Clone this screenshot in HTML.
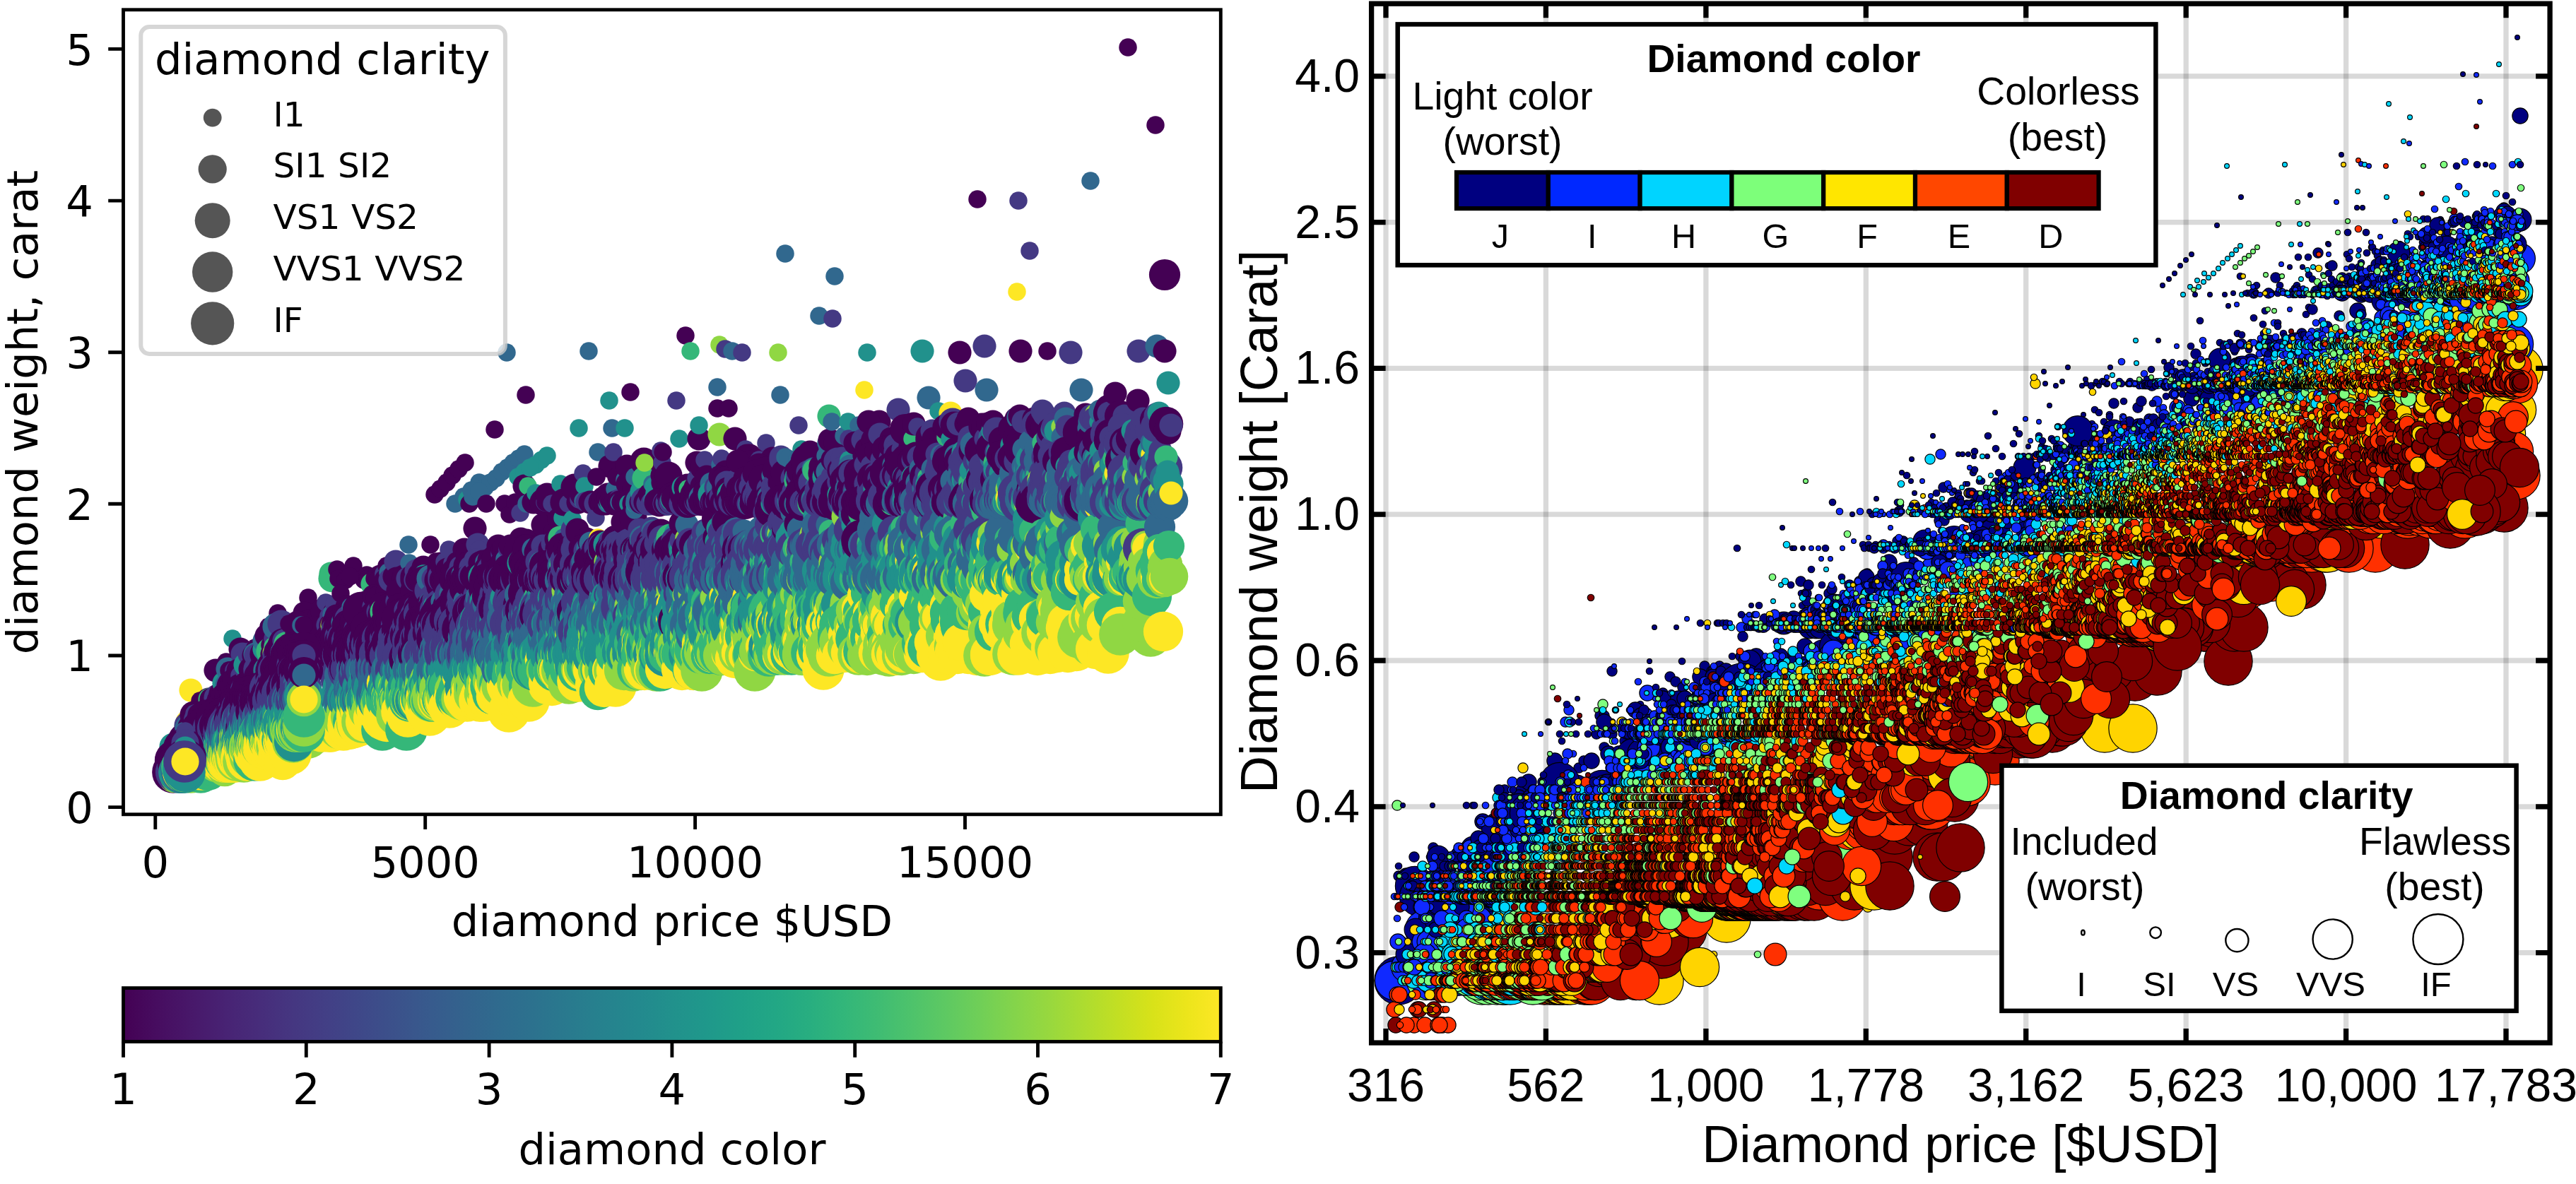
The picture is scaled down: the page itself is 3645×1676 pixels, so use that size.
<!DOCTYPE html>
<html lang="en"><head><meta charset="utf-8"><title>Diamonds: price vs weight</title>
<style>html,body{margin:0;padding:0;background:#fff}svg{display:block}.p path{fill:none;stroke:none}</style></head>
<body>
<svg xmlns="http://www.w3.org/2000/svg" width="3645" height="1676" viewBox="0 0 3645 1676">
<rect width="3645" height="1676" fill="#fff"/>
<defs>
<marker id="l0" markerUnits="userSpaceOnUse" overflow="visible" markerWidth="1" markerHeight="1"><circle r="12.75" fill="#440154"/></marker>
<marker id="l1" markerUnits="userSpaceOnUse" overflow="visible" markerWidth="1" markerHeight="1"><circle r="16.6" fill="#440154"/></marker>
<marker id="l2" markerUnits="userSpaceOnUse" overflow="visible" markerWidth="1" markerHeight="1"><circle r="19.6" fill="#440154"/></marker>
<marker id="l3" markerUnits="userSpaceOnUse" overflow="visible" markerWidth="1" markerHeight="1"><circle r="22.1" fill="#440154"/></marker>
<marker id="l4" markerUnits="userSpaceOnUse" overflow="visible" markerWidth="1" markerHeight="1"><circle r="24.3" fill="#440154"/></marker>
<marker id="l5" markerUnits="userSpaceOnUse" overflow="visible" markerWidth="1" markerHeight="1"><circle r="26.3" fill="#440154"/></marker>
<marker id="l6" markerUnits="userSpaceOnUse" overflow="visible" markerWidth="1" markerHeight="1"><circle r="28.15" fill="#440154"/></marker>
<marker id="l7" markerUnits="userSpaceOnUse" overflow="visible" markerWidth="1" markerHeight="1"><circle r="29.85" fill="#440154"/></marker>
<marker id="l8" markerUnits="userSpaceOnUse" overflow="visible" markerWidth="1" markerHeight="1"><circle r="12.75" fill="#443983"/></marker>
<marker id="l9" markerUnits="userSpaceOnUse" overflow="visible" markerWidth="1" markerHeight="1"><circle r="16.6" fill="#443983"/></marker>
<marker id="l10" markerUnits="userSpaceOnUse" overflow="visible" markerWidth="1" markerHeight="1"><circle r="19.6" fill="#443983"/></marker>
<marker id="l11" markerUnits="userSpaceOnUse" overflow="visible" markerWidth="1" markerHeight="1"><circle r="22.1" fill="#443983"/></marker>
<marker id="l12" markerUnits="userSpaceOnUse" overflow="visible" markerWidth="1" markerHeight="1"><circle r="24.3" fill="#443983"/></marker>
<marker id="l13" markerUnits="userSpaceOnUse" overflow="visible" markerWidth="1" markerHeight="1"><circle r="26.3" fill="#443983"/></marker>
<marker id="l14" markerUnits="userSpaceOnUse" overflow="visible" markerWidth="1" markerHeight="1"><circle r="28.15" fill="#443983"/></marker>
<marker id="l15" markerUnits="userSpaceOnUse" overflow="visible" markerWidth="1" markerHeight="1"><circle r="29.85" fill="#443983"/></marker>
<marker id="l16" markerUnits="userSpaceOnUse" overflow="visible" markerWidth="1" markerHeight="1"><circle r="12.75" fill="#31688e"/></marker>
<marker id="l17" markerUnits="userSpaceOnUse" overflow="visible" markerWidth="1" markerHeight="1"><circle r="16.6" fill="#31688e"/></marker>
<marker id="l18" markerUnits="userSpaceOnUse" overflow="visible" markerWidth="1" markerHeight="1"><circle r="19.6" fill="#31688e"/></marker>
<marker id="l19" markerUnits="userSpaceOnUse" overflow="visible" markerWidth="1" markerHeight="1"><circle r="22.1" fill="#31688e"/></marker>
<marker id="l20" markerUnits="userSpaceOnUse" overflow="visible" markerWidth="1" markerHeight="1"><circle r="24.3" fill="#31688e"/></marker>
<marker id="l21" markerUnits="userSpaceOnUse" overflow="visible" markerWidth="1" markerHeight="1"><circle r="26.3" fill="#31688e"/></marker>
<marker id="l22" markerUnits="userSpaceOnUse" overflow="visible" markerWidth="1" markerHeight="1"><circle r="28.15" fill="#31688e"/></marker>
<marker id="l23" markerUnits="userSpaceOnUse" overflow="visible" markerWidth="1" markerHeight="1"><circle r="29.85" fill="#31688e"/></marker>
<marker id="l24" markerUnits="userSpaceOnUse" overflow="visible" markerWidth="1" markerHeight="1"><circle r="12.75" fill="#21918c"/></marker>
<marker id="l25" markerUnits="userSpaceOnUse" overflow="visible" markerWidth="1" markerHeight="1"><circle r="16.6" fill="#21918c"/></marker>
<marker id="l26" markerUnits="userSpaceOnUse" overflow="visible" markerWidth="1" markerHeight="1"><circle r="19.6" fill="#21918c"/></marker>
<marker id="l27" markerUnits="userSpaceOnUse" overflow="visible" markerWidth="1" markerHeight="1"><circle r="22.1" fill="#21918c"/></marker>
<marker id="l28" markerUnits="userSpaceOnUse" overflow="visible" markerWidth="1" markerHeight="1"><circle r="24.3" fill="#21918c"/></marker>
<marker id="l29" markerUnits="userSpaceOnUse" overflow="visible" markerWidth="1" markerHeight="1"><circle r="26.3" fill="#21918c"/></marker>
<marker id="l30" markerUnits="userSpaceOnUse" overflow="visible" markerWidth="1" markerHeight="1"><circle r="28.15" fill="#21918c"/></marker>
<marker id="l31" markerUnits="userSpaceOnUse" overflow="visible" markerWidth="1" markerHeight="1"><circle r="29.85" fill="#21918c"/></marker>
<marker id="l32" markerUnits="userSpaceOnUse" overflow="visible" markerWidth="1" markerHeight="1"><circle r="12.75" fill="#35b779"/></marker>
<marker id="l33" markerUnits="userSpaceOnUse" overflow="visible" markerWidth="1" markerHeight="1"><circle r="16.6" fill="#35b779"/></marker>
<marker id="l34" markerUnits="userSpaceOnUse" overflow="visible" markerWidth="1" markerHeight="1"><circle r="19.6" fill="#35b779"/></marker>
<marker id="l35" markerUnits="userSpaceOnUse" overflow="visible" markerWidth="1" markerHeight="1"><circle r="22.1" fill="#35b779"/></marker>
<marker id="l36" markerUnits="userSpaceOnUse" overflow="visible" markerWidth="1" markerHeight="1"><circle r="24.3" fill="#35b779"/></marker>
<marker id="l37" markerUnits="userSpaceOnUse" overflow="visible" markerWidth="1" markerHeight="1"><circle r="26.3" fill="#35b779"/></marker>
<marker id="l38" markerUnits="userSpaceOnUse" overflow="visible" markerWidth="1" markerHeight="1"><circle r="28.15" fill="#35b779"/></marker>
<marker id="l39" markerUnits="userSpaceOnUse" overflow="visible" markerWidth="1" markerHeight="1"><circle r="29.85" fill="#35b779"/></marker>
<marker id="l40" markerUnits="userSpaceOnUse" overflow="visible" markerWidth="1" markerHeight="1"><circle r="12.75" fill="#90d743"/></marker>
<marker id="l41" markerUnits="userSpaceOnUse" overflow="visible" markerWidth="1" markerHeight="1"><circle r="16.6" fill="#90d743"/></marker>
<marker id="l42" markerUnits="userSpaceOnUse" overflow="visible" markerWidth="1" markerHeight="1"><circle r="19.6" fill="#90d743"/></marker>
<marker id="l43" markerUnits="userSpaceOnUse" overflow="visible" markerWidth="1" markerHeight="1"><circle r="22.1" fill="#90d743"/></marker>
<marker id="l44" markerUnits="userSpaceOnUse" overflow="visible" markerWidth="1" markerHeight="1"><circle r="24.3" fill="#90d743"/></marker>
<marker id="l45" markerUnits="userSpaceOnUse" overflow="visible" markerWidth="1" markerHeight="1"><circle r="26.3" fill="#90d743"/></marker>
<marker id="l46" markerUnits="userSpaceOnUse" overflow="visible" markerWidth="1" markerHeight="1"><circle r="28.15" fill="#90d743"/></marker>
<marker id="l47" markerUnits="userSpaceOnUse" overflow="visible" markerWidth="1" markerHeight="1"><circle r="29.85" fill="#90d743"/></marker>
<marker id="l48" markerUnits="userSpaceOnUse" overflow="visible" markerWidth="1" markerHeight="1"><circle r="12.75" fill="#fde725"/></marker>
<marker id="l49" markerUnits="userSpaceOnUse" overflow="visible" markerWidth="1" markerHeight="1"><circle r="16.6" fill="#fde725"/></marker>
<marker id="l50" markerUnits="userSpaceOnUse" overflow="visible" markerWidth="1" markerHeight="1"><circle r="19.6" fill="#fde725"/></marker>
<marker id="l51" markerUnits="userSpaceOnUse" overflow="visible" markerWidth="1" markerHeight="1"><circle r="22.1" fill="#fde725"/></marker>
<marker id="l52" markerUnits="userSpaceOnUse" overflow="visible" markerWidth="1" markerHeight="1"><circle r="24.3" fill="#fde725"/></marker>
<marker id="l53" markerUnits="userSpaceOnUse" overflow="visible" markerWidth="1" markerHeight="1"><circle r="26.3" fill="#fde725"/></marker>
<marker id="l54" markerUnits="userSpaceOnUse" overflow="visible" markerWidth="1" markerHeight="1"><circle r="28.15" fill="#fde725"/></marker>
<marker id="l55" markerUnits="userSpaceOnUse" overflow="visible" markerWidth="1" markerHeight="1"><circle r="29.85" fill="#fde725"/></marker>
<marker id="r0" markerUnits="userSpaceOnUse" overflow="visible" markerWidth="1" markerHeight="1"><circle r="3.4" fill="#000080" stroke="#000" stroke-width="1.2"/></marker>
<marker id="r1" markerUnits="userSpaceOnUse" overflow="visible" markerWidth="1" markerHeight="1"><circle r="4.75" fill="#000080" stroke="#000" stroke-width="1.2"/></marker>
<marker id="r2" markerUnits="userSpaceOnUse" overflow="visible" markerWidth="1" markerHeight="1"><circle r="7.15" fill="#000080" stroke="#000" stroke-width="1.2"/></marker>
<marker id="r3" markerUnits="userSpaceOnUse" overflow="visible" markerWidth="1" markerHeight="1"><circle r="11.15" fill="#000080" stroke="#000" stroke-width="1.2"/></marker>
<marker id="r4" markerUnits="userSpaceOnUse" overflow="visible" markerWidth="1" markerHeight="1"><circle r="15.9" fill="#000080" stroke="#000" stroke-width="1.2"/></marker>
<marker id="r5" markerUnits="userSpaceOnUse" overflow="visible" markerWidth="1" markerHeight="1"><circle r="21.4" fill="#000080" stroke="#000" stroke-width="1.2"/></marker>
<marker id="r6" markerUnits="userSpaceOnUse" overflow="visible" markerWidth="1" markerHeight="1"><circle r="27.65" fill="#000080" stroke="#000" stroke-width="1.2"/></marker>
<marker id="r7" markerUnits="userSpaceOnUse" overflow="visible" markerWidth="1" markerHeight="1"><circle r="34.15" fill="#000080" stroke="#000" stroke-width="1.2"/></marker>
<marker id="r8" markerUnits="userSpaceOnUse" overflow="visible" markerWidth="1" markerHeight="1"><circle r="3.4" fill="#1029ff" stroke="#000" stroke-width="1.2"/></marker>
<marker id="r9" markerUnits="userSpaceOnUse" overflow="visible" markerWidth="1" markerHeight="1"><circle r="4.75" fill="#1029ff" stroke="#000" stroke-width="1.2"/></marker>
<marker id="r10" markerUnits="userSpaceOnUse" overflow="visible" markerWidth="1" markerHeight="1"><circle r="7.15" fill="#1029ff" stroke="#000" stroke-width="1.2"/></marker>
<marker id="r11" markerUnits="userSpaceOnUse" overflow="visible" markerWidth="1" markerHeight="1"><circle r="11.15" fill="#1029ff" stroke="#000" stroke-width="1.2"/></marker>
<marker id="r12" markerUnits="userSpaceOnUse" overflow="visible" markerWidth="1" markerHeight="1"><circle r="15.9" fill="#1029ff" stroke="#000" stroke-width="1.2"/></marker>
<marker id="r13" markerUnits="userSpaceOnUse" overflow="visible" markerWidth="1" markerHeight="1"><circle r="21.4" fill="#1029ff" stroke="#000" stroke-width="1.2"/></marker>
<marker id="r14" markerUnits="userSpaceOnUse" overflow="visible" markerWidth="1" markerHeight="1"><circle r="27.65" fill="#1029ff" stroke="#000" stroke-width="1.2"/></marker>
<marker id="r15" markerUnits="userSpaceOnUse" overflow="visible" markerWidth="1" markerHeight="1"><circle r="34.15" fill="#1029ff" stroke="#000" stroke-width="1.2"/></marker>
<marker id="r16" markerUnits="userSpaceOnUse" overflow="visible" markerWidth="1" markerHeight="1"><circle r="3.4" fill="#00d7ff" stroke="#000" stroke-width="1.2"/></marker>
<marker id="r17" markerUnits="userSpaceOnUse" overflow="visible" markerWidth="1" markerHeight="1"><circle r="4.75" fill="#00d7ff" stroke="#000" stroke-width="1.2"/></marker>
<marker id="r18" markerUnits="userSpaceOnUse" overflow="visible" markerWidth="1" markerHeight="1"><circle r="7.15" fill="#00d7ff" stroke="#000" stroke-width="1.2"/></marker>
<marker id="r19" markerUnits="userSpaceOnUse" overflow="visible" markerWidth="1" markerHeight="1"><circle r="11.15" fill="#00d7ff" stroke="#000" stroke-width="1.2"/></marker>
<marker id="r20" markerUnits="userSpaceOnUse" overflow="visible" markerWidth="1" markerHeight="1"><circle r="15.9" fill="#00d7ff" stroke="#000" stroke-width="1.2"/></marker>
<marker id="r21" markerUnits="userSpaceOnUse" overflow="visible" markerWidth="1" markerHeight="1"><circle r="21.4" fill="#00d7ff" stroke="#000" stroke-width="1.2"/></marker>
<marker id="r22" markerUnits="userSpaceOnUse" overflow="visible" markerWidth="1" markerHeight="1"><circle r="27.65" fill="#00d7ff" stroke="#000" stroke-width="1.2"/></marker>
<marker id="r23" markerUnits="userSpaceOnUse" overflow="visible" markerWidth="1" markerHeight="1"><circle r="34.15" fill="#00d7ff" stroke="#000" stroke-width="1.2"/></marker>
<marker id="r24" markerUnits="userSpaceOnUse" overflow="visible" markerWidth="1" markerHeight="1"><circle r="3.4" fill="#7fff7f" stroke="#000" stroke-width="1.2"/></marker>
<marker id="r25" markerUnits="userSpaceOnUse" overflow="visible" markerWidth="1" markerHeight="1"><circle r="4.75" fill="#7fff7f" stroke="#000" stroke-width="1.2"/></marker>
<marker id="r26" markerUnits="userSpaceOnUse" overflow="visible" markerWidth="1" markerHeight="1"><circle r="7.15" fill="#7fff7f" stroke="#000" stroke-width="1.2"/></marker>
<marker id="r27" markerUnits="userSpaceOnUse" overflow="visible" markerWidth="1" markerHeight="1"><circle r="11.15" fill="#7fff7f" stroke="#000" stroke-width="1.2"/></marker>
<marker id="r28" markerUnits="userSpaceOnUse" overflow="visible" markerWidth="1" markerHeight="1"><circle r="15.9" fill="#7fff7f" stroke="#000" stroke-width="1.2"/></marker>
<marker id="r29" markerUnits="userSpaceOnUse" overflow="visible" markerWidth="1" markerHeight="1"><circle r="21.4" fill="#7fff7f" stroke="#000" stroke-width="1.2"/></marker>
<marker id="r30" markerUnits="userSpaceOnUse" overflow="visible" markerWidth="1" markerHeight="1"><circle r="27.65" fill="#7fff7f" stroke="#000" stroke-width="1.2"/></marker>
<marker id="r31" markerUnits="userSpaceOnUse" overflow="visible" markerWidth="1" markerHeight="1"><circle r="34.15" fill="#7fff7f" stroke="#000" stroke-width="1.2"/></marker>
<marker id="r32" markerUnits="userSpaceOnUse" overflow="visible" markerWidth="1" markerHeight="1"><circle r="3.4" fill="#ffd400" stroke="#000" stroke-width="1.2"/></marker>
<marker id="r33" markerUnits="userSpaceOnUse" overflow="visible" markerWidth="1" markerHeight="1"><circle r="4.75" fill="#ffd400" stroke="#000" stroke-width="1.2"/></marker>
<marker id="r34" markerUnits="userSpaceOnUse" overflow="visible" markerWidth="1" markerHeight="1"><circle r="7.15" fill="#ffd400" stroke="#000" stroke-width="1.2"/></marker>
<marker id="r35" markerUnits="userSpaceOnUse" overflow="visible" markerWidth="1" markerHeight="1"><circle r="11.15" fill="#ffd400" stroke="#000" stroke-width="1.2"/></marker>
<marker id="r36" markerUnits="userSpaceOnUse" overflow="visible" markerWidth="1" markerHeight="1"><circle r="15.9" fill="#ffd400" stroke="#000" stroke-width="1.2"/></marker>
<marker id="r37" markerUnits="userSpaceOnUse" overflow="visible" markerWidth="1" markerHeight="1"><circle r="21.4" fill="#ffd400" stroke="#000" stroke-width="1.2"/></marker>
<marker id="r38" markerUnits="userSpaceOnUse" overflow="visible" markerWidth="1" markerHeight="1"><circle r="27.65" fill="#ffd400" stroke="#000" stroke-width="1.2"/></marker>
<marker id="r39" markerUnits="userSpaceOnUse" overflow="visible" markerWidth="1" markerHeight="1"><circle r="34.15" fill="#ffd400" stroke="#000" stroke-width="1.2"/></marker>
<marker id="r40" markerUnits="userSpaceOnUse" overflow="visible" markerWidth="1" markerHeight="1"><circle r="3.4" fill="#ff3000" stroke="#000" stroke-width="1.2"/></marker>
<marker id="r41" markerUnits="userSpaceOnUse" overflow="visible" markerWidth="1" markerHeight="1"><circle r="4.75" fill="#ff3000" stroke="#000" stroke-width="1.2"/></marker>
<marker id="r42" markerUnits="userSpaceOnUse" overflow="visible" markerWidth="1" markerHeight="1"><circle r="7.15" fill="#ff3000" stroke="#000" stroke-width="1.2"/></marker>
<marker id="r43" markerUnits="userSpaceOnUse" overflow="visible" markerWidth="1" markerHeight="1"><circle r="11.15" fill="#ff3000" stroke="#000" stroke-width="1.2"/></marker>
<marker id="r44" markerUnits="userSpaceOnUse" overflow="visible" markerWidth="1" markerHeight="1"><circle r="15.9" fill="#ff3000" stroke="#000" stroke-width="1.2"/></marker>
<marker id="r45" markerUnits="userSpaceOnUse" overflow="visible" markerWidth="1" markerHeight="1"><circle r="21.4" fill="#ff3000" stroke="#000" stroke-width="1.2"/></marker>
<marker id="r46" markerUnits="userSpaceOnUse" overflow="visible" markerWidth="1" markerHeight="1"><circle r="27.65" fill="#ff3000" stroke="#000" stroke-width="1.2"/></marker>
<marker id="r47" markerUnits="userSpaceOnUse" overflow="visible" markerWidth="1" markerHeight="1"><circle r="34.15" fill="#ff3000" stroke="#000" stroke-width="1.2"/></marker>
<marker id="r48" markerUnits="userSpaceOnUse" overflow="visible" markerWidth="1" markerHeight="1"><circle r="3.4" fill="#800000" stroke="#000" stroke-width="1.2"/></marker>
<marker id="r49" markerUnits="userSpaceOnUse" overflow="visible" markerWidth="1" markerHeight="1"><circle r="4.75" fill="#800000" stroke="#000" stroke-width="1.2"/></marker>
<marker id="r50" markerUnits="userSpaceOnUse" overflow="visible" markerWidth="1" markerHeight="1"><circle r="7.15" fill="#800000" stroke="#000" stroke-width="1.2"/></marker>
<marker id="r51" markerUnits="userSpaceOnUse" overflow="visible" markerWidth="1" markerHeight="1"><circle r="11.15" fill="#800000" stroke="#000" stroke-width="1.2"/></marker>
<marker id="r52" markerUnits="userSpaceOnUse" overflow="visible" markerWidth="1" markerHeight="1"><circle r="15.9" fill="#800000" stroke="#000" stroke-width="1.2"/></marker>
<marker id="r53" markerUnits="userSpaceOnUse" overflow="visible" markerWidth="1" markerHeight="1"><circle r="21.4" fill="#800000" stroke="#000" stroke-width="1.2"/></marker>
<marker id="r54" markerUnits="userSpaceOnUse" overflow="visible" markerWidth="1" markerHeight="1"><circle r="27.65" fill="#800000" stroke="#000" stroke-width="1.2"/></marker>
<marker id="r55" markerUnits="userSpaceOnUse" overflow="visible" markerWidth="1" markerHeight="1"><circle r="34.15" fill="#800000" stroke="#000" stroke-width="1.2"/></marker>
<clipPath id="rc"><rect x="1940.6" y="5.2" width="1667.5" height="1470.9"/></clipPath>
</defs>
<style>.l0{marker:url(#l0)}.r0{marker:url(#r0)}.l1{marker:url(#l1)}.r1{marker:url(#r1)}.l2{marker:url(#l2)}.r2{marker:url(#r2)}.l3{marker:url(#l3)}.r3{marker:url(#r3)}.l4{marker:url(#l4)}.r4{marker:url(#r4)}.l5{marker:url(#l5)}.r5{marker:url(#r5)}.l6{marker:url(#l6)}.r6{marker:url(#r6)}.l7{marker:url(#l7)}.r7{marker:url(#r7)}.l8{marker:url(#l8)}.r8{marker:url(#r8)}.l9{marker:url(#l9)}.r9{marker:url(#r9)}.l10{marker:url(#l10)}.r10{marker:url(#r10)}.l11{marker:url(#l11)}.r11{marker:url(#r11)}.l12{marker:url(#l12)}.r12{marker:url(#r12)}.l13{marker:url(#l13)}.r13{marker:url(#r13)}.l14{marker:url(#l14)}.r14{marker:url(#r14)}.l15{marker:url(#l15)}.r15{marker:url(#r15)}.l16{marker:url(#l16)}.r16{marker:url(#r16)}.l17{marker:url(#l17)}.r17{marker:url(#r17)}.l18{marker:url(#l18)}.r18{marker:url(#r18)}.l19{marker:url(#l19)}.r19{marker:url(#r19)}.l20{marker:url(#l20)}.r20{marker:url(#r20)}.l21{marker:url(#l21)}.r21{marker:url(#r21)}.l22{marker:url(#l22)}.r22{marker:url(#r22)}.l23{marker:url(#l23)}.r23{marker:url(#r23)}.l24{marker:url(#l24)}.r24{marker:url(#r24)}.l25{marker:url(#l25)}.r25{marker:url(#r25)}.l26{marker:url(#l26)}.r26{marker:url(#r26)}.l27{marker:url(#l27)}.r27{marker:url(#r27)}.l28{marker:url(#l28)}.r28{marker:url(#r28)}.l29{marker:url(#l29)}.r29{marker:url(#r29)}.l30{marker:url(#l30)}.r30{marker:url(#r30)}.l31{marker:url(#l31)}.r31{marker:url(#r31)}.l32{marker:url(#l32)}.r32{marker:url(#r32)}.l33{marker:url(#l33)}.r33{marker:url(#r33)}.l34{marker:url(#l34)}.r34{marker:url(#r34)}.l35{marker:url(#l35)}.r35{marker:url(#r35)}.l36{marker:url(#l36)}.r36{marker:url(#r36)}.l37{marker:url(#l37)}.r37{marker:url(#r37)}.l38{marker:url(#l38)}.r38{marker:url(#r38)}.l39{marker:url(#l39)}.r39{marker:url(#r39)}.l40{marker:url(#l40)}.r40{marker:url(#r40)}.l41{marker:url(#l41)}.r41{marker:url(#r41)}.l42{marker:url(#l42)}.r42{marker:url(#r42)}.l43{marker:url(#l43)}.r43{marker:url(#r43)}.l44{marker:url(#l44)}.r44{marker:url(#r44)}.l45{marker:url(#l45)}.r45{marker:url(#r45)}.l46{marker:url(#l46)}.r46{marker:url(#r46)}.l47{marker:url(#l47)}.r47{marker:url(#r47)}.l48{marker:url(#l48)}.r48{marker:url(#r48)}.l49{marker:url(#l49)}.r49{marker:url(#r49)}.l50{marker:url(#l50)}.r50{marker:url(#r50)}.l51{marker:url(#l51)}.r51{marker:url(#r51)}.l52{marker:url(#l52)}.r52{marker:url(#r52)}.l53{marker:url(#l53)}.r53{marker:url(#r53)}.l54{marker:url(#l54)}.r54{marker:url(#r54)}.l55{marker:url(#l55)}.r55{marker:url(#r55)}</style>

<g class="p"><path class="l0" d="M320 937l73-69 43-22 17 15 10 15 37-75 15 20 2 28 2-35 1 5 89-48 6-71 2 95 6-103 9-9 8-10 9-9 9-9 42-47 14 105 7 15 8-17 15-152 148-4 78-80 45 103 16 0 352-296 99 215 114-430 39 110"/><path class="l16" d="M578 771l66-58 12-10 22-20 8 7 8-7 8-6 8-9 7-169 0 277 1-114 8-7 8-6 8-6 91-146 13 143 20-34 58 101 91-159 89 11 7-200 48 88 22-56 362-135"/><path class="l1" d="M305 949l3 43 49-45 8 2 7-30 4 26 32-28 23-49 6 11 14-5 5-8 69-45 1 36 64-38 7-3 75-68 73 17 23-22 18 9 77-92 123-5 146 28 226-184 86-2"/><path class="l3" d="M279 1027l41-22 25-21 55-37 15 0 3-2 53-34 19 2 46-9 96-17 138-75 7 7 84-7 285 9 502-432"/><path class="l28" d="M560 949l61-27 89-18 78-17 39-2 187-11 22-4 20 0 64-54 56 3 24 2 22-9 26 7 116-9"/><path class="l24" d="M329 904l332-197 72-32 9-7 16-10 8-7 8-6 45-39 43-39 22 39 77 15 173 15 93-137"/><path class="l47" d="M270 1093l42-15 18-17 4 13 19-19 37 0 8-26 9 13 29 2 16-9 154-45"/><path class="l37" d="M493 1007l34-15 203-53 13-5 1-4 82-4 47 0 111 2 34-43 100-2 40 0"/><path class="l52" d="M578 964l82-4 21 15 326-47 30-11 8 5 45-28 81 6 1-2 50-4 27 8"/><path class="l36" d="M493 969l2 2 336-69 52-2 42 24 139-39 44-9 213-57 29 0 58 0"/><path class="l20" d="M587 919l2 24 80-54 6 13 9 17 32-6 102-32 130-62 202-7 79-34"/><path class="l2" d="M288 1016l68-52 107-66 26-2 47-15 45-24 110-38 16 2 115-28"/><path class="l9" d="M536 872l147-62 65-15 154-22 193-62 271-172 27-49 122 9 96-2"/><path class="l35" d="M805 870l44 19 56 2 100-36 12 13 38-7 94-19 77-28 269 5"/><path class="l17" d="M809 778l446-80 59-135 0 122 49-4 33-129 113 114 21-114 107-62"/><path class="l8" d="M374 926l87-73 275-127 132-86 89-73 173 35 48-151 263-167 16 71"/><path class="l27" d="M904 898l59-45 157-32 91-28 106-20 50 3 12 0 123-65"/><path class="l55" d="M310 1078l1 0 28-6 49-17 68-20 10 0 2-4 0 4"/><path class="l4" d="M331 1012l68-43 61-75 6 17 10 6 42 5 308-73"/><path class="l13" d="M328 1018l49-17 103-39 2-13 31-2 134-45"/><path class="l38" d="M492 992l23 0 3-6 57 6 9-4 4 2"/><path class="l31" d="M321 1055l71-28 26 0 11 6 77-43 14 2"/><path class="l12" d="M553 924l2 2 32-13 55-26 34 9 63-20"/><path class="l19" d="M648 911l124-41 44-9 57-42 158 4 97-15"/><path class="l51" d="M987 889l3 9 434-84 78-28 44 35 9-11"/><path class="l33" d="M468 812l59 15 600-81 10-41 36-116"/><path class="l1" d="M340 919l133-51 65-52 5 3 199-131 247-67 659-124"/><path class="l46" d="M399 1035l173-45 40-11 148-32 55 2"/><path class="l22" d="M332 1027l2 6 65-13 215-92 86-6"/><path class="l44" d="M624 949l232-15 16-32 136 9 243-30"/><path class="l11" d="M731 861l40-40 32-5 211-10 154-95"/><path class="l10" d="M261 1052l88-79 464-180 306-95 290-2"/><path class="l25" d="M1207 700l56 13 42-216 181 186 167-141"/><path class="l5" d="M303 1025l52-35 123-71 0 9"/><path class="l18" d="M601 861l75 0 657-195 128 32"/><path class="l29" d="M723 926l13 15 13-17 197-41"/><path class="l43" d="M797 900l264-11 89-21 243-52"/><path class="l41" d="M1018 615l100 150 197-15 289-77"/><path class="l6" d="M247 1078l2 0 1 0 15-28"/><path class="l0" d="M530 819l1-3 3 5 130-108"/><path class="l16" d="M667 694l2 9 9-7 67 17"/><path class="l21" d="M571 954l55-26 98-9"/><path class="l45" d="M589 992l280-66 95-7"/><path class="l30" d="M365 1025l118-43 331-56"/><path class="l42" d="M909 846l25-4 170-6"/><path class="l15" d="M338 1035l12-4 5-21"/><path class="l14" d="M248 1087l114-77 125-63"/><path class="l7" d="M245 1093l9-17 1 7 1-9 0 2"/><path class="l24" d="M750 662l239-60 339-20"/><path class="l49" d="M265 1022l5-45 1075-392"/><path class="l0" d="M283 992l5 0 400-279"/><path class="l34" d="M470 819l691-33"/><path class="l0" d="M477 806l2 13 10 2 6-5"/><path class="l54" d="M477 1033l122-41"/><path class="l40" d="M1018 488l83 11"/><path class="l8" d="M465 872l78-60 483-318"/><path class="l50" d="M1052 853l50 2"/><path class="l48" d="M1223 552l216-139"/><path class="l39" d="M284 1093l54-38"/><path class="l32" d="M747 688l230-191"/><path class="l1" d="M295 990l460-279 285-90"/><path class="l0" d="M543 819l4-18"/><path class="l16" d="M549 810l487-313"/><path class="l8" d="M1050 499l5 137"/><path class="l1" d="M1057 645l4 0 9 6"/><path class="l8" d="M1074 651l10-24"/><path class="l1" d="M1093 649l0 2"/><path class="l53" d="M635 990"/><path class="l26" d="M245 1057"/><path class="l6" d="M247 1076l12-17"/><path class="l4" d="M249 1070l12-9"/><path class="l7" d="M259 1065l2 5"/><path class="l9" d="M464 885"/><path class="l28" d="M481 971"/><path class="l13" d="M483 949"/><path class="l21" d="M487 973l4-2"/><path class="l23" d="M487 988"/><path class="l43" d="M246 1100"/><path class="l14" d="M248 1093l1 0 1-2 1 0"/><path class="l7" d="M255 1076l2-2 1-2"/><path class="l6" d="M251 1076l0 4"/><path class="l43" d="M249 1100l1 0"/><path class="l31" d="M254 1093l1 0 1 0"/><path class="l10" d="M266 1027"/><path class="l47" d="M481 1031"/><path class="l55" d="M285 1089l201-56"/><path class="l33" d="M297 990"/><path class="l1" d="M299 990l1 0 1 0 1 0 166-105"/><path class="l24" d="M758 698"/><path class="l2" d="M466 902l303-191"/><path class="l3" d="M260 1055"/><path class="l4" d="M470 911"/><path class="l17" d="M473 870"/><path class="l8" d="M473 855l298-144"/><path class="l0" d="M482 840l290-129"/><path class="l1" d="M491 859l283-159"/><path class="l22" d="M487 956"/><path class="l23" d="M256 1089"/><path class="l18" d="M267 1031"/><path class="l3" d="M260 1050l13-19"/><path class="l38" d="M294 1091"/><path class="l39" d="M302 1083"/><path class="l47" d="M308 1078l178-62"/><path class="l31" d="M257 1093l229-101"/><path class="l23" d="M258 1093l230-103 3-17"/><path class="l55" d="M313 1078l2 0"/><path class="l22" d="M490 990l2-11"/><path class="l30" d="M491 988l2-4"/><path class="l29" d="M495 973l2 4"/><path class="l45" d="M487 1016"/><path class="l10" d="M308 988"/><path class="l3" d="M323 990l2-2 2 2 1 0"/><path class="l2" d="M274 1012l38-20 2-4"/><path class="l8" d="M275 1010l506-297"/><path class="l1" d="M312 982l479-247"/><path class="l24" d="M793 685l3 48"/><path class="l41" d="M470 885"/><path class="l1" d="M471 883l2 0 2-7 1-4 3 7 6-9 318-159"/><path class="l12" d="M480 928"/><path class="l5" d="M483 926l1-2"/><path class="l16" d="M260 1035"/><path class="l54" d="M258 1093"/><path class="l39" d="M258 1085"/><path class="l46" d="M490 1007"/><path class="l55" d="M493 1027l1 4 1 0"/><path class="l44" d="M318 1089"/><path class="l55" d="M318 1078l1 0"/><path class="l11" d="M282 1020"/><path class="l6" d="M283 1035l9-6 4 0 4-4 0 6"/><path class="l3" d="M285 1022l10-8 3 0 2-2 11-7"/><path class="l4" d="M297 1016l12-9 0 7"/><path class="l2" d="M287 1014l511-303"/><path class="l1" d="M282 1012l8-5"/><path class="l25" d="M317 967"/><path class="l17" d="M321 969l1-22"/><path class="l4" d="M321 990l10 2 2 0 8-10"/><path class="l3" d="M325 990l5-4 2 2 9-2"/><path class="l0" d="M324 949l1 0 3 0"/><path class="l9" d="M343 926l128-35"/><path class="l1" d="M323 971l13 0 138-84 1 9 2-17"/><path class="l5" d="M290 1027l61-43"/><path class="l8" d="M331 949l473-236"/><path class="l2" d="M327 969l3 2 483-281"/><path class="l1" d="M331 962l6-13"/><path class="l8" d="M339 956l486-286"/><path class="l30" d="M259 1093"/><path class="l31" d="M261 1093"/><path class="l22" d="M491 992"/><path class="l30" d="M493 986l1 4 1 0"/><path class="l54" d="M492 1020"/><path class="l53" d="M493 1012"/><path class="l46" d="M261 1093l235-79"/><path class="l39" d="M319 1076"/><path class="l7" d="M289 1031"/><path class="l3" d="M475 902"/><path class="l2" d="M340 973"/><path class="l1" d="M344 967"/><path class="l31" d="M493 990"/><path class="l30" d="M262 1093"/><path class="l47" d="M321 1078"/><path class="l15" d="M302 1033"/><path class="l14" d="M303 1033"/><path class="l5" d="M261 1061l41-39"/><path class="l6" d="M309 1020l0 5"/><path class="l7" d="M306 1031l1-13"/><path class="l14" d="M307 1031l1 0 1-2"/><path class="l4" d="M262 1061l49-45 1-2 13-4"/><path class="l6" d="M310 1027l8-7"/><path class="l9" d="M476 900"/><path class="l10" d="M479 904"/><path class="l7" d="M318 1016l170-88"/><path class="l2" d="M479 907l2-22"/><path class="l8" d="M345 949"/><path class="l23" d="M496 992"/><path class="l31" d="M497 992l3 0"/><path class="l47" d="M499 1014l0 4"/><path class="l55" d="M322 1078"/><path class="l22" d="M312 1044"/><path class="l6" d="M260 1059l233-131"/><path class="l3" d="M481 913"/><path class="l14" d="M492 949"/><path class="l10" d="M482 902"/><path class="l17" d="M485 881"/><path class="l1" d="M482 900l4-15 1-13"/><path class="l25" d="M347 941"/><path class="l1" d="M355 949l5-2"/><path class="l30" d="M498 992"/><path class="l39" d="M501 1022"/><path class="l31" d="M501 992"/><path class="l22" d="M500 977l2 5"/><path class="l47" d="M322 1076"/><path class="l55" d="M323 1078l1 0"/><path class="l7" d="M314 1035"/><path class="l8" d="M262 1035"/><path class="l6" d="M494 945"/><path class="l20" d="M496 964"/><path class="l3" d="M485 909"/><path class="l2" d="M486 902"/><path class="l4" d="M490 909"/><path class="l10" d="M493 876"/><path class="l2" d="M497 883l1-2"/><path class="l16" d="M496 859"/><path class="l1" d="M518 872l2-11 1 3"/><path class="l9" d="M353 926"/><path class="l1" d="M354 947l5-19"/><path class="l54" d="M501 1031"/><path class="l46" d="M503 990l1 35"/><path class="l45" d="M502 1005"/><path class="l54" d="M504 1014l3 15"/><path class="l22" d="M314 1035"/><path class="l23" d="M317 1044"/><path class="l13" d="M494 947"/><path class="l12" d="M493 928"/><path class="l11" d="M491 907"/><path class="l3" d="M493 885l1 0 0 17 4-4 0 11 0 4 3-4"/><path class="l4" d="M494 915l1 13 1-17 2 8"/><path class="l2" d="M360 949l139-49 1-19"/><path class="l5" d="M497 919l1 7"/><path class="l14" d="M498 949l3-21"/><path class="l5" d="M501 928l1-9 1 7 5-9"/><path class="l21" d="M499 971l3-22"/><path class="l0" d="M361 917"/><path class="l30" d="M504 990"/><path class="l55" d="M507 1025"/><path class="l53" d="M507 1010"/><path class="l7" d="M315 1031"/><path class="l39" d="M318 1055"/><path class="l10" d="M506 891"/><path class="l3" d="M503 913l6-15 1 6 24-19"/><path class="l4" d="M503 917l5-17 1 7"/><path class="l2" d="M509 876l8-6 4 15"/><path class="l1" d="M511 883l1 0"/><path class="l20" d="M498 964"/><path class="l22" d="M503 971"/><path class="l30" d="M503 977l1 0"/><path class="l13" d="M505 945"/><path class="l5" d="M506 949l5-85"/><path class="l17" d="M361 926"/><path class="l9" d="M362 928l6 0 161-69"/><path class="l1" d="M529 844l5 2 12 5"/><path class="l2" d="M531 872l20-34"/><path class="l15" d="M317 1035"/><path class="l6" d="M320 1022l2 0 185-94"/><path class="l7" d="M318 1025l1 0"/><path class="l14" d="M322 1027l4-5"/><path class="l31" d="M319 1057"/><path class="l23" d="M505 979"/><path class="l30" d="M505 986l2 0"/><path class="l8" d="M363 926"/><path class="l10" d="M364 947"/><path class="l3" d="M531 872"/><path class="l9" d="M552 821"/><path class="l1" d="M373 922l185-106 11 3"/><path class="l22" d="M318 1042"/><path class="l31" d="M320 1052l186-60"/><path class="l47" d="M321 1057l189-54"/><path class="l13" d="M326 1018"/><path class="l39" d="M323 1070"/><path class="l7" d="M262 1072"/><path class="l9" d="M262 1055l298-260"/><path class="l1" d="M561 819l10-3 0 3"/><path class="l10" d="M262 1052l0 5"/><path class="l29" d="M506 969"/><path class="l30" d="M319 1044"/><path class="l46" d="M507 992"/><path class="l5" d="M330 1012"/><path class="l55" d="M325 1078"/><path class="l16" d="M579 797"/><path class="l6" d="M262 1074"/><path class="l14" d="M507 958"/><path class="l21" d="M507 949l1-2"/><path class="l13" d="M509 947l0 15"/><path class="l22" d="M320 1035"/><path class="l15" d="M262 1078l60-45 1-4 4-4"/><path class="l23" d="M322 1057l1-22"/><path class="l31" d="M260 1089l64-30 1-9 185-64"/><path class="l15" d="M324 1031l1-2 1 6 0 9"/><path class="l30" d="M508 992"/><path class="l23" d="M327 1044l184-56"/><path class="l11" d="M331 1003"/><path class="l4" d="M335 992l1-2"/><path class="l21" d="M511 943"/><path class="l5" d="M340 992l172-64"/><path class="l25" d="M262 1059"/><path class="l14" d="M325 1027"/><path class="l23" d="M327 1029l1 6"/><path class="l15" d="M261 1078l68-45"/><path class="l14" d="M328 1027l1 2"/><path class="l22" d="M332 1033l180-60"/><path class="l30" d="M513 973l0 15"/><path class="l6" d="M331 1018l180-92"/><path class="l12" d="M512 924l1 2 1 0 1-2"/><path class="l23" d="M330 1035l1-2"/><path class="l15" d="M335 1027l181-78"/><path class="l14" d="M331 1025l5 2"/><path class="l6" d="M335 1016l180-107"/><path class="l13" d="M338 1018l1-15 178-94"/><path class="l3" d="M517 904l5-8 4-13 10 4 2 0"/><path class="l4" d="M517 928l1-13 2-26"/><path class="l47" d="M324 1067"/><path class="l22" d="M325 1052l192-103"/><path class="l15" d="M333 1029l5-13"/><path class="l5" d="M341 1001l3-9"/><path class="l54" d="M510 1007"/><path class="l31" d="M331 1052l180-60"/><path class="l11" d="M348 977"/><path class="l5" d="M355 979l3 7 7-9"/><path class="l3" d="M356 967l4 4 3-2"/><path class="l4" d="M357 973l0 4"/><path class="l50" d="M262 1078"/><path class="l14" d="M335 1022"/><path class="l6" d="M349 992l18-4"/><path class="l19" d="M517 939"/><path class="l12" d="M519 926l1 4 1-2"/><path class="l9" d="M535 866"/><path class="l2" d="M348 971l192-101"/><path class="l55" d="M324 1074"/><path class="l28" d="M518 949"/><path class="l20" d="M519 947l1 2"/><path class="l30" d="M511 992"/><path class="l47" d="M513 1022"/><path class="l10" d="M364 949"/><path class="l2" d="M370 949l2-4 1-19 2 19"/><path class="l3" d="M367 958l4 6 172-88"/><path class="l5" d="M377 967l144-54"/><path class="l13" d="M526 928l1 0 1-6"/><path class="l25" d="M374 919l5 7"/><path class="l1" d="M539 855"/><path class="l39" d="M325 1072"/><path class="l55" d="M326 1076l197-64"/><path class="l47" d="M326 1070l1-5"/><path class="l55" d="M327 1074l2 4 1 0"/><path class="l47" d="M328 1070l1 2"/><path class="l38" d="M513 992"/><path class="l53" d="M515 1005"/><path class="l4" d="M373 967"/><path class="l12" d="M521 913"/><path class="l3" d="M522 911l2-7 3-2"/><path class="l11" d="M521 928"/><path class="l17" d="M374 907"/><path class="l0" d="M380 887l0 17"/><path class="l34" d="M543 866"/><path class="l4" d="M524 902l27-38"/><path class="l30" d="M327 1055"/><path class="l31" d="M329 1052"/><path class="l39" d="M330 1067"/><path class="l55" d="M330 1074l1 2"/><path class="l23" d="M514 990"/><path class="l31" d="M331 1059l185-73 0 4 2 0"/><path class="l26" d="M378 949"/><path class="l1" d="M377 900"/><path class="l2" d="M556 861"/><path class="l3" d="M562 866"/><path class="l12" d="M525 917"/><path class="l47" d="M332 1076"/><path class="l55" d="M332 1065l1 9 0 4"/><path class="l39" d="M332 1050l1 13"/><path class="l47" d="M334 1070l1-3 0 9 1-2"/><path class="l55" d="M337 1074l1-2 1 2 2 2"/><path class="l54" d="M337 1076l180-54"/><path class="l31" d="M333 1055l3-18"/><path class="l55" d="M334 1057l2 8 3 5 1 2"/><path class="l22" d="M336 1033l181-56"/><path class="l30" d="M333 1050l2 5 183-67 2-19"/><path class="l31" d="M335 1055l2 2"/><path class="l53" d="M516 1003"/><path class="l46" d="M517 992"/><path class="l18" d="M379 949"/><path class="l34" d="M382 922"/><path class="l6" d="M531 915"/><path class="l5" d="M534 902"/><path class="l15" d="M338 1029"/><path class="l22" d="M338 1033l1 2 1-8 0 6"/><path class="l29" d="M520 975"/><path class="l13" d="M523 956"/><path class="l21" d="M523 949l3-2"/><path class="l23" d="M337 1048"/><path class="l31" d="M339 1052l1-2"/><path class="l55" d="M337 1065"/><path class="l47" d="M338 1061l1 0 1-2 1 6 0 7"/><path class="l38" d="M518 992"/><path class="l2" d="M381 949"/><path class="l3" d="M385 949"/><path class="l0" d="M382 913"/><path class="l1" d="M385 926"/><path class="l4" d="M387 945"/><path class="l7" d="M342 1014"/><path class="l13" d="M529 941"/><path class="l46" d="M338 1044"/><path class="l31" d="M342 1035l178-45"/><path class="l23" d="M341 1046l2-26"/><path class="l22" d="M342 1029l179-43"/><path class="l47" d="M342 1044l181-39"/><path class="l14" d="M343 1025l1-9"/><path class="l30" d="M343 1035l178-47"/><path class="l31" d="M345 1035l178-43"/><path class="l23" d="M346 1029l1 2"/><path class="l38" d="M525 992l1-8"/><path class="l46" d="M525 1007l1 3"/><path class="l55" d="M342 1074l191-49 7 0"/><path class="l39" d="M341 1055"/><path class="l8" d="M386 904"/><path class="l41" d="M388 924"/><path class="l6" d="M531 926"/><path class="l12" d="M344 1012l192-108"/><path class="l5" d="M533 926"/><path class="l13" d="M349 1007l185-81"/><path class="l12" d="M538 915l1 9"/><path class="l36" d="M521 977"/><path class="l22" d="M344 1029"/><path class="l45" d="M526 990"/><path class="l54" d="M528 1016"/><path class="l47" d="M342 1055"/><path class="l31" d="M343 1048l0 11"/><path class="l23" d="M346 1035l181-66"/><path class="l30" d="M347 1033l181-56 1 9"/><path class="l29" d="M527 971l2 4 2-8"/><path class="l7" d="M349 1031l5-45"/><path class="l46" d="M530 990l0 9"/><path class="l55" d="M343 1067l1 3"/><path class="l47" d="M345 1052l0 26 2-13"/><path class="l31" d="M346 1050l4-13 1-2 182-56"/><path class="l55" d="M346 1057l2 10"/><path class="l39" d="M347 1055l194-22"/><path class="l55" d="M348 1059l1 8"/><path class="l31" d="M348 1050l1-4"/><path class="l47" d="M349 1057l1 6"/><path class="l55" d="M350 1076l3-4"/><path class="l32" d="M386 915"/><path class="l18" d="M391 887"/><path class="l9" d="M388 928"/><path class="l1" d="M390 922l1 6 1-9 0 9 3-15"/><path class="l11" d="M536 907"/><path class="l4" d="M543 904l4-19"/><path class="l5" d="M351 992l191-92"/><path class="l14" d="M348 1018"/><path class="l13" d="M529 949"/><path class="l21" d="M532 943l0 13 2-7"/><path class="l13" d="M535 926l0 21 2-23 2 0"/><path class="l22" d="M350 1014l188-65"/><path class="l38" d="M531 992"/><path class="l31" d="M350 1055l182-71"/><path class="l47" d="M351 1055l1 6"/><path class="l10" d="M398 883"/><path class="l2" d="M400 909l1 15"/><path class="l0" d="M412 883l4 0"/><path class="l3" d="M544 894"/><path class="l12" d="M540 928"/><path class="l21" d="M539 949"/><path class="l6" d="M544 915"/><path class="l4" d="M545 909"/><path class="l5" d="M351 1007"/><path class="l13" d="M355 1001l0 17 189-84"/><path class="l15" d="M351 1025l4-13"/><path class="l22" d="M352 1027l183-58"/><path class="l30" d="M351 1033l0 11"/><path class="l31" d="M352 1055l2-28"/><path class="l6" d="M362 990l1 2"/><path class="l39" d="M353 1061l1-9"/><path class="l54" d="M533 1007"/><path class="l55" d="M542 1018"/><path class="l23" d="M534 984"/><path class="l1" d="M421 881"/><path class="l11" d="M545 904"/><path class="l5" d="M355 988"/><path class="l7" d="M361 990"/><path class="l13" d="M540 947"/><path class="l22" d="M353 1035l195-86"/><path class="l21" d="M543 947l2 2"/><path class="l15" d="M355 1020"/><path class="l14" d="M355 1018"/><path class="l22" d="M357 1020l3-2"/><path class="l46" d="M353 1072"/><path class="l47" d="M354 1063"/><path class="l31" d="M536 992"/><path class="l4" d="M548 891"/><path class="l3" d="M557 883"/><path class="l6" d="M545 926"/><path class="l38" d="M354 1035"/><path class="l46" d="M356 1044l181-52"/><path class="l30" d="M355 1035l1-2"/><path class="l23" d="M357 1029l1 4 179-54"/><path class="l22" d="M359 1025l189-84"/><path class="l7" d="M364 990"/><path class="l55" d="M354 1061"/><path class="l47" d="M354 1057l1-2 1 4"/><path class="l39" d="M357 1055l3 21"/><path class="l12" d="M549 907"/><path class="l14" d="M548 922"/><path class="l6" d="M556 885l5-11"/><path class="l31" d="M359 1033"/><path class="l22" d="M360 1027l0 4"/><path class="l29" d="M538 977"/><path class="l38" d="M538 988"/><path class="l30" d="M361 1029l179-45"/><path class="l55" d="M358 1057"/><path class="l4" d="M556 881"/><path class="l5" d="M551 913"/><path class="l3" d="M555 902"/><path class="l9" d="M562 851"/><path class="l2" d="M567 857l4-2 10-13"/><path class="l1" d="M563 836l0 21"/><path class="l7" d="M363 1007"/><path class="l31" d="M539 992"/><path class="l47" d="M358 1050l182-53"/><path class="l38" d="M359 1044l185-52"/><path class="l39" d="M359 1057l183-67"/><path class="l47" d="M360 1050l0 9"/><path class="l55" d="M361 1067l183-57 2 0"/><path class="l31" d="M361 1044l2-9"/><path class="l22" d="M363 1027l2-9"/><path class="l11" d="M561 885"/><path class="l3" d="M572 868"/><path class="l9" d="M577 819"/><path class="l8" d="M577 819"/><path class="l1" d="M583 816l0 5"/><path class="l13" d="M364 992"/><path class="l37" d="M542 979"/><path class="l54" d="M547 1022"/><path class="l46" d="M545 990"/><path class="l47" d="M361 1055"/><path class="l23" d="M365 1029"/><path class="l30" d="M367 1018l179-32"/><path class="l31" d="M362 1052l5-23"/><path class="l47" d="M363 1050l0 9 1 0 1-2"/><path class="l22" d="M367 1027l2-7 174-56"/><path class="l55" d="M366 1072l1-2 1 6"/><path class="l52" d="M543 967l2-3"/><path class="l4" d="M570 872"/><path class="l9" d="M589 808"/><path class="l7" d="M370 984"/><path class="l6" d="M370 979"/><path class="l15" d="M368 1005"/><path class="l7" d="M368 992l3 0 1 5"/><path class="l6" d="M373 997l1-9 6-11"/><path class="l22" d="M370 1018l1-4"/><path class="l14" d="M374 1007l175-60"/><path class="l21" d="M376 1016l1-2"/><path class="l39" d="M548 992"/><path class="l38" d="M548 992"/><path class="l31" d="M364 1048"/><path class="l37" d="M546 975"/><path class="l29" d="M549 962l2-2"/><path class="l11" d="M384 971"/><path class="l6" d="M376 990"/><path class="l7" d="M549 926"/><path class="l13" d="M549 928l2 0"/><path class="l54" d="M551 1012"/><path class="l38" d="M365 1040l188-45"/><path class="l55" d="M365 1052"/><path class="l31" d="M550 977"/><path class="l39" d="M366 1052l185-60"/><path class="l38" d="M366 1048l185-69"/><path class="l14" d="M378 992"/><path class="l12" d="M552 924"/><path class="l22" d="M553 949"/><path class="l30" d="M368 1035"/><path class="l47" d="M367 1052"/><path class="l31" d="M553 984"/><path class="l46" d="M553 986l0 2"/><path class="l38" d="M369 1033l186-45"/><path class="l39" d="M554 992l4-13"/><path class="l7" d="M380 990"/><path class="l6" d="M554 909"/><path class="l12" d="M554 926l4-13 1-4 5-5 1 0"/><path class="l11" d="M381 971l176-69 4-6"/><path class="l4" d="M564 891l9-15 5 7"/><path class="l20" d="M555 928l1-2"/><path class="l14" d="M381 975l189-51"/><path class="l13" d="M562 913l6 4"/><path class="l3" d="M565 898l5-22"/><path class="l28" d="M553 943"/><path class="l21" d="M556 939l0 8"/><path class="l13" d="M560 928l6-15"/><path class="l14" d="M567 926l2 2"/><path class="l55" d="M368 1055"/><path class="l22" d="M555 962"/><path class="l14" d="M559 949l6-17"/><path class="l31" d="M371 1035"/><path class="l54" d="M556 992"/><path class="l38" d="M558 990l1-2 0 7"/><path class="l39" d="M369 1057l189-65"/><path class="l47" d="M370 1044l0 8 192-60 0 20"/><path class="l46" d="M371 1042l188-67"/><path class="l6" d="M568 876"/><path class="l12" d="M557 924"/><path class="l5" d="M381 984"/><path class="l2" d="M381 958"/><path class="l15" d="M564 926"/><path class="l4" d="M568 909l1 0"/><path class="l29" d="M556 967"/><path class="l55" d="M370 1063"/><path class="l31" d="M372 1033"/><path class="l38" d="M373 1031l186-62"/><path class="l9" d="M574 864"/><path class="l11" d="M383 969"/><path class="l5" d="M386 979l4-10 182-67"/><path class="l14" d="M563 943l13-34 3 13"/><path class="l12" d="M389 949"/><path class="l3" d="M390 947l2 2 2 0 13 0 1 0"/><path class="l2" d="M396 932l2-8 2 8 186-96"/><path class="l9" d="M402 907l186-86"/><path class="l1" d="M585 855l5-34 2 0 1-7 1 7 1-2 4-16 2 35"/><path class="l47" d="M371 1057"/><path class="l31" d="M374 1044l1-9"/><path class="l23" d="M375 1025"/><path class="l22" d="M376 1020"/><path class="l45" d="M561 973"/><path class="l37" d="M561 979l4-15"/><path class="l11" d="M573 896"/><path class="l13" d="M580 919"/><path class="l21" d="M564 949"/><path class="l4" d="M399 949"/><path class="l18" d="M402 924"/><path class="l2" d="M402 926l2 2"/><path class="l33" d="M404 911"/><path class="l1" d="M406 922l3-9 0 2 2 2 9-21 4 8 2 0"/><path class="l2" d="M406 919l4 7 7-13 1 13 1-13 4 2"/><path class="l0" d="M409 883"/><path class="l24" d="M599 812"/><path class="l2" d="M599 821l7-2"/><path class="l55" d="M373 1059"/><path class="l30" d="M379 1018"/><path class="l22" d="M381 1016l186-67"/><path class="l36" d="M562 969"/><path class="l38" d="M562 988"/><path class="l47" d="M373 1055l190-54"/><path class="l55" d="M374 1059l1-9 0 7 1-2 3 6"/><path class="l29" d="M565 975l1-6"/><path class="l16" d="M426 885"/><path class="l17" d="M612 816"/><path class="l15" d="M381 999"/><path class="l30" d="M569 949"/><path class="l14" d="M575 919"/><path class="l53" d="M563 988"/><path class="l31" d="M376 1035"/><path class="l0" d="M430 885"/><path class="l7" d="M382 992"/><path class="l6" d="M384 990"/><path class="l15" d="M390 982l181-54"/><path class="l4" d="M398 964l2-2 2-13"/><path class="l13" d="M574 928"/><path class="l39" d="M566 992"/><path class="l38" d="M567 988"/><path class="l47" d="M378 1050l190-58"/><path class="l46" d="M566 992l2 0"/><path class="l54" d="M379 1057l1-5"/><path class="l23" d="M377 1031"/><path class="l14" d="M385 992"/><path class="l5" d="M578 900"/><path class="l30" d="M569 969"/><path class="l55" d="M378 1057"/><path class="l38" d="M569 990"/><path class="l46" d="M380 1050l192-64"/><path class="l55" d="M385 1055l184-48"/><path class="l54" d="M382 1052l193-45"/><path class="l39" d="M383 1046l192-13"/><path class="l31" d="M378 1029"/><path class="l12" d="M579 885"/><path class="l4" d="M580 900l1-24 2 0 0 7"/><path class="l12" d="M583 894l1 6"/><path class="l37" d="M570 971"/><path class="l45" d="M571 969l0 10 3-8"/><path class="l46" d="M573 992"/><path class="l38" d="M575 990l1 2 1-2"/><path class="l39" d="M378 1033l197-45"/><path class="l3" d="M584 861"/><path class="l11" d="M583 881"/><path class="l22" d="M572 949"/><path class="l29" d="M574 947l1-2"/><path class="l37" d="M572 979"/><path class="l31" d="M379 1029"/><path class="l39" d="M379 1035l2 5"/><path class="l31" d="M381 1029l1-7 0 13 1-2 1 0"/><path class="l55" d="M384 1048l193-34"/><path class="l31" d="M385 1035l1 0 1 0"/><path class="l22" d="M383 1016l194-67"/><path class="l23" d="M385 1014l0 6"/><path class="l47" d="M385 1050l3 2"/><path class="l31" d="M386 1020l0 11 2 4"/><path class="l29" d="M578 949l1 0"/><path class="l15" d="M387 992l2 0"/><path class="l7" d="M391 984l1 2 188-54"/><path class="l13" d="M390 999l3-7 4-2"/><path class="l30" d="M577 971l6-22"/><path class="l47" d="M389 1033l191-45"/><path class="l10" d="M586 870"/><path class="l3" d="M586 879l4 0"/><path class="l4" d="M590 879l5 6"/><path class="l9" d="M588 859"/><path class="l2" d="M596 853l0 4"/><path class="l46" d="M578 988"/><path class="l37" d="M579 973l3 4"/><path class="l39" d="M580 992l2-8"/><path class="l54" d="M388 1057l193-65"/><path class="l55" d="M387 1061"/><path class="l23" d="M388 1020"/><path class="l30" d="M391 1016l1 6"/><path class="l5" d="M396 962"/><path class="l15" d="M393 990"/><path class="l22" d="M394 1010l190-61"/><path class="l14" d="M396 990l187-83"/><path class="l28" d="M585 949l1 0"/><path class="l5" d="M590 885l1 15"/><path class="l21" d="M581 926"/><path class="l14" d="M583 922l2 4"/><path class="l6" d="M394 969l192-60"/><path class="l14" d="M398 982l1 2 2-2 0 4"/><path class="l13" d="M403 971l189-67"/><path class="l3" d="M409 949l184-85"/><path class="l4" d="M404 967l189-86"/><path class="l46" d="M581 990"/><path class="l47" d="M389 1052"/><path class="l55" d="M390 1042l0 10 1 5"/><path class="l29" d="M586 964"/><path class="l15" d="M587 928"/><path class="l12" d="M588 913"/><path class="l5" d="M406 945"/><path class="l10" d="M411 941l183-71"/><path class="l4" d="M417 926l7 0 6-7"/><path class="l3" d="M424 926l2 2"/><path class="l11" d="M593 870"/><path class="l39" d="M583 990"/><path class="l31" d="M390 1029l195-39"/><path class="l47" d="M392 1057"/><path class="l55" d="M395 1055l0 15 4 0"/><path class="l20" d="M586 956"/><path class="l22" d="M588 937"/><path class="l29" d="M585 973l4-24"/><path class="l38" d="M585 988l2-2 3-15"/><path class="l5" d="M599 879"/><path class="l3" d="M600 857"/><path class="l2" d="M601 853"/><path class="l39" d="M392 1033"/><path class="l54" d="M392 1048"/><path class="l53" d="M400 1078"/><path class="l6" d="M591 926"/><path class="l46" d="M586 992"/><path class="l47" d="M588 992"/><path class="l31" d="M393 1033l196-41"/><path class="l38" d="M393 1029l199-54"/><path class="l29" d="M591 960"/><path class="l10" d="M606 836"/><path class="l13" d="M592 919"/><path class="l47" d="M394 1035"/><path class="l31" d="M395 1031l1-13"/><path class="l46" d="M395 1033l196-43"/><path class="l23" d="M398 1018l1-2"/><path class="l21" d="M591 949"/><path class="l30" d="M593 971l1-24"/><path class="l22" d="M398 1010l197-67"/><path class="l31" d="M397 1031l3-19"/><path class="l47" d="M396 1042l2-7"/><path class="l39" d="M399 1035l194-43"/><path class="l46" d="M400 1020l1 0"/><path class="l2" d="M608 857"/><path class="l18" d="M609 819"/><path class="l9" d="M610 844l3-25 3 23"/><path class="l7" d="M595 926"/><path class="l6" d="M596 904"/><path class="l14" d="M402 992l196-96"/><path class="l6" d="M405 977l195-94 0 15"/><path class="l5" d="M598 904l2-10 6-20"/><path class="l21" d="M404 992l193-64"/><path class="l38" d="M596 977"/><path class="l55" d="M397 1048"/><path class="l31" d="M400 1029"/><path class="l39" d="M400 1048l1-19 1 2"/><path class="l55" d="M402 1052l1-15"/><path class="l31" d="M402 1022l1 7 1-2 2-7"/><path class="l54" d="M594 992"/><path class="l38" d="M402 1048l196-62"/><path class="l55" d="M404 1048l3 7"/><path class="l1" d="M621 808"/><path class="l2" d="M624 801"/><path class="l22" d="M596 928"/><path class="l13" d="M598 924l0 4 2-6 1 2 5-9"/><path class="l4" d="M602 885"/><path class="l12" d="M606 879l0 15"/><path class="l18" d="M612 855"/><path class="l30" d="M405 1012"/><path class="l14" d="M410 995l195-91"/><path class="l6" d="M407 977"/><path class="l14" d="M410 984l0 6"/><path class="l45" d="M596 971"/><path class="l47" d="M406 1033"/><path class="l39" d="M597 988"/><path class="l46" d="M404 1040l194-48 1-2"/><path class="l54" d="M405 1055"/><path class="l11" d="M603 885"/><path class="l2" d="M613 855"/><path class="l38" d="M406 1020"/><path class="l31" d="M408 1022l1-6"/><path class="l15" d="M409 992"/><path class="l13" d="M408 971"/><path class="l29" d="M597 967"/><path class="l45" d="M598 977"/><path class="l47" d="M601 990"/><path class="l39" d="M407 1035"/><path class="l55" d="M408 1046l3 21"/><path class="l5" d="M608 876"/><path class="l3" d="M610 866"/><path class="l10" d="M617 849"/><path class="l6" d="M412 969"/><path class="l12" d="M413 969l205-105"/><path class="l4" d="M413 964l2-15"/><path class="l23" d="M597 949"/><path class="l36" d="M597 947l0 17"/><path class="l31" d="M408 1033"/><path class="l38" d="M408 1027l1 4 1-4"/><path class="l39" d="M410 1022l1 13 1-6"/><path class="l47" d="M412 1033l1 0 2 17"/><path class="l1" d="M620 831"/><path class="l2" d="M620 821"/><path class="l14" d="M412 984"/><path class="l21" d="M412 988l0 4"/><path class="l26" d="M618 859"/><path class="l10" d="M622 853l3-37"/><path class="l3" d="M619 866l4-5"/><path class="l11" d="M415 949"/><path class="l4" d="M418 949l1 0 6-6"/><path class="l13" d="M599 928"/><path class="l15" d="M605 928"/><path class="l45" d="M599 971"/><path class="l31" d="M412 1012l190-30"/><path class="l29" d="M600 949"/><path class="l22" d="M412 992l193-47"/><path class="l21" d="M601 949l5-21"/><path class="l37" d="M413 1010l191-43"/><path class="l14" d="M415 990l195-64"/><path class="l30" d="M419 1012l1 0"/><path class="l9" d="M622 821"/><path class="l2" d="M619 861l8-40 4 8 4-8"/><path class="l1" d="M625 801l2 20"/><path class="l8" d="M629 795l6-17"/><path class="l3" d="M427 928l208-107"/><path class="l5" d="M610 896"/><path class="l13" d="M607 924l7-39"/><path class="l46" d="M412 1029"/><path class="l47" d="M603 992"/><path class="l20" d="M607 949"/><path class="l29" d="M413 1001"/><path class="l22" d="M416 992l194-58"/><path class="l14" d="M612 928l5-24"/><path class="l15" d="M616 924l1-5"/><path class="l17" d="M628 851"/><path class="l1" d="M633 806"/><path class="l12" d="M611 889"/><path class="l3" d="M619 870l2 4 3-8"/><path class="l39" d="M414 1031"/><path class="l30" d="M416 1025l3-9 2-4"/><path class="l31" d="M416 1027l2-13"/><path class="l54" d="M603 984"/><path class="l55" d="M603 1005"/><path class="l47" d="M415 1035l191-43"/><path class="l21" d="M416 992"/><path class="l6" d="M419 971"/><path class="l12" d="M420 960l4 7"/><path class="l4" d="M421 949l2 0 1 5 190-71"/><path class="l8" d="M640 797"/><path class="l1" d="M648 797l9-19"/><path class="l17" d="M629 849"/><path class="l38" d="M604 971"/><path class="l46" d="M604 992"/><path class="l30" d="M416 1050"/><path class="l31" d="M419 1020"/><path class="l15" d="M420 992"/><path class="l3" d="M429 949"/><path class="l19" d="M614 887"/><path class="l13" d="M615 900"/><path class="l2" d="M647 816"/><path class="l45" d="M604 979"/><path class="l44" d="M605 960"/><path class="l30" d="M421 986l186-15 6-22"/><path class="l14" d="M422 984l3-2"/><path class="l55" d="M608 1012"/><path class="l39" d="M417 1035l191-45"/><path class="l47" d="M417 1033l1 2 192-43 1 0"/><path class="l5" d="M619 874"/><path class="l29" d="M614 945"/><path class="l22" d="M422 992l196-45"/><path class="l13" d="M422 971"/><path class="l38" d="M609 973"/><path class="l37" d="M609 967"/><path class="l30" d="M614 964l0 7"/><path class="l15" d="M614 924"/><path class="l46" d="M610 986"/><path class="l39" d="M418 1033l194-41"/><path class="l46" d="M419 1029l0 6 193-45"/><path class="l47" d="M613 982l2 8 2 2"/><path class="l17" d="M626 851"/><path class="l20" d="M425 969"/><path class="l29" d="M610 956"/><path class="l22" d="M617 922"/><path class="l31" d="M421 1018"/><path class="l54" d="M419 1033"/><path class="l38" d="M420 1029l2-9"/><path class="l2" d="M632 857"/><path class="l46" d="M614 977"/><path class="l38" d="M616 975l1 7"/><path class="l47" d="M422 1035l196-45"/><path class="l15" d="M618 928"/><path class="l21" d="M618 928l1-4"/><path class="l14" d="M423 992"/><path class="l30" d="M423 1020l4-10 2 2"/><path class="l11" d="M637 842"/><path class="l39" d="M423 1035"/><path class="l47" d="M423 1031l2 4"/><path class="l54" d="M619 992"/><path class="l31" d="M619 967"/><path class="l7" d="M619 904"/><path class="l12" d="M619 885l1 11"/><path class="l3" d="M630 870l15-58"/><path class="l23" d="M619 949"/><path class="l38" d="M425 1020l195-56"/><path class="l30" d="M428 1014l193-65"/><path class="l13" d="M620 928"/><path class="l22" d="M425 992"/><path class="l2" d="M637 861"/><path class="l17" d="M638 840"/><path class="l2" d="M641 821l7 0"/><path class="l39" d="M426 1029"/><path class="l47" d="M622 990"/><path class="l54" d="M428 1022l195-32"/><path class="l46" d="M426 1035l199-45"/><path class="l21" d="M620 919"/><path class="l4" d="M627 874"/><path class="l6" d="M625 885"/><path class="l13" d="M621 924l7-39"/><path class="l23" d="M622 943l1 6"/><path class="l3" d="M637 861l7-12"/><path class="l12" d="M629 889l1-4"/><path class="l20" d="M622 915l2-4"/><path class="l12" d="M627 896l3 2 5 2 0 4"/><path class="l4" d="M635 866l2 8"/><path class="l45" d="M620 973"/><path class="l15" d="M426 984"/><path class="l21" d="M429 973l194-45"/><path class="l1" d="M644 829"/><path class="l10" d="M650 816"/><path class="l9" d="M652 803"/><path class="l2" d="M650 819l14-33"/><path class="l31" d="M427 1031"/><path class="l11" d="M630 894"/><path class="l47" d="M623 977"/><path class="l54" d="M427 1033l198-47"/><path class="l46" d="M427 1029l199-54"/><path class="l14" d="M627 896"/><path class="l29" d="M624 949"/><path class="l36" d="M624 947l1 2"/><path class="l22" d="M427 990"/><path class="l6" d="M429 949"/><path class="l11" d="M430 949l0 22"/><path class="l3" d="M430 928l225-109"/><path class="l28" d="M623 926"/><path class="l1" d="M665 797"/><path class="l9" d="M430 928l246-157"/><path class="l31" d="M429 1029"/><path class="l39" d="M430 1035l197-45"/><path class="l30" d="M630 967"/><path class="l5" d="M634 876"/><path class="l29" d="M628 947"/><path class="l15" d="M428 992"/><path class="l22" d="M429 990l202-41"/><path class="l12" d="M430 971"/><path class="l18" d="M658 814"/><path class="l2" d="M661 801l1 11"/><path class="l21" d="M626 926"/><path class="l15" d="M630 922l1 2 5 2"/><path class="l14" d="M629 926l4-17"/><path class="l8" d="M678 778"/><path class="l47" d="M430 1027"/><path class="l54" d="M628 992"/><path class="l23" d="M429 990"/><path class="l30" d="M430 986l203-37"/><path class="l29" d="M633 947"/><path class="l6" d="M641 881"/><path class="l1" d="M705 773"/><path class="l47" d="M629 988"/><path class="l19" d="M430 979"/><path class="l39" d="M430 1014"/><path class="l15" d="M633 926"/><path class="l14" d="M642 879"/><path class="l11" d="M644 866"/><path class="l4" d="M642 885l5-28"/><path class="l38" d="M630 973"/><path class="l54" d="M630 992"/><path class="l44" d="M430 990"/><path class="l21" d="M634 917"/><path class="l10" d="M652 844"/><path class="l11" d="M653 859"/><path class="l46" d="M632 969"/><path class="l47" d="M633 984"/><path class="l3" d="M430 952"/><path class="l14" d="M637 917"/><path class="l13" d="M646 900"/><path class="l39" d="M634 971"/><path class="l38" d="M634 977"/><path class="l54" d="M645 990"/><path class="l17" d="M430 956"/><path class="l31" d="M637 949"/><path class="l30" d="M634 971"/><path class="l50" d="M430 990"/><path class="l22" d="M638 928"/><path class="l15" d="M640 911l0 13"/><path class="l38" d="M635 971"/><path class="l30" d="M639 949"/><path class="l14" d="M641 907"/><path class="l13" d="M644 911"/><path class="l21" d="M641 928"/><path class="l55" d="M636 1001"/><path class="l39" d="M640 967"/><path class="l29" d="M644 928l1 21 1-2"/><path class="l30" d="M643 947l9-2"/><path class="l38" d="M640 977"/><path class="l45" d="M641 977l4-8 1 2"/><path class="l54" d="M642 988l1 0 1 2"/><path class="l5" d="M644 889"/><path class="l13" d="M644 902l3-4 2-17"/><path class="l12" d="M644 883l2-2 1 6"/><path class="l28" d="M641 924"/><path class="l14" d="M647 926l5-41"/><path class="l46" d="M645 975"/><path class="l19" d="M647 904"/><path class="l15" d="M648 924"/><path class="l4" d="M655 864"/><path class="l12" d="M649 894l8-39"/><path class="l39" d="M646 988"/><path class="l30" d="M650 949"/><path class="l29" d="M648 926"/><path class="l21" d="M649 926l1 0"/><path class="l22" d="M652 934l1-6"/><path class="l27" d="M649 909"/><path class="l20" d="M650 917"/><path class="l11" d="M657 853"/><path class="l3" d="M658 834l1-13"/><path class="l54" d="M648 992"/><path class="l39" d="M648 986l1 0"/><path class="l13" d="M653 915"/><path class="l1" d="M670 829"/><path class="l17" d="M658 851"/><path class="l54" d="M650 986"/><path class="l39" d="M650 977l2 11"/><path class="l22" d="M654 926"/><path class="l13" d="M655 928l10-64"/><path class="l7" d="M655 891"/><path class="l21" d="M656 926l1-7 3-17"/><path class="l4" d="M664 821"/><path class="l9" d="M666 803l0 46"/><path class="l53" d="M652 958"/><path class="l30" d="M653 949l3 0 1-6 0 30 4-24"/><path class="l47" d="M654 990"/><path class="l54" d="M656 988l6 4"/><path class="l12" d="M659 876"/><path class="l13" d="M661 915"/><path class="l4" d="M668 821"/><path class="l23" d="M661 934"/><path class="l30" d="M658 975l5-26"/><path class="l6" d="M662 889"/><path class="l12" d="M662 900l1-21 0 12 3-8 2 4"/><path class="l13" d="M662 889l0 9 3-2"/><path class="l10" d="M668 814"/><path class="l2" d="M670 816l3 0 6 3 3-5"/><path class="l9" d="M672 842l1-49"/><path class="l1" d="M679 797l2 0 2-2 2 11"/><path class="l15" d="M662 926"/><path class="l21" d="M663 922l0 4 1-2 2-20 0 24 1 0"/><path class="l22" d="M664 939l4-20"/><path class="l30" d="M665 945l2 4"/><path class="l55" d="M661 992"/><path class="l54" d="M662 990"/><path class="l38" d="M665 979l3-30"/><path class="l6" d="M668 868"/><path class="l4" d="M668 881"/><path class="l11" d="M669 861l2 11"/><path class="l4" d="M672 861l4-2"/><path class="l20" d="M667 902"/><path class="l17" d="M678 836"/><path class="l3" d="M676 819"/><path class="l16" d="M685 795"/><path class="l22" d="M669 924"/><path class="l29" d="M670 926l1 23"/><path class="l46" d="M666 971"/><path class="l54" d="M666 988l1-9"/><path class="l30" d="M669 947l1 2"/><path class="l23" d="M674 928l1-2"/><path class="l13" d="M671 885"/><path class="l10" d="M676 855"/><path class="l11" d="M677 868"/><path class="l26" d="M682 816"/><path class="l2" d="M686 814l4-8 11 13"/><path class="l1" d="M692 793"/><path class="l9" d="M691 806l2-3"/><path class="l22" d="M675 926"/><path class="l45" d="M668 971"/><path class="l47" d="M672 982"/><path class="l37" d="M673 949"/><path class="l20" d="M671 891"/><path class="l19" d="M671 883"/><path class="l27" d="M673 876"/><path class="l12" d="M675 883l2-7"/><path class="l13" d="M680 883l1 0"/><path class="l18" d="M678 846"/><path class="l3" d="M686 821l3-2 6-3"/><path class="l2" d="M702 816"/><path class="l4" d="M705 793"/><path class="l38" d="M673 973"/><path class="l14" d="M673 907"/><path class="l22" d="M673 922l2 2 1 2 2-13 2 2 2 13"/><path class="l11" d="M685 870"/><path class="l10" d="M681 851"/><path class="l12" d="M682 864"/><path class="l9" d="M711 784"/><path class="l1" d="M711 778l2-2"/><path class="l46" d="M674 962"/><path class="l47" d="M676 979"/><path class="l55" d="M679 992l4 0"/><path class="l54" d="M681 984l2 6"/><path class="l21" d="M674 904"/><path class="l13" d="M681 885l2 6"/><path class="l23" d="M681 926"/><path class="l3" d="M685 834"/><path class="l26" d="M684 851"/><path class="l2" d="M713 797"/><path class="l30" d="M677 949"/><path class="l53" d="M678 984"/><path class="l45" d="M677 949l6 33"/><path class="l14" d="M680 900"/><path class="l15" d="M683 913"/><path class="l19" d="M683 883l3 11"/><path class="l11" d="M687 859"/><path class="l30" d="M679 947"/><path class="l54" d="M689 990"/><path class="l21" d="M685 902"/><path class="l12" d="M686 881l2-7"/><path class="l18" d="M688 855l3 9"/><path class="l22" d="M682 934"/><path class="l20" d="M691 891"/><path class="l3" d="M690 844"/><path class="l4" d="M695 829"/><path class="l12" d="M697 876l3-23 1 4"/><path class="l31" d="M683 949"/><path class="l29" d="M683 928"/><path class="l21" d="M684 924l4 4"/><path class="l13" d="M690 904l3-21"/><path class="l11" d="M696 861"/><path class="l10" d="M698 840"/><path class="l38" d="M684 962"/><path class="l15" d="M689 915"/><path class="l21" d="M690 924l3-20"/><path class="l4" d="M700 816"/><path class="l2" d="M702 842"/><path class="l10" d="M703 816l0 15"/><path class="l29" d="M684 949"/><path class="l36" d="M685 947l1 2"/><path class="l47" d="M689 975"/><path class="l20" d="M693 898"/><path class="l2" d="M704 821"/><path class="l44" d="M684 967"/><path class="l46" d="M689 971"/><path class="l53" d="M689 975l1-11"/><path class="l55" d="M693 990l4-2"/><path class="l39" d="M695 971l3 11"/><path class="l14" d="M696 881"/><path class="l20" d="M697 883l0 15"/><path class="l12" d="M698 883l1-7 1 7"/><path class="l10" d="M704 819"/><path class="l2" d="M705 819l2 0"/><path class="l3" d="M707 814l6-8"/><path class="l38" d="M691 949"/><path class="l19" d="M700 876"/><path class="l10" d="M708 819"/><path class="l16" d="M714 791"/><path class="l2" d="M725 806l2 2 2-5"/><path class="l31" d="M693 937"/><path class="l30" d="M693 926"/><path class="l27" d="M701 881"/><path class="l8" d="M718 778"/><path class="l1" d="M722 773l7 24 8-34 4 10"/><path class="l37" d="M695 949"/><path class="l15" d="M694 919"/><path class="l21" d="M695 909l5-9"/><path class="l6" d="M705 861"/><path class="l12" d="M708 861l0 7 1 11 1-9"/><path class="l10" d="M706 844l4 7 3-17"/><path class="l13" d="M701 894l12-18"/><path class="l3" d="M720 806"/><path class="l2" d="M732 780"/><path class="l46" d="M697 964"/><path class="l53" d="M698 971l2 15"/><path class="l23" d="M696 926"/><path class="l11" d="M707 855"/><path class="l19" d="M713 857l1 9"/><path class="l9" d="M707 831"/><path class="l2" d="M720 819l1 0"/><path class="l28" d="M701 900"/><path class="l55" d="M708 982"/><path class="l29" d="M696 922"/><path class="l37" d="M696 937"/><path class="l26" d="M713 846"/><path class="l25" d="M714 842"/><path class="l4" d="M715 819l3 2"/><path class="l12" d="M707 887"/><path class="l15" d="M701 924"/><path class="l29" d="M697 945"/><path class="l2" d="M720 821"/><path class="l10" d="M719 844"/><path class="l3" d="M720 819l9 2"/><path class="l20" d="M702 907"/><path class="l22" d="M707 917"/><path class="l38" d="M699 949"/><path class="l14" d="M707 889"/><path class="l20" d="M708 896l2-7"/><path class="l45" d="M700 949"/><path class="l44" d="M701 941"/><path class="l23" d="M702 926l1 0"/><path class="l47" d="M704 964"/><path class="l19" d="M713 896"/><path class="l30" d="M705 926"/><path class="l22" d="M712 911l1 4"/><path class="l29" d="M705 939"/><path class="l23" d="M707 926l4-9"/><path class="l39" d="M708 969"/><path class="l14" d="M716 881"/><path class="l22" d="M708 928l9-52"/><path class="l37" d="M707 943"/><path class="l28" d="M715 907"/><path class="l55" d="M709 979"/><path class="l19" d="M721 866"/><path class="l11" d="M719 853"/><path class="l3" d="M724 851l1-30"/><path class="l13" d="M726 857l0 9 1-9 3 11"/><path class="l11" d="M729 851l1-30 0 40 2-4"/><path class="l3" d="M731 816l2 5 3-2 4-3"/><path class="l4" d="M736 857l6-36 1-2"/><path class="l19" d="M736 842l1 2"/><path class="l22" d="M709 926"/><path class="l29" d="M712 926l6-22"/><path class="l47" d="M711 971"/><path class="l44" d="M711 973"/><path class="l55" d="M720 1007l12-15"/><path class="l2" d="M733 797"/><path class="l12" d="M744 821"/><path class="l4" d="M745 819l1-3"/><path class="l30" d="M715 924"/><path class="l19" d="M718 898"/><path class="l23" d="M711 947"/><path class="l26" d="M737 797"/><path class="l2" d="M739 795l6-19 6 21 1 4"/><path class="l4" d="M746 801l4 13 0 5 3 2"/><path class="l3" d="M746 821l4-15 1 10"/><path class="l14" d="M721 883"/><path class="l29" d="M711 937"/><path class="l53" d="M715 971"/><path class="l17" d="M755 778"/><path class="l1" d="M758 782l2-4 3-5"/><path class="l39" d="M715 949"/><path class="l21" d="M716 924"/><path class="l23" d="M716 928"/><path class="l30" d="M716 949l1 0"/><path class="l22" d="M719 924"/><path class="l29" d="M721 915l2 9 1 2"/><path class="l20" d="M722 915l3-15"/><path class="l15" d="M727 883l4 0"/><path class="l54" d="M719 975"/><path class="l31" d="M721 949"/><path class="l30" d="M722 926"/><path class="l19" d="M732 870"/><path class="l20" d="M735 879"/><path class="l38" d="M724 958"/><path class="l21" d="M725 915"/><path class="l39" d="M727 949"/><path class="l12" d="M736 866"/><path class="l55" d="M726 984"/><path class="l45" d="M727 947"/><path class="l31" d="M729 928"/><path class="l38" d="M730 949l1 0"/><path class="l23" d="M730 911"/><path class="l22" d="M732 922"/><path class="l30" d="M734 928l2-2"/><path class="l21" d="M732 913"/><path class="l37" d="M733 949"/><path class="l47" d="M733 967"/><path class="l54" d="M736 971l1 6"/><path class="l14" d="M732 900"/><path class="l21" d="M734 904l1 5 1-2 2-3 1-13"/><path class="l22" d="M735 911l4-20"/><path class="l37" d="M734 949"/><path class="l20" d="M733 887"/><path class="l30" d="M737 924"/><path class="l31" d="M739 949"/><path class="l36" d="M739 907"/><path class="l12" d="M740 885"/><path class="l5" d="M741 864"/><path class="l23" d="M739 928"/><path class="l47" d="M740 969"/><path class="l21" d="M742 909"/><path class="l30" d="M740 937l3-9"/><path class="l38" d="M743 947l5 24"/><path class="l19" d="M741 872"/><path class="l12" d="M744 861l1 13"/><path class="l37" d="M741 949"/><path class="l31" d="M742 919"/><path class="l39" d="M746 949l3 0"/><path class="l28" d="M743 902"/><path class="l13" d="M745 909l1-26"/><path class="l20" d="M746 896l1-26"/><path class="l55" d="M748 992"/><path class="l6" d="M747 840"/><path class="l11" d="M754 821l1 23 1 13"/><path class="l3" d="M755 808l0 11 2 0 3-20 3-4"/><path class="l9" d="M768 773l9 3"/><path class="l36" d="M746 926"/><path class="l38" d="M746 926"/><path class="l28" d="M746 919l2-23 0 17"/><path class="l21" d="M749 885"/><path class="l47" d="M754 971"/><path class="l12" d="M749 861"/><path class="l10" d="M763 795"/><path class="l29" d="M749 926"/><path class="l46" d="M750 945"/><path class="l53" d="M774 971"/><path class="l19" d="M749 868"/><path class="l17" d="M765 797"/><path class="l31" d="M753 943"/><path class="l14" d="M751 881"/><path class="l20" d="M753 881l1 0"/><path class="l12" d="M753 849"/><path class="l2" d="M758 829l23-51"/><path class="l23" d="M754 928"/><path class="l19" d="M753 872"/><path class="l22" d="M753 904"/><path class="l18" d="M756 853"/><path class="l9" d="M782 769"/><path class="l31" d="M754 947"/><path class="l27" d="M756 861"/><path class="l13" d="M757 881"/><path class="l30" d="M755 917"/><path class="l33" d="M758 844"/><path class="l1" d="M787 763"/><path class="l2" d="M791 776"/><path class="l39" d="M756 947"/><path class="l37" d="M755 926"/><path class="l31" d="M759 949l2-6"/><path class="l38" d="M762 949l1 0"/><path class="l23" d="M758 904"/><path class="l18" d="M760 851"/><path class="l13" d="M759 881l3-20"/><path class="l20" d="M759 874l7 11"/><path class="l3" d="M761 821"/><path class="l33" d="M792 761"/><path class="l29" d="M757 922"/><path class="l21" d="M759 913l1-13 1 7"/><path class="l39" d="M762 949"/><path class="l25" d="M763 842"/><path class="l6" d="M763 870"/><path class="l20" d="M765 885l1 15 1-11"/><path class="l11" d="M763 819"/><path class="l16" d="M797 761"/><path class="l22" d="M765 896"/><path class="l30" d="M761 926"/><path class="l37" d="M762 926l2 2"/><path class="l19" d="M764 857"/><path class="l3" d="M764 821"/><path class="l11" d="M767 821l5 25 1 15"/><path class="l1" d="M812 767"/><path class="l29" d="M765 926"/><path class="l30" d="M767 919"/><path class="l28" d="M767 922"/><path class="l15" d="M769 870"/><path class="l12" d="M771 861"/><path class="l19" d="M774 861l1-6 0 11 1 2"/><path class="l10" d="M773 838"/><path class="l4" d="M769 819"/><path class="l11" d="M769 821l6 30"/><path class="l38" d="M765 947"/><path class="l36" d="M768 924"/><path class="l21" d="M771 885"/><path class="l12" d="M770 812"/><path class="l3" d="M770 816l1-15 2 20"/><path class="l4" d="M773 819l2-16"/><path class="l11" d="M776 872l1-34"/><path class="l52" d="M767 934"/><path class="l29" d="M769 913l2 13 5-2"/><path class="l28" d="M772 915"/><path class="l12" d="M775 816"/><path class="l38" d="M770 949"/><path class="l21" d="M773 904"/><path class="l29" d="M773 928l1-32"/><path class="l3" d="M775 821"/><path class="l11" d="M777 821l0 25"/><path class="l45" d="M771 949"/><path class="l14" d="M774 885"/><path class="l10" d="M777 812"/><path class="l54" d="M776 967"/><path class="l28" d="M776 883"/><path class="l22" d="M778 913"/><path class="l19" d="M778 861"/><path class="l2" d="M778 810"/><path class="l11" d="M779 853l2-34"/><path class="l4" d="M785 821l1 0 1-9 0 4 2-13"/><path class="l3" d="M782 801l1 11 4 0"/><path class="l39" d="M777 947"/><path class="l38" d="M780 949"/><path class="l20" d="M778 881"/><path class="l30" d="M781 922"/><path class="l26" d="M780 846"/><path class="l12" d="M785 859l2-15 2 0"/><path class="l9" d="M789 784"/><path class="l1" d="M798 773l4 5 7 2"/><path class="l31" d="M780 928"/><path class="l54" d="M781 971"/><path class="l28" d="M779 881"/><path class="l21" d="M780 885l2 13 1-2"/><path class="l20" d="M782 879l8-18"/><path class="l22" d="M781 913l1-15"/><path class="l19" d="M789 853"/><path class="l6" d="M793 821"/><path class="l4" d="M798 778"/><path class="l46" d="M783 949"/><path class="l12" d="M785 874"/><path class="l29" d="M781 926"/><path class="l28" d="M783 902"/><path class="l30" d="M785 926"/><path class="l18" d="M794 801"/><path class="l20" d="M795 821"/><path class="l9" d="M810 750"/><path class="l38" d="M788 949"/><path class="l39" d="M785 949"/><path class="l14" d="M787 883"/><path class="l22" d="M789 904"/><path class="l23" d="M787 928"/><path class="l33" d="M794 799"/><path class="l3" d="M796 816"/><path class="l11" d="M797 821l1-2"/><path class="l24" d="M810 735"/><path class="l52" d="M791 956"/><path class="l20" d="M787 883"/><path class="l21" d="M789 898"/><path class="l28" d="M789 883l3 21"/><path class="l38" d="M788 930"/><path class="l29" d="M791 919l1-6"/><path class="l10" d="M798 793"/><path class="l1" d="M799 778l19-67"/><path class="l13" d="M791 872"/><path class="l20" d="M791 870l1-9 1 0 0 24 1-9"/><path class="l46" d="M788 947"/><path class="l30" d="M789 919"/><path class="l2" d="M804 788"/><path class="l8" d="M819 707"/><path class="l21" d="M792 883"/><path class="l12" d="M795 851"/><path class="l38" d="M790 947"/><path class="l44" d="M789 926"/><path class="l29" d="M792 926l3-13"/><path class="l1" d="M823 700"/><path class="l35" d="M794 898"/><path class="l28" d="M795 881"/><path class="l21" d="M798 885l3-4 2-2"/><path class="l20" d="M795 872l2 4"/><path class="l54" d="M791 949"/><path class="l30" d="M794 922"/><path class="l16" d="M825 709"/><path class="l8" d="M827 711l2 0"/><path class="l24" d="M827 688"/><path class="l28" d="M800 898"/><path class="l13" d="M797 846"/><path class="l46" d="M794 949"/><path class="l37" d="M795 926"/><path class="l8" d="M828 709"/><path class="l0" d="M844 675"/><path class="l19" d="M797 851"/><path class="l53" d="M797 949"/><path class="l39" d="M798 939"/><path class="l22" d="M797 917"/><path class="l1" d="M835 711"/><path class="l11" d="M798 842"/><path class="l13" d="M803 876"/><path class="l30" d="M799 928"/><path class="l28" d="M799 909"/><path class="l29" d="M803 902"/><path class="l9" d="M843 713"/><path class="l1" d="M849 711l1-2 4-4 6-5"/><path class="l8" d="M843 733"/><path class="l1" d="M852 713l5 0"/><path class="l16" d="M859 711l0 2"/><path class="l26" d="M799 851"/><path class="l42" d="M800 836"/><path class="l45" d="M800 928"/><path class="l20" d="M803 894"/><path class="l1" d="M861 705"/><path class="l4" d="M802 819"/><path class="l11" d="M804 821l1-2"/><path class="l19" d="M802 855"/><path class="l39" d="M801 949"/><path class="l24" d="M861 711"/><path class="l1" d="M865 707l3 4 1 2 5 0 2 0"/><path class="l12" d="M803 803"/><path class="l3" d="M805 799l2 4 5-8"/><path class="l18" d="M804 840l3-28"/><path class="l2" d="M806 791l2-15"/><path class="l9" d="M813 767l1 11 2 0"/><path class="l11" d="M806 821l2 0"/><path class="l27" d="M805 861"/><path class="l30" d="M803 926"/><path class="l47" d="M805 967"/><path class="l16" d="M870 692"/><path class="l25" d="M805 842"/><path class="l10" d="M813 778"/><path class="l1" d="M817 750l0 4 13 9 41-52"/><path class="l22" d="M803 915"/><path class="l28" d="M804 898l1 17"/><path class="l38" d="M806 949"/><path class="l0" d="M872 675"/><path class="l19" d="M807 855"/><path class="l8" d="M875 705"/><path class="l30" d="M805 928"/><path class="l20" d="M805 898"/><path class="l16" d="M884 679"/><path class="l1" d="M876 711l11-51 1 25 9 7"/><path class="l16" d="M876 711l22-36"/><path class="l1" d="M882 711l5 0 1 20"/><path class="l26" d="M813 838"/><path class="l37" d="M806 926"/><path class="l39" d="M808 949"/><path class="l28" d="M805 891"/><path class="l29" d="M806 885"/><path class="l20" d="M808 866l2 19"/><path class="l2" d="M911 653"/><path class="l24" d="M889 713"/><path class="l1" d="M897 713l1-2"/><path class="l5" d="M814 821"/><path class="l44" d="M808 941"/><path class="l21" d="M807 883"/><path class="l8" d="M935 638"/><path class="l11" d="M814 799"/><path class="l2" d="M817 801l7-25 2 12"/><path class="l19" d="M815 821"/><path class="l3" d="M815 816l15-40"/><path class="l4" d="M819 819l0 2"/><path class="l35" d="M807 881"/><path class="l43" d="M807 898"/><path class="l21" d="M812 881l1-2"/><path class="l20" d="M810 891l4-6"/><path class="l12" d="M820 816"/><path class="l3" d="M821 819l1-18"/><path class="l22" d="M811 915"/><path class="l31" d="M811 926l4-4 0 21"/><path class="l29" d="M812 913l4 0 2 2"/><path class="l6" d="M816 866"/><path class="l28" d="M813 898l3-22"/><path class="l20" d="M819 866l1 10 1-2"/><path class="l12" d="M822 853l1-37"/><path class="l30" d="M813 919"/><path class="l55" d="M818 964"/><path class="l13" d="M820 853"/><path class="l19" d="M824 821l0 38"/><path class="l20" d="M827 864l1-7"/><path class="l11" d="M826 816l3 5 1 19"/><path class="l3" d="M826 799"/><path class="l10" d="M826 799l5-19"/><path class="l15" d="M819 894"/><path class="l39" d="M819 949"/><path class="l11" d="M827 812"/><path class="l18" d="M828 795"/><path class="l17" d="M832 776"/><path class="l2" d="M832 791l1 8"/><path class="l28" d="M821 894"/><path class="l20" d="M821 883"/><path class="l21" d="M824 874"/><path class="l31" d="M820 926"/><path class="l3" d="M830 810"/><path class="l1" d="M834 767"/><path class="l12" d="M827 879"/><path class="l14" d="M829 842"/><path class="l27" d="M830 861l2-8"/><path class="l45" d="M820 947"/><path class="l17" d="M836 769"/><path class="l5" d="M835 821"/><path class="l35" d="M832 859"/><path class="l30" d="M821 926"/><path class="l54" d="M824 949"/><path class="l53" d="M825 949"/><path class="l9" d="M838 780"/><path class="l2" d="M843 778l1 0"/><path class="l48" d="M846 761"/><path class="l12" d="M835 819"/><path class="l3" d="M837 819l10-20"/><path class="l20" d="M834 861"/><path class="l19" d="M839 842"/><path class="l37" d="M822 926"/><path class="l23" d="M824 913"/><path class="l4" d="M840 795"/><path class="l5" d="M845 812"/><path class="l29" d="M824 917"/><path class="l13" d="M824 896"/><path class="l29" d="M828 900l2-17"/><path class="l30" d="M825 928"/><path class="l10" d="M846 776"/><path class="l15" d="M845 825"/><path class="l4" d="M850 793l2 6"/><path class="l19" d="M835 868l19-90"/><path class="l28" d="M830 885"/><path class="l21" d="M832 879l2-7"/><path class="l20" d="M838 859"/><path class="l46" d="M826 945"/><path class="l23" d="M828 915"/><path class="l30" d="M829 909l7-24"/><path class="l28" d="M831 907l12-50"/><path class="l22" d="M829 928"/><path class="l1" d="M849 767"/><path class="l27" d="M838 861"/><path class="l37" d="M828 945"/><path class="l38" d="M836 949"/><path class="l29" d="M834 900"/><path class="l20" d="M836 881"/><path class="l28" d="M837 883l1-9"/><path class="l36" d="M832 909"/><path class="l9" d="M849 771"/><path class="l14" d="M847 849"/><path class="l31" d="M830 926"/><path class="l20" d="M841 866"/><path class="l21" d="M845 868"/><path class="l4" d="M857 776"/><path class="l2" d="M858 776"/><path class="l37" d="M830 926"/><path class="l38" d="M832 947"/><path class="l13" d="M847 859"/><path class="l26" d="M859 771"/><path class="l31" d="M834 926"/><path class="l20" d="M849 861"/><path class="l9" d="M863 767"/><path class="l37" d="M837 922"/><path class="l46" d="M837 945"/><path class="l54" d="M839 949l3 20"/><path class="l31" d="M838 902l2 26"/><path class="l45" d="M844 949l2-6"/><path class="l37" d="M841 924l5 55"/><path class="l13" d="M850 831"/><path class="l29" d="M841 911"/><path class="l36" d="M841 919l2 13"/><path class="l46" d="M850 949"/><path class="l21" d="M841 885"/><path class="l7" d="M850 819"/><path class="l13" d="M852 819l5 0"/><path class="l11" d="M857 821l2 0"/><path class="l45" d="M847 943"/><path class="l29" d="M841 902"/><path class="l44" d="M842 898l0 15"/><path class="l26" d="M853 844"/><path class="l39" d="M851 947"/><path class="l21" d="M844 885"/><path class="l20" d="M844 885"/><path class="l36" d="M844 904"/><path class="l12" d="M853 821"/><path class="l19" d="M860 819l0 2"/><path class="l11" d="M863 819l1 2"/><path class="l46" d="M851 947"/><path class="l54" d="M852 949l1 0"/><path class="l29" d="M845 915"/><path class="l21" d="M847 898"/><path class="l37" d="M847 917l1-23"/><path class="l30" d="M849 924l2 2"/><path class="l3" d="M857 803"/><path class="l36" d="M847 909"/><path class="l22" d="M849 870"/><path class="l41" d="M857 795"/><path class="l12" d="M863 819"/><path class="l28" d="M848 902"/><path class="l29" d="M855 911"/><path class="l27" d="M850 864"/><path class="l20" d="M853 866l1-9"/><path class="l25" d="M859 795"/><path class="l2" d="M862 778"/><path class="l10" d="M865 793l4 0"/><path class="l36" d="M851 900"/><path class="l26" d="M855 849"/><path class="l12" d="M864 806"/><path class="l9" d="M863 773"/><path class="l2" d="M865 778l1 0 5-15"/><path class="l30" d="M852 917"/><path class="l21" d="M853 883"/><path class="l28" d="M854 879l0 21 1-15 3 17 2-17"/><path class="l29" d="M856 907l5-9"/><path class="l19" d="M855 874l2-13"/><path class="l27" d="M856 876l3-32"/><path class="l10" d="M860 842l8-64"/><path class="l5" d="M867 812"/><path class="l1" d="M871 765"/><path class="l38" d="M853 928"/><path class="l30" d="M857 919l6-17 4 13 2 2"/><path class="l29" d="M860 885"/><path class="l21" d="M862 876l1 9 1-4"/><path class="l42" d="M858 864"/><path class="l26" d="M861 859l1-17"/><path class="l19" d="M866 836l0 25 2-21 3 11 1 2"/><path class="l11" d="M868 819l3-13"/><path class="l2" d="M870 778"/><path class="l10" d="M870 791l3-20"/><path class="l46" d="M855 949"/><path class="l31" d="M856 926l3-2"/><path class="l28" d="M864 883"/><path class="l20" d="M867 879l4-13"/><path class="l29" d="M872 900"/><path class="l4" d="M872 819"/><path class="l12" d="M876 821l0 17"/><path class="l3" d="M875 784"/><path class="l2" d="M877 773"/><path class="l10" d="M877 782l1-13 0 4"/><path class="l54" d="M855 973"/><path class="l22" d="M866 874"/><path class="l28" d="M868 885l2-6"/><path class="l11" d="M877 827"/><path class="l5" d="M876 810"/><path class="l1" d="M881 739"/><path class="l2" d="M881 778"/><path class="l10" d="M877 791l5-9"/><path class="l39" d="M862 949"/><path class="l31" d="M866 928l4-24"/><path class="l30" d="M862 924l4-5"/><path class="l29" d="M870 891"/><path class="l20" d="M872 876"/><path class="l12" d="M878 819"/><path class="l13" d="M881 808"/><path class="l9" d="M881 769"/><path class="l54" d="M866 949"/><path class="l37" d="M869 922"/><path class="l18" d="M884 793"/><path class="l47" d="M870 949"/><path class="l29" d="M871 911"/><path class="l11" d="M886 780"/><path class="l14" d="M888 812"/><path class="l53" d="M870 949"/><path class="l37" d="M873 928l1 0"/><path class="l55" d="M871 971"/><path class="l36" d="M872 896"/><path class="l3" d="M888 778"/><path class="l9" d="M888 765l5 4 2-8"/><path class="l39" d="M873 926"/><path class="l38" d="M875 922"/><path class="l21" d="M873 885"/><path class="l2" d="M896 733"/><path class="l52" d="M877 947"/><path class="l29" d="M875 909"/><path class="l28" d="M877 900"/><path class="l16" d="M898 722"/><path class="l38" d="M878 924"/><path class="l21" d="M877 885"/><path class="l36" d="M878 881l1 30 1-17 1-3"/><path class="l28" d="M879 879l2 2 1 4 1 4 1 7"/><path class="l24" d="M898 713"/><path class="l9" d="M905 750"/><path class="l30" d="M880 924"/><path class="l31" d="M882 922"/><path class="l38" d="M884 915l1 4"/><path class="l15" d="M880 859"/><path class="l18" d="M905 709"/><path class="l46" d="M883 949"/><path class="l37" d="M883 928l5-19"/><path class="l31" d="M888 924l1 4"/><path class="l19" d="M881 840"/><path class="l20" d="M882 876"/><path class="l29" d="M885 879l4-5"/><path class="l1" d="M907 711"/><path class="l25" d="M908 696"/><path class="l46" d="M891 928"/><path class="l27" d="M882 851"/><path class="l19" d="M883 855l2-15"/><path class="l13" d="M882 821"/><path class="l28" d="M889 872"/><path class="l21" d="M888 891"/><path class="l28" d="M890 907l2-11"/><path class="l29" d="M891 879l2 32"/><path class="l33" d="M911 677"/><path class="l10" d="M912 709"/><path class="l1" d="M913 711l1 0 4-8"/><path class="l9" d="M917 713l1 0"/><path class="l31" d="M896 926"/><path class="l27" d="M886 857"/><path class="l6" d="M888 821"/><path class="l3" d="M890 793"/><path class="l10" d="M892 791l1-13 4 13"/><path class="l30" d="M890 902"/><path class="l40" d="M912 655"/><path class="l1" d="M920 700"/><path class="l9" d="M893 778l30-65"/><path class="l16" d="M923 685l0 22"/><path class="l24" d="M925 688l1 10"/><path class="l1" d="M933 715l2-10 1 6 1-38 1 10 0 20 7-11"/><path class="l2" d="M897 778l34-67"/><path class="l9" d="M902 771l38-58 1-2"/><path class="l1" d="M941 713l2 0"/><path class="l47" d="M896 949"/><path class="l19" d="M887 855"/><path class="l20" d="M889 864"/><path class="l12" d="M889 821"/><path class="l8" d="M937 655"/><path class="l18" d="M899 780"/><path class="l2" d="M901 778l45-105"/><path class="l11" d="M902 793l5-15"/><path class="l9" d="M944 711"/><path class="l31" d="M896 917"/><path class="l27" d="M889 866"/><path class="l13" d="M890 834"/><path class="l0" d="M938 640"/><path class="l2" d="M908 769"/><path class="l17" d="M945 713"/><path class="l1" d="M946 703l3-3"/><path class="l38" d="M897 911"/><path class="l45" d="M899 926"/><path class="l42" d="M889 857"/><path class="l18" d="M910 763"/><path class="l9" d="M922 748l24-35"/><path class="l1" d="M948 707l0 4"/><path class="l37" d="M900 926"/><path class="l38" d="M903 928"/><path class="l39" d="M903 947"/><path class="l19" d="M892 840"/><path class="l13" d="M893 872"/><path class="l9" d="M949 711"/><path class="l46" d="M907 949"/><path class="l5" d="M893 821"/><path class="l11" d="M895 801l0 20 2-18 0 13"/><path class="l12" d="M894 814l0 7"/><path class="l35" d="M893 870"/><path class="l29" d="M895 885l3-2"/><path class="l28" d="M897 861l2 22"/><path class="l25" d="M951 707"/><path class="l1" d="M955 709l1 2 2-15 1 15 1 0 2-6 6 0"/><path class="l53" d="M909 947"/><path class="l10" d="M898 801"/><path class="l19" d="M896 819l9-24"/><path class="l11" d="M907 793l4 0"/><path class="l2" d="M911 778l44-73"/><path class="l20" d="M899 840"/><path class="l36" d="M900 864"/><path class="l10" d="M912 765"/><path class="l12" d="M899 819"/><path class="l11" d="M899 821"/><path class="l19" d="M903 819l3-9"/><path class="l27" d="M901 846"/><path class="l21" d="M902 857l3-47"/><path class="l19" d="M903 859l1-17"/><path class="l29" d="M902 885"/><path class="l20" d="M903 864"/><path class="l12" d="M906 834l4-35"/><path class="l28" d="M905 872l7-15"/><path class="l2" d="M920 767"/><path class="l17" d="M924 752"/><path class="l9" d="M921 765l9-7"/><path class="l23" d="M902 898"/><path class="l19" d="M908 821"/><path class="l20" d="M911 821"/><path class="l4" d="M913 799"/><path class="l3" d="M917 780"/><path class="l44" d="M902 898"/><path class="l28" d="M905 887l1-4 2 2"/><path class="l31" d="M903 917"/><path class="l29" d="M908 879"/><path class="l12" d="M912 821"/><path class="l44" d="M903 922"/><path class="l36" d="M903 902"/><path class="l37" d="M905 928"/><path class="l21" d="M912 864"/><path class="l6" d="M913 810"/><path class="l11" d="M917 808l2-15 1 13 3-9"/><path class="l12" d="M916 819l11-18"/><path class="l19" d="M915 827"/><path class="l38" d="M908 928"/><path class="l52" d="M904 909"/><path class="l28" d="M905 909l4-22"/><path class="l38" d="M909 917l0 9"/><path class="l29" d="M911 883"/><path class="l3" d="M920 778"/><path class="l12" d="M920 821"/><path class="l53" d="M918 949"/><path class="l36" d="M907 904"/><path class="l54" d="M912 949"/><path class="l45" d="M910 917l2 11"/><path class="l21" d="M912 881"/><path class="l36" d="M910 915l2-43"/><path class="l28" d="M912 866l0 19"/><path class="l11" d="M922 778"/><path class="l10" d="M928 756"/><path class="l44" d="M910 907"/><path class="l36" d="M911 909l2-15"/><path class="l37" d="M913 926"/><path class="l35" d="M913 879"/><path class="l45" d="M916 928"/><path class="l28" d="M913 857"/><path class="l31" d="M916 917"/><path class="l37" d="M917 904l3 9"/><path class="l21" d="M917 846"/><path class="l12" d="M918 821l9-2"/><path class="l38" d="M920 926"/><path class="l22" d="M919 885"/><path class="l28" d="M919 881l1-28"/><path class="l13" d="M920 819"/><path class="l27" d="M920 851"/><path class="l47" d="M922 945"/><path class="l37" d="M921 907"/><path class="l36" d="M921 891"/><path class="l4" d="M927 795"/><path class="l21" d="M924 855"/><path class="l22" d="M924 872"/><path class="l14" d="M925 821"/><path class="l19" d="M927 795l1 21"/><path class="l27" d="M928 827l0 13"/><path class="l12" d="M929 799l14 17"/><path class="l13" d="M933 819l2-3"/><path class="l45" d="M921 917"/><path class="l29" d="M924 902l3 0"/><path class="l28" d="M926 870"/><path class="l42" d="M929 840"/><path class="l4" d="M930 778"/><path class="l12" d="M931 803l10-2"/><path class="l30" d="M924 926"/><path class="l20" d="M927 861"/><path class="l21" d="M931 855"/><path class="l14" d="M937 821"/><path class="l10" d="M931 769"/><path class="l13" d="M938 797"/><path class="l11" d="M948 799"/><path class="l44" d="M924 919"/><path class="l52" d="M925 930"/><path class="l54" d="M925 949"/><path class="l45" d="M928 924"/><path class="l30" d="M928 883"/><path class="l37" d="M928 913l2-15"/><path class="l36" d="M928 889l4 11"/><path class="l29" d="M931 879"/><path class="l42" d="M931 846"/><path class="l28" d="M932 872"/><path class="l2" d="M935 754"/><path class="l47" d="M929 949"/><path class="l44" d="M929 915"/><path class="l46" d="M930 928"/><path class="l45" d="M931 924"/><path class="l35" d="M933 855"/><path class="l23" d="M935 881"/><path class="l10" d="M937 763"/><path class="l11" d="M941 778"/><path class="l39" d="M934 949"/><path class="l27" d="M935 861"/><path class="l20" d="M939 838"/><path class="l3" d="M944 778"/><path class="l13" d="M946 799l3 17"/><path class="l31" d="M934 928"/><path class="l14" d="M941 819"/><path class="l18" d="M944 771"/><path class="l11" d="M950 799"/><path class="l38" d="M935 911"/><path class="l39" d="M936 926"/><path class="l21" d="M943 851"/><path class="l19" d="M945 834"/><path class="l34" d="M948 761"/><path class="l23" d="M936 885"/><path class="l45" d="M937 926"/><path class="l54" d="M941 947"/><path class="l31" d="M942 928l1-2"/><path class="l12" d="M949 819"/><path class="l4" d="M950 778"/><path class="l25" d="M956 756"/><path class="l37" d="M937 885"/><path class="l11" d="M957 767"/><path class="l22" d="M939 874"/><path class="l29" d="M941 872l0 11 1 2"/><path class="l31" d="M942 913"/><path class="l37" d="M942 883l1 43"/><path class="l28" d="M943 866l1-5 0 33"/><path class="l36" d="M944 904l1-8"/><path class="l45" d="M943 919"/><path class="l20" d="M945 849"/><path class="l21" d="M946 881"/><path class="l38" d="M947 924"/><path class="l37" d="M948 926"/><path class="l31" d="M949 913l1-9"/><path class="l44" d="M950 907l2-3"/><path class="l42" d="M946 849"/><path class="l13" d="M947 819"/><path class="l20" d="M946 861l4-51"/><path class="l52" d="M949 924"/><path class="l37" d="M952 915l0 13"/><path class="l45" d="M953 924l1 2 0 2 1-2 3 2"/><path class="l42" d="M948 834"/><path class="l50" d="M948 855"/><path class="l29" d="M949 874"/><path class="l12" d="M956 797"/><path class="l38" d="M956 915"/><path class="l19" d="M952 829"/><path class="l20" d="M952 821"/><path class="l13" d="M954 812l0 7"/><path class="l27" d="M953 855"/><path class="l51" d="M950 876"/><path class="l29" d="M954 866l0 21"/><path class="l5" d="M958 778"/><path class="l4" d="M961 778"/><path class="l45" d="M956 928"/><path class="l12" d="M955 819"/><path class="l19" d="M956 806l0 21"/><path class="l12" d="M961 801l0 13"/><path class="l35" d="M957 866"/><path class="l37" d="M957 898"/><path class="l29" d="M958 889l2-43"/><path class="l45" d="M957 913l4 0"/><path class="l37" d="M958 926l3-4"/><path class="l27" d="M955 821"/><path class="l4" d="M962 771"/><path class="l44" d="M960 904"/><path class="l7" d="M961 879"/><path class="l29" d="M963 861l2 11 1 13 2 26"/><path class="l53" d="M962 947"/><path class="l45" d="M961 926"/><path class="l30" d="M963 883l3 19"/><path class="l37" d="M962 926l5-32 1 23"/><path class="l11" d="M956 821"/><path class="l17" d="M962 773"/><path class="l54" d="M965 949"/><path class="l38" d="M965 926l7 0 3 2"/><path class="l39" d="M970 928l2-2"/><path class="l31" d="M973 900l3 26"/><path class="l20" d="M959 821"/><path class="l25" d="M963 780"/><path class="l39" d="M981 947"/><path class="l13" d="M962 821"/><path class="l12" d="M963 840"/><path class="l9" d="M964 765"/><path class="l2" d="M966 741l13 35"/><path class="l54" d="M981 949"/><path class="l5" d="M964 816"/><path class="l21" d="M968 838l0 19"/><path class="l11" d="M967 812l1-15"/><path class="l10" d="M966 713"/><path class="l40" d="M968 761"/><path class="l20" d="M966 819"/><path class="l43" d="M968 870"/><path class="l28" d="M973 864l1-5 1 2"/><path class="l18" d="M968 795"/><path class="l19" d="M971 803"/><path class="l2" d="M967 700"/><path class="l1" d="M975 713"/><path class="l17" d="M972 743"/><path class="l27" d="M969 834"/><path class="l31" d="M973 881"/><path class="l29" d="M975 876"/><path class="l11" d="M973 799"/><path class="l25" d="M967 690"/><path class="l2" d="M973 690l6 15"/><path class="l5" d="M970 819"/><path class="l12" d="M971 819l6-7 1-2"/><path class="l42" d="M971 842"/><path class="l45" d="M974 900"/><path class="l20" d="M976 861"/><path class="l4" d="M975 778"/><path class="l3" d="M973 711"/><path class="l14" d="M975 816"/><path class="l13" d="M980 819"/><path class="l21" d="M980 864"/><path class="l38" d="M976 917"/><path class="l22" d="M976 885"/><path class="l26" d="M975 793"/><path class="l10" d="M976 767"/><path class="l32" d="M973 692"/><path class="l9" d="M976 713"/><path class="l2" d="M978 709l2 2 1 0 1-11"/><path class="l1" d="M982 713l1-19 1-4"/><path class="l9" d="M985 711l2 2"/><path class="l20" d="M977 840"/><path class="l45" d="M977 917"/><path class="l28" d="M982 866"/><path class="l12" d="M978 801"/><path class="l19" d="M981 816l1 0"/><path class="l11" d="M983 780"/><path class="l8" d="M985 677"/><path class="l1" d="M993 662l0 26"/><path class="l2" d="M988 707"/><path class="l42" d="M979 840"/><path class="l37" d="M978 898"/><path class="l21" d="M980 821l0 64"/><path class="l38" d="M979 922"/><path class="l3" d="M983 771"/><path class="l8" d="M997 651"/><path class="l17" d="M988 711"/><path class="l20" d="M983 857"/><path class="l28" d="M982 874l3-8"/><path class="l11" d="M982 821"/><path class="l19" d="M983 821l2-2 1 2"/><path class="l45" d="M980 915"/><path class="l46" d="M982 928"/><path class="l38" d="M986 926l3 2"/><path class="l1" d="M1000 675"/><path class="l16" d="M1019 658"/><path class="l9" d="M989 713"/><path class="l2" d="M992 703"/><path class="l43" d="M987 861"/><path class="l20" d="M989 838"/><path class="l13" d="M987 801"/><path class="l18" d="M987 801l3 0 4-96"/><path class="l1" d="M997 696l5 17 1-2 1 0"/><path class="l2" d="M994 711l7 0 2-4"/><path class="l19" d="M988 808l1-30"/><path class="l11" d="M994 771l1 26"/><path class="l17" d="M994 763l13-78"/><path class="l11" d="M995 778l3 4"/><path class="l12" d="M989 819"/><path class="l39" d="M984 919"/><path class="l8" d="M1021 649"/><path class="l9" d="M1006 711"/><path class="l13" d="M991 821"/><path class="l10" d="M998 754"/><path class="l17" d="M1001 752l10-2"/><path class="l26" d="M1007 700"/><path class="l23" d="M986 898"/><path class="l47" d="M993 949"/><path class="l1" d="M1027 668"/><path class="l27" d="M991 834"/><path class="l20" d="M993 819l0 30"/><path class="l21" d="M993 819"/><path class="l19" d="M993 819"/><path class="l18" d="M1001 773"/><path class="l2" d="M1010 711"/><path class="l9" d="M1013 690"/><path class="l31" d="M986 889"/><path class="l45" d="M989 926"/><path class="l35" d="M993 831"/><path class="l12" d="M996 810"/><path class="l20" d="M997 816l2 3"/><path class="l10" d="M1012 711"/><path class="l2" d="M1013 709l0 4"/><path class="l9" d="M1014 711l1-15"/><path class="l44" d="M989 909"/><path class="l23" d="M989 876"/><path class="l22" d="M994 885"/><path class="l21" d="M994 866"/><path class="l27" d="M995 840l0 6"/><path class="l19" d="M998 801"/><path class="l3" d="M1015 735"/><path class="l2" d="M1021 711"/><path class="l17" d="M1016 690"/><path class="l1" d="M1019 675l4 8 1-6 2 6"/><path class="l52" d="M989 913"/><path class="l36" d="M994 879"/><path class="l20" d="M996 821"/><path class="l27" d="M997 861l2-19"/><path class="l26" d="M999 791"/><path class="l2" d="M1018 709"/><path class="l45" d="M992 919"/><path class="l29" d="M995 868"/><path class="l43" d="M996 876l3-12"/><path class="l28" d="M996 887"/><path class="l43" d="M997 881l1-5 0 7"/><path class="l36" d="M997 894l5-41"/><path class="l29" d="M1005 868l0 8"/><path class="l13" d="M1002 821"/><path class="l11" d="M1002 801"/><path class="l12" d="M1007 776"/><path class="l19" d="M1003 819l5-41"/><path class="l10" d="M1012 771l11-68"/><path class="l11" d="M1009 778l4 2"/><path class="l38" d="M993 926"/><path class="l37" d="M995 904"/><path class="l28" d="M1005 879"/><path class="l27" d="M1003 816"/><path class="l35" d="M1003 846"/><path class="l1" d="M1024 692"/><path class="l3" d="M1026 713"/><path class="l9" d="M1026 711l2-28"/><path class="l2" d="M1014 761"/><path class="l46" d="M996 924"/><path class="l45" d="M996 915"/><path class="l44" d="M997 900"/><path class="l19" d="M1004 819"/><path class="l29" d="M1006 861"/><path class="l28" d="M1007 857"/><path class="l1" d="M1029 692"/><path class="l3" d="M1033 705"/><path class="l26" d="M1017 767l17-67"/><path class="l25" d="M1016 748"/><path class="l12" d="M1007 819l14-41"/><path class="l37" d="M997 919"/><path class="l2" d="M1035 707"/><path class="l10" d="M1021 754"/><path class="l17" d="M1023 739"/><path class="l21" d="M1010 821"/><path class="l46" d="M999 928"/><path class="l45" d="M1000 915"/><path class="l2" d="M1027 739"/><path class="l3" d="M1035 711"/><path class="l15" d="M1010 803"/><path class="l12" d="M1011 797"/><path class="l52" d="M1001 917"/><path class="l30" d="M1002 898"/><path class="l31" d="M1003 894"/><path class="l10" d="M1036 711"/><path class="l11" d="M1040 709"/><path class="l3" d="M1041 698l2 13"/><path class="l20" d="M1014 799"/><path class="l37" d="M1004 928"/><path class="l45" d="M1005 911"/><path class="l2" d="M1043 713"/><path class="l9" d="M1041 681"/><path class="l1" d="M1044 653l10 24"/><path class="l13" d="M1021 786"/><path class="l53" d="M1008 926"/><path class="l30" d="M1006 902"/><path class="l37" d="M1007 917l1-34"/><path class="l10" d="M1045 713"/><path class="l2" d="M1045 711l1 2 1-21 3 19 3-17 3 19"/><path class="l18" d="M1026 771"/><path class="l36" d="M1009 885"/><path class="l44" d="M1009 907"/><path class="l22" d="M1008 864"/><path class="l43" d="M1009 902"/><path class="l38" d="M1010 924"/><path class="l42" d="M1010 846"/><path class="l22" d="M1013 879"/><path class="l45" d="M1012 926"/><path class="l38" d="M1016 911l2 15 3-19 0 21"/><path class="l12" d="M1013 821"/><path class="l19" d="M1013 821l1-7"/><path class="l44" d="M1014 885"/><path class="l28" d="M1014 876"/><path class="l37" d="M1016 881l2 2"/><path class="l39" d="M1020 917"/><path class="l12" d="M1015 795"/><path class="l20" d="M1019 887l3-88"/><path class="l45" d="M1021 902l6 24"/><path class="l36" d="M1016 872"/><path class="l22" d="M1020 821"/><path class="l11" d="M1028 780"/><path class="l38" d="M1023 909"/><path class="l46" d="M1023 928l2-2"/><path class="l29" d="M1024 885"/><path class="l28" d="M1017 866"/><path class="l13" d="M1023 819"/><path class="l26" d="M1029 778"/><path class="l45" d="M1026 907"/><path class="l35" d="M1018 864"/><path class="l28" d="M1022 853l1-34"/><path class="l19" d="M1025 808l0 13 1-9"/><path class="l11" d="M1034 769"/><path class="l30" d="M1023 879"/><path class="l50" d="M1023 844"/><path class="l28" d="M1028 816"/><path class="l20" d="M1028 819l6-13"/><path class="l27" d="M1027 849l2-28 1 23"/><path class="l19" d="M1030 799l0 7"/><path class="l11" d="M1033 778l1 19"/><path class="l38" d="M1026 881"/><path class="l36" d="M1026 883"/><path class="l37" d="M1028 902"/><path class="l44" d="M1029 898l2 4"/><path class="l50" d="M1030 855"/><path class="l42" d="M1031 831"/><path class="l19" d="M1031 821l4-15"/><path class="l14" d="M1037 816l3 3"/><path class="l12" d="M1035 763"/><path class="l29" d="M1028 879"/><path class="l46" d="M1030 922"/><path class="l45" d="M1031 924"/><path class="l21" d="M1041 821"/><path class="l20" d="M1044 821"/><path class="l4" d="M1044 797"/><path class="l19" d="M1043 754l2 41"/><path class="l18" d="M1038 765"/><path class="l36" d="M1033 864"/><path class="l30" d="M1034 891l4-8"/><path class="l52" d="M1031 926"/><path class="l11" d="M1045 756"/><path class="l12" d="M1047 771"/><path class="l29" d="M1035 876"/><path class="l46" d="M1035 922"/><path class="l45" d="M1036 926"/><path class="l3" d="M1054 713"/><path class="l5" d="M1048 778"/><path class="l23" d="M1041 859"/><path class="l54" d="M1040 932"/><path class="l53" d="M1041 926"/><path class="l9" d="M1056 690"/><path class="l10" d="M1057 711"/><path class="l2" d="M1057 713l1-2"/><path class="l19" d="M1048 793"/><path class="l18" d="M1048 769"/><path class="l30" d="M1041 885"/><path class="l35" d="M1041 853"/><path class="l1" d="M1058 688"/><path class="l9" d="M1059 713l3-23 3-13"/><path class="l1" d="M1066 698l8-40 0 17"/><path class="l12" d="M1050 778"/><path class="l10" d="M1052 756"/><path class="l17" d="M1053 752l8-39"/><path class="l2" d="M1066 713l3-4 1-39"/><path class="l46" d="M1041 911"/><path class="l52" d="M1042 904l2 3"/><path class="l44" d="M1042 883l2 15 1 4"/><path class="l51" d="M1042 881l2 0"/><path class="l21" d="M1042 834"/><path class="l28" d="M1043 864"/><path class="l35" d="M1044 872l2-4"/><path class="l4" d="M1054 778"/><path class="l3" d="M1069 707"/><path class="l10" d="M1070 703l4-11"/><path class="l2" d="M1073 709l11-43"/><path class="l46" d="M1045 924"/><path class="l52" d="M1045 924l2 2"/><path class="l12" d="M1044 819"/><path class="l14" d="M1048 812"/><path class="l20" d="M1046 853l3-32 1-2 2 0"/><path class="l43" d="M1046 883l5-22"/><path class="l44" d="M1047 891"/><path class="l10" d="M1074 707"/><path class="l3" d="M1080 711l1-32 1 28 2 11"/><path class="l2" d="M1076 713l11 0"/><path class="l53" d="M1050 907"/><path class="l19" d="M1052 806"/><path class="l28" d="M1051 829"/><path class="l20" d="M1052 840l1-19"/><path class="l52" d="M1048 902"/><path class="l29" d="M1054 881"/><path class="l9" d="M1087 692"/><path class="l10" d="M1085 726"/><path class="l13" d="M1055 795"/><path class="l44" d="M1054 861"/><path class="l35" d="M1053 821"/><path class="l27" d="M1053 819"/><path class="l46" d="M1054 928"/><path class="l38" d="M1054 900"/><path class="l2" d="M1087 705"/><path class="l1" d="M1092 675"/><path class="l17" d="M1088 703l6-30"/><path class="l20" d="M1058 799"/><path class="l11" d="M1054 821l8-30"/><path class="l20" d="M1056 812l6 4 1 0"/><path class="l19" d="M1056 821l3-13"/><path class="l36" d="M1057 868"/><path class="l50" d="M1056 844"/><path class="l21" d="M1065 819l4 2"/><path class="l45" d="M1055 924"/><path class="l52" d="M1055 928l4-4"/><path class="l44" d="M1058 898"/><path class="l10" d="M1088 713"/><path class="l1" d="M1095 666"/><path class="l13" d="M1060 776"/><path class="l29" d="M1057 879"/><path class="l28" d="M1058 857"/><path class="l20" d="M1059 821l4-48"/><path class="l36" d="M1059 859l0 9"/><path class="l19" d="M1060 821l6 32"/><path class="l52" d="M1059 907"/><path class="l17" d="M1075 748"/><path class="l37" d="M1060 883"/><path class="l11" d="M1064 776"/><path class="l13" d="M1067 793"/><path class="l27" d="M1068 840"/><path class="l21" d="M1070 821l1-2"/><path class="l44" d="M1060 900"/><path class="l45" d="M1064 911"/><path class="l46" d="M1064 928"/><path class="l28" d="M1067 868"/><path class="l18" d="M1066 769"/><path class="l19" d="M1067 782"/><path class="l20" d="M1070 827"/><path class="l37" d="M1061 885"/><path class="l44" d="M1061 883l12 21"/><path class="l45" d="M1063 907l5-9"/><path class="l29" d="M1065 879l5 10"/><path class="l30" d="M1070 883l2-15"/><path class="l25" d="M1066 767"/><path class="l12" d="M1070 778"/><path class="l27" d="M1071 829"/><path class="l20" d="M1074 773l7 48"/><path class="l28" d="M1062 881"/><path class="l39" d="M1067 926"/><path class="l18" d="M1073 758"/><path class="l19" d="M1073 791"/><path class="l41" d="M1073 849"/><path class="l45" d="M1070 898"/><path class="l44" d="M1071 902"/><path class="l47" d="M1068 949"/><path class="l35" d="M1073 810"/><path class="l20" d="M1076 821l1 0 2 0"/><path class="l22" d="M1072 879"/><path class="l29" d="M1072 872l12-8"/><path class="l52" d="M1069 926"/><path class="l26" d="M1074 797"/><path class="l12" d="M1076 778l4 30"/><path class="l20" d="M1081 819l1 0 0 2"/><path class="l44" d="M1073 894"/><path class="l38" d="M1072 919"/><path class="l34" d="M1080 795"/><path class="l44" d="M1074 902"/><path class="l46" d="M1074 922"/><path class="l19" d="M1081 778"/><path class="l26" d="M1082 803"/><path class="l37" d="M1076 885"/><path class="l51" d="M1077 915"/><path class="l12" d="M1081 765"/><path class="l34" d="M1084 795"/><path class="l20" d="M1086 814"/><path class="l43" d="M1077 885"/><path class="l30" d="M1079 866"/><path class="l46" d="M1085 926"/><path class="l17" d="M1082 756"/><path class="l18" d="M1085 769"/><path class="l13" d="M1086 821"/><path class="l19" d="M1087 814l3 5"/><path class="l51" d="M1078 913"/><path class="l44" d="M1080 881"/><path class="l12" d="M1089 776"/><path class="l20" d="M1088 821l5-22"/><path class="l11" d="M1090 743"/><path class="l46" d="M1086 926"/><path class="l51" d="M1081 885"/><path class="l36" d="M1082 879"/><path class="l19" d="M1089 795"/><path class="l4" d="M1092 722"/><path class="l3" d="M1093 711"/><path class="l2" d="M1093 713"/><path class="l10" d="M1096 690l5 2"/><path class="l2" d="M1106 683l10 7"/><path class="l39" d="M1088 928"/><path class="l28" d="M1082 872"/><path class="l44" d="M1087 887"/><path class="l12" d="M1094 776"/><path class="l25" d="M1093 713"/><path class="l1" d="M1096 664"/><path class="l9" d="M1093 705l12-58 0 4"/><path class="l2" d="M1108 685l2-15 1 30"/><path class="l16" d="M1111 647l4 2 13 2"/><path class="l45" d="M1089 926"/><path class="l37" d="M1085 866"/><path class="l34" d="M1095 756"/><path class="l27" d="M1095 797"/><path class="l17" d="M1095 713"/><path class="l10" d="M1097 754l2-41"/><path class="l2" d="M1105 709l2 4"/><path class="l3" d="M1117 696"/><path class="l9" d="M1121 677l1-2"/><path class="l1" d="M1126 668l20-28"/><path class="l31" d="M1089 915"/><path class="l45" d="M1086 885l4 13"/><path class="l44" d="M1085 876"/><path class="l36" d="M1086 859l4 2 1-8"/><path class="l20" d="M1094 821l6 6"/><path class="l34" d="M1096 795"/><path class="l17" d="M1099 754"/><path class="l4" d="M1105 711"/><path class="l16" d="M1169 627"/><path class="l52" d="M1089 919"/><path class="l37" d="M1092 904"/><path class="l30" d="M1091 879"/><path class="l43" d="M1091 868l8 0"/><path class="l37" d="M1093 885l2 11"/><path class="l14" d="M1098 814"/><path class="l26" d="M1098 793"/><path class="l41" d="M1102 756"/><path class="l10" d="M1112 728"/><path class="l38" d="M1093 926"/><path class="l36" d="M1093 887"/><path class="l43" d="M1096 861"/><path class="l35" d="M1098 846l1-40"/><path class="l12" d="M1102 778"/><path class="l11" d="M1108 739"/><path class="l4" d="M1113 711l4-4"/><path class="l46" d="M1095 928"/><path class="l52" d="M1094 883"/><path class="l22" d="M1101 816"/><path class="l20" d="M1101 816"/><path class="l28" d="M1102 868l1-37"/><path class="l25" d="M1103 761"/><path class="l38" d="M1096 915"/><path class="l27" d="M1102 819"/><path class="l35" d="M1103 810l0 6"/><path class="l27" d="M1104 821l1-11"/><path class="l11" d="M1105 791l3-18"/><path class="l28" d="M1107 819l2 0"/><path class="l36" d="M1108 859"/><path class="l10" d="M1111 758"/><path class="l52" d="M1096 891"/><path class="l13" d="M1108 778"/><path class="l43" d="M1108 838"/><path class="l30" d="M1100 885"/><path class="l39" d="M1101 926"/><path class="l20" d="M1110 776"/><path class="l23" d="M1115 819"/><path class="l51" d="M1100 879"/><path class="l37" d="M1105 883l1-11"/><path class="l38" d="M1101 915"/><path class="l36" d="M1105 894"/><path class="l44" d="M1105 885l1-2"/><path class="l12" d="M1111 776"/><path class="l20" d="M1115 795l3 8"/><path class="l52" d="M1107 876"/><path class="l53" d="M1105 928"/><path class="l45" d="M1105 922l7 6"/><path class="l36" d="M1108 889"/><path class="l29" d="M1111 859l2 24"/><path class="l3" d="M1114 748"/><path class="l19" d="M1119 803"/><path class="l12" d="M1121 778"/><path class="l31" d="M1115 857"/><path class="l39" d="M1110 915"/><path class="l46" d="M1111 919l1-10"/><path class="l28" d="M1108 879"/><path class="l44" d="M1113 885l1-2"/><path class="l11" d="M1114 743"/><path class="l21" d="M1119 829"/><path class="l47" d="M1110 926"/><path class="l53" d="M1112 926l4-2"/><path class="l36" d="M1116 861"/><path class="l4" d="M1116 713"/><path class="l26" d="M1117 761"/><path class="l25" d="M1119 752"/><path class="l28" d="M1119 819"/><path class="l37" d="M1116 904"/><path class="l39" d="M1120 926"/><path class="l44" d="M1118 857"/><path class="l36" d="M1121 849l3 15 1 0"/><path class="l37" d="M1119 872l4-2"/><path class="l11" d="M1118 709"/><path class="l17" d="M1121 726"/><path class="l21" d="M1121 810"/><path class="l27" d="M1122 838l3-17"/><path class="l31" d="M1119 894"/><path class="l36" d="M1119 885l4-34"/><path class="l53" d="M1120 922"/><path class="l35" d="M1119 857"/><path class="l18" d="M1119 709"/><path class="l3" d="M1122 700"/><path class="l11" d="M1123 709l3-4"/><path class="l28" d="M1121 816"/><path class="l38" d="M1125 881"/><path class="l45" d="M1121 917"/><path class="l38" d="M1125 907l1 2"/><path class="l53" d="M1127 924l1 4"/><path class="l10" d="M1126 696"/><path class="l3" d="M1124 713"/><path class="l20" d="M1122 806"/><path class="l30" d="M1127 883"/><path class="l38" d="M1130 922"/><path class="l39" d="M1134 926"/><path class="l46" d="M1135 926l0 2"/><path class="l33" d="M1126 681"/><path class="l4" d="M1128 711"/><path class="l35" d="M1124 801"/><path class="l36" d="M1128 872"/><path class="l37" d="M1130 879"/><path class="l25" d="M1127 675"/><path class="l18" d="M1129 713"/><path class="l28" d="M1124 819"/><path class="l14" d="M1126 778"/><path class="l25" d="M1127 752l3 2"/><path class="l45" d="M1132 904"/><path class="l1" d="M1129 679"/><path class="l35" d="M1125 816"/><path class="l43" d="M1126 842"/><path class="l19" d="M1126 786"/><path class="l2" d="M1129 741"/><path class="l52" d="M1132 907"/><path class="l44" d="M1134 885l2 22"/><path class="l45" d="M1135 917l7 9"/><path class="l9" d="M1129 673"/><path class="l3" d="M1133 698l2-32"/><path class="l20" d="M1128 819"/><path class="l35" d="M1131 842l0 13"/><path class="l28" d="M1130 810l0 9"/><path class="l20" d="M1131 821l1-5 2 0"/><path class="l34" d="M1127 776"/><path class="l18" d="M1133 750"/><path class="l4" d="M1136 713l7-60"/><path class="l10" d="M1137 711l5-4"/><path class="l1" d="M1138 675"/><path class="l9" d="M1138 711l5-43"/><path class="l2" d="M1144 685l0 26 2-34"/><path class="l10" d="M1144 713l3-2"/><path class="l52" d="M1135 872"/><path class="l44" d="M1135 879l2-22 0 28"/><path class="l21" d="M1135 821"/><path class="l41" d="M1128 778"/><path class="l19" d="M1132 799"/><path class="l16" d="M1171 634"/><path class="l1" d="M1147 677"/><path class="l10" d="M1149 683l3 7"/><path class="l17" d="M1151 664l5 24"/><path class="l34" d="M1148 713"/><path class="l3" d="M1151 709l1-4 1 4"/><path class="l18" d="M1132 778l21-71"/><path class="l10" d="M1154 711l3-2 1-15"/><path class="l36" d="M1144 857"/><path class="l52" d="M1139 885"/><path class="l44" d="M1139 879l1 23 6-41"/><path class="l28" d="M1141 808l1 71"/><path class="l43" d="M1135 821"/><path class="l20" d="M1138 819l3-9"/><path class="l33" d="M1152 666"/><path class="l25" d="M1153 731"/><path class="l11" d="M1136 771"/><path class="l47" d="M1142 917"/><path class="l44" d="M1142 885"/><path class="l21" d="M1141 816"/><path class="l35" d="M1142 836"/><path class="l29" d="M1144 819l1 66"/><path class="l44" d="M1146 879l1-9"/><path class="l1" d="M1161 660"/><path class="l2" d="M1163 670"/><path class="l3" d="M1166 683"/><path class="l10" d="M1159 711"/><path class="l34" d="M1137 795"/><path class="l18" d="M1137 773"/><path class="l28" d="M1145 806"/><path class="l43" d="M1144 853"/><path class="l51" d="M1148 885"/><path class="l16" d="M1168 645"/><path class="l1" d="M1174 623l8 4"/><path class="l16" d="M1177 597l17 20"/><path class="l26" d="M1169 675"/><path class="l27" d="M1141 806"/><path class="l19" d="M1143 795"/><path class="l12" d="M1144 769"/><path class="l20" d="M1144 773l2 48"/><path class="l28" d="M1148 819l1 30"/><path class="l45" d="M1149 904"/><path class="l24" d="M1200 597"/><path class="l2" d="M1171 666"/><path class="l19" d="M1146 776"/><path class="l21" d="M1147 799"/><path class="l41" d="M1148 756"/><path class="l12" d="M1150 773l6 0"/><path class="l23" d="M1154 816"/><path class="l36" d="M1150 861"/><path class="l39" d="M1149 924"/><path class="l54" d="M1155 928l3 0"/><path class="l29" d="M1154 885"/><path class="l8" d="M1201 621"/><path class="l17" d="M1171 668"/><path class="l9" d="M1178 675l8-2"/><path class="l10" d="M1154 752"/><path class="l27" d="M1155 831"/><path class="l13" d="M1155 776"/><path class="l19" d="M1157 773l2-8"/><path class="l30" d="M1156 864"/><path class="l37" d="M1156 894"/><path class="l16" d="M1215 602"/><path class="l1" d="M1178 651l66-54"/><path class="l18" d="M1154 743"/><path class="l12" d="M1159 778l3-5"/><path class="l10" d="M1155 711l30-58"/><path class="l11" d="M1161 767l4-24"/><path class="l21" d="M1157 819"/><path class="l20" d="M1161 821"/><path class="l36" d="M1157 857"/><path class="l45" d="M1158 879"/><path class="l52" d="M1156 894"/><path class="l46" d="M1157 913"/><path class="l9" d="M1271 580"/><path class="l4" d="M1165 707"/><path class="l18" d="M1176 767"/><path class="l35" d="M1158 846"/><path class="l28" d="M1159 808"/><path class="l29" d="M1163 816"/><path class="l37" d="M1159 868"/><path class="l45" d="M1159 896"/><path class="l39" d="M1159 919"/><path class="l10" d="M1168 698"/><path class="l11" d="M1168 713"/><path class="l9" d="M1178 683"/><path class="l19" d="M1163 801"/><path class="l13" d="M1168 778"/><path class="l20" d="M1164 819"/><path class="l28" d="M1164 842l1-23 4 12"/><path class="l21" d="M1168 808l2-30"/><path class="l27" d="M1169 810l2 9"/><path class="l28" d="M1171 819l4 0"/><path class="l20" d="M1175 814l1 0"/><path class="l28" d="M1177 816l0 5"/><path class="l29" d="M1162 859"/><path class="l52" d="M1160 915"/><path class="l17" d="M1171 743"/><path class="l2" d="M1174 713"/><path class="l12" d="M1170 782"/><path class="l35" d="M1171 855"/><path class="l45" d="M1161 900"/><path class="l46" d="M1164 926"/><path class="l3" d="M1171 711"/><path class="l4" d="M1174 709"/><path class="l33" d="M1175 752"/><path class="l20" d="M1172 788"/><path class="l12" d="M1175 692l0 84"/><path class="l51" d="M1161 898"/><path class="l54" d="M1164 928"/><path class="l55" d="M1165 947"/><path class="l53" d="M1166 926"/><path class="l11" d="M1178 711"/><path class="l3" d="M1183 696l3 13 3 4"/><path class="l35" d="M1179 806"/><path class="l42" d="M1178 795"/><path class="l20" d="M1180 771"/><path class="l38" d="M1162 885"/><path class="l46" d="M1168 919l2-6"/><path class="l47" d="M1173 928l7-2"/><path class="l5" d="M1184 711"/><path class="l2" d="M1185 690"/><path class="l9" d="M1187 681l0 2"/><path class="l21" d="M1182 814"/><path class="l26" d="M1181 780"/><path class="l52" d="M1164 885"/><path class="l29" d="M1164 874"/><path class="l11" d="M1193 711"/><path class="l25" d="M1187 700"/><path class="l2" d="M1190 666"/><path class="l9" d="M1192 649l4 19 2-13"/><path class="l34" d="M1181 776"/><path class="l44" d="M1165 883"/><path class="l51" d="M1167 881l0 4"/><path class="l36" d="M1170 855"/><path class="l18" d="M1194 713"/><path class="l3" d="M1194 703"/><path class="l10" d="M1193 666"/><path class="l3" d="M1196 681l4-4"/><path class="l11" d="M1185 765"/><path class="l19" d="M1188 778"/><path class="l12" d="M1190 767"/><path class="l52" d="M1165 885"/><path class="l43" d="M1171 857"/><path class="l27" d="M1177 834"/><path class="l24" d="M1201 651"/><path class="l9" d="M1200 679"/><path class="l18" d="M1201 692"/><path class="l37" d="M1172 883"/><path class="l46" d="M1176 915"/><path class="l28" d="M1175 853"/><path class="l52" d="M1173 885l3-21"/><path class="l44" d="M1177 902l1-47"/><path class="l21" d="M1181 819l1 0"/><path class="l17" d="M1203 660"/><path class="l1" d="M1210 627l13 18"/><path class="l2" d="M1203 670l3 5"/><path class="l47" d="M1175 911"/><path class="l37" d="M1180 879"/><path class="l28" d="M1183 819"/><path class="l20" d="M1184 801l0 20"/><path class="l27" d="M1186 821l2-20 2 0 4 11"/><path class="l9" d="M1221 623"/><path class="l1" d="M1226 636l3-39 12 33"/><path class="l53" d="M1181 928"/><path class="l52" d="M1180 881"/><path class="l51" d="M1181 883"/><path class="l28" d="M1188 816"/><path class="l30" d="M1193 819"/><path class="l20" d="M1191 776l9 32"/><path class="l19" d="M1192 778l4 34"/><path class="l3" d="M1240 625"/><path class="l45" d="M1183 913"/><path class="l38" d="M1185 900l0 4"/><path class="l36" d="M1183 864"/><path class="l35" d="M1194 819"/><path class="l28" d="M1199 816l1-2"/><path class="l11" d="M1192 763"/><path class="l27" d="M1202 799"/><path class="l53" d="M1185 924"/><path class="l51" d="M1184 870"/><path class="l29" d="M1199 819"/><path class="l19" d="M1193 756l10 45"/><path class="l20" d="M1195 773"/><path class="l26" d="M1196 767l2 4"/><path class="l27" d="M1197 778l7 19"/><path class="l28" d="M1186 855"/><path class="l44" d="M1198 861l1-8"/><path class="l21" d="M1201 825l2-4"/><path class="l28" d="M1204 816l2 3"/><path class="l29" d="M1208 810l2 9"/><path class="l35" d="M1212 821l1 0"/><path class="l42" d="M1196 731"/><path class="l19" d="M1203 778"/><path class="l27" d="M1204 778l0 2 1 2"/><path class="l12" d="M1200 711l4 39"/><path class="l19" d="M1206 778l2-2"/><path class="l39" d="M1189 885"/><path class="l36" d="M1212 819"/><path class="l27" d="M1209 776l4 32"/><path class="l28" d="M1211 799l6 15"/><path class="l21" d="M1218 819l1 2"/><path class="l11" d="M1198 713"/><path class="l3" d="M1206 692"/><path class="l26" d="M1209 782"/><path class="l47" d="M1189 909"/><path class="l53" d="M1190 926l4 0"/><path class="l35" d="M1220 819"/><path class="l4" d="M1201 711"/><path class="l10" d="M1206 670"/><path class="l12" d="M1216 776"/><path class="l37" d="M1195 885"/><path class="l27" d="M1223 821"/><path class="l11" d="M1202 707"/><path class="l3" d="M1203 709l4-9 9-30"/><path class="l10" d="M1209 707l3-13"/><path class="l18" d="M1206 728l6-28"/><path class="l28" d="M1216 795"/><path class="l52" d="M1196 898"/><path class="l45" d="M1198 876"/><path class="l25" d="M1207 743"/><path class="l11" d="M1208 713"/><path class="l3" d="M1212 711l0 17 1-17 2 2 2-30 1 22 0 4"/><path class="l22" d="M1225 803"/><path class="l46" d="M1199 917"/><path class="l38" d="M1200 874"/><path class="l37" d="M1204 887"/><path class="l53" d="M1202 924l2-24"/><path class="l18" d="M1216 752"/><path class="l9" d="M1225 658"/><path class="l10" d="M1228 685"/><path class="l44" d="M1207 864"/><path class="l45" d="M1206 885"/><path class="l33" d="M1217 728"/><path class="l4" d="M1218 713l3-2 4 2"/><path class="l3" d="M1230 703l0 8"/><path class="l10" d="M1232 694l3 17"/><path class="l1" d="M1229 643"/><path class="l52" d="M1207 891"/><path class="l7" d="M1220 765"/><path class="l11" d="M1233 709"/><path class="l19" d="M1222 771l16-38"/><path class="l9" d="M1234 660"/><path class="l36" d="M1209 876"/><path class="l44" d="M1209 870l3-2"/><path class="l39" d="M1212 904"/><path class="l3" d="M1235 677"/><path class="l9" d="M1236 688l4-18"/><path class="l1" d="M1240 638"/><path class="l9" d="M1245 615l3 36"/><path class="l1" d="M1260 643l1-22"/><path class="l43" d="M1213 870"/><path class="l51" d="M1213 861l1 15"/><path class="l38" d="M1215 898"/><path class="l11" d="M1236 700"/><path class="l2" d="M1253 636"/><path class="l35" d="M1215 866"/><path class="l44" d="M1217 879l2-3 2-2"/><path class="l51" d="M1221 842l0 2"/><path class="l47" d="M1215 926"/><path class="l25" d="M1238 692"/><path class="l9" d="M1260 649"/><path class="l38" d="M1223 881"/><path class="l28" d="M1223 821"/><path class="l36" d="M1227 868"/><path class="l54" d="M1219 926"/><path class="l3" d="M1242 679"/><path class="l1" d="M1260 632"/><path class="l9" d="M1244 677l23-47"/><path class="l20" d="M1225 816"/><path class="l35" d="M1226 840"/><path class="l28" d="M1225 808l2 13"/><path class="l39" d="M1223 922"/><path class="l10" d="M1270 640"/><path class="l3" d="M1247 692"/><path class="l2" d="M1290 604"/><path class="l51" d="M1229 868"/><path class="l20" d="M1226 795"/><path class="l19" d="M1226 795"/><path class="l43" d="M1227 819"/><path class="l45" d="M1224 907"/><path class="l46" d="M1227 928"/><path class="l10" d="M1250 675"/><path class="l13" d="M1229 773"/><path class="l35" d="M1231 834"/><path class="l21" d="M1232 816"/><path class="l52" d="M1225 896"/><path class="l3" d="M1261 662"/><path class="l34" d="M1232 769"/><path class="l26" d="M1232 776l4 2"/><path class="l27" d="M1238 767l2 11"/><path class="l19" d="M1240 761l1 15"/><path class="l20" d="M1237 750"/><path class="l45" d="M1228 885"/><path class="l21" d="M1233 806"/><path class="l4" d="M1241 711"/><path class="l38" d="M1231 902"/><path class="l28" d="M1234 812"/><path class="l27" d="M1240 793"/><path class="l11" d="M1244 713"/><path class="l46" d="M1233 926"/><path class="l52" d="M1234 902"/><path class="l22" d="M1236 819"/><path class="l28" d="M1237 819l7-22"/><path class="l3" d="M1244 711"/><path class="l19" d="M1244 778l3-65"/><path class="l18" d="M1247 709l3 2"/><path class="l38" d="M1234 879"/><path class="l20" d="M1250 782"/><path class="l21" d="M1248 750"/><path class="l12" d="M1252 703"/><path class="l10" d="M1252 700"/><path class="l9" d="M1252 700"/><path class="l44" d="M1238 861"/><path class="l46" d="M1241 913"/><path class="l53" d="M1241 924l2 2 2 0"/><path class="l14" d="M1252 767"/><path class="l5" d="M1257 670"/><path class="l4" d="M1264 690"/><path class="l52" d="M1239 876"/><path class="l47" d="M1250 926"/><path class="l46" d="M1254 922"/><path class="l20" d="M1253 799"/><path class="l27" d="M1256 741"/><path class="l17" d="M1265 658"/><path class="l44" d="M1240 881"/><path class="l21" d="M1258 773"/><path class="l5" d="M1261 713"/><path class="l3" d="M1270 666"/><path class="l2" d="M1271 647"/><path class="l36" d="M1241 859"/><path class="l52" d="M1242 889"/><path class="l53" d="M1244 896"/><path class="l44" d="M1243 881l2 6"/><path class="l52" d="M1245 885l5 0"/><path class="l33" d="M1262 713"/><path class="l9" d="M1278 636"/><path class="l28" d="M1243 842"/><path class="l47" d="M1251 913"/><path class="l44" d="M1249 861"/><path class="l45" d="M1253 883"/><path class="l4" d="M1264 703"/><path class="l3" d="M1281 608"/><path class="l1" d="M1288 632"/><path class="l22" d="M1245 819"/><path class="l53" d="M1253 909"/><path class="l10" d="M1264 675"/><path class="l17" d="M1265 703"/><path class="l18" d="M1267 711"/><path class="l11" d="M1273 705l0 6"/><path class="l32" d="M1291 621"/><path class="l2" d="M1270 666l45-43"/><path class="l43" d="M1246 821"/><path class="l36" d="M1249 855"/><path class="l38" d="M1255 900"/><path class="l25" d="M1267 681"/><path class="l3" d="M1270 673l5 38"/><path class="l1" d="M1293 600"/><path class="l22" d="M1250 814"/><path class="l44" d="M1253 861"/><path class="l45" d="M1256 876"/><path class="l52" d="M1256 874l1-4"/><path class="l47" d="M1257 917"/><path class="l10" d="M1271 675"/><path class="l9" d="M1271 668"/><path class="l8" d="M1298 604"/><path class="l2" d="M1281 649l34-30"/><path class="l29" d="M1253 821"/><path class="l54" d="M1257 926"/><path class="l52" d="M1258 911"/><path class="l25" d="M1272 690"/><path class="l3" d="M1275 658"/><path class="l9" d="M1319 610"/><path class="l1" d="M1276 675l45-54 15-17"/><path class="l21" d="M1253 816"/><path class="l44" d="M1258 844l0 41"/><path class="l52" d="M1261 885l3-6 3 2 1 0 4 2"/><path class="l47" d="M1258 928"/><path class="l11" d="M1276 700"/><path class="l17" d="M1279 675"/><path class="l4" d="M1280 703l7-24"/><path class="l10" d="M1287 677l1 6"/><path class="l27" d="M1254 799"/><path class="l46" d="M1262 919"/><path class="l53" d="M1259 926"/><path class="l2" d="M1289 653"/><path class="l20" d="M1258 810"/><path class="l22" d="M1262 821"/><path class="l54" d="M1262 926"/><path class="l52" d="M1264 883"/><path class="l9" d="M1292 651"/><path class="l28" d="M1260 793"/><path class="l29" d="M1264 827"/><path class="l47" d="M1267 922"/><path class="l2" d="M1296 645"/><path class="l20" d="M1260 782"/><path class="l27" d="M1261 799l1-23"/><path class="l43" d="M1264 851"/><path class="l54" d="M1268 928"/><path class="l9" d="M1300 647"/><path class="l35" d="M1262 806"/><path class="l12" d="M1266 754"/><path class="l36" d="M1269 855"/><path class="l45" d="M1271 909"/><path class="l46" d="M1276 928"/><path class="l28" d="M1263 814"/><path class="l35" d="M1266 776"/><path class="l5" d="M1278 707"/><path class="l51" d="M1274 864"/><path class="l37" d="M1275 885"/><path class="l53" d="M1278 926"/><path class="l22" d="M1267 821"/><path class="l26" d="M1268 778"/><path class="l11" d="M1281 711"/><path class="l18" d="M1269 767l12-58 1-11"/><path class="l46" d="M1279 881"/><path class="l45" d="M1279 898"/><path class="l44" d="M1280 879"/><path class="l47" d="M1282 917"/><path class="l28" d="M1268 803"/><path class="l36" d="M1269 821l2 17"/><path class="l35" d="M1269 821"/><path class="l34" d="M1270 778"/><path class="l41" d="M1269 767"/><path class="l25" d="M1273 752"/><path class="l26" d="M1283 707"/><path class="l4" d="M1289 692l0 19"/><path class="l21" d="M1275 816"/><path class="l28" d="M1283 819l3 0"/><path class="l52" d="M1279 859"/><path class="l42" d="M1271 776"/><path class="l33" d="M1277 746"/><path class="l10" d="M1291 683"/><path class="l11" d="M1290 713"/><path class="l44" d="M1281 866"/><path class="l20" d="M1277 795"/><path class="l19" d="M1289 746"/><path class="l25" d="M1292 675"/><path class="l3" d="M1291 711"/><path class="l5" d="M1292 700"/><path class="l38" d="M1285 885"/><path class="l46" d="M1287 919l8-34"/><path class="l29" d="M1280 797"/><path class="l20" d="M1280 767l0 9"/><path class="l28" d="M1280 801"/><path class="l35" d="M1280 797l6-21"/><path class="l26" d="M1281 791l8-28"/><path class="l29" d="M1280 819l6-3"/><path class="l28" d="M1284 814l4 0"/><path class="l2" d="M1296 677"/><path class="l25" d="M1291 722"/><path class="l11" d="M1293 707"/><path class="l44" d="M1286 881"/><path class="l53" d="M1290 926"/><path class="l50" d="M1286 793"/><path class="l43" d="M1287 842"/><path class="l17" d="M1303 664"/><path class="l18" d="M1307 668"/><path class="l12" d="M1297 743"/><path class="l2" d="M1294 696"/><path class="l18" d="M1297 707l1 2"/><path class="l46" d="M1293 926"/><path class="l35" d="M1290 799"/><path class="l21" d="M1291 778"/><path class="l38" d="M1288 870"/><path class="l19" d="M1295 709"/><path class="l17" d="M1298 683"/><path class="l9" d="M1298 692l5 4"/><path class="l53" d="M1305 926"/><path class="l30" d="M1293 821"/><path class="l20" d="M1294 793"/><path class="l31" d="M1296 881"/><path class="l13" d="M1305 713"/><path class="l11" d="M1307 705"/><path class="l3" d="M1309 675"/><path class="l51" d="M1294 844"/><path class="l42" d="M1294 771"/><path class="l35" d="M1294 806"/><path class="l45" d="M1297 881"/><path class="l44" d="M1302 881"/><path class="l38" d="M1304 911"/><path class="l17" d="M1307 692"/><path class="l10" d="M1311 683l1 15 2-2"/><path class="l9" d="M1311 670"/><path class="l36" d="M1295 821"/><path class="l29" d="M1298 819l1 0"/><path class="l20" d="M1301 763"/><path class="l27" d="M1306 778"/><path class="l46" d="M1307 900"/><path class="l32" d="M1311 675"/><path class="l4" d="M1316 645"/><path class="l36" d="M1299 819"/><path class="l51" d="M1302 849"/><path class="l28" d="M1303 778"/><path class="l54" d="M1308 919"/><path class="l53" d="M1312 904"/><path class="l25" d="M1312 685"/><path class="l17" d="M1320 664"/><path class="l9" d="M1326 643l1 17"/><path class="l29" d="M1299 810"/><path class="l36" d="M1303 861"/><path class="l37" d="M1311 861"/><path class="l19" d="M1306 776"/><path class="l39" d="M1314 917"/><path class="l17" d="M1333 645"/><path class="l43" d="M1300 821"/><path class="l20" d="M1305 799"/><path class="l13" d="M1307 743"/><path class="l55" d="M1331 934"/><path class="l9" d="M1337 645"/><path class="l32" d="M1338 619"/><path class="l36" d="M1303 821"/><path class="l28" d="M1304 816l1 3"/><path class="l35" d="M1305 806l0 43"/><path class="l27" d="M1305 821l4-39"/><path class="l20" d="M1307 735"/><path class="l2" d="M1341 604"/><path class="l44" d="M1313 855"/><path class="l38" d="M1315 866l0 19"/><path class="l53" d="M1320 909l8 15"/><path class="l35" d="M1306 812"/><path class="l50" d="M1310 797"/><path class="l28" d="M1311 806l0 6"/><path class="l33" d="M1310 733"/><path class="l24" d="M1344 621"/><path class="l10" d="M1348 597"/><path class="l2" d="M1350 602l3 36"/><path class="l37" d="M1316 834"/><path class="l52" d="M1324 879"/><path class="l54" d="M1325 928"/><path class="l34" d="M1314 778"/><path class="l36" d="M1312 819"/><path class="l51" d="M1313 810"/><path class="l12" d="M1311 711"/><path class="l9" d="M1356 600"/><path class="l1" d="M1367 600l3-7"/><path class="l50" d="M1318 859"/><path class="l27" d="M1318 776"/><path class="l22" d="M1318 819"/><path class="l3" d="M1314 709"/><path class="l18" d="M1317 741"/><path class="l9" d="M1372 619"/><path class="l20" d="M1319 767"/><path class="l43" d="M1319 812"/><path class="l36" d="M1320 819l1 2"/><path class="l28" d="M1322 778l0 21 1 22 2-2"/><path class="l11" d="M1316 713"/><path class="l12" d="M1320 707"/><path class="l41" d="M1319 754"/><path class="l27" d="M1325 771"/><path class="l29" d="M1329 821"/><path class="l36" d="M1324 844"/><path class="l4" d="M1321 713"/><path class="l44" d="M1325 874"/><path class="l20" d="M1321 711"/><path class="l11" d="M1324 743l1-30"/><path class="l52" d="M1329 874"/><path class="l36" d="M1329 838"/><path class="l5" d="M1322 692"/><path class="l12" d="M1325 698l1 2 8 13 1-8"/><path class="l11" d="M1328 705l2 8 5-43"/><path class="l10" d="M1328 668l3 15"/><path class="l3" d="M1335 692l6-39 6 24 2-11"/><path class="l18" d="M1335 713l1-2"/><path class="l19" d="M1327 754"/><path class="l46" d="M1338 900"/><path class="l45" d="M1342 887"/><path class="l22" d="M1330 812"/><path class="l43" d="M1330 821l1-13 0 13"/><path class="l11" d="M1339 700"/><path class="l17" d="M1353 645"/><path class="l27" d="M1329 771"/><path class="l54" d="M1341 926"/><path class="l52" d="M1345 902"/><path class="l36" d="M1337 840"/><path class="l4" d="M1342 690"/><path class="l21" d="M1330 778"/><path class="l20" d="M1336 771"/><path class="l27" d="M1336 769l1 9"/><path class="l45" d="M1348 915"/><path class="l29" d="M1338 821"/><path class="l52" d="M1340 857"/><path class="l38" d="M1344 868l1 11"/><path class="l54" d="M1351 922l4 4"/><path class="l53" d="M1349 898l6-22"/><path class="l38" d="M1358 881l1 6"/><path class="l54" d="M1370 926l12 2"/><path class="l28" d="M1335 797"/><path class="l30" d="M1339 814"/><path class="l35" d="M1337 761"/><path class="l21" d="M1339 812"/><path class="l36" d="M1340 816l0 3 2 2"/><path class="l19" d="M1337 739"/><path class="l35" d="M1344 799"/><path class="l29" d="M1345 821"/><path class="l4" d="M1342 711"/><path class="l43" d="M1345 801"/><path class="l27" d="M1343 748l4 38"/><path class="l20" d="M1346 756l5 0"/><path class="l44" d="M1345 836"/><path class="l11" d="M1344 694"/><path class="l4" d="M1345 711l4-21"/><path class="l11" d="M1347 711l2 0 2-4"/><path class="l17" d="M1354 683l1-13"/><path class="l28" d="M1346 819"/><path class="l18" d="M1350 681"/><path class="l33" d="M1351 733"/><path class="l11" d="M1352 703l0 8"/><path class="l3" d="M1358 653"/><path class="l9" d="M1358 653l0 11"/><path class="l22" d="M1348 814"/><path class="l12" d="M1354 707"/><path class="l20" d="M1351 752"/><path class="l27" d="M1352 776l0 12"/><path class="l25" d="M1363 640"/><path class="l9" d="M1369 636l2-9 0 18"/><path class="l28" d="M1348 810"/><path class="l34" d="M1352 754"/><path class="l12" d="M1354 709"/><path class="l10" d="M1366 647"/><path class="l23" d="M1355 821"/><path class="l27" d="M1356 763"/><path class="l18" d="M1355 711"/><path class="l29" d="M1356 821"/><path class="l38" d="M1357 866"/><path class="l20" d="M1359 778"/><path class="l19" d="M1361 771"/><path class="l34" d="M1364 741"/><path class="l12" d="M1364 711l2 2"/><path class="l11" d="M1358 707"/><path class="l10" d="M1358 688"/><path class="l45" d="M1357 821"/><path class="l35" d="M1358 814l1 2 1 3"/><path class="l53" d="M1360 909"/><path class="l42" d="M1363 778"/><path class="l4" d="M1366 711"/><path class="l6" d="M1371 709"/><path class="l18" d="M1359 675"/><path class="l10" d="M1363 658l10-3"/><path class="l17" d="M1362 690"/><path class="l36" d="M1358 819"/><path class="l38" d="M1368 864"/><path class="l47" d="M1393 928"/><path class="l19" d="M1369 767"/><path class="l9" d="M1361 675"/><path class="l28" d="M1361 806"/><path class="l45" d="M1379 868"/><path class="l37" d="M1362 799l20 65"/><path class="l54" d="M1401 928"/><path class="l25" d="M1363 679"/><path class="l44" d="M1364 814"/><path class="l21" d="M1367 799l1-34"/><path class="l27" d="M1371 771l1 5"/><path class="l45" d="M1383 859"/><path class="l17" d="M1366 681"/><path class="l11" d="M1370 653l1 97"/><path class="l35" d="M1368 801"/><path class="l30" d="M1368 819"/><path class="l53" d="M1396 885"/><path class="l10" d="M1367 668"/><path class="l5" d="M1371 705"/><path class="l2" d="M1376 638"/><path class="l34" d="M1373 769"/><path class="l20" d="M1372 713l9 52"/><path class="l12" d="M1375 720l4-7"/><path class="l18" d="M1378 630l6 113"/><path class="l28" d="M1370 806"/><path class="l29" d="M1373 808"/><path class="l44" d="M1371 840"/><path class="l17" d="M1372 681"/><path class="l11" d="M1380 707"/><path class="l2" d="M1390 604"/><path class="l1" d="M1391 604"/><path class="l30" d="M1371 821"/><path class="l52" d="M1386 853"/><path class="l33" d="M1373 683"/><path class="l51" d="M1374 829"/><path class="l43" d="M1374 810"/><path class="l36" d="M1375 821l2 8"/><path class="l25" d="M1374 666"/><path class="l9" d="M1379 653l5 13"/><path class="l11" d="M1375 700"/><path class="l26" d="M1380 711l6-36"/><path class="l21" d="M1379 791"/><path class="l35" d="M1381 776l1 0"/><path class="l43" d="M1378 819"/><path class="l37" d="M1385 821l2 23"/><path class="l17" d="M1384 651"/><path class="l33" d="M1377 688"/><path class="l13" d="M1390 711l2 0"/><path class="l12" d="M1386 713"/><path class="l20" d="M1386 778"/><path class="l36" d="M1386 821"/><path class="l44" d="M1390 855"/><path class="l3" d="M1387 638"/><path class="l11" d="M1384 690"/><path class="l27" d="M1393 713"/><path class="l13" d="M1386 763"/><path class="l22" d="M1388 801"/><path class="l37" d="M1396 866"/><path class="l9" d="M1395 621"/><path class="l3" d="M1389 679"/><path class="l11" d="M1392 683l6-23 0 21 0 7 4-24"/><path class="l10" d="M1390 660l3 10 14 0"/><path class="l34" d="M1394 724"/><path class="l43" d="M1389 821"/><path class="l36" d="M1394 821l2 0"/><path class="l52" d="M1396 842l15 22"/><path class="l27" d="M1389 782"/><path class="l46" d="M1398 896"/><path class="l54" d="M1401 926l1 0"/><path class="l1" d="M1398 600"/><path class="l17" d="M1401 619l2 30"/><path class="l12" d="M1396 705"/><path class="l51" d="M1396 821"/><path class="l35" d="M1392 803"/><path class="l22" d="M1394 773"/><path class="l38" d="M1407 894"/><path class="l52" d="M1409 883l4-11"/><path class="l3" d="M1403 634"/><path class="l4" d="M1396 709"/><path class="l43" d="M1397 819"/><path class="l36" d="M1396 786"/><path class="l13" d="M1399 754"/><path class="l53" d="M1416 894"/><path class="l54" d="M1429 926"/><path class="l25" d="M1405 610"/><path class="l33" d="M1408 655"/><path class="l9" d="M1410 640"/><path class="l19" d="M1399 700"/><path class="l50" d="M1397 797"/><path class="l28" d="M1399 765"/><path class="l29" d="M1400 776"/><path class="l1" d="M1405 597"/><path class="l10" d="M1399 690l11-80"/><path class="l1" d="M1434 604l4-11"/><path class="l25" d="M1412 640"/><path class="l2" d="M1418 623l14-17"/><path class="l12" d="M1400 713"/><path class="l19" d="M1402 713l2-6 1 6"/><path class="l11" d="M1405 709l1-26 0 24"/><path class="l37" d="M1399 814"/><path class="l50" d="M1401 769"/><path class="l17" d="M1441 591"/><path class="l3" d="M1409 679"/><path class="l19" d="M1408 713"/><path class="l27" d="M1399 816"/><path class="l28" d="M1402 812"/><path class="l36" d="M1404 795l4 13"/><path class="l42" d="M1403 756"/><path class="l26" d="M1406 767l4-56"/><path class="l27" d="M1407 776l2-3"/><path class="l1" d="M1443 589"/><path class="l10" d="M1410 668"/><path class="l43" d="M1400 821"/><path class="l18" d="M1411 713"/><path class="l35" d="M1413 778"/><path class="l20" d="M1417 752"/><path class="l26" d="M1411 664"/><path class="l9" d="M1411 668l3-15"/><path class="l25" d="M1416 670l1-2"/><path class="l51" d="M1402 819"/><path class="l36" d="M1405 814l3 0"/><path class="l11" d="M1415 709"/><path class="l19" d="M1412 692"/><path class="l11" d="M1414 707l3-15"/><path class="l19" d="M1416 709l1 4"/><path class="l3" d="M1418 645"/><path class="l35" d="M1409 799"/><path class="l44" d="M1406 821"/><path class="l18" d="M1419 683"/><path class="l11" d="M1418 707"/><path class="l21" d="M1418 778"/><path class="l29" d="M1410 821"/><path class="l4" d="M1426 653"/><path class="l19" d="M1420 709"/><path class="l34" d="M1427 763"/><path class="l44" d="M1410 821"/><path class="l10" d="M1427 649"/><path class="l9" d="M1429 653"/><path class="l25" d="M1432 630"/><path class="l2" d="M1431 647l7-26 5 4"/><path class="l11" d="M1423 709"/><path class="l51" d="M1412 819"/><path class="l9" d="M1458 597"/><path class="l20" d="M1423 694"/><path class="l19" d="M1424 713"/><path class="l36" d="M1412 831"/><path class="l52" d="M1414 849l1 6"/><path class="l28" d="M1420 808"/><path class="l41" d="M1425 692"/><path class="l34" d="M1424 711"/><path class="l26" d="M1425 711l6-17"/><path class="l51" d="M1413 819"/><path class="l39" d="M1424 883"/><path class="l54" d="M1426 900l5 13"/><path class="l25" d="M1427 685"/><path class="l49" d="M1425 705"/><path class="l36" d="M1416 819"/><path class="l52" d="M1426 859l1 11"/><path class="l35" d="M1416 819"/><path class="l53" d="M1425 885"/><path class="l19" d="M1436 670"/><path class="l41" d="M1426 711"/><path class="l26" d="M1431 705l0 6 2 2"/><path class="l11" d="M1437 713l6-2"/><path class="l30" d="M1420 812"/><path class="l29" d="M1422 814"/><path class="l45" d="M1431 876"/><path class="l46" d="M1432 885"/><path class="l47" d="M1434 926"/><path class="l54" d="M1444 915l42 11"/><path class="l44" d="M1437 870"/><path class="l4" d="M1437 647"/><path class="l10" d="M1440 653l7 15"/><path class="l14" d="M1440 698"/><path class="l13" d="M1442 713"/><path class="l19" d="M1444 707l1-9 2 15 1-13"/><path class="l51" d="M1424 821"/><path class="l55" d="M1441 926"/><path class="l4" d="M1445 636"/><path class="l17" d="M1449 636l4 9"/><path class="l20" d="M1447 707"/><path class="l36" d="M1426 812"/><path class="l46" d="M1447 896"/><path class="l9" d="M1448 597"/><path class="l18" d="M1451 660"/><path class="l26" d="M1449 711"/><path class="l20" d="M1428 778"/><path class="l54" d="M1474 926"/><path class="l1" d="M1463 593"/><path class="l25" d="M1451 664"/><path class="l11" d="M1449 703"/><path class="l18" d="M1450 703l3-26 2-17"/><path class="l26" d="M1457 649l0 21"/><path class="l36" d="M1428 814"/><path class="l9" d="M1464 597"/><path class="l34" d="M1450 711"/><path class="l19" d="M1453 683"/><path class="l17" d="M1458 625"/><path class="l43" d="M1428 821"/><path class="l42" d="M1430 778"/><path class="l26" d="M1451 707"/><path class="l41" d="M1451 713"/><path class="l11" d="M1455 705l1 2"/><path class="l9" d="M1462 600"/><path class="l51" d="M1429 821"/><path class="l43" d="M1430 819l1 0"/><path class="l20" d="M1436 761"/><path class="l27" d="M1446 797l1-21 1-3 7-38"/><path class="l2" d="M1458 692"/><path class="l3" d="M1473 602"/><path class="l9" d="M1475 582l31 3"/><path class="l1" d="M1475 604"/><path class="l36" d="M1433 827"/><path class="l20" d="M1456 756"/><path class="l18" d="M1459 696"/><path class="l12" d="M1461 707l1-32"/><path class="l9" d="M1478 587"/><path class="l29" d="M1437 821"/><path class="l18" d="M1462 675"/><path class="l51" d="M1439 840"/><path class="l25" d="M1463 675"/><path class="l11" d="M1465 651"/><path class="l17" d="M1466 636l0 32 5-25"/><path class="l33" d="M1468 673l9-46"/><path class="l30" d="M1439 816"/><path class="l18" d="M1468 653"/><path class="l43" d="M1440 814"/><path class="l51" d="M1440 816l1 0"/><path class="l11" d="M1478 670"/><path class="l10" d="M1479 647"/><path class="l36" d="M1442 821"/><path class="l1" d="M1479 649"/><path class="l43" d="M1443 821"/><path class="l10" d="M1482 664"/><path class="l51" d="M1445 816"/><path class="l38" d="M1449 859"/><path class="l39" d="M1449 868"/><path class="l3" d="M1484 640"/><path class="l36" d="M1449 806"/><path class="l45" d="M1449 885"/><path class="l53" d="M1455 911l2-30"/><path class="l10" d="M1486 619"/><path class="l51" d="M1449 816"/><path class="l54" d="M1468 928"/><path class="l37" d="M1458 872"/><path class="l2" d="M1487 610"/><path class="l29" d="M1451 801"/><path class="l44" d="M1454 821l4 0"/><path class="l43" d="M1451 797l1-24"/><path class="l54" d="M1466 907"/><path class="l9" d="M1488 632"/><path class="l10" d="M1488 645"/><path class="l21" d="M1459 812"/><path class="l50" d="M1456 778"/><path class="l17" d="M1489 608"/><path class="l9" d="M1490 604l2-4"/><path class="l44" d="M1459 821"/><path class="l30" d="M1464 816l2-10"/><path class="l20" d="M1457 769"/><path class="l28" d="M1458 750l8 47"/><path class="l25" d="M1494 610"/><path class="l38" d="M1467 857"/><path class="l27" d="M1462 778"/><path class="l37" d="M1469 819"/><path class="l40" d="M1500 604"/><path class="l17" d="M1504 619l4-26"/><path class="l53" d="M1468 876"/><path class="l35" d="M1464 752"/><path class="l9" d="M1510 604"/><path class="l47" d="M1475 896"/><path class="l44" d="M1476 870"/><path class="l6" d="M1465 713"/><path class="l12" d="M1468 692l3 4"/><path class="l28" d="M1468 778"/><path class="l42" d="M1469 765"/><path class="l1" d="M1536 587"/><path class="l53" d="M1479 894"/><path class="l41" d="M1470 679"/><path class="l7" d="M1472 711"/><path class="l18" d="M1473 685l0 24"/><path class="l11" d="M1476 692l3-17 11-9 3 17"/><path class="l23" d="M1472 786"/><path class="l38" d="M1480 874"/><path class="l35" d="M1477 756"/><path class="l19" d="M1478 711"/><path class="l12" d="M1477 703"/><path class="l19" d="M1478 709l2 2 2 2 4 0"/><path class="l43" d="M1472 778"/><path class="l30" d="M1474 821"/><path class="l28" d="M1476 814"/><path class="l54" d="M1487 917"/><path class="l12" d="M1482 692"/><path class="l19" d="M1483 703l1 6"/><path class="l21" d="M1477 767"/><path class="l43" d="M1478 806"/><path class="l45" d="M1492 881"/><path class="l47" d="M1494 917"/><path class="l54" d="M1496 924l27-2"/><path class="l12" d="M1484 675"/><path class="l11" d="M1486 711"/><path class="l19" d="M1489 713l1-2"/><path class="l27" d="M1486 752"/><path class="l21" d="M1479 819"/><path class="l18" d="M1494 675"/><path class="l26" d="M1491 713"/><path class="l13" d="M1493 698"/><path class="l12" d="M1493 696"/><path class="l42" d="M1487 761"/><path class="l51" d="M1481 814"/><path class="l11" d="M1495 683"/><path class="l3" d="M1497 653"/><path class="l19" d="M1494 711"/><path class="l34" d="M1491 752"/><path class="l44" d="M1483 821"/><path class="l36" d="M1483 801"/><path class="l33" d="M1495 677"/><path class="l18" d="M1500 662l0 13 1 4 1 11 1-24 2 9"/><path class="l10" d="M1503 640"/><path class="l12" d="M1498 711"/><path class="l19" d="M1498 696l0 13"/><path class="l51" d="M1484 819"/><path class="l44" d="M1485 814"/><path class="l43" d="M1486 795"/><path class="l2" d="M1506 651"/><path class="l3" d="M1509 640"/><path class="l4" d="M1528 612"/><path class="l35" d="M1499 709"/><path class="l19" d="M1500 709l1 4 7-21 2 13 1-17"/><path class="l36" d="M1486 816"/><path class="l27" d="M1487 778l1 0"/><path class="l44" d="M1497 821l4 0"/><path class="l36" d="M1502 803l0 3"/><path class="l25" d="M1510 660"/><path class="l17" d="M1541 606"/><path class="l20" d="M1503 707"/><path class="l43" d="M1488 853"/><path class="l35" d="M1492 778"/><path class="l9" d="M1515 653"/><path class="l10" d="M1515 662"/><path class="l2" d="M1542 621"/><path class="l11" d="M1514 675"/><path class="l52" d="M1493 861"/><path class="l44" d="M1496 864l12-9"/><path class="l28" d="M1497 765"/><path class="l19" d="M1500 778"/><path class="l25" d="M1528 647"/><path class="l17" d="M1542 597"/><path class="l18" d="M1518 685"/><path class="l45" d="M1500 851"/><path class="l47" d="M1500 881"/><path class="l53" d="M1506 889l2-8 1 26"/><path class="l42" d="M1499 748"/><path class="l20" d="M1501 769"/><path class="l10" d="M1546 591"/><path class="l33" d="M1520 675"/><path class="l31" d="M1510 819"/><path class="l54" d="M1511 924"/><path class="l47" d="M1526 902l3-8"/><path class="l27" d="M1500 733"/><path class="l35" d="M1501 765l6 8"/><path class="l28" d="M1508 795l5 0 8-13"/><path class="l40" d="M1548 585"/><path class="l9" d="M1548 593l1 4"/><path class="l25" d="M1521 673"/><path class="l37" d="M1513 838"/><path class="l53" d="M1538 876l3 5"/><path class="l47" d="M1544 913l1-37"/><path class="l19" d="M1502 713"/><path class="l20" d="M1505 711"/><path class="l30" d="M1507 791"/><path class="l36" d="M1513 819l4-20 5-15"/><path class="l51" d="M1515 821l1 0"/><path class="l36" d="M1519 821l3-7"/><path class="l24" d="M1554 597"/><path class="l10" d="M1525 675"/><path class="l53" d="M1547 872"/><path class="l54" d="M1550 919"/><path class="l41" d="M1502 731"/><path class="l42" d="M1507 722"/><path class="l19" d="M1508 713l4-2 3 0 2 45"/><path class="l11" d="M1518 703l1-11"/><path class="l28" d="M1523 797"/><path class="l31" d="M1528 821"/><path class="l51" d="M1528 806l0 15"/><path class="l17" d="M1557 582"/><path class="l9" d="M1561 606"/><path class="l47" d="M1556 881"/><path class="l12" d="M1520 713"/><path class="l26" d="M1522 750"/><path class="l19" d="M1520 703l7 30"/><path class="l46" d="M1550 853"/><path class="l2" d="M1569 578"/><path class="l3" d="M1569 585"/><path class="l9" d="M1569 585l1 19"/><path class="l22" d="M1527 771"/><path class="l26" d="M1520 709"/><path class="l11" d="M1523 692"/><path class="l1" d="M1578 557"/><path class="l35" d="M1528 778"/><path class="l14" d="M1530 711"/><path class="l25" d="M1526 675"/><path class="l43" d="M1533 786"/><path class="l18" d="M1528 666"/><path class="l35" d="M1535 808"/><path class="l44" d="M1538 816l1 0"/><path class="l51" d="M1537 773"/><path class="l26" d="M1532 670"/><path class="l36" d="M1542 821"/><path class="l35" d="M1540 799"/><path class="l42" d="M1542 769l1 9"/><path class="l44" d="M1544 819l3-3"/><path class="l43" d="M1541 769"/><path class="l11" d="M1533 688"/><path class="l51" d="M1547 819"/><path class="l44" d="M1549 821l4-5"/><path class="l7" d="M1535 709"/><path class="l26" d="M1535 666l0 45"/><path class="l43" d="M1549 819"/><path class="l51" d="M1556 795"/><path class="l11" d="M1537 692"/><path class="l18" d="M1537 658"/><path class="l10" d="M1538 688"/><path class="l19" d="M1537 707"/><path class="l20" d="M1538 703"/><path class="l12" d="M1539 698l5-2 0 15"/><path class="l37" d="M1553 844"/><path class="l2" d="M1539 640"/><path class="l26" d="M1544 683"/><path class="l19" d="M1545 696l4-21"/><path class="l20" d="M1546 711"/><path class="l44" d="M1553 819"/><path class="l52" d="M1556 816l1 45"/><path class="l17" d="M1541 645"/><path class="l18" d="M1545 679"/><path class="l27" d="M1547 733"/><path class="l35" d="M1559 791"/><path class="l46" d="M1562 874"/><path class="l10" d="M1546 636"/><path class="l26" d="M1547 692"/><path class="l19" d="M1549 713"/><path class="l30" d="M1564 816"/><path class="l53" d="M1564 885"/><path class="l55" d="M1568 924"/><path class="l2" d="M1550 645"/><path class="l18" d="M1551 649l0 41"/><path class="l49" d="M1551 718"/><path class="l19" d="M1551 707l7 6"/><path class="l44" d="M1564 816"/><path class="l25" d="M1551 649"/><path class="l2" d="M1551 623"/><path class="l11" d="M1551 675l18-63"/><path class="l12" d="M1553 668l14-53"/><path class="l3" d="M1571 615l14-26"/><path class="l9" d="M1555 673"/><path class="l35" d="M1551 750"/><path class="l37" d="M1567 821"/><path class="l10" d="M1554 658"/><path class="l19" d="M1557 692l3 21"/><path class="l25" d="M1556 655l2-17"/><path class="l20" d="M1560 705"/><path class="l30" d="M1559 773"/><path class="l44" d="M1570 821"/><path class="l9" d="M1557 658"/><path class="l4" d="M1572 623"/><path class="l3" d="M1572 619"/><path class="l9" d="M1572 619l19-30"/><path class="l26" d="M1561 698"/><path class="l10" d="M1565 690l22-86"/><path class="l35" d="M1562 750"/><path class="l52" d="M1571 821"/><path class="l17" d="M1562 651"/><path class="l1" d="M1610 567"/><path class="l28" d="M1565 778"/><path class="l14" d="M1570 711"/><path class="l31" d="M1575 816"/><path class="l41" d="M1564 666"/><path class="l43" d="M1569 769"/><path class="l19" d="M1568 679l7 67"/><path class="l44" d="M1571 799"/><path class="l38" d="M1576 866"/><path class="l18" d="M1575 655"/><path class="l10" d="M1569 692"/><path class="l12" d="M1571 700"/><path class="l20" d="M1574 711l1-2"/><path class="l22" d="M1576 778"/><path class="l53" d="M1585 885"/><path class="l47" d="M1585 898l43 2"/><path class="l44" d="M1627 855"/><path class="l11" d="M1576 638"/><path class="l26" d="M1575 713l1-55"/><path class="l25" d="M1579 660"/><path class="l34" d="M1579 679"/><path class="l31" d="M1576 806"/><path class="l46" d="M1616 881"/><path class="l33" d="M1577 649"/><path class="l17" d="M1579 634l2 47"/><path class="l49" d="M1579 670"/><path class="l11" d="M1580 698"/><path class="l51" d="M1577 806"/><path class="l10" d="M1581 627"/><path class="l18" d="M1582 696"/><path class="l20" d="M1583 707"/><path class="l13" d="M1589 711l1 0"/><path class="l43" d="M1577 797"/><path class="l5" d="M1590 653"/><path class="l34" d="M1584 696"/><path class="l27" d="M1591 715"/><path class="l36" d="M1577 786"/><path class="l37" d="M1586 821"/><path class="l18" d="M1591 643"/><path class="l19" d="M1588 681"/><path class="l12" d="M1591 705"/><path class="l43" d="M1581 797"/><path class="l28" d="M1587 769"/><path class="l44" d="M1586 819"/><path class="l3" d="M1592 627"/><path class="l20" d="M1593 709"/><path class="l13" d="M1593 668l1 28"/><path class="l29" d="M1584 778"/><path class="l52" d="M1592 819"/><path class="l10" d="M1593 627"/><path class="l26" d="M1595 679"/><path class="l20" d="M1598 700"/><path class="l51" d="M1587 795"/><path class="l28" d="M1587 782l14-71"/><path class="l19" d="M1601 711l1-36"/><path class="l35" d="M1591 778l1 21"/><path class="l36" d="M1590 776l3 40"/><path class="l3" d="M1601 621"/><path class="l20" d="M1601 700"/><path class="l29" d="M1594 788"/><path class="l43" d="M1595 769l0 43"/><path class="l25" d="M1603 610"/><path class="l9" d="M1607 619l2-9 6-8 2-9"/><path class="l12" d="M1602 692"/><path class="l35" d="M1603 711"/><path class="l29" d="M1602 776"/><path class="l36" d="M1598 810"/><path class="l19" d="M1604 709"/><path class="l41" d="M1604 675"/><path class="l42" d="M1605 765"/><path class="l43" d="M1605 799"/><path class="l30" d="M1607 821"/><path class="l28" d="M1606 711"/><path class="l19" d="M1607 705l5-13"/><path class="l33" d="M1605 655"/><path class="l37" d="M1607 819"/><path class="l38" d="M1608 816"/><path class="l34" d="M1612 741"/><path class="l18" d="M1614 694"/><path class="l35" d="M1608 711"/><path class="l19" d="M1613 679"/><path class="l11" d="M1614 640"/><path class="l44" d="M1608 791"/><path class="l45" d="M1615 851"/><path class="l13" d="M1613 711"/><path class="l19" d="M1617 658"/><path class="l30" d="M1611 816"/><path class="l20" d="M1614 713"/><path class="l10" d="M1617 660"/><path class="l36" d="M1611 819"/><path class="l12" d="M1614 711"/><path class="l19" d="M1615 707l4-13"/><path class="l4" d="M1623 640"/><path class="l45" d="M1616 803"/><path class="l20" d="M1621 711"/><path class="l41" d="M1622 677"/><path class="l25" d="M1626 638"/><path class="l11" d="M1628 608"/><path class="l14" d="M1617 776"/><path class="l30" d="M1617 821"/><path class="l43" d="M1618 795l4-22"/><path class="l34" d="M1626 713"/><path class="l17" d="M1625 673"/><path class="l48" d="M1627 643"/><path class="l3" d="M1635 595"/><path class="l45" d="M1620 819"/><path class="l44" d="M1620 819"/><path class="l51" d="M1624 776"/><path class="l19" d="M1626 705"/><path class="l11" d="M1629 664"/><path class="l17" d="M1630 627"/><path class="l10" d="M1638 589"/><path class="l38" d="M1630 844"/><path class="l44" d="M1625 799"/><path class="l43" d="M1640 769"/><path class="l42" d="M1627 711"/><path class="l33" d="M1629 666"/><path class="l18" d="M1634 655l0 20"/><path class="l25" d="M1633 627l3 18"/><path class="l10" d="M1639 606l5 41"/><path class="l19" d="M1631 690"/><path class="l54" d="M1646 894"/><path class="l36" d="M1631 808"/><path class="l35" d="M1635 795"/><path class="l13" d="M1635 713"/><path class="l28" d="M1636 711l2 2"/><path class="l11" d="M1636 604"/><path class="l9" d="M1642 638"/><path class="l34" d="M1637 675"/><path class="l46" d="M1637 819"/><path class="l27" d="M1640 711"/><path class="l25" d="M1640 585"/><path class="l12" d="M1637 694"/><path class="l52" d="M1638 816"/><path class="l36" d="M1640 821l2 0"/><path class="l19" d="M1641 746"/><path class="l4" d="M1650 600"/><path class="l2" d="M1652 610"/><path class="l27" d="M1638 705"/><path class="l18" d="M1641 668"/><path class="l39" d="M1643 803"/><path class="l44" d="M1648 803l0 18"/><path class="l36" d="M1641 780"/><path class="l9" d="M1657 602"/><path class="l11" d="M1640 709"/><path class="l19" d="M1645 713l2-2"/><path class="l13" d="M1647 662"/><path class="l43" d="M1644 819"/><path class="l51" d="M1645 782l3 37"/><path class="l44" d="M1649 799l3 17"/><path class="l41" d="M1641 696"/><path class="l19" d="M1648 709l1-32"/><path class="l20" d="M1652 709l1 4"/><path class="l26" d="M1651 681l2 11 2-7"/><path class="l33" d="M1650 647"/><path class="l35" d="M1654 773"/><path class="l20" d="M1657 709"/><path class="l25" d="M1652 668"/><path class="l45" d="M1655 816"/><path class="l49" d="M1657 698"/></g>
<rect x="199.3" y="38.1" width="515.6" height="462.9" rx="12" fill="#fff" fill-opacity=".8" stroke="#ccc" stroke-opacity=".8" stroke-width="6"/>
<g font-family="'DejaVu Sans','Liberation Sans',sans-serif" font-size="60.75">
<text x="456.2" y="104.7" text-anchor="middle">diamond clarity</text>
<circle cx="300.7" cy="166.6" r="12.9" fill="#555"/>
<text x="386.5" y="178.5" font-size="48.6">I1</text>
<circle cx="300.7" cy="239.4" r="20.1" fill="#555"/>
<text x="386.5" y="251.3" font-size="48.6">SI1 SI2</text>
<circle cx="300.7" cy="312.2" r="25" fill="#555"/>
<text x="386.5" y="324.1" font-size="48.6">VS1 VS2</text>
<circle cx="300.7" cy="385" r="28.7" fill="#555"/>
<text x="386.5" y="396.9" font-size="48.6">VVS1 VVS2</text>
<circle cx="300.7" cy="457.8" r="30.6" fill="#555"/>
<text x="386.5" y="469.7" font-size="48.6">IF</text>
<text x="131.9" y="1164.8" text-anchor="end">0</text>
<text x="131.9" y="950.2" text-anchor="end">1</text>
<text x="131.9" y="735.5" text-anchor="end">2</text>
<text x="131.9" y="520.9" text-anchor="end">3</text>
<text x="131.9" y="306.3" text-anchor="end">4</text>
<text x="131.9" y="91.6" text-anchor="end">5</text>
<text x="219.8" y="1241.8" text-anchor="middle">0</text>
<text x="601.7" y="1241.8" text-anchor="middle">5000</text>
<text x="983.6" y="1241.8" text-anchor="middle">10000</text>
<text x="1365.5" y="1241.8" text-anchor="middle">15000</text>
<text x="950.9" y="1324.7" text-anchor="middle">diamond price $USD</text>
<text transform="translate(53.2 583.4) rotate(-90)" text-anchor="middle">diamond weight, carat</text>
<text x="174.5" y="1563.2" text-anchor="middle">1</text>
<text x="433.3" y="1563.2" text-anchor="middle">2</text>
<text x="692.1" y="1563.2" text-anchor="middle">3</text>
<text x="950.9" y="1563.2" text-anchor="middle">4</text>
<text x="1209.7" y="1563.2" text-anchor="middle">5</text>
<text x="1468.5" y="1563.2" text-anchor="middle">6</text>
<text x="1727.3" y="1563.2" text-anchor="middle">7</text>
<text x="950.9" y="1647.8" text-anchor="middle">diamond color</text>
</g>
<path d="M153.2 1142.6h21.3M153.2 928h21.3M153.2 713.3h21.3M153.2 498.7h21.3M153.2 284.1h21.3M153.2 69.4h21.3M219.8 1152.8v21.3M601.7 1152.8v21.3M983.6 1152.8v21.3M1365.5 1152.8v21.3M174.5 1474.5v22.3M433.3 1474.5v22.3M692.1 1474.5v22.3M950.9 1474.5v22.3M1209.7 1474.5v22.3M1468.5 1474.5v22.3M1727.3 1474.5v22.3" stroke="#000" stroke-width="4.86" fill="none"/>
<rect x="174.5" y="13.8" width="1552.8" height="1139" fill="none" stroke="#000" stroke-width="4.86"/>
<defs><linearGradient id="vg" x1="0" x2="1" y1="0" y2="0"><stop offset="0%" stop-color="#440154"/><stop offset="3.1%" stop-color="#470d60"/><stop offset="6.2%" stop-color="#48186a"/><stop offset="9.4%" stop-color="#482374"/><stop offset="12.5%" stop-color="#472d7b"/><stop offset="15.6%" stop-color="#453781"/><stop offset="18.8%" stop-color="#424086"/><stop offset="21.9%" stop-color="#3e4989"/><stop offset="25%" stop-color="#3b528b"/><stop offset="28.1%" stop-color="#375b8d"/><stop offset="31.2%" stop-color="#33638d"/><stop offset="34.4%" stop-color="#2f6b8e"/><stop offset="37.5%" stop-color="#2c728e"/><stop offset="40.6%" stop-color="#297a8e"/><stop offset="43.8%" stop-color="#26828e"/><stop offset="46.9%" stop-color="#23898e"/><stop offset="50%" stop-color="#21918c"/><stop offset="53.1%" stop-color="#1f988b"/><stop offset="56.2%" stop-color="#1fa088"/><stop offset="59.4%" stop-color="#22a785"/><stop offset="62.5%" stop-color="#28ae80"/><stop offset="65.6%" stop-color="#32b67a"/><stop offset="68.8%" stop-color="#3fbc73"/><stop offset="71.9%" stop-color="#4ec36b"/><stop offset="75%" stop-color="#5ec962"/><stop offset="78.1%" stop-color="#70cf57"/><stop offset="81.2%" stop-color="#84d44b"/><stop offset="84.4%" stop-color="#98d83e"/><stop offset="87.5%" stop-color="#addc30"/><stop offset="90.6%" stop-color="#c2df23"/><stop offset="93.8%" stop-color="#d8e219"/><stop offset="96.9%" stop-color="#ece51b"/><stop offset="100%" stop-color="#fde725"/></linearGradient></defs>
<rect x="174.5" y="1398.6" width="1552.8" height="75.9" fill="url(#vg)" stroke="#000" stroke-width="4.86"/>
<g stroke="#000" stroke-opacity=".15" stroke-width="7.3" fill="none"><path d="M1961 5.2V1476.1"/><path d="M2187.4 5.2V1476.1"/><path d="M2413.9 5.2V1476.1"/><path d="M2640.3 5.2V1476.1"/><path d="M2866.7 5.2V1476.1"/><path d="M3093.2 5.2V1476.1"/><path d="M3319.6 5.2V1476.1"/><path d="M3546 5.2V1476.1"/><path d="M1940.6 107.8H3608.1"/><path d="M1940.6 314.6H3608.1"/><path d="M1940.6 521.4H3608.1"/><path d="M1940.6 728.2H3608.1"/><path d="M1940.6 935H3608.1"/><path d="M1940.6 1141.8H3608.1"/><path d="M1940.6 1348.6H3608.1"/></g>
<g class="p" clip-path="url(#rc)"><path class="r1" d="M1979 1226l44-13 52-73 9 0 2 0 50-11 18-11 37-96 16 17 3 10 20-10 17 0 7 38 23-55 4 0 40-25 13-47 46-14 26-54 24 0 2 0 6 0 5 0 8 47 7-153 31 81 7 31 20-6 3 0 30-42 1 17 13-51 15 22 5-52 10-65 13 106 30-46 2 5 6-5 1 5 2 0 2-48 2 48 3-5 1 5 2 47 28-112 4 4 9-42 28 83 7-45 1 17 3-9 0 9 1-4 2-26 0 26 21-9 3 0 0 13 5-22 0 18 2-26 0 4 3 4 17 5 1-42 0 59 2-89 0 26 0 50 3-13 4-21 3 0 4 21 5-85 5 98 4 4 1 0 1-84 4 34 5-23 16-18 4 70 4-84 2 67 1-19 3-16 0 44 8-9 14-64 4 15 3 3 1 11 0 44 2-55 3 50 5-64 3 3 6-20 19 28 5-25 13 17 3-17 2 3 5-64 1 54 4-20 6 4 5-44 2 57 4-54 4 44 0 3 14-50 3 3 3 25 7-25 2-3 0 3 18 64 10-67 2-17 4 20 1 3 16 15 1-32 5-9 6 11 1-5 1 17 5-3 8-26 8-24 7 24 5 44 1-104 7 60 1 0 2-2 8-3 10-24 6 2 8-2 7 13 4-26 3 13 1-94 2 83 8-59 5 70 4-35 4-46 9 55 3-19 9-25 9 0 3-11 5 68 2 5 2-62 9-3 3-4 3-4 1 4 1-44 1 46 2 7 5-2 0 2 3 28 3-81 1 25 0 46 5-40 0 22 23-41 0 11 0 19 4-11 2 9 2 6 2 2 1-13 2 9 3-4 0 4 8-11 2-37 0 46 1-77 2 37 0 25 2 10 1-2 1-21 9 0 3 2 0 37 1-45 7-43 1 29 7-8 1 0 4 6 3 6 8-8 0 2 15 16 9-26 11-15 2 25 1-21 12 0 5 15 1-7 1-33 0 38 5-3 1-35 6 29 0 9 12-37 23-76 12 80 2-4 13-5 2-73 41 44 9 9"/><path class="r2" d="M1979 1240l5 0 10 14 7-41 1 56 8-29 18-40 7 13 17 0 45-26 32-69 12 22 3 0 5 0 3-22 0 22 31-33 51-20 7-10 18-38 5-26 6 0 0 45 5-27 6-81 0 89 1-8 17 18 2-10 3 0 47-50 2-8 10-23 8 7 2 24 7 8 1-24 31-30 10 7 2 0 9-7 30-14 26-41 5 0 2 0 1-12 42 0 7 12 2-65 0 65 4-18 4-30 1 11 2-23 10 67 19-55 1 11 3-17 16 17 9-23 14-5 11-11 9 16 1-52 16 47 2 0 1 5 5 18 5-70 4-10 2-42 6 42 15 30 2-20 6-15 28-24 6-47 1 47 1 39 1-57 1 57 9-65 19 17 1-13 3-17 0 21 4-21 6 30 2-26 1 59 3-33 3-17 0 17 0 14 3 24 3-38 8 0 11-17 0 4 22-42 4 17 7-9 6-12 6 8 15 13 5-5 2-39 12 19 3-3 24-45 2 15 10-11 16-4 0 4 3 3 3 30 21-83 20 39 2-13 12-20 0 23 5-32 11 25 4-47 2 47 4-50 2 57 5-3 7-51 4-26 7 38 4-12 5 0 7 0 5 0 2 0 2 0 2-3 1-9 3-33 15 45 5 0 6 0 2 0 2 0 2-34 1 34 1-23 6-9 15-21 1 21 5-2 4-25 5 27 12-99 9 75 12-75 4 131 3-59 3-94 9 97 4 27 24-45 15-34 8-80 20 18 10 71 4-54 20 24 16 0 1-22 3 2 2 20 4 0 2-43 2 43 4-47 11 19 1-15 72-59 0 43 2-8 7-22 0 3 10-16 4 30 8 0 4-30 10 16 4-14 2 12 2 4 30-4 8-35"/><path class="r3" d="M1990 1240l9 29 3 0 11-15 15 0 13-28 4 14 4 14 24-28 5-26 14 13 6-50 4 50 3 27 9-77 9 0 10 24 3 26 13-84 14-22 2 22 6 34 8 24 21-110 0 41 28 45 24-86 18-55 6 45 15 0 11 0 2 10 10-72 8 8 31-24 2 50 17-17 3-33 9 0 19 0 3-31 0 23 5 16 13-39 1 15 4-8 12 0 1-15 20 15 3 0 15 0 3-15 2-21 47 7 6-60 16 39 5-45 2 18 18 0 6 0 2 0 54-71 11 11 9-5 9 11 3-38 10 16 0 34 74-70 14 0 42-48 2 19 3-19 15 23 2-57 3 72 3-29 4-47 72-44 111-39 10 3 51-76 12 30 1-18 15-3 7 21 2-18 2-3 0 37 29-34 3 0 25-34 129-97 22 25 5-23 4-2 4 0 5 2 14 4 18-4 1-2 4-45 41 10 1-47 16-14 22 39 21-17 5 9 17-37 12 33 17-47 5 4 14 5 4-144"/><path class="r9" d="M1973 1269l4 31 125-160 36-22 88-51 15 20 14-56 10 8 21-34 20 0 1 0 0 17 7-9 4-48 27 32 20-16 19-16 6 24 2 0 96-101 10 41 2-41 14 20 38-32 40-48 11-104 26 99 3-99 27 116 15-112 1 48 12-15 56-19 2-27 2 36 9-66 10 30 55 13 17-55 15 38 24-5 14-4 3 4 4-8 2-8 5 0 5 8 2-33 10-19 47-11 22 8 1-97 10-34 2 78 0 3 16-50 14-14 5 81 16-30 6-3 16-19 8-12 1-15 3 15 7-23 16 23 1 31 1-68 3-27 6 49 1 0 46-44 25 0 23-30 19 36 2-76 36 65 2-25 7-40 2 37 1-37 7 73 47-75 2 0 2 2 1 0 9-24 30-15 0 2 31 7 10-56 5 33 2 10 2-50 1 32 1 12 8-72 18 24 16-56 9-35 6 117 0 26 21-75 9 2 3-64 28-2"/><path class="r10" d="M2049 1240l58-14 1 14 1 0 31-133 29 11 28 11 11 11 7-118 3 45 2-62 146 17 9 0 19-17 3-32 1 16 2 0 4 16 8-40 2 8 50-85 8-12 86-6 7-7 67-29 8 6 14 23 10-62 1-30 0 5 7 52 8 35 66-220 20 197 18-44 10-5 2 5 4 16 28-36 19 0 53-48 15-96 0 115 115-126 22-53 10 19 47 23 1-73 17 53 9-16 117-65 16-3 41-89 6 60 3 13 8-28 7 20 28-76 25-7 33-25 11 4 1 19 41-87 44 58 1-40 6 18 13-42 20 60"/><path class="r0" d="M2027 1140l164-118 41-33 102-53 7-48 31 0 106-31 44-110 14 29 3 0 12 0 70-48 24-4 7 52 3-70 36-37 13 12 1-31 4 48 26-81 19 98 17-72 6 0 8 0 8 3 30-62 29 23 18 25 22-106 2 17 6 31 9-28 9-6 8-20 20 26 2 41 3-50 1 6 13 0 1-3 4 6 7-6 5 3 4-23 68-38 6-78 2 108 7-117 8-8 8-11 8-8 8-8 26 57 10-98 11 98 5 16 7-18 11-136 69 99 18 0 11-102 44-57 22 75 8 0 142-189 32 128 45-180"/><path class="r4" d="M2027 1269l8-56 3 56 5 0 11 0 14-56 16-13 30-13 46-24 19 0 54-45 3 0 90-51 55-28 46-42 10 0 27-32 12-29 0 22 48-76 17 61 20-55 9 0 6 0 2 34 17-65 0 31 5 0 84 0 4-71 35-51 28 40 5-30 32-52 12 0 3 37 2 5 7-55 53-49 2 66 85-74 39-44 146-70 4-31 10 37 22-26 28 26 3-23 6-33 14 56 24-59 124-61 19-9 3-59 40 57 18 0 10-65 104-39"/><path class="r16" d="M2157 1039l59 0 76-42 74-16 20-8 123-122 11-23 17 29 47-51 23 17 141-117 28-16 25-13 4-31 12 27 82-38 12-31 0 17 78-90 33-49 1 32 42 15 24-112 10-11 10-9 2 9 7-7 0 113 1-125 5 125 1-119 7-6 7-7 6-8 6-137 1 131 6-6 6-6 6-6 2 69 61-184 9 113 12-29 2 78 9-13 8 44 14-37 49-118 1 91 40-83 3-132 7 209 14-156 4 135 0 15 1-9 4-175 5 160 121-235"/><path class="r8" d="M2180 1039l104-96 103-67 176-100 10 0 4 15 13 0 17-15 16-10 21-5 21-33 10 19 3-23 42-43 8 47 0 23 4-49 7 9 19-17 1-4 3 8 19-13 6-23 79-69 7 31 12-27 96-63 24 56 8-47 60-17 1-14 6-22 4 24 34-24 47-59 24-14 2-2 23 2 10-7 4-36 12 64 15-92 4 62 35-63 1 15 11-74 14 94 6-24 12-2 17-11 9 13 4-21 21-22 20-110 9 126 37-14 49-209 5 38"/><path class="r18" d="M2080 1240l13 0 21 76 5-187 14 97 0 14 55-53 1 26 6-38 19-12 7-141 6 165 5-24 9 37 36-133 133-62 231-165 86 11 2-5 2-196 24 78 23 112 3-6 29 6 7-39 4-50 8 15 8-60 18 70 73-39 5-9 7 0 6 23 3-89 45-4 60-115 18 115 46-74 103 13 3 7 11-52 2-49 40-91 3 60 89 7 19-62 7 73 79-106 3-6 6-41 40 29 15 6"/><path class="r26" d="M1977 1140l171 114 44-54 3 13 3 27 1-14 69-229 8 166 1 12 4 25 3-49 1 62 6-73 64 23 4-12 47-162 25 151 3-22 32-41 14 0 1 0 116-80 63-47 0 8 41-107 111 6 4-40 8 29 4-23 14 17 2 6 3-50 106-142 31 74 4 0 6 14 69-138 53 81 1-4 3 4 13-4 2 0 18-74 52-3 152-101 22-13 15 27 11-139 16 117 17-5"/><path class="r1" d="M1977 1269l164-151 76-121 8 25 9 0 37 17 193-169 8 18 7-6 4-12 21 12 135-54 22-57 2 5 6 0 4-5 14 0 62-52 6 9 5-4 12-13 3 0 69-30 66-49 117-86 1-6 10-3 8 34 42-37 0 24 5-12 4 0 6-26 0 17 120-80 0 5 22-45 3 0 25-2 4-5 1 5 4 0 2-9 9 13 52-13 17 0 72-69 8-8 21 0 6-14"/><path class="r9" d="M2030 1213l40 13 204-187 128-58 28 8 46-101 9-18 26 18 18 0 39 0 2 0 32-42 6-6 82-64 91-57 4 9 6 14 1 5 3-32 0 13 6 14 4-14 8-30 0 30 27-13 16-69 15 0 6 31 4-19 1 0 55-8 95-104 68 0 8-23 6 54 7 3 25-82 53-19 6 3 2 30 64-43 29-52 1-2 76-59 1-4 10 24 26-22 3 6 1 22 26-45 4 6 5 13 3-4 9-4 16-20 0 7 8-6 68-23"/><path class="r17" d="M2184 1213l84-208 27 135 99-151 56-101 71 20 5-85 2-52 23 75 104-122 24 52 4-48 7-43 2 96 88-53 13 63 24-93 9 39 17 19 18-71 24-64 10 85 16-16 31 4 32-48 7 4 13-15 34-35 5 21 81-75 4 22 62-78 25-5 11 73 24-46 6-19 1-3 66-40 18-61 1 19 17 7 24-39 55 11 12-25 17 6 4-86 7 68 7 24 14-100 2 54 13-24 28-30 8 23 23-68"/><path class="r34" d="M2155 1087l35 182 1 0 23-29 0 14 30-54 16 40 4-27 3-13 4 26 13-63 3 50 8-191 29 153 37-24 72-54 6 32 80-90 79-74 6 57 30-57 2 0 22 8 51-258 117 125 4-150 33 150 3 0 14-297 26 258 43-45 8 0 2 5 12 0 10-147 8 10 41 104 5 23 81-53 82-25 44-73 2 0 98-39 3-30 24-2 2-12 6-11 5 14 10 0"/><path class="r1" d="M2040 1213l438-325 4 0 2 0 50-60 21 12 131-116 7 47 1-5 23-42 65 0 4 0 2 0 8 4 1 0 1 0 10 0 16-47 5 9 4 4 2-9 8 5 20-5 3-4 12-35 6 27 6-49 91-17 4 17 44-27 6-54 0 3 2 0 2 0 1-3 3 0 60 0 19 25 24-78 36 5 1-5 20-18 102-57 2 0 3 2 63-49 0 2 16 8 63-39 53-36 61-70"/><path class="r24" d="M2193 1067l4-94 26 66 36-34 0 26 13 0 115-66 90-83 14 0 3 6 61-207 42 165 3 0 65-55 137-93 8-8 6 0 4-5 1 39 49-78 128-103 29-6 17-3 55-17 5-107 4 154 2-47 53-139 7-6 6-6 6-4 0 39 6-45 6-6 12 39 3 49 9 2 6-123 5 74 22-105 14 31 8 100 2 0 13-26 18 19 2-81 14-16 19 61 49-31 28-33 11-75"/><path class="r10" d="M2198 1187l79-110 136-72 27 8 2-8 27-76 42-59 5 18 14 0 2 0 6 0 12 0 24 0 15-25 115-6 6 0 47-45 8-11 19 45 19-70 8-20 1 10 15-15 6 20 96-20 5-93 25 4 43-52 8 11 55-14 3-14 53-3 19-29 46-49 24-3 10-19 3 56 33-40 4 0 3-11 18-21 9-10 79-33 1-14 11 16 10-16 157-102 15-12"/><path class="r42" d="M1979 1429l66 22 137-211 8 44 2-15 36-15 16-67 0 26 27 27 2-14 3 14 1 0 1 0 8-65 2 51 1 0 28-26 10 13 35-13 6-37 10 24 5 0 26-47 149-143 33 16 17 9 27-33 23-24 1 0 29-7 124-95 13 7 41-58 27 34 71-99 18 19 9-5 130-50 16-30 4 9 13-21 28-11 1 11 31-45 2 4 57-21 74-70"/><path class="r2" d="M2121 1118l13 122 19-133 142-76 85-18 29-24 57-88 50-19 3 6 7-12 14 12 3 0 9 0 6 0 11-25 1 7 5 0 15-13 1 13 55-36 18-22 11 11 84-95 81-26 64 26 21-89 28 7 186-69 4-31 84-59 66-25 42 7 37-52 102-104 45 7 5 36 11-10"/><path class="r9" d="M2295 1039l1-17 80 0 23-33 9-8 1 8 6-8 97-99 7 6 6-12 1 12 7-12 8 12 5 0 2 0 13 0 21-31 60-29 17-100 15 89 20-41 6 10 67-58 4-4 23-5 26-13 8 31 4-60 6 34 4-5 25-16 45-5 11-39 8-7 22 7 1 0 18-32 21 7 4-7 0 10 36-20 2 13 4-20 1 24 66-81 10 6 73-61 18 5 13-13 96-60 18-9 1-15 0 6 15 18 4 0 40-45 38 19 9-37 28-4 0 4 7-43 34-1 33-11 7 4"/><path class="r25" d="M2232 1175l50-126 3-18 147 0 1 0 6-18 32 9 16 329 5-463 16-71 57 34 49-95 75-45 13 13 28 122 1 0 68-131 16 113 16-100 38-34 20-25 16-15 8 93 46-74 162-83 1-10 95-19 29-38 33-124 32-6 122 2 25-162 34 87 75-54"/><path class="r1" d="M2298 1031l215-143 4-6 14 6 5 0 4-12 1 6 50-19 58-35 2 0 2 0 47-57 71-43 48 23 16-70 1 0 5-4 9 25 39-37 16-19 26-3 1 0 47-33 64 7 17-27 53-53 97-52 1 5 2 0 72-86 34 13 1-24 36 24 39-41 85-65 12-1 10 5"/><path class="r17" d="M2411 1013l8-8 3 8 18 0 1 0 145-162 11 6 104-81 75 25 27-86 19 51 1-5 2 0 1-46 10 61 74-118 23-19 4 7 74-25 39-78 21 47 2 0 47-44 4 47 6-25 7 3 50-57 10-24 20 0 15-3 3-8 53-20 37 13 11-79 19 19 2 5 4 0 36-49 40 31 6-37 32-12 22-22 46-15"/><path class="r9" d="M2285 1049l14-27 222-134 48-31 2 0 2-11 1 0 85-18 150-117 1 8 27 9 5-59 4 16 8 21 17-21 38-42 4 11 0 11 76-58 28 17 28-17 8 7 61-85 0 11 5-9 7 62 63-73 8-19 7-3 118-81 42 0 81-45 2-16 29 0 30-46 5 1"/><path class="r11" d="M2080 1200l26 26 34-26 0 26 20 0 168-213 3-32 16 106 216-165 53-76 77 62 38-107 53-25 9 0 13 0 275-199 205-87 16 27 3 29 6-32 16-19 44-45 8-5 3 5 21 0 49-33 108-98 0 49 2-53"/><path class="r43" d="M2001 1451l5-22 35 22 8 0 165-151 179-87 1 0 1 0 70-38 49-78 14-20 17 30 3 0 2 0 131-94 46-8 7-8 89-61 3-7 102-66 283-157 1-8 2 13 2 8 1-8 96-83 5 4 12-15"/><path class="r1" d="M2343 973l358-202 3 5 125-57 18-54 8 46 55-76 2 0 3 0 1 23 19-19 2-4 3 11 110-100 3-3 67-3 1 6 3-20 85-25 9-8 25-16 81-62 5 2 10-30 0 10 1-2 1-8 170-81"/><path class="r27" d="M2195 1333l46-49 242-197 1 10 19-20 51-10 177-138 26-7 64-27 137-119 1 0 28 25 63-35 6-15 13 10 83-33 160-164 110-38 1 3 2 0 9-20 5 8 2 0 33-14 3-13"/><path class="r50" d="M2194 1269l1-15 3 30 2-44 19-14 25 14 76-40 66-60 38-182 14 160 172-96 1-25 1 25 1-9 48-70 3 0 13 46 2 0 439-291 6 17 2 4 27-4 3-13 2-33 13 21 253-170"/><path class="r35" d="M2198 1333l198-120 123-164 16 38 2 0 15 0 216-179 10 50 50-50 106-45 23-67 3-20 111-34 4 19 7-5 2-5 15-23 118-26 38-37 65-33 4-71 105-24 25-11 26-6 14-3"/><path class="r33" d="M2196 1240l8-27 197-263 15-68 9 469 79-481 280-172 32 153 11-23 51-294 37 151 46-130 130-15 56 84 59-155 20 131 55-220 10 154 33-8 26-3 5-3 32-136 11-14 9-67 104 53"/><path class="r16" d="M2330 981l155-93 175-112 10-5 10 0 2 5 21-57 132-38 5 30 2 0 1-5 13-60 2 35 1-35 42-7 247-133 2-19 60-18 18-57 45-34 7 37 7-5 9 2 84-60 0 18 2-16 26-44 16 3"/><path class="r55" d="M2362 1316l19 0 291-103 9-38 21-12 20 0 9-23 10 73 8 0 25-13 130-169 12-9 3 0 102-64 32-8 50-62 16 0 3 0 9-6 22 54 9-48 13 0 82-60 286-109"/><path class="r32" d="M2282 1022l245-134 53-31 76-34 61 390 4-511 45 13 3 13 61-9 2 5 4-43 36 0 19 13 3-4 228-116 52-183 8 96 0 3 130-80 2-15 2-162 19 173 10 9 108-86 17-1"/><path class="r19" d="M2140 1269l5 0 81-69 126-103 323-161 9-48 10 48 16-35 0 7 113-112 42-5 55-15 87-34 221-168 22-28 4 22 1 6 53 3 1 16 40-131 52 12 65-12"/><path class="r26" d="M2153 1254l43 15 52-82 1 0 26 39 10-63 2 0 311-205 38 31 3-24 1-7 173-88 12-69 4 39 103-64 68-25 10-14 172-91 2 16 33-34 3-57 79-76 28 11 10-29 38 52 8-60 4 37 2 28"/><path class="r34" d="M2197 1269l1 0 23-43 2 14 22 0 2 14 29-28 3 14 11-14 35-39 63-47 214-175 10 32 2 0 214-127 17-30 22-23 84-41 20-29 12 14 137-63 1 0 17-21 21 0 2-15 26 0 114-193 95 60 14 5"/><path class="r42" d="M2196 1254l3 15 2 0 52-82 34 53 49-53 53-47 50-33 0 11 1 0 176-121 21-8 6-39 187-74 1 0 17-42 72-58 64-25 70 5 85-71 4-4 19-4 27-15 1-12 1 15 28-41 79-78 24 86 53-101 50-11 53-30"/><path class="r18" d="M2112 1240l24 0 21-14 39-26 5-13 1 39 48-26 38-37 2-12 3-11 122-135 371-159 42-45 104-64 30 24 2 0 200-99 80-55 29-114 39 19 52-6 30-5 30-11"/><path class="r26" d="M2200 1200l2 40 25-14 20 0 6 28 1-67 35 53 3-14 34-26 11-13 53-47 1 0 265-182 174-88 3-7 10-67 5 50 25-23 54-37 53-49 18 10 222-123 26-10 55-68 14-37"/><path class="r41" d="M2191 1254l7-14 57-53 70 0 64-69 8 0 1 0 17 0 47-196 86 100 49-25 126-278 67 151 27 0 64-224 223 65 68-101 17 36 2-7 58-127 88-188 39 199"/><path class="r24" d="M2300 1022l99-33 86-107 28 6 17 0 131-117 30 5 79-52 51-9 2 9 19-26 22-4 27-32 30-30 184-89 100-66 0 13 75-73 29 0 5-7 2 5 156-86"/><path class="r49" d="M2187 1240l17-251 44 251 3-394 23 380 2 0 267-344 62 107 211-172 5-119 0 153 5-5 39-12 72-87 24 14 112-19 45-52 2 0 272-173 80-218"/><path class="r10" d="M2116 1240l90-53 180-165 4 0 1 0 20-33 16-16 254-145 144-47 82-53 35 0 13-66 187-82 5-34 85-53 106-31 0 20 37-65 24 42 138-116"/><path class="r17" d="M2207 1187l136-206 360-215 2 10 1-5 122 5 0 52 52-138 25 38 12-47 137-71 2 7 1-77 67 6 16 31 56-65 22-6 110-47 5-42 1 40 39-40 12 14"/><path class="r9" d="M2546 876l178-148 158-47 36-35 3 4 18-11 1 4 116-33 2-67 1 78 65-84 5 9 1-20 1-3 2 0 86-30 2-3 1 0 21-8 9-5 39-10 51-80 6-3 26 31 138-105 4-9"/><path class="r1" d="M2348 981l67-16 89-89 225-161 57-17 25 4 71-59 4 0 1 34 1 0 53-34 1 0 2-11 0 7 0 7 118-100 1 0 1-6 62-3 2-3 7-5 122-55 3 0 82-79 12-15 2 11 34-4 2-9 4 2 6-16 79-58 34 9"/><path class="r8" d="M2220 1022l64 9 58-42 74-101 25 0 7-6 27-12 21 18 10-12 148-148 8-4 18 0 12 0 64 4 265-185 44-3 87-50 36-84 42 6 0 3 17 0 1-5"/><path class="r16" d="M2514 882l151-111 55-52 8 5 2-5 28 9 14-9 48-21 24-4 43-59 27 15 17-4 180-103 118-53 4-5 4-70 12 0 0 2 32 0 35-7 1 5 67-35"/><path class="r9" d="M2889 673l7 4 49-31 2 0 4 0 117-100 61-3 3 0 131-64 4-5 3 5 77-78 2 0 9-8 1-13 4 7 0 2 31 4 4-2"/><path class="r25" d="M2199 1226l0 14 1-14 88-75 134-154 3 16 18 0 121-98 247-191 14 72 1-49 155 9 15-152 254-92 55-48 7 39 166-157 86-47"/><path class="r17" d="M2550 882l283-140 54-96 11 31 163-67 1 4 1 0 3 7 67-75 3-23 83-22 8 0 20-16 8 27 23-38 120-79 2-4 5-4 1-15 113-53"/><path class="r9" d="M2428 997l122-121 3 12 447-284 133-61 3 0 94-40 5-2 17-16 34-11 2 5 121-101 0 9 3-11 1 8 1-18 2 6 64-29 5-2 35-30 0 4"/><path class="r53" d="M2320 1333l12 0 253-158 167 94 123-264 20-16 16 0 34-60 170-66 3 0 20-62 322-120 3 9 10-21 16-23 7 16 3-16"/><path class="r34" d="M2198 1254l30-14 22-14 5 28 5 0 184-147 174-110 45-47 126-104 2 0 87-23 267-142 20-16 0 16 2-4 1 4 234-180"/><path class="r42" d="M2252 1213l0 13 6-26 6 40 3 14 1 0 2 0 20-14 6-77 149-56 5 0 0 11 169-121 41-32 172-95 337-189 236-191"/><path class="r50" d="M2200 1284l71-30 58-54 9-13 103-58 160-171 60 15 171-97 173-125 0 10 116-59 3-4 99-77 178-104 25 9 4 5 53-30"/><path class="r5" d="M2050 1269l68-94 111-57 81-51 14 0 44 0 190-117 38-35 8-27 9 0 84-71 68-51 99-38 8 38 68-156 471-195"/><path class="r10" d="M2096 1163l11 0 7 37 469-278 21-46 2-13 77-35 17-16 4 28 3-28 45-46 15 10 3-20 4 30 1-10 1-20 4 20 91-34 2 0 3-14 2 0 516-311"/><path class="r9" d="M2094 1163l578-351 3 5 4-16 1 16 3 6 3-6 82-56 5 5 78-47 2 0 2-4 3-4 3 4 2 4 1 0 20 9 65-100 15-24"/><path class="r12" d="M2030 1369l6 0 10-36 37-64 241-172 9-39 73 9 40-28 105-89 43-28 21 7 35-41 9 0 5 0 63-112 143-10 549-309 144-60"/><path class="r2" d="M2115 1213l1-26 210-182 2 17 107-72 174-87 8-23 97-28 3-36 5 0 6-10 54 10 5-15 293-184 7 10 188-97 6 0 60-45 47 2 150-116 29-11"/><path class="r17" d="M2545 936l14-60 39-19 16-17 39 36 96-125 13 25 11-20 0 40 1-25 109-10 48-147 70-4 73-23 11 6 53-47 100-53 3 10 146-56 19 3 9 0 2-76 2-10 1 14 105-72"/><path class="r18" d="M2117 1200l1 0 0 26 84-26 5-13 1-12 50 0 345-210 3 0 4-102 75-29 26 12 138-55 0 10 19-45 80-28 357-182 36-64 11-3 47-29"/><path class="r26" d="M2200 1254l9-54 21 54 32-67 30-120 0 173 10-77 316-227 2 0 3 61 1-47 3 0 34 8 174-95 0 13 173-120 140-172 0 106 160-144 2 0 96-147 4 94 4 0"/><path class="r9" d="M2425 943l2 15 136-82 2 6 53-48 4 6 5 6 1 0 90-45 48-25 9-10 2-19 1 14 233-147 131-68 3 31 130-92 153-123 0 22 98-69 18 13"/><path class="r40" d="M2285 1005l121-16 155-119 144-142 1 0 76 19 8-49 41 17 4 4 5-34 16-12 241-127 184-186 56-133 27 190 12-182 38 141"/><path class="r25" d="M2195 1187l5 13 9-25 0 12 579-416 71-69 5 59 24-33 176-118 17-30 64-51 103-39 15 19 28-27 45-28 62-19 123-115"/><path class="r52" d="M2490 1213l0 13 4-13 6 0 43-50 317-220 64 88 7-143 149-60 361-182 2-3 1-4 2 4 54-22 21-14"/><path class="r44" d="M2318 1284l6-15 188 82 124-264 7-10 189-96 62-66 192-124 12 15 179-78 87-51 53-84 4 17 28 25 2 4 6 0"/><path class="r24" d="M2346 989l151-101 19-6 110-42 109-116 25 0 83-39 233-95 36-47 25-23 114-105 81 2 66-43 20-18 48-59"/><path class="r42" d="M2202 1254l1 15 69-15 21-14 10-77 139-34 221-156 346-217 114-50 101-78 180-119 2 8 3-5 20 8 55-19"/><path class="r34" d="M2205 1269l11-94 18 79 27-41 19 41 14-14 36-40 113-71 8-22 1 0 383-250 13 13 162-119 114-45 102-78 205-99"/><path class="r33" d="M2114 1175l75 65 9-27 3-13 1 13 55-26 382-222 151-119 26-23 27-17 20-40 93-38 8 33 366-249 69-6"/><path class="r17" d="M2213 1187l357-311 212-115 11 5 223-149 67-43 168-84 1 0 0 8 87-53 63-52 28-11 3 7 1 4 102-83"/><path class="r9" d="M2571 876l224-105 66-69 4 9 4-9 148-92 53-3 79-76 1-11 103-35 12 21 32-24 111-87 3 0 24-15 6 13 1 0"/><path class="r1" d="M2554 882l23-12 139-104 171-116 7-4 5 35 1-8 50-45 55-28 67-54 58-12 230-133 4-23 170-77"/><path class="r11" d="M2136 1187l181-148 46 58 225-209 271-160 372-154 22-28 8 9 89-91 52 13 3-60 7 57 2-2"/><path class="r3" d="M2092 1187l2 13 54-25 168-98 6 0 1-38 12-17 257-134 125-112 17 0 4 0 6 20 69-15 53-5 540-361"/><path class="r18" d="M2084 1200l59 0 69 13 4-26 10 0 42 13 39-123 51 20 2 0 2 0 300-132 143-169 1-20 45-39 301-147 83-29 111-87 47 8 15-5"/><path class="r10" d="M2118 1213l0 27 4-14 2 0 8-39 83 26 115-191 382-165 3-56 11-25 19 36 16-6 25-30 3 0 22 0 42-29 20 4 223-171 2 4 255-120 44-47 150-82"/><path class="r17" d="M2086 1213l468-325 163-112 79-5 26 5 4 0 28-52 12-5 17 32 269-217 0 3 102-47 2-3 4 0 1 0 36 0 2-13 55-15 10-5 48-59"/><path class="r25" d="M2120 1226l82-26 9-25 1 25 0 13 14-38 485-318 4 6 81-17 2-45 12-5 10-10 47-67 34-38 258-164 105-27 36-8 38-20 26-78 72-6 10 15"/><path class="r9" d="M2579 870l131-94 11 0 4-5 0 5 8-10 9 30 7 0 9-10 81-49 14-4 49-52 6-12 50-34 177-95 130-55 41-6 57-71 49-7 5-8 2 2 20-15 98-74"/><path class="r32" d="M2080 1200l23 13 450-325 4 0 149-112 69-48 54 9 24-18 69-102 19 33 8-7 169-103 2 0 120-50 4-11 43-64 36-5 47-32 25 15"/><path class="r16" d="M2286 1005l234-123 41 6 55-60 89-42 33-62 40 4 35 0 107-124 157-58 47 0 164-136 6 7 40 0 93-59"/><path class="r48" d="M2116 1213l1 0 2 0 97-26 19-174 164-40 423-245 1 0 3 19 416-278 112-54 73-141 1 76 76-171"/><path class="r26" d="M2205 1240l13-27 3 0 58-13 56-178 474-221 416-227 2 50 3-3 7-44 36-31 2 0 138-37 4-27"/><path class="r41" d="M2190 1240l10 0 116-218 286-64 1 0 3 7 56 8 166-127 5-60 56 42 68-100 449-249 12 22"/><path class="r49" d="M2226 1187l34 0 16 53 3 0 366-267 174-139 5 23 4-23 4 17 0 19 152-119 173-82 15-7 241-148"/><path class="r17" d="M2121 1226l1 0 81-26 524-424 86 15 10-15 7 64 7-54 5-58 14 0 11-4 399-234 99-84 78-28 3 17"/><path class="r24" d="M2551 876l4 6 2 0 152-111 32-47 118-30 91-55 69-32 51-67 2-3 11 6 272-128 18-33"/><path class="r47" d="M2185 1388l8 0 6 0 534-248 90-63 232-189 124-60 36-11 56-41 19 0 71 0 199-103"/><path class="r54" d="M2311 1333l424-236 139-75 17 9 71-66 7-29 22 14 117-74 15 6 5 0 39-36 61-70 11 47 8 11"/><path class="r51" d="M2008 1429l21 0 187-129 181-87 32-38 64-24 58-44 1 0 104-85 105-79 324-177 119-76"/><path class="r43" d="M2016 1451l19 0 2 0 395-276 78-98 263-176 12 49 150-87 2-12 3 12 1 0 264-173 13 8 108-77 2 7 3-4 5 4"/><path class="r35" d="M2399 1213l158-106 103-85 2 0 50-134 3 0 63 20 5-13 314-134 1-10 109-66 7 0 6 0 3 5 113-73 3 11"/><path class="r27" d="M2222 1284l308-235 28 58 4-20 134-144 1 0 0 7 17-42 52 28 176-73 25-67 133-68 225-154 3 3"/><path class="r40" d="M2208 1175l316-299 257-148 56-4 0 4 5 0 164-124 73-36 245-153 83-26 116-74 14-16"/><path class="r42" d="M2005 1429l201-160 76-82 13 53 228-201 315-182 11 13 165-119 111-45 1-4 105-70 95-55"/><path class="r50" d="M2117 1151l87 133 240-155 220-171 1 0 101-50 83-32 2-13 274-148 27-25 53 4 226-160 1-14 53-14"/><path class="r2" d="M2096 1200l25-60 0 11 1 49 2-37 186-124 266-151 8 0 2 0 4 0 23-25 73-29 47-58 676-368"/><path class="r9" d="M2102 1200l5 0 197-169 267-149 41-31 116-80 97 0 3 0 35-38 5-9 402-234 96-86 1 6 2 2"/><path class="r1" d="M2320 1013l411-237 3-15 63 0 71-50 34-34 57-34 1-15 176-91 1-6 18 0 5-17 206-119"/><path class="r32" d="M2191 1240l113-218 248-152 10 12 60-54 88-52 4 0 113-48 13-9 18 5 99-74 132-104 268-134"/><path class="r17" d="M2124 1200l1 13 11-13 437-312 7-12 107-48 146-57 39-52 32-42 5-4 248-139 4-17 209-111"/><path class="r9" d="M2576 888l158-112 1-5 1-15 3 15 131-65 1-4 41-33 53-41 194-102 0 8 1 6 210-145 3 6"/><path class="r34" d="M2027 1429l180-160 494-333 10 0 65-48 72-37 2 19 232-114 44-50 105-85 8-60 5 23"/><path class="r25" d="M2124 1226l80-26 1 0 3 0 369-312 4-12 108-48 145-57 34-43 94-85 277-82 132-151 73-26"/><path class="r17" d="M2739 776l4-10 92 5 1 0 1-5 1 5 35-56 0 13 7-26 84-59 196-114 2-6"/><path class="r9" d="M2579 888l1 0 6-12 3 6 105-59 47-47 0 5 3-20 418-230 1-8 209-115 3 7"/><path class="r0" d="M1985 1140l699-416 21-9 8 0 52-21 19-9 28-39 294-229 71-2 15 0 103-69"/><path class="r8" d="M2671 776l19-52 17 0 1 4 179-85 44-33 31-3 236-190 55-2 36-11 52-172"/><path class="r24" d="M2528 882l189-106 11 0 4-5 7 0 103-52 0 5 40-26 81-84 128-74 37-9 161-130"/><path class="r16" d="M2710 728l3 0 15 33 13-33 41-4 106-81 3-4 201-102 4 0 164-122 34-5 32 0 20-177"/><path class="r32" d="M2532 888l48-18 0 6 263-157 2 9 29-30 80-52 7-11 1 11 4 0 239-231 127-5 33 5"/><path class="r18" d="M2131 1226l77 43 15-56 65-13 26-161 284-144 177-83 103-51 3-19 476-263 6-12"/><path class="r33" d="M2018 1429l183-189 27-53 5 0 374-222 108-119 107-40 12 64 35-146 407-237 171-92"/><path class="r41" d="M1998 1429l45 0 3 0 156-189 2 0 59-53 2 0 567-359 15 12 58-159 80 66 428-235 36-119"/><path class="r1" d="M2308 1031l436-255 7-15 219-118 3-11 1 3 192-123 207-117 2-2 6 0 66-15"/><path class="r25" d="M2126 1226l112-39 356-317 123-13 122-86 6 0 322-254 110-27 70-18 13 5 6 8 11-79 74-11"/><path class="r9" d="M2311 1039l292-163 142-100 7-20 0 10 2 5 129-38 26-56 64-53 198-98 106-41 96-8 9-73 1-5 1 7 2 2"/><path class="r17" d="M2319 1031l262-143 2 0 9-6 14-6 92-53 51-47 92-15 29-37 4-5 40-50 59-26 4-11 302-145 70-25 27-50 4 9 6-11 2-6 3 2 57-28 2-8 3 21"/><path class="r9" d="M2752 776l3 0 3 0 113-52 1 0 4-9 41-42 3-8 3 4 55-37 1 0"/><path class="r39" d="M2202 1388l146 0 95-88 355-261 180-8 40 0 39-143 236-112 77-48 194-205"/><path class="r10" d="M2099 1187l36 39 2 0 181-187 2 0 21-26 284-156 1 6 616-317 0 28"/><path class="r55" d="M2351 1351l4-18 88-64 298-140 25 0 92-90 16 0 3 0 526-268"/><path class="r47" d="M2206 1388l2 0 2 0 572-281 21-68 259-151 262-112 83-48 3-4 14 0 16 4"/><path class="r54" d="M2308 1351l512-284 3-28 7 0 97-17 7-9 14-24 38 0 118-101 1-6 213-106"/><path class="r49" d="M2024 1429l181-189 62-53 23 53 536-428 8 22 0 17 3 12 585-351"/><path class="r25" d="M2272 1187l2 0 44-148 272-151 111-71 186-89 31-47 2 0 56-38 304-156 173-109"/><path class="r42" d="M2209 1284l236-155 3-11 5 11 316-221 82-38 2 6 274-170 119-119"/><path class="r40" d="M2568 888l282-160 11 0 5-30 101-77 168-81 1 0 1 3 2-12"/><path class="r34" d="M2139 1226l72 43 79-69 2 13 159-95 403-248 1 6 272-178 246-234"/><path class="r26" d="M2291 1200l3 0 371-235 185-114 165-109 112-23 104-91 15-48 1 7"/><path class="r50" d="M2212 1269l3 0 2 0 8-56 68 13 3-39 0 26 159-84 211-171 188-95 380-228"/><path class="r33" d="M2206 1240l73-53 41-156 440-260 66 35 2 11 13-41 403-183 133-111 81-104"/><path class="r41" d="M2032 1429l100-203 2 0 75 14 2 0 4 0 65-14 4-39 1140-675"/><path class="r6" d="M2002 1254l6 15 142-118 14 0 43-44 60 11 906-544 339-157"/><path class="r10" d="M1995 1254l18-14 111-100 2 11 1 24 24 0 2-24 1 12 11 0 5-45 7 33 14-22 15 0 2-22 11-10 13 21 28 0 7 0 12-31 868-523 46 7"/><path class="r9" d="M1981 1240l3 29 17-29 144-65 2-35 36-33 32-30 15 41 89-79 392-222 51-46 84 0 132-132 1-4 164-74 2 10 315-197"/><path class="r17" d="M1991 1254l1 15 10-29 180-77 6 12 35-78 390-234 104-40 2 0 48-47 108-57 48-38 1-12 55-23 6-14 161-58 138-84 83-26 88-77 8-19"/><path class="r11" d="M2011 1284l221-166 94-51 390-179 40-82 111-30 4 0 7 20 283-250 35 25 213-156"/><path class="r18" d="M2013 1226l130 0 42-63 4 0 5-45 2 22 45-22 2 11 9 11 42 0 2 0 564-364 386-230"/><path class="r25" d="M2136 1226l1 0 54-75 17-44 9 133 500-428 43-6 67-10 4 16 11-36 24-15 58-88 60-30 390-186 85-73"/><path class="r9" d="M2200 1140l521-323 53-41 103-57 1 0 2-4 105-76 3 4 300-156 0 3 171-103 7-23"/><path class="r24" d="M1987 1269l164-140 430-247 179-116 24-38 117-43 6 0 231-139 2-3 197-128 103-43"/><path class="r17" d="M2721 812l58-36 1-5 1 5 62 0 44-65 100-79 1 0 4 3 383-173 97-88"/><path class="r2" d="M1998 1254l1 0 130-125 28 58 4-47 35 23 20-45 382-230 30-31 525-311"/><path class="r10" d="M2143 1213l23-84 4 11 28-22 0 11 2-11 5 33 19-33 378-230 29-25 4 0 613-317"/><path class="r1" d="M1988 1240l137-111 26 11 33-43 24 21 10-11 657-383 50-62 243-150 209-100 0 3"/><path class="r9" d="M1993 1254l156-67 14-47 53-22 386-236 275-158 2-5 46-46 70-41 1-4 176-114 2-2 304-134"/><path class="r25" d="M2139 1213l464-331 4-6 116-64 0 11 121-47 3-5 2 0 446-281 2 0 83-73 95-55 3 20"/><path class="r17" d="M2163 1151l34 12 397-275 130-82 121-30 2 0 3 0 29-52 49-62 7 7 70-41 145-82 29-26 120-30 82-73 2 0 1-2 3-3 94-28"/><path class="r9" d="M2200 1163l409-293 116-53 212-148 1 0 70-37 7-8 137-78 149-56 1 0 83-75 1 2 2-5 88-54 1 10"/><path class="r26" d="M2214 1284l14-71 72-38 367-225 0 15 198-169 8 10 9-10 2 5 351-169 15-86"/><path class="r34" d="M2165 1175l42-24 11 118 1 0 10-69 71-13 4-24 551-317 2 5 32-60 240-76 109-87 10-51"/><path class="r42" d="M2222 1284l1 0 21-177 52 119 1 0 2-13 9-50 147-45 213-153 3 0 184-95 4-19 161-109 110-44 0 17 116-98 6 4"/><path class="r25" d="M2202 1163l6 0 94 0 1 0 293-275 135-82 4 0 116-30 29-52 2 0 355-150 63-76 2 3 85-86 1 0"/><path class="r17" d="M2168 1163l429-275 1 0 12-25 118-46 124-41 166-155 135-78 236-131 0 5 89-45 1-14"/><path class="r33" d="M2124 1163l109-56 53 80 345-336 151-75 55 30 10-40 7 97 28-144 421-232 88-79"/><path class="r48" d="M2122 1213l84-50 0 37 5-103 36 0 517-336 60 15 6 0 38-48 420-241"/><path class="r49" d="M2189 1175l32 25 75-60 537-317 11 34 167-115 112-48 1-4 10 4 97-73"/><path class="r9" d="M2128 1163l5 0 22 12 461-305 167-94 100-52 515-320 1 2 82-56 3 8"/><path class="r17" d="M2134 1163l2 0 28 12 134-35 486-364 66-5 33-60 0 8 1 5 419-234 2-3 90-75 90-56 0 4 7-6"/><path class="r25" d="M2601 888l34-42 99-23 114-17 2-40 39-38 417-238 1-5 83-68 10-9 82-38 13-24"/><path class="r9" d="M2604 882l1 6 31-37 1 0 148-75 1 0 1 0 98-57 2 0 1-8 3 4 499-300 95-45 2-8"/><path class="r17" d="M2607 882l127-65 54-41 2 0 1 0 61-15 37-42 7-13 411-224 0 8 2-5 82-70 9-3 3-2 1 0 1 2 1 0"/><path class="r32" d="M2160 1129l0 34 566-346 24-46 9 5 25-5 90-43 270-191 145-52 49-70 122-37"/><path class="r41" d="M2219 1240l1 0 7-40 60-13 2-36 373-201 101-138 88-11 3 0 522-337"/><path class="r25" d="M2294 1151l4 0 311-263 133-76 1 0 118-11 25-77 4-5 419-229 0 3 2-6 0 11 66-29"/><path class="r9" d="M2763 806l31-20 2-10 57-5 37-43 1-9 7-13 411-232 83-59 2 2 15-9"/><path class="r17" d="M2611 888l159-87 28-25 5 0 1-5 84-47 4 9 420-243 3-3 1 19 62-49 19-40 12-7"/><path class="r40" d="M1978 1269l21-29 120-65 465-287 290-177 4 17 1-22 264-160 147-59 98-75"/><path class="r33" d="M2221 1240l7-40 63-13 544-359 2-11 16-5 1-36 1 0 37-61 601-355"/><path class="r25" d="M2293 1187l472-370 76 0 52-75 6-40 415-225 70-18 3 0 1 3"/><path class="r41" d="M2230 1200l65-13 543-359 7-5 0 5 22-32 28-49 3-36 485-237 13-10"/><path class="r33" d="M2231 1200l1 0 615-377 0 5 1-5 1-11 21-16 29-49 488-295"/><path class="r20" d="M2457 1058l574-267 322-217 9-19 70-98 24 15 2-32 42 50"/><path class="r36" d="M2621 1077l1-19 2-9 41-10 207-89 510-404 55 51 8 0 21-26"/><path class="r52" d="M2338 1300l295-233 33-28 168-74 64-77 22 41 183-128 272-128 0 21 73-90"/><path class="r44" d="M2626 1039l25 38 16-38 1 0 143-66 66-44 24-41 1 0 205-112 354-179 11-29 94-45"/><path class="r43" d="M2675 1013l3 0 143-63 122-87 2 0 0 7 3-13 393-236 0 7"/><path class="r51" d="M2569 1077l62-10 141-138 42 44 14-44 122-78 85-50 306-169 85-52"/><path class="r27" d="M2438 1067l34 10 304-148 567-349 18-6 1-16 7-12 4 0 4 0 129-32"/><path class="r35" d="M2573 1077l204-141 194-145 130-63 243-100 4-35 27-9 6-4 88-111 26 18"/><path class="r19" d="M2440 1039l106 10 66-120 106-41 71 13 377-321 61 110 153-144 35-82"/><path class="r50" d="M1981 1284l235-133 240-33 9-31 209-122 457-259 0 5 3-5 106-71"/><path class="r26" d="M2220 1269l81-56 2-26 0 13 165-103 207-139 1 0 222-172 122-58 228-118 168-133"/><path class="r42" d="M2302 1213l3-13 152-82 11 0 1 0 86-51 353-291 334-144 4-4 3-18 129-33"/><path class="r34" d="M2463 1107l2 0 211-142 181-95 4-24 1 0 274-140 119-89 164-130"/><path class="r49" d="M2223 1240l10-40 62 0 4-60 1 47 10 13 540-360 1-12 397-211 127-83 2-3"/><path class="r28" d="M2325 1269l578-381 1 0 28 0 227-160 6 23 347-237 1-24"/><path class="r43" d="M2819 965l2 24 10-67 204-116 2-5 116-73 193-104 1-7 160-103"/><path class="r4" d="M2326 1107l7-68 16 0 8 0 9 19 52 0 145-108 900-533"/><path class="r10" d="M2249 1118l73-79 13 0 2 0 4 0 13-17 6 9 792-451 13-12 3 9 82 0"/><path class="r9" d="M1987 1284l333-245 39-8 254-143 195-112 84-48 8-26 498-285 2 0 95-59"/><path class="r25" d="M2206 1151l30 49 574-429 91-29 0 9 4-9 243-165 4-6 249-154 1 0 1 0 96-65"/><path class="r17" d="M2321 1031l491-255 44-5 1 5 36-48 7-17 2 4 413-238 184-129"/><path class="r48" d="M2610 863l180-87 7 0 9 0 8-5 73-47 501-265 78-81"/><path class="r11" d="M2337 1039l19 38 12 0 6-38 69 0 5 0 277-144 455-315"/><path class="r18" d="M2231 1213l87-116 24-20 10-38 11 19 72-19 441-227 316-225 63-41"/><path class="r33" d="M2224 1240l2 0 2-27 1 0 73-62 59-74 493-249 3-5 37-95 288-148 225-121"/><path class="r26" d="M2342 1022l371-134 0 20 13-7 137-50 335-267 53-7 0 27 5-36"/><path class="r50" d="M2223 1269l1 0 1 15 78-71 2-26 38-80 821-392 84-76"/><path class="r34" d="M2308 1175l48-98 357-162 151-64 1-5 2 5 13-39 373-205 8-27"/><path class="r41" d="M2229 1240l2-27 2 0 57 0 13-26 1 0 553-375 394-219 250-247"/><path class="r25" d="M2306 1175l6 0 546-399 18 25 19-73 290-151 130-95 186-145"/><path class="r13" d="M2063 1388l31-88 178-182 367-203 17-7 906-491 4-51"/><path class="r19" d="M2367 1097l62-20 21-38 3 0 167-110 18 7 27-21 2-7 10-20 889-508 0 32"/><path class="r26" d="M2226 1269l79-56 8-50 52-66 249-168 9 0 52-41 192-42 19-40 372-206 310-211"/><path class="r49" d="M2230 1240l14-40 62 0 10-25 539-341 0 23 5-23 6 6 4 0 4-23"/><path class="r41" d="M2233 1240l12-40 1 0 1 0 65-49 329-208 218-167 9 52 382-218"/><path class="r33" d="M2250 1200l2 0 56-13 333-251 221-119 1-46 15 30 0 16 372-240"/><path class="r16" d="M2136 1140l401-252 204-117 45-43 123-51 467-290 0 23"/><path class="r32" d="M2006 1240l582-358 158-111 42-47 24 52 73-70 5 13 1 5"/><path class="r24" d="M1980 1240l156-111 4 11 93-22 309-230 58 0 164-112 127-61"/><path class="r2" d="M2149 1213l24-84 37 0 46-22 94-94 2 0 818-426"/><path class="r9" d="M2180 1129l43 0 26-11 80-96 13 0 6-17 14 17 7 45 443-306 91-55 0 13 597-361"/><path class="r10" d="M2179 1118l0 11 1 11 81-22 3-11 54 0 35-76 3 8 2 0 1-26 5-8 0 17"/><path class="r17" d="M2175 1151l32-11 48 60 71-151 5-18 11 18 9-52 13 52 1-18 951-546 191-142 3-10 2 10"/><path class="r25" d="M2182 1151l5-11 22-11 26 111 97-201 280-124 248-139 4-10 40-55 0 8 1 0 413-237"/><path class="r42" d="M2152 1213l75 56 14-56 205-174 232-74 584-361 1-20 5 16"/><path class="r49" d="M2236 1240l6 0 3 0 64-53 4 0 561-353 377-220 4-21"/><path class="r24" d="M2173 1140l2-11 7-22 21 33 10-22 139-105 5 18 7-9"/><path class="r40" d="M2010 1240l315-201 441-263 28-52 100 4 418-259 81-57"/><path class="r18" d="M2154 1213l63-73 82-22 327-189 577-342 54-26 308-191"/><path class="r33" d="M2240 1213l17-13 947-620 115-90 2-8 184-130 11-17"/><path class="r17" d="M2861 776l45-57 1-13 0 9 0 4 1 0 0 5 600-374 4 4 2-6 10-20"/><path class="r41" d="M2241 1213l3 0 5 27 9-40 58-13 333-244 231-115 377-231"/><path class="r12" d="M2383 1077l9-19 174-108 7-7 599-397 296-129"/><path class="r25" d="M2144 1213l218-136 15-19 485-282 2-5 45-47 411-234"/><path class="r9" d="M2215 1129l4 0 119-98 567-320 4-9 1 22 0 4 609-389"/><path class="r3" d="M2274 1107l12 0 4-10 873-551 13 3 237-132"/><path class="r10" d="M2221 1151l1-11 58-53 10 0 5 0 861-541 4 0"/><path class="r18" d="M2225 1151l6 0 38-44 30-30 71 10 192-158 0 29"/><path class="r27" d="M2742 908l37 28 24-48 179-97 443-324 51 5"/><path class="r11" d="M2293 1107l5 0 159-68 228-151 2 0 57 0 673-471"/><path class="r19" d="M2385 1077l73-19 5-19 100-89 19-7 108-55 2 0 741-419 36-24"/><path class="r34" d="M2229 1269l94-106 128-124 192-110 245-117 376-205 166-130 6-3"/><path class="r26" d="M2236 1163l85-56 568-295 4-11 312-211 58-35 6 59 10-21 156-103 5-8 2-3 124-95"/><path class="r18" d="M2241 1163l45-45 2 0 2 0 8-11 2 0 23 0 5 0 2-10 0 66 123-124 224-151 219-71 369-271 159-87"/><path class="r50" d="M2306 1213l1 0 150-155 222-93 93-22 97-92 28-50 1 22"/><path class="r42" d="M2231 1269l102-106 44-76 4 10 200-154 324-126 1 11 531-327 3-11"/><path class="r2" d="M2154 1200l86-60 61-43 64-100 1 8 4 0 812-447 225-141"/><path class="r25" d="M2216 1163l21 12 106-144 32 46 1 0 777-531 251-129 8-13"/><path class="r17" d="M2224 1129l1 34 5 0 1-12 34-33 645-416 2-4 411-208 81-75 1 0"/><path class="r9" d="M2259 1107l27-30 59-38 9-42 18 8 540-303 242-156 7-6"/><path class="r49" d="M2245 1213l8 27 73-53 936-583 2 3 4-7 157-123"/><path class="r41" d="M2226 1140l1-11 29 111 30-143 37 78 402-267 137-51 49-124"/><path class="r33" d="M2228 1129l15 46 16 25 604-424 20 41 24-106 298-127 232-112"/><path class="r17" d="M2228 1140l1 0 2 0 16 35 104-136 2 0 2 0 553-328 3-5 1 0 244-160 7-12"/><path class="r25" d="M2235 1163l3 0 8 50 111-174 1 0 506-263 49-34 251-202 2-3 158-52 82-70 1 0"/><path class="r34" d="M2459 1067l221-102 1 0 193-114 26-45 4-10 362-228"/><path class="r26" d="M2316 1213l2 0 13-106 136-30 213-189 226-76 367-260 171-62"/><path class="r49" d="M2259 1240l1 0 2 0 3-40 61-25 5 0 540-329 1 0"/><path class="r41" d="M2241 1163l11 12 0 38 1 0 10 27 602-464 1 0 21 41"/><path class="r18" d="M2158 1213l88-73 3 0 52-33 86-10 296-209 587-324"/><path class="r10" d="M2163 1200l83-49 24-44 5 11 35-51 28 30 46-92 189-76"/><path class="r32" d="M2184 1140l5-11 78-22 34-30 1 0 53-72 537-286"/><path class="r9" d="M2154 1213l78-84 4 0 672-414 3 13 5-30 251-169"/><path class="r17" d="M2240 1129l120-90 550-328 2 17 5-30 1-8 2 8 1 0 488-286 0 5"/><path class="r25" d="M2236 1140l32-22 70-31 239-158 290-158 42-52 14-29 246-156 242-119"/><path class="r1" d="M2178 1163l169-141 297-176 280-156 2-13 231-131 374-226"/><path class="r9" d="M2244 1129l121-90 282-193 1 0 266-118 11-26 234-156 1 0 1 0 2 0"/><path class="r17" d="M2645 857l4-11 261-127 1 0 16-17 2-29 1 33 234-163 371-226"/><path class="r33" d="M2242 1163l25 37 601-424 2-5 41-56 414-225 85-78"/><path class="r25" d="M2349 1022l21 9 281-174 263-138 12-25 3 4 0 4 2-4 395-208 2 3 84-81 1 0"/><path class="r35" d="M2997 801l159-73 71-43 123-68 145-127 16 27"/><path class="r51" d="M2575 1067l208-138 49-14 1 35 13-21 311-201 1 0"/><path class="r43" d="M2835 901l6 49 142-174 18 25 229-111 3 4 2-13 283-169 5 8"/><path class="r4" d="M2392 1039l237-151 2 0 548-342 293-131 87-69"/><path class="r11" d="M2381 1039l4 0 9 38 70-38 133-103 33-48 21 0 508-160 306-311 2 0 1 0 6-2 7 0 5 2"/><path class="r18" d="M2166 1200l84-60 27-11 44-52 27 20 27-58 80 0 136-96 6 0 8 0 578-397 279-129 2 0 2 0 84-69 12 12"/><path class="r26" d="M2302 1097l45 10 4-10 42-20 2 20 14-10 208-144 69-55"/><path class="r17" d="M2243 1163l339-234 76-66 211-87 2-5 60-65 248-142 235-152"/><path class="r9" d="M2272 1118l383-272 4 17 253-148 0 9 20-43 605-371 4 7"/><path class="r33" d="M2246 1163l57-76 306-137 7-14 299-208 12-38 237-129 165-71"/><path class="r25" d="M2247 1129l35-11 58-21 32-58 15 28 210-138 2-7 314-198 419-237 0 3 2 5"/><path class="r17" d="M2248 1163l39-45 374-261 253-142 0 9 1 0 14-34 1 4 2 0 401-209 210-168"/><path class="r41" d="M2249 1163l123-132 245-102 1 21 7 0 247-184 293-223 9-14"/><path class="r10" d="M2169 1187l84-36 125-112 814-490 358-214 8 19 7-2"/><path class="r18" d="M2255 1151l1-11 2 0 2 11 45-44 49-10 41-20 1 20 2 0 796-551"/><path class="r33" d="M2290 1118l57-11 9 0 38-20 3 0 0 10 204-168 5 7 14 0 296-212 0 4"/><path class="r25" d="M2157 1187l150-80 8 0 85-30 268-214 206-92 41-60 0 8 17-21 266-137 136-71"/><path class="r17" d="M2169 1175l0 12 3 0 87-36 49-54 66-66 8 0 16 66 481-336 304-232 17 39"/><path class="r49" d="M2258 1213l10 27 3-40 83-103 5 0 511-321 19 36 4 11"/><path class="r9" d="M2252 1129l410-278 255-123 13-43 245-148 6-14 363-208 4 4"/><path class="r25" d="M2918 728l0 9 1-9 1 0 12-43 274-114 4-7 342-240 1-4"/><path class="r48" d="M2155 1213l32-73 27 0 6-22 26 11 1062-647 12-5"/><path class="r42" d="M2260 1163l59 50 1 0 90-116 495-306 5 0 357-214"/><path class="r33" d="M2251 1163l7 0 1-34 67-22 545-331 1 0 44-61 418-233"/><path class="r41" d="M2260 1163l2 50 18-13 20-82 57-11 10-10 39 0 467-321"/><path class="r25" d="M2263 1163l0 12 1-12 64-56 2 0 3 0 27 0 515-336 42-52 421-234"/><path class="r17" d="M2269 1213l33-95 62-11 299-261 0 5 255-132 3 9 12-47 0 13 249-160 1-11"/><path class="r34" d="M2328 1213l2 0 299-277 283-130 361-245 7 0 165-71"/><path class="r50" d="M2232 1269l99-69 84-103 461-240 1-6 30-34"/><path class="r33" d="M2335 1107l539-326 6 59 57-159 2 17 246-172 154-39"/><path class="r9" d="M2664 840l254-129 20-38 247-144 369-201 1-8 1-7"/><path class="r17" d="M2666 840l1 11 3-11 273-167 247-150 368-186 3-2 5-16"/><path class="r25" d="M2304 1118l61-11 307-250 247-138 17-34 3-4 244-144 377-192 2-10"/><path class="r24" d="M2225 1151l105-112 468-315 1-5 385-199 355-210"/><path class="r40" d="M2209 1129l38 22 111-120 286-174 157-129 92-4"/><path class="r32" d="M2247 1140l123-118 431-298 7 4 91 0 21-43 233-142"/><path class="r49" d="M2270 1213l21-13 77-93 3 0 37-10 494-296"/><path class="r41" d="M2307 1118l12 82 555-424 9 58 3 0 36-106"/><path class="r42" d="M2233 1269l1 0 97-56 300-263 260-93 554-370"/><path class="r26" d="M2235 1269l1 0 97-56 575-390 363-243 3 7 1-16"/><path class="r46" d="M2736 1077l97-46 178-143 233-112 147-48"/><path class="r54" d="M2837 1031l6 0 6-9 12 9 9 8 148-103 227-160 1 0 153-48"/><path class="r38" d="M2363 1300l42 69 613-481 157-60 371-214 15-34"/><path class="r53" d="M2835 1022l23 0 232-140 8-12 7-19 44-23 3-5 42 5 28-52"/><path class="r45" d="M2343 1333l1 0 325-236 249-124 27-72 562-255 61-106"/><path class="r52" d="M2664 1077l5-38 236-151 12 34 199-121 354-201 16-7 8 50 7 3"/><path class="r53" d="M2353 1300l594-378 13-21 16 21 540-260 9-23 0 15 10-15"/><path class="r37" d="M2928 973l58-85 183-112 358-205 12 9 4-34"/><path class="r44" d="M2331 1316l334-239 241-189 27 0 236-146 5 24 313-169"/><path class="r36" d="M2326 1269l301-230 44 0 177-66 87-85 2 0 1 0 1 0 544-330"/><path class="r52" d="M2672 1039l1 38 181-112 19-7 9 15 25-85 8 93 36-93 538-311 5 33 1 14 1-27 3 7"/><path class="r3" d="M2390 1039l2 0 10 10 1021-616 1-16"/><path class="r18" d="M2381 1039l4 0 527-263 365-205 138-154 9 0"/><path class="r25" d="M2309 1118l2 0 5 0 58-79 550-311 1 0 485-311 10 33"/><path class="r33" d="M2271 1213l101-106 503-331 2-5 45-56 4 13 1 0"/><path class="r17" d="M2376 1031l549-320 0 4 2-4 1 17 9-43 7-12 239-133 3-3 226-122 2 2"/><path class="r9" d="M2676 840l255-138 15-37 243-134 2 0 5-5 219-116 5 7 148-104"/><path class="r25" d="M2374 1107l507-341 48-38 1-17 1 4 1-4 6-26 12-23 238-125 233-133 3 13"/><path class="r17" d="M2681 846l253-144 257-168 6-8 2 3 218-117 1 0 3-2 2-2"/><path class="r33" d="M2882 766l48-47 0 9 1 0 8-43 253-148 7-17 225-105"/><path class="r25" d="M2883 766l3 0 50-64 0 4 4-4 2-12 485-275"/><path class="r27" d="M2575 1058l210-136 57-21 163-110 506-301"/><path class="r35" d="M2576 1077l4-10 1-9 1-9 3-10 3 0 255-151 1 0 140-112 23 36 5-31 3 0"/><path class="r51" d="M2789 908l53 50 4-43 315-187 79-47"/><path class="r27" d="M2590 1077l5-28 207-148 184-125 29 0 11 0"/><path class="r35" d="M2847 929l1 14 139-167 29 0 230-95 0 4"/><path class="r43" d="M2598 1097l197-182 2 0 48-27 5 41 139-153 262-86 263-200"/><path class="r42" d="M2912 817l68-41 15 10 284-202 1 0 4 9 132-158"/><path class="r34" d="M2333 1200l450-305 218-124 0 5 285-189 164-97"/><path class="r50" d="M2237 1269l97-56 230-126 268-199 7 0 163-112 1 0 1-10 0 10"/><path class="r49" d="M2317 1118l569-362 7 72 91-67 5 5 270-189 180-92"/><path class="r41" d="M2275 1213l103-106 498-331 14-20 102 0 267-185 4 16 165-172 13 64 4-2"/><path class="r17" d="M2877 776l2 0 53-61 0 13 9-26 1 4 250-166"/><path class="r25" d="M2320 1118l1 0 572-357 40-50 0 8 1 0 2 9"/><path class="r26" d="M2334 1200l3 0 54-161 379-131 142-96 93-36"/><path class="r42" d="M2238 1269l97-56 1 0 582-412 374-217 5-4 155-90"/><path class="r10" d="M2265 1140l129-101 3 0 800-493 2 0 82 12"/><path class="r9" d="M2684 840l257-159 2 17 257-172 1 5 223-127"/><path class="r17" d="M2257 1140l3 11 7-11 418-294 6-12 243-110 4-13 5-26 0 9 263-174 224-116"/><path class="r25" d="M2685 851l10-5 5-18 236-104 9-39 3 9 255-136 222-148"/><path class="r33" d="M2380 1107l1-68 522-278 34-33 3-17 4 8 258-188 5-14"/><path class="r12" d="M2633 888l8 7 843-478 2 0 1-2"/><path class="r19" d="M2405 1039l63 0 170-124 795-477 3-21"/><path class="r27" d="M2802 908l4 7 212-139 1 0 7 5 414-334"/><path class="r34" d="M2459 1039l190-117 2 0 173-14 183-132 2 0"/><path class="r18" d="M2269 1140l0 11 2-11 194-101 151-144 804-462"/><path class="r26" d="M2239 1269l31-106 2 0 65 50 129-155 191-136 269-131 1 0"/><path class="r42" d="M2338 1213l135-155 533-292 13-5 0 10 262-225"/><path class="r49" d="M2276 1213l1 0 603-437 2 5 119-10 269-184"/><path class="r25" d="M2267 1163l4-23 4 23 107-66 249-175 250-151 2 5 58-65"/><path class="r33" d="M2267 1175l9 0 10-12 100-56 251-185 0 7 247-153 387-186 153-157 10 24"/><path class="r17" d="M2274 1151l429-311 235-112 4-17 3-30 0 25 0 9 263-192"/><path class="r25" d="M2284 1175l10-12 94-56 249-192 8 7 240-146 54-48 5-4 1-34 1 12 3-4"/><path class="r41" d="M2260 1129l24 84 41-95 65 0 6-11 211-206 10 7 29 14 356-146 3-10"/><path class="r33" d="M2304 1163l97-45 219-203 266-139 54-48 2 0 4-13 0 4"/><path class="r25" d="M2266 1129l63-11 320-196 239-146 55-48 2-4 9 0"/><path class="r44" d="M2327 1269l352-192 4-38 225-151 595-267"/><path class="r51" d="M2599 1058l250-170 2 41 404-244 268-184"/><path class="r35" d="M2797 936l11-21 1 14 44-14 174-139 1 0 497-291"/><path class="r10" d="M2399 1039l4 0 214-151 824-471 6 0"/><path class="r49" d="M2290 1175l22-12 87-56 3 11 603-347"/><path class="r33" d="M2267 1129l47 34 19-45 280-236 331-154 2 0"/><path class="r17" d="M2614 888l1 0 1 0 37 34 294-211 3-17 0 17"/><path class="r25" d="M2268 1140l353-264 326-157 0 5 0 4 4-38 2 21 500-285"/><path class="r41" d="M2271 1129l70-11 60-11 1 0 2 11 544-390 10 0 48 43"/><path class="r48" d="M2377 1039l229-157 86-42 242-121 9-21 4 30 468-313"/><path class="r49" d="M2315 1163l31-45 62-11 1 0 599-346 0 15"/><path class="r9" d="M2384 1031l317-208 253-129 256-180 217-104"/><path class="r17" d="M2272 1129l4 11 112-109 237-161 80-42 246-113 4-13"/><path class="r25" d="M2281 1129l67-11 1 0 1 0 39-87 1 8 316-211 248-117"/><path class="r33" d="M2284 1129l37 34 33-45 600-403 2 9 1-22 471-292"/><path class="r25" d="M2285 1129l75-11 2 0 595-399 0 5 1-5 0 5 6-26"/><path class="r41" d="M2277 1140l10-11 121-11 3-11 1 0 547-383"/><path class="r17" d="M2281 1140l675-434 1 5 1 0 1 17 471-320"/><path class="r7" d="M1979 1388l486-415 46-8 1003-550"/><path class="r11" d="M2408 1039l3 0 2 19 62-19 41-81 18 0 970-541"/><path class="r18" d="M2400 1067l5-28 11 0 15 19 35-85 20 0 14 8 41-23 2-15 115-14 626-368 1-15 243-157"/><path class="r9" d="M2432 981l31-38 34 0 210-115 722-413 1 2 1-11"/><path class="r33" d="M2368 1118l1 0 20-51 24 40 62-110 484-282 471-294"/><path class="r25" d="M2291 1129l210-132 45-24 167-139 245-132 2 26 472-318"/><path class="r17" d="M2451 973l263-139 4 6 242-138 0 9 1 17 472-324 3 0 3 4"/><path class="r26" d="M2410 1077l3-19 34-61 83 0 136-68 2 0 621-365"/><path class="r19" d="M2428 1077l56-19 1-19 6 0 313-151 648-436"/><path class="r34" d="M2240 1269l184-192 8-10 36-70 80-47 127-7 253-152 95-40"/><path class="r42" d="M2243 1269l1 0 196-304 28 74 7 19 203-115 2 0 2 0 6 7 331-174 272-202 2 3"/><path class="r41" d="M2236 1269l136-151 29-41 66-19 188-122 2-7 304-218 318-147"/><path class="r25" d="M2375 1118l285-182 63-102 240-128 1-4 476-294 6 51"/><path class="r49" d="M2292 1129l6 0 33 34 86-56 2 0 540-388"/><path class="r41" d="M2299 1129l78-11 5 0 1 0 34 0 12-11 234-164 297-219"/><path class="r33" d="M2301 1140l103-63 9-19 252-115 1 0 296-215 321-154 164-122"/><path class="r26" d="M2245 1269l232-202 18-18 0 9 539-316 418-270"/><path class="r43" d="M1973 1429l628-352 438-281 218-111 267-179"/><path class="r34" d="M1980 1429l490-390 12 38 17-28 537-302 262-183"/><path class="r27" d="M2495 1067l311-179 44 0 179-112 1 0"/><path class="r10" d="M2408 1039l38-81 20 23 3 0 9 8"/><path class="r18" d="M2411 1039l2 38 35-72 29 0 9-24 70-31"/><path class="r25" d="M2300 1129l33 34 75-124 3 0 550-315 2-5"/><path class="r17" d="M2304 1140l146-167 4 24 274-163 240-136"/><path class="r32" d="M2448 973l467-249 16-26 8-36 260-148"/><path class="r41" d="M2302 1129l3 0 101-52 261-127 297-222"/><path class="r25" d="M2305 1140l1-11 423-295 4-6 232-100 3 5"/><path class="r33" d="M2307 1140l5-11 2 11 1 0 156-63 92-134 114 7 770-476"/><path class="r42" d="M2246 1269l227-230 566-302 262-173 153-82"/><path class="r50" d="M2247 1269l1 0 91-69 1 13 681-442 220-94 70-106"/><path class="r34" d="M2249 1269l166-192 1 0 80-19 360-182 167-110"/><path class="r26" d="M2486 1077l15-28 3 0 0 9 67-108 743-392 152-81"/><path class="r17" d="M2736 823l0 5 0 12 232-112 2 0"/><path class="r25" d="M2314 1129l2 0 0 22 1-11 1 0 653-412"/><path class="r9" d="M2430 973l312-139 1-6 220-113 470-300"/><path class="r25" d="M2435 981l309-158 220-108 0 4 3-4 466-298 3-2 2-5 1 7"/><path class="r41" d="M2319 1129l92-52 24-88 311-166 226-95 475-251"/><path class="r17" d="M2745 834l1-6 1 0 219-117 2 8 5 9 467-316 1 3"/><path class="r49" d="M2334 1163l91-45 59-60 266-241 221-93"/><path class="r33" d="M2319 1140l2-11 244-186 185-120 218-112 0 4"/><path class="r25" d="M2321 1140l2-11 0 11 242-204 188-113 216-117 0 9 1-4 4 17 468-313 0 2"/><path class="r42" d="M2340 1200l685-429 288-194 2-19 2 16"/><path class="r31" d="M2097 1388l9 0 12 0 327-119"/><path class="r14" d="M1973 1388l43-72 1528-901 13 72"/><path class="r5" d="M2021 1269l11 0 17 15 59 16 5-31"/><path class="r40" d="M2008 1254l599-378 315-195 38 43 473-323"/><path class="r48" d="M2610 876l104-48 204-109 2 0 26 0"/><path class="r12" d="M2094 1300l415-350 8 8 965-534 9-7"/><path class="r18" d="M2130 1254l295-167 105-129 938-541 4 0 2 0 3 0 73-13"/><path class="r26" d="M2425 1077l2 0 0 20 890-539 1-12 231-149 2-15"/><path class="r41" d="M2327 1129l94-32 6 10 145-157 398-235 588-335"/><path class="r33" d="M2324 1140l104-43 542-378 1-4 472-300"/><path class="r25" d="M2573 950l399-239 473-294 1 0 1 0"/><path class="r39" d="M2211 1388l235-119 1 0 1 0"/><path class="r20" d="M3389 546l167-129 11 0 1-5"/><path class="r2" d="M2326 1067l64-62 71-47 159-70"/><path class="r9" d="M2001 1269l386-256 1-16 48-16 181-93 824-478"/><path class="r17" d="M2329 1129l60-124 53-24 18-16 160-77 134-60 216-126"/><path class="r25" d="M2319 1067l7-9 4 71 5 0 55-107 1052-614"/><path class="r41" d="M2324 1151l1-11 12-11 2 0 52-116 365-190"/><path class="r17" d="M2320 1077l75-72 2 0 1046-599 0 6 4-8"/><path class="r49" d="M2326 1140l15-11 89-22 542-388 0 5"/><path class="r25" d="M2329 1140l13-11 416-301 4 0 4-5 678-408 2-7"/><path class="r41" d="M2330 1140l1 11 642-427 1-9 0 9"/><path class="r25" d="M2332 1140l2 0 3 0 638-425 2 4"/><path class="r46" d="M3020 888l227-112 310-137 6-96"/><path class="r53" d="M2935 943l54-55 191-112 357-152 2 11 3 11 6 0"/><path class="r54" d="M2391 1300l634-412 170-71 59-41 311-114"/><path class="r45" d="M2356 1300l610-311 29-101 2 0 4 0 241-127 314-171"/><path class="r28" d="M2328 1269l1 0 299-230 921-560"/><path class="r36" d="M2630 1039l279-151 586-327 6-6 63-62"/><path class="r44" d="M2330 1269l607-340 578-308 7-11 1-64 2 51 41-80"/><path class="r52" d="M2331 1269l2 31 617-399 545-314 45 20 5 3"/><path class="r43" d="M1977 1408l3 0 1051-632 348-205 140 22 44-114"/><path class="r35" d="M2808 888l43 0 189-87 1-15 490-296"/><path class="r3" d="M2488 958l31-29 113-41 21 0"/><path class="r18" d="M2429 1077l33-112 5-7 18 0 8 0 44-36 1019-525"/><path class="r10" d="M2003 1269l2 0 491-311 2 7 14-36 152-28 818-484"/><path class="r9" d="M2397 1022l2-9 44-32 79-52 23 0 903-530"/><path class="r17" d="M2505 929l10-14 13 21 18 0 217-102 682-422 2 3 3-14 1-4 3-2"/><path class="r49" d="M2338 1140l6-11 3 0 56-107 27 55 545-353"/><path class="r33" d="M2340 1140l8-11 43-98 233-149 351-154 473-316"/><path class="r41" d="M2342 1140l7-11 6 0 1 0 1 0 1 0 58-52 349-243 211-119 580-320"/><path class="r25" d="M2392 1039l2-8 2 8 5-34 71-47 505-243 470-307 2 9"/><path class="r24" d="M1992 1269l400-280 74-39 335-231 636-320"/><path class="r11" d="M2634 888l2 0 19 0 810-438"/><path class="r27" d="M2809 888l232-92 341-250 3 25 86-117"/><path class="r42" d="M2842 888l16-12 462-330 57 22 21-37"/><path class="r50" d="M2250 1269l91-69 94-113 587-311 377-247"/><path class="r42" d="M2251 1269l1 0 1 0 89-69 4 0 101-113 579-311 1 0"/><path class="r26" d="M2433 1067l16 30 219-189 180-20 1 0 718-493"/><path class="r34" d="M2254 1269l196-182 10 20 52-68 165-124 182-45 168-99 295-225"/><path class="r33" d="M2343 1140l16-11 72-52 0 20 1018-687 2-6"/><path class="r17" d="M2403 1013l4-8 218-123 4-6 820-464 1-2 1-2 2-11"/><path class="r49" d="M2363 1129l404-295 73 48 136-154 40 48 384-245"/><path class="r41" d="M2345 1140l19-11 75-52 11 30 205-199 322-180 1 0 426-202"/><path class="r42" d="M2467 1107l211-185 4-14 168-20 11-12 168-105"/><path class="r50" d="M2255 1269l88-82 109-100 17 20 382-219 180-117"/><path class="r9" d="M2396 1031l82-81 151-80 826-475 2 4"/><path class="r33" d="M2663 901l105-73 211-100 426-205 46-111 8-13"/><path class="r25" d="M2238 1269l208-192 322-254 2 5 6 6 677-428"/><path class="r17" d="M2632 870l2 6 817-461 2-5 0 5 5-22"/><path class="r26" d="M2343 1175l3 12 1 13 127-103 856-545"/><path class="r41" d="M2398 1031l49 36 7 10 318-260 208-89"/><path class="r25" d="M2399 1031l0 8 2-8 0 8 1-8 1 0 0 8 580-311 471-313 1 2 4-22 1-6"/><path class="r33" d="M2412 1039l1 0 49 38 523-353 469-314 2-2"/><path class="r17" d="M2408 1022l3 9 364-219 0 11 686-434"/><path class="r51" d="M1975 1451l627-393 32-19 861-432"/><path class="r6" d="M2035 1269l0 31 3-31 4 0"/><path class="r10" d="M2011 1269l1 0 4-15 12 15 2 0 16 0 5 0 9-15 3 0 789-366"/><path class="r9" d="M2011 1284l13 0 4-15 4 0 602-399 824-466 2-9 0 9"/><path class="r18" d="M2024 1254l600-366 70 13 768-454 3 0"/><path class="r25" d="M2778 823l677-408 2 0 3-16 0 18"/><path class="r13" d="M1990 1369l74-85 1426-822 14-45"/><path class="r32" d="M2381 997l16 25 6 9 70-88"/><path class="r36" d="M2339 1300l1190-754 1-3 5 3"/><path class="r43" d="M1990 1451l820-563 52 13 671-400"/><path class="r35" d="M3055 791l328-245 11 22 3 9"/><path class="r27" d="M2605 1039l2 0 204-151 1 0 572-342 1 0 1 0 13 15"/><path class="r50" d="M2344 1163l255-105 10-27 218-136 28-7 525-317 2 3"/><path class="r34" d="M2685 915l118-27 53 0 8-18 168-109 457-333"/><path class="r42" d="M2347 1187l1-12 1 0 123-68 340-219 46-6 0 6 178-132 1 0 1-9 297-198"/><path class="r49" d="M2336 1175l11-35 18-11 86-32 342-209 25-6 26 0"/><path class="r41" d="M1981 1451l356-288 115-76 3 0 323-259 35 60 8 0 2 0 3-6 635-425"/><path class="r33" d="M2336 1187l7-24 24-34 44-107 1049-584 2-34 12 34"/><path class="r25" d="M2348 1140l21-11 1 0 1 0 414-301 43 60"/><path class="r49" d="M2373 1129l40-107 48 75 373-209 1-12 3 12"/><path class="r34" d="M2475 1097l0 10 573-370 290-188 2 9"/><path class="r11" d="M2012 1284l40-44 0 29 10 0"/><path class="r18" d="M1985 1388l32-119 29-15 641-332 2 0 815-505"/><path class="r9" d="M2014 1269l4 0 6 0 24-15 1 0 11 0 1401-859"/><path class="r10" d="M2025 1269l22 0 2-15 580-366 860-471"/><path class="r26" d="M1975 1369l15 19 358-237 3 24 286-274 59-13"/><path class="r17" d="M2625 888l11-25 5 7 140-53 678-405"/><path class="r25" d="M2413 1031l215-143 14-18 139-47 3 0 676-413 1 7 1-9 0 4 1-8 3 0 4-15"/><path class="r33" d="M2338 1151l10 0 67-112 2-8 3-9 363-210 2 11"/><path class="r41" d="M2347 1163l5-23 7 11 16-22 411-306 0 5 3 6 1-11 677-417 3-5"/><path class="r17" d="M2417 1039l3 10 226-179 817-455 15-31 1 0"/><path class="r25" d="M2419 1031l3-9 2 9 227-161 136-64 0 6 684-404"/><path class="r33" d="M2355 1140l2 0 19-11 45-90 231-169 2 6 137-59 6 23 668-428 2 0 5 0 4-8"/><path class="r49" d="M2352 1163l9-12 17-22 45-90 4-17 254-93 2-14 108-87"/><path class="r25" d="M2424 1039l2-8 0 8 3-8 365-219 684-404"/><path class="r41" d="M2359 1140l75-109 248-95 117-96 667-423"/><path class="r33" d="M2360 1140l19-11 413-301 1-5 3-11 670-397 2 2"/><path class="r25" d="M2362 1151l23-22 411-301 1-16 673-395"/><path class="r17" d="M2426 1013l1 26 228-169 816-453 5-5"/><path class="r41" d="M2362 1140l2 11 69-112 366-211 1 6 672-417"/><path class="r25" d="M2428 1022l0 27 1-44 226-129 3-6 4-7 140-23 1-12"/><path class="r17" d="M2433 1022l1-25 2 0 221-121 1 0"/><path class="r25" d="M2434 1022l6-25 2 8 217-135 0 6"/><path class="r50" d="M2860 882l175-111 3-5 14-29"/><path class="r42" d="M2476 1107l163-219 396-112 18-29"/><path class="r33" d="M2366 1140l69-118 365-205 673-402"/><path class="r41" d="M2367 1140l62-101 7-8 369-208 3-11"/><path class="r25" d="M2434 1039l1 0 1039-624 0 2"/><path class="r8" d="M2742 724l521-309 89-180"/><path class="r16" d="M2745 724l1 4 62-4 455-314"/><path class="r24" d="M2003 1269l745-541 517-313 2 2"/><path class="r21" d="M2073 1388l47-119 12 31"/><path class="r1" d="M2884 771l63-98 217-127"/><path class="r9" d="M2444 1005l185-117 536-342 0 6 310-159"/><path class="r17" d="M2441 1022l2 0 3-9 1-24 439-218 589-384 3 6"/><path class="r33" d="M2448 981l181-99 258-111 589-354 2-13 4-17 1 4"/><path class="r17" d="M2450 989l5-8 1021-566 3-9 0 11 4-24 2-13 0 13 1-15"/><path class="r25" d="M2444 1022l2 0 3-9 5-8 433-229 63-95 4-12 523-257 1 0 1 0 1-8 1 2 7-30"/><path class="r41" d="M2436 1039l2-8 194-149 0 6 256-117 596-374 0 2 0 9"/><path class="r25" d="M2438 1039l195-157 9 0 845-472 2 0"/><path class="r32" d="M2009 1269l802-545 133-51 521-265"/><path class="r40" d="M2010 1254l802-530 113 0 535-329"/><path class="r48" d="M2012 1254l368-241 11 0 224-125"/><path class="r33" d="M2453 1022l4-33 434-218 589-354"/><path class="r9" d="M2460 981l494-300 1-19 3 0 2 11"/><path class="r17" d="M2466 981l423-205 66-91 6-12 525-278"/><path class="r25" d="M2961 690l1 0 518-275 7-28"/><path class="r17" d="M2964 694l2 4 3-4 512-282 8-34 3 0"/><path class="r33" d="M2468 981l422-205 82-74 511-285 13-30"/><path class="r25" d="M2891 776l79-82 3 4 509-286 14-40 0 2"/><path class="r49" d="M2368 1140l2 0 17-11 1097-712 10-24"/><path class="r41" d="M2372 1140l2 0 16-11 49-90 2-8 451-260 593-356 2 2 4-5 1-6"/><path class="r9" d="M2957 681l6-8 10 29 519-301"/><path class="r25" d="M2443 1031l0 8 2-8 1043-616 6-16 3 2"/><path class="r33" d="M2375 1140l70-101 448-263 603-383 1-2"/><path class="r17" d="M2474 973l486-292 13 25 1-4"/><path class="r25" d="M2894 776l80-65 1-9 522-305"/><path class="r41" d="M2446 1031l0 8 531-328 512-296"/><path class="r33" d="M2447 1039l1 0 3-17 444-246 81-74 0 4 516-294"/><path class="r4" d="M1991 1351l12-35 105-47"/><path class="r12" d="M2014 1333l7 0 13 0 77-64 1 0"/><path class="r20" d="M2048 1333l6 0 2 18 1440-892"/><path class="r34" d="M2002 1316l702-394 157-40 175-106"/><path class="r18" d="M1977 1369l75-100 5 64 1437-916"/><path class="r10" d="M1980 1369l4-36 2 36 31-69 37-31 2 0 585-381 3 0"/><path class="r25" d="M2017 1300l5 0 432-278 1036-605"/><path class="r17" d="M2009 1316l442-285 4-18 0 9 185-134 1 0"/><path class="r25" d="M2453 1031l4-26 0 17 1 0 184-134"/><path class="r41" d="M2449 1039l447-263 595-359 1 0"/><path class="r42" d="M2862 882l1 0 1-6 173-100"/><path class="r19" d="M2104 1316l20-16 1382-883"/><path class="r11" d="M1978 1333l18 36 1485-912 31-40"/><path class="r18" d="M1991 1351l66-82 1 0 588-381 860-471 3 0 3 0"/><path class="r25" d="M1979 1333l664-445 1-6 263-106"/><path class="r37" d="M3003 888l545-342 6-3"/><path class="r53" d="M2981 958l23-70 3 0 1 0"/><path class="r44" d="M2332 1269l633-368 573-355 22 51"/><path class="r46" d="M2396 1300l868-524 14 0"/><path class="r53" d="M2373 1284l906-513 5 5 5 0 8-15"/><path class="r45" d="M2385 1269l2 0 1 0 622-381 548-345"/><path class="r29" d="M2076 1388l313-119 755-493"/><path class="r38" d="M3031 888l165-112 2 0"/><path class="r54" d="M3032 888l7 0 5 0 154-60 83-52 7 0 22 0"/><path class="r37" d="M3014 888l140-112 88 75 56-123"/><path class="r52" d="M2968 888l10 0 181-112 385-230"/><path class="r2" d="M2025 1240l19-14 458-268"/><path class="r10" d="M2027 1226l2 28 2 0 19-14 454-297 145-55"/><path class="r26" d="M2477 1107l174-219 61 41 153-53"/><path class="r24" d="M2010 1269l3 0 7-43 927-561"/><path class="r40" d="M2017 1269l600-381 14 0 858-516"/><path class="r49" d="M2392 1129l313-207 189-151 84-60"/><path class="r33" d="M1992 1333l458-294 11-26 184-125"/><path class="r17" d="M2462 1005l40-69 8 0 137-48 845-473"/><path class="r41" d="M2394 1129l59-90 1-8 1 8 440-268"/><path class="r25" d="M2456 1039l2 0 520-324 2 0 513-300"/><path class="r33" d="M2465 1005l3-8 181-109 247-117 86-52 512-309 0 7 1-7 2 0"/><path class="r25" d="M2897 771l0 5 2 0 2 0 2 0 2 0 1 0 77-57 513-302"/><path class="r9" d="M2468 989l10-24 484-284 536-292"/><path class="r34" d="M2719 922l319-146 436-314 4-15"/><path class="r50" d="M2727 929l313-163 1 10 2 0 12-34 0 5"/><path class="r18" d="M2030 1240l474-275 9-7 141-70 831-438"/><path class="r33" d="M2650 888l249-122 1 0 84-47"/><path class="r17" d="M2476 989l10-24 166-77 311-203"/><path class="r25" d="M2476 997l1-8 23-24 7 0 3 0 6 0 140-83 315-192"/><path class="r49" d="M2456 1031l22-26 182-129 242-110 597-358"/><path class="r41" d="M2457 1031l26-42 0 8 421-236 559-299 36-67 0 20 2-3"/><path class="r33" d="M2480 1005l174-117 4-6 247-121 4-5 595-341 0 2 2 0"/><path class="r25" d="M2458 1031l1-9 22-17 3-16 171-101 2 0 4-6 242-111 1 0 9-10 587-372 1 12"/><path class="r33" d="M2459 1039l3-26 1 18 445-255 7-15 587-355"/><path class="r25" d="M2461 1039l1 0 1 0 1-26 0 18 0 8 1-26 1 0 450-252"/><path class="r41" d="M2465 1031l20-42 421-218 2 0 1 5 2 0"/><path class="r17" d="M2658 888l1 0 3-12 252-125 589-358"/><path class="r25" d="M2466 1031l20-42 5 8 172-115 1-6 246-105 5-29"/><path class="r33" d="M2465 1039l2-26 1 18 3-18 1 9 14-41 177-86 5-19"/><path class="r41" d="M2466 1039l3 0 1 0 4-17 437-251 1 5"/><path class="r25" d="M2476 1022l3-9 14-24 174-101 246-112 1-5 3 0"/><path class="r33" d="M2472 1039l5-17 194-134 243-112 1 0"/><path class="r25" d="M2479 1022l193-134 1 0 1 0 242-112"/><path class="r48" d="M2498 965l160-77 295-211 528-267"/><path class="r42" d="M2728 915l313-149 2 5 14-38"/><path class="r49" d="M2469 1031l13-26 435-249 141-14 446-336"/><path class="r33" d="M2471 1031l1 0 203-143 242-112 1 0 1 0 587-366 3-2"/><path class="r25" d="M2473 1031l0 8 2-8 9-34 192-109 242-127 3 5"/><path class="r41" d="M2918 771l2 0 0 5 1-5 2-5 1 0 586-360"/><path class="r33" d="M2475 1039l1-8 1 8 1-8 199-143 249-132 585-346"/><path class="r17" d="M2481 1022l7-49 1 32 176-123 842-467"/><path class="r25" d="M2478 1039l2 0 11-66 0 40 1-16 2 0 176-121"/><path class="r50" d="M2731 929l313-158 0 5 16-48 12 5"/><path class="r49" d="M2482 1031l4-9 435-246 1-5 1 0"/><path class="r41" d="M2497 981l426-205 2-10 4-10 580-341"/><path class="r33" d="M2481 1039l3-8 4-9 5-9 5-32 174-111 253-99 2-10"/><path class="r25" d="M2485 1031l4-9 7-17 1 8 5-24 171-126"/><path class="r40" d="M2462 989l4 24 13-55 8 23"/><path class="r49" d="M2482 1039l4-8 439-255 1 0"/><path class="r41" d="M2490 1022l12-41 0 16 428-241"/><path class="r33" d="M2489 1031l2-9 4 0 434-251 2-10 0 5"/><path class="r25" d="M2486 1039l8-26 11-40 422-197 7-20"/><path class="r33" d="M2497 1022l1-9 2-8 15-32 422-212"/><path class="r49" d="M2488 1039l3 0 13-17 424-246"/><path class="r41" d="M2490 1031l3 8 440-268 11-10"/><path class="r1" d="M2960 662l207-119 332-173"/><path class="r17" d="M2517 965l157-89 495-333 333-165 4 0"/><path class="r25" d="M2503 997l19-32 417-214 568-383 0 19"/><path class="r33" d="M2492 1031l15-26 167-123 1-12 254-94 579-416"/><path class="r17" d="M2503 989l172-107 834-491 3-19 2 0 1-2"/><path class="r9" d="M2963 669l2-7 205-119 1 0 337-165"/><path class="r41" d="M2494 1031l2 0 183-161 265-123 1-5"/><path class="r25" d="M2497 1031l9-42 172-101 252-112 36-118 545-280"/><path class="r33" d="M2676 882l279-145 0 5 557-345 1-21"/><path class="r17" d="M2964 673l9-23 198-104 339-162 2 17"/><path class="r32" d="M2488 958l131-70 13-6 335-236 529-284"/><path class="r49" d="M2494 1039l4-8 2-9 7-25"/><path class="r41" d="M2496 1039l9-26 174-125 252-112 1 0 581-394"/><path class="r33" d="M2498 1039l1 0 1-8 7-18 173-125 254-117 0 5 581-402"/><path class="r25" d="M2510 989l168-107 288-140 15-96 535-276 2 17"/><path class="r49" d="M2500 1039l1-8 180-143 254-117 1 5"/><path class="r33" d="M2502 1031l9-50 168-99 257-111 1 0 0 5 35-34 3-5 544-355"/><path class="r41" d="M2504 1039l4-34 4 0 170-117 256-122"/><path class="r40" d="M2633 876l32 6 307-236 194-109"/><path class="r25" d="M2513 989l167-107 3 6 298-160"/><path class="r49" d="M2504 1031l10-42 424-213 7-15"/><path class="r41" d="M2505 1031l1 0 435-260 43-43 2-4"/><path class="r33" d="M2512 997l2 8 433-239 4 5"/><path class="r25" d="M2515 989l1 8 1-16 470-257"/><path class="r19" d="M3517 417l1 0 1 0"/><path class="r41" d="M2518 997l1-8 988-572 4 0"/><path class="r33" d="M2519 997l2-24 467-249 523-312"/><path class="r25" d="M2520 989l1 0 1-8 1-8 4 8"/><path class="r45" d="M2390 1269l626-381 290-160"/><path class="r44" d="M2360 1284l619-396 569-345"/><path class="r46" d="M3049 888l151-112 127-48"/><path class="r54" d="M3053 888l11 0 9 0 2 0 16 0 257-151"/><path class="r53" d="M3017 888l74-6 218-111 1-43"/><path class="r45" d="M3018 888l3 0 102-31 188-133"/><path class="r48" d="M2484 1013l175-125 315-164"/><path class="r9" d="M2681 870l283-193 209-131"/><path class="r17" d="M2507 1022l174-140 284-201 3-12 6 4 201-127 343-174"/><path class="r25" d="M2683 882l284-201 210-135 344-176 0 8 1-6"/><path class="r33" d="M2508 1022l14-33 4-16 161-110 834-483"/><path class="r49" d="M2507 1031l177-143 301-160 527-316"/><path class="r41" d="M2509 1031l2-18 475-285 3-4 525-309"/><path class="r25" d="M2515 1013l10-32 3 0 2 0 155-99 7-19"/><path class="r17" d="M2688 882l1 0 279-205 211-131 334-140 11-28 1-8"/><path class="r33" d="M2515 1005l173-117 1 0 298-160 1 0 528-320 0 4 1-4 0 4 0 5 12-41 0 2"/><path class="r25" d="M2690 876l0 12 1-6 491-336 336-147 8-35 4 14"/><path class="r49" d="M2512 1031l3-9 5-25 172-140 297-129 531-335"/><path class="r41" d="M2514 1031l2-18 1002-596 1-7 1-6"/><path class="r33" d="M2512 1039l3-8 1 0 3-9 172-134 2-6 828-474"/><path class="r25" d="M2523 989l171-113 296-148 530-318 1-11"/><path class="r41" d="M2517 1031l4 0 171-143 3-18 827-462 2-15 3 6"/><path class="r17" d="M2694 857l2 13 3-7 485-317 335-129 13-30 5-23"/><path class="r49" d="M2516 1039l1-26 1-8 2 8 9-24 464-261"/><path class="r33" d="M2520 1022l2-9 8-24 2-8 996-573 2-9 0 5 6-11 4 2"/><path class="r25" d="M2518 1039l176-151 1-6 5-12 5-7"/><path class="r41" d="M2518 1031l5-26 662-459 335-131"/><path class="r49" d="M2520 1039l1 0 2-26 1008-607"/><path class="r33" d="M2522 1022l2-9 172-125 9-18 1 0"/><path class="r25" d="M2526 1005l171-117 489-342 1-3"/><path class="r9" d="M2969 681l1-19 223-122 343-164"/><path class="r17" d="M2698 888l273-230 0 27 1-8 218-131"/><path class="r33" d="M2529 1005l0 8 170-125 1-6 0 6 274-207 563-299"/><path class="r41" d="M2522 1039l9-34 171-123 0 6 1-6 4-6"/><path class="r25" d="M2703 888l1-6 4-6 264-186 571-299"/><path class="r32" d="M3170 543l3 12 1-12 8-3"/><path class="r9" d="M2976 662l215-116 2-3 346-167"/><path class="r17" d="M2973 694l1 4 2-40 0 19 3-8 214-123 1 0 1-6 0 6"/><path class="r25" d="M2974 690l2 0 1-13 8-15 211-125 1 9"/><path class="r33" d="M2522 1031l3 8 179-151 272-190 2 0 8-36"/><path class="r49" d="M2527 1031l0 8 2 10 3-44 0 8"/><path class="r25" d="M2526 1022l9-25 0 16 172-125 271-186 1 4"/><path class="r41" d="M2529 1022l6-17 2 0 3 0 168-117 1-12"/><path class="r49" d="M2528 1031l2-9 1 0 2 0 2-33 0 42 174-143 1 0"/><path class="r17" d="M2537 981l173-105 268-182 1-4 219-153"/><path class="r33" d="M2530 1039l181-151 1 0 267-190 2 13 2-5"/><path class="r25" d="M2540 997l1-8 441-278 0 4 1 0 1-4 218-177"/><path class="r9" d="M2979 681l4-27 4 8 210-119 6-9"/><path class="r33" d="M2985 715l0 4 1 0 214-179 5-6"/><path class="r17" d="M2980 685l4-31 1-4 213-104 2 0 7-15"/><path class="r25" d="M2980 673l5 8 2 34 212-172 1 0"/><path class="r17" d="M2985 673l1 0 1 8 214-135 1-6 1 0"/><path class="r41" d="M2536 1013l8-24 167-113 272-178 4-21"/><path class="r33" d="M2539 1013l2 0 172-131 271-192 2-21 3 46 1 0 218-186"/><path class="r25" d="M2712 876l4-6 268-168 1-8 0 4 3-21 217-140"/><path class="r49" d="M2532 1039l13-58 168-93 274-169 3 5"/><path class="r33" d="M2536 1031l176-149 2 6 272-186 1 4 4 18"/><path class="r17" d="M2719 863l269-190 1 29 219-168 3 3"/><path class="r25" d="M2714 882l1 0 6-25 1 6 3 0 263-144 1-13"/><path class="r41" d="M2533 1039l9-26 173-125 270-198 5 21"/><path class="r49" d="M2538 1031l5-26 173-123 0 6 276-160"/><path class="r33" d="M2534 1039l16-26 167-137 0 6 5-6 8-25 264-114"/><path class="r41" d="M2541 1031l1-9 175-134 6-18 1 12 270-154"/><path class="r9" d="M2986 685l1-20 3-19 211-103"/><path class="r25" d="M2545 997l180-127 12-19 252-193 0 15 2 42"/><path class="r17" d="M2988 681l1 38 1-61 7-4 205-111 2 3 2-9"/><path class="r33" d="M2549 1022l169-134 9-25 259-173 4 29 3-76 210-100"/><path class="r25" d="M2988 694l1-17 0 8 0 9 2 25"/><path class="r17" d="M2733 857l257-172 0 13 5-52 1 0 209-103"/><path class="r41" d="M2550 1005l169-117 273-164 2-26"/><path class="r49" d="M2535 1039l16-34 0 8 449-351"/><path class="r41" d="M2537 1039l1 0 1-8 0 8 13-34 0 8"/><path class="r33" d="M2553 1005l439-286 1-46 1 17 2 12"/><path class="r25" d="M2720 888l273-182 1 18 3-30 0 4"/><path class="r17" d="M2993 719l1-42 1 29 2-4 1-29 0 21 0 4"/><path class="r41" d="M2555 1005l439-290 0 4 1 5 0 4"/><path class="r33" d="M2721 888l1 0 276-186 0 9"/><path class="r48" d="M2703 882l12 0 3-19 253-178"/><path class="r25" d="M2724 888l271-169 1 5 1-18"/><path class="r41" d="M2725 888l1-6 0 6 272-160"/><path class="r37" d="M2391 1269l793-493 136-48"/><path class="r52" d="M3159 786l391-243 6 3"/><path class="r44" d="M3162 776l395-233 0 3 1-3"/><path class="r36" d="M2334 1269l646-381 584-342"/><path class="r52" d="M2345 1284l636-396 2 0 4 0 177-112 3 0 1 0"/><path class="r44" d="M2349 1300l16-31 805-493 396-230 1-6"/><path class="r46" d="M3354 728l5 0 14 0"/><path class="r53" d="M3023 888l105-48 9 30 235-142"/><path class="r45" d="M2392 1269l634-381 1 0 295-160 4 0"/><path class="r40" d="M2679 876l6-6 43-24"/><path class="r49" d="M2554 1013l4-8 437-320"/><path class="r17" d="M2727 876l271-170 1-8"/><path class="r33" d="M2727 870l3 12 266-163 1-4 3 13"/><path class="r25" d="M2727 888l2-12 268-199 0 8 1 30 1-13"/><path class="r41" d="M2555 1013l4-8 438-286 2 0 0 5 1-26 0 26"/><path class="r33" d="M2728 888l1-6 2-12 268-155 3 9"/><path class="r25" d="M2729 888l2-6 3-19 0 13 1-6 268-146"/><path class="r9" d="M2994 639l5 34 206-127"/><path class="r37" d="M2393 1269l635-381 302-160"/><path class="r52" d="M3172 776l8 0 156-65"/><path class="r44" d="M3137 876l44-105 163-60"/><path class="r49" d="M2999 690l1 25 1 13"/><path class="r33" d="M2734 857l268-146 0 4 0 13"/><path class="r25" d="M2738 851l263-182 1 16 1 30 203-172 0 3"/><path class="r17" d="M2996 635l1 8 3 34 1 17 2-32 1 66 203-182 1-3 0 3 1-6 1 0 1 0"/><path class="r9" d="M3000 639l0 7 1 0 1-3 0 3 1-7 0 7"/><path class="r41" d="M2730 888l2-6 5-25 267-133 2 4"/><path class="r33" d="M2733 882l3-6 2-19 2 6 263-190 1 46 1 5 1-5 0 5"/><path class="r25" d="M2734 882l1 0 6-25 260-159 1-17 1-38 4 81 203-178 1-3"/><path class="r33" d="M2739 876l2-25 261-149 2-8 4 30"/><path class="r49" d="M2731 888l276-160 1 0 1-4 0 4"/><path class="r41" d="M2738 870l6-19 258-145 3-8"/><path class="r17" d="M2745 846l260-192 0 48 1-37 206-119"/><path class="r25" d="M2732 888l9-18 1-7 264-201 10 3 196-122 3 3"/><path class="r33" d="M2733 888l3-6 268-171 1-5 1-16 0 21 5 17 8-70 8 11"/><path class="r41" d="M2733 895l12-32 1-17 261-140 5 22 1 0"/><path class="r25" d="M2738 882l2-6 267-174 0 13 17-57"/><path class="r17" d="M3006 658l1 53 0 8 20-57 186-122 2 3"/><path class="r33" d="M2739 882l270-163 205-182 4 6"/><path class="r41" d="M2744 870l264-164 1-4 1 4"/><path class="r25" d="M3009 662l1 40 1-44 0 48 1-8 204-152 1 0"/><path class="r33" d="M2746 870l2 0 261-159 2 0 3-5 0 5"/><path class="r49" d="M2734 888l12-25 2-17 262-127"/><path class="r33" d="M2740 882l7-12 3-30 2 0 259-125"/><path class="r41" d="M2736 888l13-18 1-19 7-5 253-122 6-13"/><path class="r17" d="M2751 857l465-320 2 9 1 0"/><path class="r53" d="M2395 1269l634-381 1 0"/><path class="r45" d="M2396 1269l637-381 307-160 1-4 5 0"/><path class="r33" d="M2737 888l18-31 258-138"/><path class="r25" d="M2738 888l22-37 252-127 1 0"/><path class="r49" d="M3014 724l1-9 0 9 1-5 1-8"/><path class="r33" d="M2739 888l2-6 0 6 2-6 18-31"/><path class="r41" d="M2745 882l269-154 2 0 1-9"/><path class="r25" d="M2742 888l2-12 20-30"/><path class="r33" d="M2743 888l3-6 270-158 1 4 3-13"/><path class="r49" d="M2744 888l2-12 4-6 270-142"/><path class="r41" d="M2745 888l2-6 3 0 268-163 0 5"/><path class="r33" d="M2749 876l2-6 269-151"/><path class="r49" d="M2746 888l273-164 2-5"/><path class="r30" d="M2018 1388l75 0"/><path class="r55" d="M3081 915l386-173"/><path class="r47" d="M2218 1388l232-119 1038-541 14-4"/><path class="r54" d="M3400 728l3 0 89-4 8 0 13 4 2-4 3 0 3-5 5 0 4-4 8-4"/><path class="r39" d="M2222 1388l229-119 3 0"/><path class="r51" d="M2863 908l671-423"/><path class="r35" d="M2608 1039l1 0 257-117"/><path class="r43" d="M2610 1039l447-258 334-235"/><path class="r51" d="M2611 1039l256-117 193-146"/><path class="r43" d="M2612 1039l258-131 5 35"/><path class="r3" d="M2032 1316l36-32"/><path class="r11" d="M2040 1300l28-31 7 31"/><path class="r33" d="M2045 1284l975-560 1 4"/><path class="r41" d="M2747 888l274-164 1-5 0 5 3 4"/><path class="r25" d="M2748 888l1 0 3-18"/><path class="r33" d="M2752 863l0 13 5-13 267-144"/><path class="r18" d="M2037 1333l4 0 11-33"/><path class="r17" d="M2020 1316l36-32 3 16"/><path class="r25" d="M2034 1333l3 0 724-476"/><path class="r49" d="M2750 888l14-37 261-127"/><path class="r41" d="M2753 876l9-13 9-17 255-127 0 9"/><path class="r33" d="M2772 846l1 5 5-5"/><path class="r12" d="M2016 1351l60-35"/><path class="r18" d="M2062 1316l16-16 2 0"/><path class="r28" d="M2364 1300l1146-843"/><path class="r27" d="M3509 440l14-2"/><path class="r19" d="M2000 1369l52-53 1479-878"/><path class="r42" d="M2041 1316l695-401 756-451"/><path class="r35" d="M2613 1039l898-580 4 5"/><path class="r2" d="M2032 1240l19-14"/><path class="r9" d="M2033 1240l17 0 954-597 0 38"/><path class="r17" d="M2031 1316l10 0 13-76 951-597 3 30"/><path class="r25" d="M2015 1333l28-17 9 0 953-631 1 0 1 0 2-20 5 12 4 0"/><path class="r10" d="M2033 1254l21-41 468-263"/><path class="r2" d="M2035 1269l20-43 6-13"/><path class="r10" d="M2038 1269l2 0 1 0 3 0 13-29 7-40"/><path class="r17" d="M2017 1333l16-64 1 0 4-15 17-14"/><path class="r40" d="M2024 1269l3-15 15-14 4 0 21-40"/><path class="r9" d="M2042 1269l12-56 12 13 941-583 0 3"/><path class="r24" d="M2021 1240l8 14 22-41 594-331"/><path class="r25" d="M2021 1333l34-107 470-268 483-319"/><path class="r17" d="M2043 1269l14-43 951-580"/><path class="r33" d="M2044 1269l483-304 494-292"/><path class="r17" d="M2048 1269l486-296 2-8"/><path class="r40" d="M2030 1254l18 15 9-43"/><path class="r25" d="M2541 965l3 8 465-319"/><path class="r41" d="M2055 1316l492-335 961-548"/><path class="r26" d="M2033 1351l1044-623"/><path class="r34" d="M2076 1316l663-401 340-187"/><path class="r50" d="M3039 786l41-58 1 0"/><path class="r1" d="M3210 526l306-172"/><path class="r48" d="M2045 1254l969-596 494-302"/><path class="r9" d="M3009 646l3 0 198-123"/><path class="r25" d="M2548 981l972-625 1 0"/><path class="r17" d="M3212 520l3 11 1-8"/><path class="r36" d="M2366 1269l623-381"/><path class="r52" d="M2990 888l196-117 162-73"/><path class="r53" d="M3348 724l178-39"/><path class="r14" d="M2025 1388l12 0"/><path class="r18" d="M1994 1388l69-148 460-297"/><path class="r25" d="M1988 1388l547-445 681-412 1 9"/><path class="r33" d="M2525 950l27 39 667-449"/><path class="r49" d="M2558 997l451-307 18 38"/><path class="r26" d="M2067 1240l676-318 303-146"/><path class="r9" d="M2057 1240l1160-714 2 17 308-185"/><path class="r25" d="M3011 685l3 5 207-173 0 20 310-185"/><path class="r17" d="M2527 958l490-277 1 0 517-331 3 12"/><path class="r33" d="M3012 694l5-9 5-8 198-134 3-14"/><path class="r25" d="M2537 958l476-264 10-21 201-142 314-177 2-9"/><path class="r41" d="M2551 981l191-66 273-225 13 34 193-184"/><path class="r17" d="M3221 543l4-14 316-173 4-6 1-9"/><path class="r25" d="M2554 981l668-438 1 0 0 3 6-17"/><path class="r50" d="M3048 771l1 5 1-5 2 5"/><path class="r33" d="M2546 958l468-264 210-148 322-192"/><path class="r17" d="M3224 540l1 0 0 6 6-17"/><path class="r9" d="M3225 517l4 3 311-158"/><path class="r25" d="M3016 698l210-184 2 41 4-29 0 5"/><path class="r49" d="M2552 965l1 24 476-265"/><path class="r41" d="M2555 973l3 0 668-430 316-173"/><path class="r25" d="M3226 546l1-9 4 9 315-182"/><path class="r33" d="M2555 958l2 0 459-264 222-148 316-186"/><path class="r17" d="M2555 989l7-31 668-438 3 6 3 14"/><path class="r25" d="M2557 981l460-291 4 4 209-177"/><path class="r41" d="M2559 973l0 24 676-463 322-176"/><path class="r33" d="M2561 989l2-8 455-296 2 5 217-156 0 6"/><path class="r25" d="M3237 543l1 0 3-3 2-3 1 0 316-173 2-14"/><path class="r32" d="M3225 546l1-9 312-179"/><path class="r49" d="M2562 973l455-271 529-328"/><path class="r33" d="M3017 706l5 5 3-5 214-163 2 3"/><path class="r41" d="M2564 981l456-300 1 9 3 21 529-335"/><path class="r25" d="M2563 965l459-284 0 17 218-155 1 0 1-3"/><path class="r33" d="M2565 973l8-8 449-271 2 8 1-4 1 13 0 4 216-169 1-3"/><path class="r17" d="M3020 685l214-165 9 26 304-162"/><path class="r41" d="M2573 981l2-8 452-254 217-176 309-165"/><path class="r25" d="M2573 958l449-268 5 25 214-195"/><path class="r33" d="M2580 973l446-279 209-168 11 20 1 0"/><path class="r17" d="M3237 531l1-8 10 23 311-170"/><path class="r48" d="M2526 958l704-412 296-190"/><path class="r49" d="M3026 702l2 0 0 17"/><path class="r41" d="M2576 958l3 7 443-280 7 13 1 21 0 5"/><path class="r33" d="M3026 690l1 0 1 21 5-5 206-177 5-3 317-156"/><path class="r25" d="M2576 950l447-273 221-143 2 3 1-6 0 12 1-17"/><path class="r33" d="M2577 943l448-266 2-4 1 4 1 4 219-147"/><path class="r41" d="M2579 950l451-265 0 30 218-175 1-6 315-162"/><path class="r49" d="M2580 965l451-271 0 21 0 13 1-17 1 17 1-13"/><path class="r17" d="M3030 677l219-154 1 8 0 6 5-17"/><path class="r25" d="M2582 950l446-281 3 8 0 4 3 25 215-163 2-9 4-8 2-6 310-148"/><path class="r33" d="M2586 943l446-249 1 0 0 25 1 0 2-17 213-156 8-29"/><path class="r41" d="M2584 958l0 7 447-296 3 16 1 39 2-18 1-4 3-4 209-152"/><path class="r33" d="M2586 958l449-273 2 5 1 21"/><path class="r25" d="M3032 669l8 42 211-165 8-23"/><path class="r49" d="M3035 728l2 0 6-22 219-189"/><path class="r41" d="M2588 958l4-8 445-269 0 17 1 30"/><path class="r33" d="M2594 950l440-277 4 46 214-173"/><path class="r40" d="M3215 526l16-12 6 9"/><path class="r17" d="M3252 537l1 9 11-26"/><path class="r9" d="M3254 546l10-32 4 3 296-172"/><path class="r25" d="M2594 943l442-270 218-139 1 12 11-37 4 3"/><path class="r41" d="M2597 950l441-277 2 42 4 4"/><path class="r49" d="M3041 711l1 13 1-22 1 9"/><path class="r33" d="M2598 943l6 15 438-281 1 51 523-376"/><path class="r41" d="M3042 715l2 0 0 9 1 4"/><path class="r33" d="M3045 724l1-13 1 0 2 0"/><path class="r48" d="M3240 520l15-8 305-164"/><path class="r49" d="M3045 719l1 0 2-4"/><path class="r1" d="M3010 639l38 80 204-179"/><path class="r25" d="M2610 958l402-323 1 11 25 35 11 34"/><path class="r41" d="M3042 681l5 43 2-5 1 0 204-182"/><path class="r49" d="M2611 965l430-275 7 34 0 4 1 0 3-4 0 4 203-185"/><path class="r17" d="M3255 537l1-3 1-5 14-15"/><path class="r33" d="M3041 694l10 25 205-179 2 3"/><path class="r25" d="M3043 681l214-144 2-6 0 6 6-8"/><path class="r41" d="M3044 698l3 4 209-156"/><path class="r33" d="M3257 546l1 0 3-6 1-3 5-3"/><path class="r49" d="M3050 706l1 5 208-165 1 0"/><path class="r33" d="M3052 719l5-4 204-169 2 0"/><path class="r25" d="M3263 540l0 3 1 3"/><path class="r16" d="M2983 643l271-117"/><path class="r22" d="M2103 1388l5 0"/><path class="r45" d="M3054 888l300-164"/><path class="r53" d="M3073 882l7 0 280-158 10 4 3 0 5 0"/><path class="r55" d="M2455 1269l1049-545"/><path class="r46" d="M3428 728l3-4"/><path class="r54" d="M2443 1269l1 0 1000-541"/><path class="r29" d="M2408 1269l0 15"/><path class="r47" d="M2242 1388l4 0"/><path class="r3" d="M2069 1269l3 0"/><path class="r10" d="M2064 1254l2 0 3-14 0 14"/><path class="r17" d="M2065 1254l2 0 977-569 222-156"/><path class="r43" d="M2086 1333l529-294"/><path class="r27" d="M2616 1039l902-580 19-21"/><path class="r19" d="M2000 1388l17 0 72-72 1439-852 13-47 3 0"/><path class="r42" d="M2003 1408l745-500 771-439 6-43"/><path class="r34" d="M3051 771l31-43 438-269"/><path class="r42" d="M3053 776l3-10 27-38 439-274"/><path class="r41" d="M3053 724l3-5 467-284"/><path class="r33" d="M1998 1408l1059-689 1 0 209-193 1 8"/><path class="r49" d="M3054 728l211-182 1-6"/><path class="r25" d="M2068 1240l1200-711 0 8 1-17"/><path class="r33" d="M3055 724l211-178 3-9 2-17"/><path class="r34" d="M3055 776l29-48 8 0"/><path class="r51" d="M2617 1039l256-151"/><path class="r43" d="M2619 1039l2 0 914-560"/><path class="r51" d="M2622 1039l1 0 1 0 1 0 1 0"/><path class="r35" d="M2875 888l663-431 3 0"/><path class="r43" d="M2876 888l667-409 8 0"/><path class="r24" d="M2037 1254l23-28"/><path class="r9" d="M3012 639l255-133"/><path class="r25" d="M3013 639l254-96 1 3 3-37"/><path class="r17" d="M3016 643l256-126 5-3 1 6"/><path class="r9" d="M3016 635l1 11 260-140"/><path class="r17" d="M3018 646l1-14 1-4 258-127 2 8"/><path class="r46" d="M3447 728l6-4"/><path class="r53" d="M2409 1269l1032-545 7 0 4 0 6 0 8-5"/><path class="r54" d="M3465 728l6-4 4 0 10 4 6 0"/><path class="r45" d="M2410 1269l1 0 1 0 968-541"/><path class="r53" d="M2413 1269l971-541 4 0"/><path class="r18" d="M2061 1269l3 0"/><path class="r26" d="M2078 1316l1450-899"/><path class="r50" d="M2751 901l334-159"/><path class="r34" d="M2859 895l226-167 4 0"/><path class="r42" d="M2754 895l105-7 1 0 2 0 669-471"/><path class="r33" d="M2751 888l530-376 239-91"/><path class="r49" d="M2751 882l307-158 211-190"/><path class="r41" d="M3057 728l212-185 2-3"/><path class="r33" d="M3058 728l212-197 0 15 4-12"/><path class="r25" d="M3020 635l251-89 4-12 1-11 1 3 248-111"/><path class="r17" d="M3022 635l250-92 6-20 7-14"/><path class="r33" d="M3272 546l3-9 12-31"/><path class="r25" d="M3278 534l10-22 2-9 0 6"/><path class="r49" d="M3529 412l1-4 0 9"/><path class="r41" d="M3059 724l214-181 258-128 1-3"/><path class="r33" d="M3278 537l2-3 253-135 0 11 1 5 1-16 0 13"/><path class="r25" d="M3274 543l0 3 1-3 260-128"/><path class="r49" d="M3061 719l1 9 1-4 474-309"/><path class="r41" d="M3281 526l256-116 6-15"/><path class="r19" d="M3545 452l19 0"/><path class="r34" d="M2755 888l109 0 692-441"/><path class="r9" d="M3019 646l5-11"/><path class="r17" d="M3024 632l259-112 8-14"/><path class="r33" d="M3276 540l1 6 11-29 2 9"/><path class="r25" d="M3023 646l254-103 14-34 251-99"/><path class="r17" d="M3024 646l4 8 263-140"/><path class="r25" d="M3032 654l2 8 258-139 2-9"/><path class="r33" d="M3024 643l12 22 242-119 1-3 15-17 1-14 0 17"/><path class="r17" d="M3026 646l1-3 1 3 251-106 2 3 15-23"/><path class="r41" d="M2753 882l283-220 245-128 2 12"/><path class="r9" d="M3028 639l1 4 1-11"/><path class="r25" d="M2754 888l279-253 250-92"/><path class="r33" d="M2755 876l529-330 3-15 1 3"/><path class="r41" d="M3030 646l255-100 3 0 4-12"/><path class="r33" d="M3032 650l256-107 1 0 7-12"/><path class="r49" d="M2756 888l534-345 0 12 248-140"/><path class="r17" d="M3032 643l1 3 1-11 263-109"/><path class="r33" d="M2757 888l1 0 277-242 1 0 255-103 2-6"/><path class="r25" d="M2756 882l5-12 1 0 273-216 2-8 3 4"/><path class="r40" d="M2985 646l291-132 6 23"/><path class="r49" d="M2760 876l6-13 271-201"/><path class="r41" d="M2763 870l531-324 5-29"/><path class="r25" d="M2774 857l264-195 2 7 254-126 7-29 1 3 3 6"/><path class="r33" d="M2758 882l1 6 282-215 254-133 13-20 1-3 3 0 1-3"/><path class="r25" d="M2760 888l4-12 278-203 1 0 275-167"/><path class="r41" d="M2760 882l536-345 1 9"/><path class="r49" d="M2761 882l4-12 278-193 254-137 2-6"/><path class="r41" d="M2761 888l5-6 535-348"/><path class="r33" d="M2762 888l536-342 29-40"/><path class="r25" d="M2765 876l280-199 260-146 27-30"/><path class="r41" d="M2765 888l1-12 1-6 0 12 1 0 1 0 532-342"/><path class="r33" d="M2770 876l535-339 3-3 1-5 1-3"/><path class="r49" d="M2766 888l1 0 3-6 533-339 32-48"/><path class="r17" d="M3037 643l5 19 4 19"/><path class="r41" d="M2768 888l278-198 260-153 9-17"/><path class="r25" d="M2768 863l270-217 6 19 273-151"/><path class="r33" d="M2774 870l273-176 1 0 255-148 18-29 3-3 13-13"/><path class="r49" d="M2769 888l6-31 275-155 4 0 251-159 3-6"/><path class="r41" d="M2772 863l2 0 265-220 8 26 260-126 1 3"/><path class="r33" d="M2770 888l5-18 1-13 1 6 278-161 253-162 1-3"/><path class="r41" d="M2771 888l285-186 1 0 0 4 1 5 252-168 1-3"/><path class="r25" d="M2779 857l268-180 1-8 2 21 281-178"/><path class="r33" d="M2771 882l8-31 270-182 2 0 4 8 279-165 3-6"/><path class="r49" d="M2774 888l1-12 1 0 283-157 2-13 248-172 2 12"/><path class="r41" d="M2777 876l5-13 269-182 4 0 7 17 0 4 249-159 2-3 1 3 1 3 33-40"/><path class="r33" d="M2778 888l1-12 277-199 5 34 250-177"/><path class="r41" d="M2779 888l1-18 0 12 2-12 6 0 269-189 6 38 249-188"/><path class="r49" d="M2784 857l280-151 0 18 250-187 2 9"/><path class="r33" d="M2780 888l7-31 278-146 256-185"/><path class="r25" d="M2782 882l270-192 3-25 2 8 273-153"/><path class="r41" d="M2788 857l0 6 270-178 7 43 251-191 4-3 15-17"/><path class="r49" d="M2783 888l2-6 5 6 276-177 5 0 247-168"/><path class="r48" d="M3016 639l302-116 201-111"/><path class="r17" d="M3040 643l1 3 0 4"/><path class="r25" d="M2791 857l251-211 0 4 25 69 269-205"/><path class="r33" d="M3042 654l2-4 14 27 1-4 263-139 14-14"/><path class="r41" d="M2788 876l4-19 269-180 257-131 3-3 17-31"/><path class="r49" d="M2791 882l1-12 2 12 273-158 257-187 0 6 1-9 24-25"/><path class="r33" d="M2794 870l4-19 526-305 1-3 1-12 0 9 1-6 24-22"/><path class="r41" d="M2795 882l2-12 1 0 270-146 5-5 253-176 1-3 2-9"/><path class="r49" d="M2796 882l6-19 267-135 5-4 2 0 251-181"/><path class="r25" d="M2800 851l2-5 243-200 14 35 3-4 266-134"/><path class="r41" d="M2801 882l1-12 1-30 0 11 2-5 2 24 522-327"/><path class="r33" d="M2805 834l244-184 12 31 266-135 2 0"/><path class="r49" d="M2802 888l9-18 519-327 3 3"/><path class="r17" d="M3045 658l15 27 4-16"/><path class="r9" d="M3035 632l15 26 289-168"/><path class="r25" d="M2804 857l2-17 248-178 13 11"/><path class="r41" d="M2806 882l1-54 3 18 252-165 279-194"/><path class="r17" d="M3035 635l6 4 14 23 3 0 1 0 283-167"/><path class="r33" d="M2808 823l260-150 263-133 1 3 15-53 3-3"/><path class="r49" d="M2809 888l2-6 251-192 272-144"/><path class="r25" d="M3063 681l270-144 20-55"/><path class="r41" d="M2809 823l260-146 264-143 16-36"/><path class="r33" d="M3063 685l2-4 269-138 15-53 5-3"/><path class="r49" d="M3336 546l1-20 1 8 13-25 3-19"/><path class="r33" d="M3339 520l4-3 13-3"/><path class="r41" d="M3064 690l273-144 24-34"/><path class="r33" d="M3065 685l2 13 271-155 25-26"/><path class="r49" d="M3067 681l0 9 0 12 2-12 274-153"/><path class="r41" d="M3070 702l271-159 4-6 19-20"/><path class="r25" d="M3070 677l0 4 285-194"/><path class="r33" d="M3071 685l276-148 8-47 10 24"/><path class="r41" d="M3072 685l276-148 9 0 2-47 0 8"/><path class="r49" d="M3071 706l2-21 1 13 270-155"/><path class="r50" d="M2864 882l230-154"/><path class="r42" d="M2865 888l1-12 0 6 1-12"/><path class="r34" d="M2866 888l2-6 0 6 229-160"/><path class="r50" d="M2870 870l0 12 0 6 1 0"/><path class="r9" d="M3039 632l1-4"/><path class="r25" d="M3073 711l285-229"/><path class="r33" d="M3074 685l286-195 1 0 3 11"/><path class="r41" d="M3075 690l0 4 1-4 290-187"/><path class="r49" d="M3073 715l2-13 4-8 1 0"/><path class="r42" d="M2875 870l228-142"/><path class="r17" d="M3042 639l2-7"/><path class="r25" d="M3044 639l0 4 1-11 1 11 1 0 0 3 318-156"/><path class="r33" d="M3048 646l28 73 290-232 0 8 3 14"/><path class="r41" d="M3077 724l1-18 2 0 288-216 1 24 8-5"/><path class="r49" d="M3078 719l7-13 292-186"/><path class="r33" d="M3369 498l3-8 2-3"/><path class="r25" d="M3049 646l325-156 4 24"/><path class="r41" d="M3079 724l4 4 296-202"/><path class="r49" d="M3050 646l34 82 302-216"/><path class="r33" d="M3079 715l299-228"/><path class="r49" d="M3083 711l1 0"/><path class="r23" d="M2127 1388"/><path class="r4" d="M2113 1269"/><path class="r11" d="M2074 1269l28 0 4 0 1 0 3 0 4 0 4 0"/><path class="r38" d="M3203 776"/><path class="r45" d="M3191 776l203-52"/><path class="r53" d="M3228 776l4 0 172-52 6 4 4-4 1 0 4-5 16 5"/><path class="r21" d="M2082 1388"/><path class="r30" d="M2195 1388"/><path class="r2" d="M2069 1213"/><path class="r10" d="M2068 1269l6-43"/><path class="r17" d="M2073 1213l975-574"/><path class="r9" d="M3049 635l1 15"/><path class="r18" d="M2071 1269l33-15"/><path class="r17" d="M3049 628l3 11"/><path class="r25" d="M3050 624l3 19 6 11"/><path class="r33" d="M2067 1269l984-623 9 12"/><path class="r25" d="M2069 1269l983-626 2 3 1 0"/><path class="r41" d="M3064 662l314-183"/><path class="r17" d="M3052 628l2 15 330-164"/><path class="r25" d="M3054 632l12 30 3 7 1-4"/><path class="r33" d="M3055 643l1 3 326-156"/><path class="r49" d="M3384 490l1 5 3-18"/><path class="r9" d="M3054 635l1-11"/><path class="r17" d="M3055 635l1 4 1-11 0 11 14 34"/><path class="r25" d="M3056 632l1 0 0 11 2-4 12 26"/><path class="r33" d="M3057 646l3-7 14 19 6 4"/><path class="r17" d="M3058 646l1-22 0 4 2 11"/><path class="r41" d="M3059 646l14 31 315-187"/><path class="r25" d="M3061 643l1-4 0 4 13 30"/><path class="r33" d="M3059 650l17 27 0 4 2 4 1 0"/><path class="r17" d="M3077 673l314-183"/><path class="r49" d="M3063 639l17 30"/><path class="r41" d="M3081 681l1-12 314-179"/><path class="r25" d="M3060 646l21 44 1-25"/><path class="r41" d="M3062 650l21 15 1-3"/><path class="r33" d="M3085 669l2 16 310-198"/><path class="r49" d="M3084 698l4-33 2 12 4 4 2 4 301-200 3 5"/><path class="r41" d="M3086 702l2 0 5-8 309-204 1-5 3 0"/><path class="r49" d="M3086 711l6-9 0 4 2-16 0 12 5 0 310-225"/><path class="r41" d="M3098 685l2 5 312-216 1 0"/><path class="r25" d="M3062 646l28 23"/><path class="r33" d="M3063 643l1 3 1 0 22 73 326-229"/><path class="r49" d="M3090 711l0 4 16-17 313-208"/><path class="r41" d="M3091 673l1-4 8 42"/><path class="r17" d="M3063 632l2 11"/><path class="r33" d="M3105 711l316-221"/><path class="r49" d="M3108 706l1 5"/><path class="r44" d="M2367 1269"/><path class="r52" d="M2368 1269l1 0 1008-545"/><path class="r36" d="M2994 888"/><path class="r52" d="M3002 888l3 0"/><path class="r44" d="M2370 1269l635-387"/><path class="r20" d="M2020 1388"/><path class="r11" d="M2001 1369l24 0 0 19"/><path class="r19" d="M2039 1388l1-19 41-100"/><path class="r26" d="M1993 1369l37 0 1499-912"/><path class="r3" d="M2083 1269l1 0 2 0"/><path class="r50" d="M2018 1369l859-499"/><path class="r18" d="M2005 1351l0 37 15-19"/><path class="r25" d="M1996 1351l30 18 1038-741"/><path class="r41" d="M1992 1388l1074-756 356-145"/><path class="r42" d="M2011 1388l867-518 663-413"/><path class="r2" d="M2075 1254l5-28"/><path class="r10" d="M2073 1269l7-15 1-14 29 14"/><path class="r18" d="M2016 1388l61-119 2 0 7-43 27 28 2 0"/><path class="r26" d="M2015 1351l7 37 95-134 2 0"/><path class="r25" d="M2011 1388l59-119 3 0 1 0"/><path class="r33" d="M2004 1351l4 18 63-143"/><path class="r17" d="M2074 1254l9-28 981-602"/><path class="r25" d="M2005 1351l1061-723 1 0 2 0"/><path class="r9" d="M3066 643l1-4 1-22"/><path class="r17" d="M3069 632l0 7 1-22 1-7 1 7"/><path class="r10" d="M2081 1269l1 0 39-29"/><path class="r18" d="M2124 1240l2 0 2 14"/><path class="r42" d="M2031 1388l1 0 103-134"/><path class="r34" d="M2137 1254l967-526"/><path class="r32" d="M2068 1254l1304-780"/><path class="r11" d="M2087 1269l4 0"/><path class="r49" d="M3424 482l7 11"/><path class="r33" d="M3067 646l3-14 358-153"/><path class="r25" d="M3070 628l0 18 1-3 0 3 3-7"/><path class="r17" d="M2084 1254l987-622 2 14"/><path class="r50" d="M2878 863l227-135"/><path class="r18" d="M2083 1269l4-15"/><path class="r41" d="M2017 1351l58-82"/><path class="r25" d="M3075 624l1 19"/><path class="r9" d="M3072 604l3 17"/><path class="r17" d="M3075 604l1 31 2-18 0 29"/><path class="r25" d="M3077 632l2-8 0 19 1-22 4 18"/><path class="r42" d="M2086 1269l793-412"/><path class="r17" d="M2081 1269l1000-648 0 25"/><path class="r34" d="M2879 863l1 0 12-6"/><path class="r26" d="M2141 1254l752-391"/><path class="r49" d="M2879 851l1 12 3-17"/><path class="r33" d="M2087 1254l994-622"/><path class="r25" d="M3081 650l1-26 0 11"/><path class="r9" d="M3075 600l1 7"/><path class="r18" d="M2088 1269l55-29"/><path class="r25" d="M2086 1269l54-29 939-633 2 7"/><path class="r41" d="M2866 863l222-246"/><path class="r48" d="M3068 635l11-21"/><path class="r33" d="M3083 646l1 0"/><path class="r25" d="M3085 646l1-3 0 7"/><path class="r33" d="M3086 646l2 4 1 8"/><path class="r17" d="M3083 628l2 7"/><path class="r25" d="M3085 628l8 34"/><path class="r33" d="M3087 632l7 37"/><path class="r41" d="M3085 639l10 23 1 15"/><path class="r33" d="M3087 643l13 19 1 0"/><path class="r25" d="M3087 639l1 0 1 4 13 34"/><path class="r33" d="M3089 639l3-7 10 49"/><path class="r41" d="M3089 646l12 19"/><path class="r33" d="M3091 639l0 4"/><path class="r31" d="M2456 1269"/><path class="r47" d="M2457 1269l4 0"/><path class="r55" d="M2249 1388"/><path class="r27" d="M3550 419"/><path class="r35" d="M2878 888"/><path class="r37" d="M2415 1269"/><path class="r53" d="M2416 1269l1 0"/><path class="r15" d="M2128 1388"/><path class="r14" d="M2111 1388"/><path class="r54" d="M3205 776"/><path class="r45" d="M3193 776l4 0 1 0 42 0 187-91"/><path class="r53" d="M3245 776l9 0 2 0 178-57 4-29 3 29"/><path class="r52" d="M3006 882l263-106 171-82"/><path class="r44" d="M3012 882l2-6 167-100 10 0 4-15 101 15"/><path class="r36" d="M2371 1269l644-393 2 6"/><path class="r52" d="M3021 888l2 0 175-112 5-5 2 20"/><path class="r44" d="M2372 1269l1 0 1 0 655-399 1 18 4-37 172-85 1 10"/><path class="r36" d="M2375 1269l667-423 166-85"/><path class="r52" d="M3045 870l8 12 156-111 14 5"/><path class="r44" d="M2376 1269l1 0 667-441 173-72"/><path class="r52" d="M2378 1269l1 0 1 0 841-518 3 10"/><path class="r36" d="M3048 846l7 30 1 0 183-139"/><path class="r52" d="M3053 840l5-6 3 48 4 0 1-25 1-11 13 0"/><path class="r44" d="M2382 1269l866-527 1-14"/><path class="r52" d="M2383 1269l1 0 3 0 866-541 8 43"/><path class="r36" d="M3090 840l170-112 1 0"/><path class="r44" d="M2388 1269l703-435 172-106 10 9"/><path class="r51" d="M2039 1408l1033-580 21 0 115-52"/><path class="r52" d="M2389 1269l710-441 22 12"/><path class="r50" d="M2893 857l320-81"/><path class="r43" d="M2044 1408l838-520"/><path class="r35" d="M2883 888l1 0 156-25 27 25"/><path class="r19" d="M2047 1388l1503-973"/><path class="r34" d="M2023 1408l16-20 4 0 987-518"/><path class="r35" d="M2051 1388l1503-973 7 2"/><path class="r49" d="M3105 690l451-257"/><path class="r44" d="M2390 1269l734-452"/><path class="r52" d="M2391 1269l1 0 1 0 1 0 750-457 0 16"/><path class="r51" d="M3042 851l12 6 56-45"/><path class="r28" d="M2060 1388l336-119"/><path class="r26" d="M2896 851l649-434"/><path class="r42" d="M2044 1388l855-542 650-429"/><path class="r50" d="M2872 888l30-42"/><path class="r49" d="M2890 846l648-425"/><path class="r42" d="M2874 882l29-42"/><path class="r50" d="M2878 876l0 6 0 6 1 0"/><path class="r34" d="M2906 840l1-6 648-417"/><path class="r42" d="M2909 823l0 11 1 6"/><path class="r41" d="M2894 834l199-188"/><path class="r25" d="M3094 646l445-231"/><path class="r17" d="M3093 639l2 7"/><path class="r41" d="M3095 639l1 0"/><path class="r25" d="M3097 643l1-4 0 11"/><path class="r13" d="M2088 1388"/><path class="r45" d="M2090 1388l1 0 1382-686"/><path class="r52" d="M2397 1269l1052-563 23-29"/><path class="r44" d="M2084 1388l314-119 748-435"/><path class="r46" d="M2206 1388"/><path class="r40" d="M3048 621"/><path class="r2" d="M2083 1240"/><path class="r10" d="M2145 1240"/><path class="r26" d="M2148 1240l1 14 3-14 762-423"/><path class="r18" d="M2087 1240l70 0 1-14"/><path class="r26" d="M2161 1226l2 0 0 14"/><path class="r50" d="M2912 834l4-11"/><path class="r41" d="M2157 1226l941-580"/><path class="r25" d="M2075 1240l70-14 15 0"/><path class="r34" d="M2164 1240l759-428"/><path class="r10" d="M2090 1226l68 28"/><path class="r18" d="M2092 1226l2 14 74-27 2 0"/><path class="r26" d="M2160 1254l2 0 2 0"/><path class="r9" d="M2091 1213l992-609"/><path class="r33" d="M2163 1226l926-616 10 36"/><path class="r40" d="M2074 1240l1000-633"/><path class="r25" d="M2087 1226l12 14"/><path class="r17" d="M2083 1240l18 0 3 0 1 0"/><path class="r48" d="M2087 1226l992-598"/><path class="r10" d="M2099 1226l72-26"/><path class="r18" d="M2166 1254l7-41"/><path class="r25" d="M2108 1240l52-27 14 0"/><path class="r41" d="M2109 1240l991-586"/><path class="r33" d="M2085 1240l25 0 990-582 3-8"/><path class="r40" d="M2080 1240l17 0 59-27"/><path class="r49" d="M3102 662l438-247"/><path class="r41" d="M3103 665l0 4 2-23 0 16"/><path class="r17" d="M2097 1226l4 0"/><path class="r26" d="M2168 1240l0 14"/><path class="r25" d="M2119 1240l1424-825"/><path class="r41" d="M2169 1240l1374-830 1 7"/><path class="r33" d="M2122 1240l984-575 441-248 2 0"/><path class="r38" d="M2445 1269"/><path class="r54" d="M2209 1388l238-119"/><path class="r39" d="M2462 1269"/><path class="r31" d="M2129 1388l338-119"/><path class="r47" d="M2252 1388l216-119 2 0 1 0 1 0 1 0"/><path class="r38" d="M2114 1388l98 0"/><path class="r46" d="M2213 1388l235-119"/><path class="r38" d="M2219 1388l230-119 1 0"/><path class="r54" d="M2223 1388l92 0 137-119"/><path class="r37" d="M2418 1269"/><path class="r53" d="M2419 1269l1058-579"/><path class="r45" d="M2420 1269l1 0 1 0 3 0"/><path class="r29" d="M2097 1388l330-119"/><path class="r52" d="M2086 1388l313-119"/><path class="r36" d="M2089 1388l1189-660"/><path class="r44" d="M2096 1388l306-119 1 0 877-541"/><path class="r52" d="M2405 1269l1 0 1 0 1 0 4 0 1 0 868-541 7 5 6-5 1 0 2 0"/><path class="r43" d="M2885 888"/><path class="r11" d="M2049 1369"/><path class="r19" d="M2054 1351l1511-934"/><path class="r42" d="M2925 806l633-389"/><path class="r34" d="M2060 1333l111-107"/><path class="r25" d="M2060 1333l1488-927"/><path class="r49" d="M3103 673l446-269"/><path class="r17" d="M2123 1240l46-14"/><path class="r26" d="M2035 1369l33-36"/><path class="r25" d="M2124 1240l1435-834"/><path class="r41" d="M2125 1240l983-571"/><path class="r33" d="M2127 1240l1 0 1422-825 10-16"/><path class="r49" d="M3108 673l0 4 4-4"/><path class="r25" d="M2134 1240l3 0 1 0"/><path class="r41" d="M3114 677l448-280"/><path class="r35" d="M2051 1408"/><path class="r27" d="M2052 1388l1515-973"/><path class="r18" d="M2173 1226l1394-814"/><path class="r34" d="M3560 417l1-2 6 2"/><path class="r19" d="M2055 1369l0 19"/><path class="r26" d="M2046 1369l129-129"/><path class="r2" d="M2090 1254"/><path class="r10" d="M2090 1269l5-15 79-54"/><path class="r25" d="M2088 1254l6 0 3 0 1 0 4 0 5 0 63-54 1 26"/><path class="r18" d="M2175 1254l3-67 0 13 2 13"/><path class="r41" d="M2046 1369l127-143 14-26"/><path class="r26" d="M2093 1284l1-15 88-43"/><path class="r17" d="M2087 1269l6 15 82-97"/><path class="r9" d="M2113 1254l976-637"/><path class="r25" d="M2175 1200l10 13 907-596"/><path class="r33" d="M2142 1240l47-27 6 0 894-585"/><path class="r25" d="M2205 1213l889-581 1-4 0 7 1-11 0 11 2-7"/><path class="r17" d="M2175 1213l922-592 3 7"/><path class="r50" d="M2045 1388l49-88"/><path class="r49" d="M2115 1254l1438-837"/><path class="r41" d="M2118 1254l27-14 37-14 1377-814"/><path class="r33" d="M2146 1240l68-27 885-578 462-227"/><path class="r25" d="M2087 1300l5 0 27-46 29-14 3 0 1 0"/><path class="r49" d="M2177 1226l7 0 915-587"/><path class="r41" d="M3103 646l3-7 455-224 3-16"/><path class="r25" d="M2191 1226l4 0 905-594 6 11 1 0"/><path class="r33" d="M2121 1254l33-14"/><path class="r41" d="M2122 1254l33-14 7 0 42-14"/><path class="r49" d="M3107 654l461-253"/><path class="r33" d="M2205 1226l1 0 901-568"/><path class="r25" d="M2124 1254l984-608"/><path class="r17" d="M2125 1254l38-14"/><path class="r25" d="M2126 1254l38-14 1 0"/><path class="r41" d="M2170 1240l37-14 903-561"/><path class="r25" d="M2171 1240l37-14"/><path class="r33" d="M2174 1240l1 0 1 0"/><path class="r41" d="M2177 1240l3 0 1 0 29-14"/><path class="r48" d="M2105 1226l58 14"/><path class="r24" d="M2091 1213"/><path class="r1" d="M3089 597"/><path class="r17" d="M2128 1254l963-657"/><path class="r25" d="M2211 1226l884-636"/><path class="r40" d="M2095 1226l995-639"/><path class="r49" d="M2213 1226l901-557"/><path class="r33" d="M2129 1254l985-592 4 3"/><path class="r41" d="M2130 1254l86-28 903-549"/><path class="r49" d="M2218 1226l901-545 1 4"/><path class="r23" d="M2137 1388"/><path class="r55" d="M2480 1269"/><path class="r22" d="M2119 1388"/><path class="r38" d="M2123 1388l102 0"/><path class="r46" d="M2126 1388l117 0 210-119"/><path class="r54" d="M2256 1388l2 0 5-19 14 0 16 19"/><path class="r45" d="M2107 1388l141-19 180-100"/><path class="r53" d="M2429 1269l1 0 2 0"/><path class="r37" d="M2253 1369l1231-641"/><path class="r38" d="M2127 1388l327-119"/><path class="r29" d="M2109 1388l6 0 1 0"/><path class="r44" d="M2097 1388l1201-664"/><path class="r52" d="M2103 1388l1196-664 1 0 9 4 203-4"/><path class="r36" d="M2104 1388l310-119"/><path class="r44" d="M2416 1269l893-545"/><path class="r52" d="M2417 1269l1 0 892-545"/><path class="r44" d="M2419 1269l900-541"/><path class="r52" d="M2421 1269l1 0 898-541 4 0"/><path class="r43" d="M2058 1388"/><path class="r32" d="M2080 1254"/><path class="r42" d="M2179 1254"/><path class="r26" d="M2047 1388l135-134 0 15"/><path class="r41" d="M2186 1254l4 0 2 0 1 0 26-28"/><path class="r49" d="M2186 1269l3 0 6-15 2 0"/><path class="r25" d="M2132 1254l58 15 34-43"/><path class="r33" d="M2135 1254l1 0 55 15 7-15"/><path class="r41" d="M2193 1269l33-43 1 0"/><path class="r25" d="M2137 1254l3 0 59 0"/><path class="r33" d="M2142 1254l2 0 56 0 28-28"/><path class="r41" d="M2145 1254l2 0 4 0 78-28 1 0 3 0"/><path class="r49" d="M2194 1269l7-15 35-28"/><path class="r41" d="M2195 1269l43-43"/><path class="r25" d="M2152 1254l46 15"/><path class="r41" d="M2154 1254l3 0 1 0 1 0"/><path class="r49" d="M2160 1254l40 15 41-43"/><path class="r41" d="M2202 1269l4 0 2 0 34-43"/><path class="r33" d="M2162 1254l42 0"/><path class="r49" d="M2209 1269l35-43"/><path class="r41" d="M2163 1254l48 15"/><path class="r33" d="M2164 1254l82-28"/><path class="r25" d="M2165 1254l40 0"/><path class="r49" d="M2214 1269l35-43"/><path class="r33" d="M2206 1254l10 15 34-43"/><path class="r49" d="M2217 1269l1 0 34-43 4 0 1 0"/><path class="r41" d="M2169 1254l2 0 36 0 1 0 16 15 35-43"/><path class="r49" d="M2172 1254l38 0 53-28"/><path class="r33" d="M2173 1254l1 0"/><path class="r41" d="M2211 1254l1 0"/><path class="r10" d="M2097 1269"/><path class="r1" d="M3092 600"/><path class="r25" d="M2176 1254l917-647 4-10"/><path class="r41" d="M2088 1269l89-15"/><path class="r49" d="M2178 1254l36 0"/><path class="r17" d="M3094 610l7-20"/><path class="r41" d="M2179 1254l36 0 880-644"/><path class="r33" d="M2180 1254l921-654"/><path class="r17" d="M3095 617l3 4"/><path class="r25" d="M2181 1254l919-633 1 3 4-10"/><path class="r33" d="M3102 628l0 4 6-22 1 4 3-7"/><path class="r25" d="M3104 635l1-11"/><path class="r33" d="M3106 628l1-4"/><path class="r25" d="M3106 632l1 3"/><path class="r33" d="M3107 639l2-11 2 4"/><path class="r41" d="M2182 1254l926-611"/><path class="r25" d="M3111 621l2 11"/><path class="r48" d="M2122 1254"/><path class="r31" d="M2169 1388"/><path class="r39" d="M2482 1269"/><path class="r55" d="M2484 1269l1 0 1 0 2 0"/><path class="r47" d="M2489 1269l2 0"/><path class="r55" d="M2492 1269l1 0"/><path class="r46" d="M2320 1388"/><path class="r45" d="M2433 1269"/><path class="r53" d="M2434 1269l1 0 1074-575"/><path class="r44" d="M2423 1269l902-545"/><path class="r52" d="M3331 728l6 0 6-4 2-9 1-9 0 18 4-9"/><path class="r30" d="M2128 1388"/><path class="r45" d="M2118 1388l318-119"/><path class="r54" d="M2456 1269"/><path class="r28" d="M2105 1388"/><path class="r44" d="M2106 1388l1243-664"/><path class="r52" d="M3350 719l0 5 1 0 2 0 2 4 1-9 3-8 2 13 10-13"/><path class="r19" d="M2060 1388"/><path class="r42" d="M2048 1388"/><path class="r18" d="M2098 1269"/><path class="r49" d="M2216 1254"/><path class="r9" d="M3103 597"/><path class="r17" d="M3109 643"/><path class="r25" d="M3104 593l6 50"/><path class="r17" d="M3107 587l5 52 0 7 1 0"/><path class="r41" d="M3114 628l0 11 1-4 1 4"/><path class="r33" d="M2217 1254l897-611 1 7"/><path class="r9" d="M3108 587l1 10"/><path class="r25" d="M3111 600l3 46 1-14"/><path class="r51" d="M2194 1369"/><path class="r47" d="M2495 1269"/><path class="r55" d="M2497 1269l1 0"/><path class="r36" d="M2426 1269"/><path class="r46" d="M2136 1388"/><path class="r53" d="M2437 1269"/><path class="r45" d="M2438 1269l1 0"/><path class="r53" d="M2440 1269l1 0"/><path class="r38" d="M2457 1269"/><path class="r46" d="M2458 1269l1 0 1 0"/><path class="r54" d="M2461 1269l4 0 1 0 2 0 1 0 1 0"/><path class="r44" d="M3379 724"/><path class="r52" d="M2427 1269l953-571 10 26 6 0"/><path class="r51" d="M3356 724l28 0"/><path class="r35" d="M2061 1388"/><path class="r50" d="M2052 1388"/><path class="r34" d="M2099 1269"/><path class="r41" d="M2221 1254"/><path class="r49" d="M2222 1254l1 0"/><path class="r33" d="M2225 1254l887-654"/><path class="r25" d="M2095 1269l131-15 887-647"/><path class="r17" d="M3115 646l3-46"/><path class="r41" d="M2231 1254l883-640 2 29 1 3"/><path class="r25" d="M3116 650l1-29 2 18 2 0 1-39"/><path class="r33" d="M2232 1254l886-608 2 0"/><path class="r17" d="M3119 614l8-21"/><path class="r33" d="M3120 607l2 7 1 0"/><path class="r41" d="M3118 654l3-11"/><path class="r49" d="M2234 1254l883-626"/><path class="r25" d="M3118 635l4 8 1-39"/><path class="r33" d="M2237 1254l882-592 1-41"/><path class="r41" d="M2238 1254l882-600 2 19 1-38 1 23"/><path class="r49" d="M2241 1254l881-608 0 4 4 23 1-8"/><path class="r41" d="M2242 1254l2 0 881-600 4 11 3 8 3 0"/><path class="r33" d="M3124 646l1 0 1 0"/><path class="r49" d="M2247 1254l880-604 2 0 1 0"/><path class="r17" d="M3125 600l2 0 4 46"/><path class="r25" d="M3123 628l1 11 6-39"/><path class="r41" d="M2252 1254l1 0 873-611"/><path class="r33" d="M3124 632l1-8 8 34"/><path class="r49" d="M2255 1254l4 0 873-608"/><path class="r33" d="M3133 646l3 0 1 0 0 4 3-4"/><path class="r41" d="M3125 635l9 34 6-15"/><path class="r39" d="M2499 1269"/><path class="r55" d="M2501 1269l1 0"/><path class="r22" d="M2140 1388"/><path class="r45" d="M2128 1388l317-119"/><path class="r53" d="M2130 1388l316-119 2 0 2 0"/><path class="r28" d="M2117 1388l1264-711"/><path class="r52" d="M3389 685l11-23"/><path class="r44" d="M3391 685l2-8 9-15"/><path class="r52" d="M3393 711l8-9 5-33"/><path class="r38" d="M2471 1269"/><path class="r54" d="M2143 1388l329-119"/><path class="r45" d="M2136 1388l316-119"/><path class="r53" d="M2453 1269l3 0"/><path class="r36" d="M2429 1269"/><path class="r52" d="M2123 1388l310-119"/><path class="r44" d="M2437 1269l971-592"/><path class="r51" d="M2062 1369l1340-700 4-7 4 3 1-3"/><path class="r52" d="M3413 669l3 0 13 8 2 0 6 0"/><path class="r26" d="M2053 1388l5-37"/><path class="r18" d="M2058 1369l5-18 38-82"/><path class="r32" d="M3124 584"/><path class="r17" d="M3132 600"/><path class="r25" d="M3125 621l8-17"/><path class="r33" d="M3128 624l8 49"/><path class="r41" d="M2061 1388l1067-753 4-45 3 38 11 49"/><path class="r49" d="M3141 665l8 16 3 4"/><path class="r33" d="M3132 639l1 4 5-53"/><path class="r41" d="M3134 635l1 0 8 27"/><path class="r33" d="M3136 643l9 11"/><path class="r25" d="M3139 597l1 46"/><path class="r17" d="M3128 617l13-17 1 0"/><path class="r41" d="M3141 639l0 4 2-4"/><path class="r49" d="M3144 665l6-72"/><path class="r33" d="M3129 617l12 29 6 16 5-62"/><path class="r25" d="M3130 610l2 11 1-11 19-6 4-17"/><path class="r33" d="M3135 624l19-24 0 7 6-17"/><path class="r41" d="M3136 628l1 4 6 14 1-3 2 7"/><path class="r17" d="M3134 610l2-6 19-4"/><path class="r33" d="M3135 610l5 18 1 0 21-31"/><path class="r49" d="M3144 639l1 4 2-11"/><path class="r41" d="M3145 646l2-7 3-4"/><path class="r25" d="M3136 610l25-20"/><path class="r33" d="M3146 646l1 4 17-57 2-6 0 6 1 4 4-10"/><path class="r17" d="M3138 607l1 7 36-21 3 0"/><path class="r33" d="M3141 624l1-10 5 0"/><path class="r41" d="M3147 628l1 18 2-7"/><path class="r25" d="M3157 614l22-24"/><path class="r49" d="M3150 624l3 11"/><path class="r47" d="M2504 1269"/><path class="r38" d="M2151 1388"/><path class="r46" d="M2474 1269"/><path class="r37" d="M2138 1388"/><path class="r35" d="M2067 1369"/><path class="r43" d="M2071 1388l4-37 1 37"/><path class="r34" d="M2061 1369l5-18"/><path class="r41" d="M2054 1351l1104-741"/><path class="r25" d="M2052 1369l1100-741 7-21"/><path class="r33" d="M3153 628l1 7 8-31"/><path class="r41" d="M3154 628l4 7 3-7 9-21"/><path class="r48" d="M3124 643l29-22"/><path class="r19" d="M2078 1369l9-36"/><path class="r26" d="M2069 1333l5 18 1 37"/><path class="r33" d="M2079 1333l1083-701"/><path class="r34" d="M2076 1388l1 0"/><path class="r41" d="M2061 1369l11 19"/><path class="r44" d="M3448 646"/><path class="r51" d="M2088 1351l1363-719"/><path class="r52" d="M3464 635l2-7"/><path class="r10" d="M2102 1269"/><path class="r25" d="M2098 1269l2 0 1064-641"/><path class="r17" d="M3149 646"/><path class="r49" d="M3154 654l6-40"/><path class="r41" d="M3152 643l11-33"/><path class="r49" d="M3153 643l0 3"/><path class="r33" d="M3156 643l9-15"/><path class="r49" d="M3157 639l0 4 0 3"/><path class="r25" d="M3158 639l2 4 2-26"/><path class="r41" d="M3163 614l3 10 1-14 4 7"/><path class="r33" d="M3160 635l0 11 2 8 9-47"/><path class="r49" d="M3162 643l3 22"/><path class="r41" d="M3163 646l9 12 1-51"/><path class="r17" d="M3161 639l12-18"/><path class="r49" d="M3178 662l0 3"/><path class="r33" d="M3162 639l1 0"/><path class="r41" d="M3163 635l0 8"/><path class="r39" d="M2508 1269"/><path class="r30" d="M2154 1388"/><path class="r54" d="M2160 1388l316-119"/><path class="r46" d="M2163 1388l3 0 311-119 1 0"/><path class="r54" d="M2479 1269l1 0 1 0"/><path class="r53" d="M2140 1388l322-119"/><path class="r27" d="M2080 1369"/><path class="r26" d="M2105 1269"/><path class="r18" d="M2107 1269l1 0"/><path class="r25" d="M2102 1269l3 0 1068-659"/><path class="r49" d="M3164 632l10-25"/><path class="r41" d="M3166 632l2-4 1 7"/><path class="r33" d="M2106 1269l1059-623 5-18"/><path class="r49" d="M3172 632l1-8 0 4"/><path class="r41" d="M3167 643l5-8 3-14 0 11"/><path class="r33" d="M3168 646l8-11"/><path class="r49" d="M3171 646l5-3 1-19 1 4 1 0"/><path class="r41" d="M3175 646l14-22"/><path class="r49" d="M3176 646l22-18"/><path class="r55" d="M2509 1269"/><path class="r22" d="M2168 1388"/><path class="r52" d="M2453 1269"/><path class="r46" d="M2483 1269"/><path class="r54" d="M2169 1388l315-119"/><path class="r21" d="M2141 1388"/><path class="r45" d="M2149 1388l1 0 2 0 2 0"/><path class="r36" d="M2128 1388l4 0 4 0"/><path class="r35" d="M2082 1369"/><path class="r42" d="M2079 1351"/><path class="r34" d="M2109 1269"/><path class="r25" d="M3176 607"/><path class="r33" d="M3177 600l1 39"/><path class="r41" d="M3178 614l2 32 3-11 0 11 3 0 1-3"/><path class="r33" d="M3179 607l2 7 10 32 1-7"/><path class="r41" d="M3182 617l1-7 3 11 5 33"/><path class="r49" d="M3192 628l2 7 0 11 3-11"/><path class="r25" d="M3179 600l5 7"/><path class="r41" d="M3180 590l5 20 13 36 1 0"/><path class="r33" d="M3184 590l5 10 1-10 1 0 1 20"/><path class="r49" d="M3193 617l7 29"/><path class="r41" d="M3190 600l1-3 5 20 5 4 1 25"/><path class="r33" d="M3193 593l1 11"/><path class="r47" d="M2512 1269"/><path class="r55" d="M2514 1269l3 0"/><path class="r46" d="M2171 1388"/><path class="r38" d="M2485 1269"/><path class="r54" d="M2487 1269l1 0 1 0 1 0 4 0 6 0"/><path class="r53" d="M2470 1269l5 0"/><path class="r28" d="M2140 1388"/><path class="r19" d="M2083 1369"/><path class="r26" d="M2111 1269"/><path class="r18" d="M2112 1269l2 0"/><path class="r17" d="M3199 632"/><path class="r49" d="M3202 617l0 11"/><path class="r25" d="M3196 597"/><path class="r33" d="M3202 593l1 46 1-49"/><path class="r41" d="M2108 1269l1099-634"/><path class="r49" d="M3196 604l15 31"/><path class="r17" d="M2109 1269l1100-685 9 51"/><path class="r47" d="M2525 1269"/><path class="r55" d="M2529 1269l3 0 3 0 4 0 1 0 13 0 6 0 8 0"/><path class="r47" d="M2575 1254l32 15"/><path class="r54" d="M2508 1269l50-15 25 0 18-41"/><path class="r30" d="M2172 1388l444-188"/><path class="r46" d="M2175 1388l442-213"/><path class="r38" d="M2179 1388l345-119 104-94"/><path class="r46" d="M2526 1269l3 0 106-94 3-12 5 0"/><path class="r53" d="M2516 1269l22-43 12 0"/><path class="r45" d="M2476 1269l146-118"/><path class="r53" d="M2477 1269l8-15 16 15 126-129 8 0"/><path class="r54" d="M2531 1269l138-106"/><path class="r44" d="M2461 1269l9-15"/><path class="r45" d="M2504 1254l13 15"/><path class="r52" d="M2471 1254l2-14"/><path class="r27" d="M2084 1369"/><path class="r35" d="M2084 1388l2-19"/><path class="r27" d="M2088 1369l6 19"/><path class="r50" d="M2078 1388l1 0"/><path class="r26" d="M2115 1269"/><path class="r33" d="M2110 1269l1088-662"/><path class="r18" d="M2118 1269l0 15"/><path class="r9" d="M3210 584"/><path class="r25" d="M3199 607l12-30"/><path class="r41" d="M3209 604l3-30"/><path class="r33" d="M3204 614l6-14"/><path class="r41" d="M3206 610l5 7 4-24"/><path class="r49" d="M3211 610l6 7"/><path class="r33" d="M3222 593l1 4"/><path class="r55" d="M2624 1254"/><path class="r34" d="M2083 1388l560-104"/><path class="r42" d="M2073 1369l15 19"/><path class="r41" d="M2074 1388l1139-778"/><path class="r33" d="M3215 610l3 4"/><path class="r49" d="M3223 610l4 0 2-13"/><path class="r37" d="M2160 1388"/><path class="r53" d="M2162 1388l372-148"/><path class="r30" d="M2182 1388"/><path class="r37" d="M2165 1388l7 0"/><path class="r36" d="M2492 1240"/><path class="r52" d="M2149 1388l353-162 2 28"/><path class="r44" d="M2506 1269l6-29 6-27"/><path class="r52" d="M2513 1254l6-28"/><path class="r36" d="M2159 1388l360-119"/><path class="r44" d="M2160 1388l6 0 353-188 5 40"/><path class="r52" d="M2521 1200l19-13 8 13"/><path class="r28" d="M2546 1269l6-106"/><path class="r43" d="M2089 1351"/><path class="r34" d="M2080 1369l2-18 15 0"/><path class="r27" d="M2094 1333l0 36"/><path class="r19" d="M2098 1369l3-36"/><path class="r34" d="M2086 1369l1-18 2-18 7 0"/><path class="r26" d="M2091 1369l28-100"/><path class="r49" d="M2070 1351l14-18"/><path class="r18" d="M2092 1316l28-47"/><path class="r25" d="M2092 1316l23-47 1100-692"/><path class="r33" d="M3216 587l4 0 17 6"/><path class="r27" d="M2102 1369l3-36"/><path class="r26" d="M2094 1316l29-47"/><path class="r39" d="M2652 1254"/><path class="r41" d="M3231 610"/><path class="r49" d="M3222 574l9 43"/><path class="r33" d="M3224 577l7 30"/><path class="r45" d="M2552 1213"/><path class="r53" d="M2190 1388l371-175 24 0"/><path class="r52" d="M2553 1163"/><path class="r42" d="M2098 1351"/><path class="r43" d="M2096 1388"/><path class="r34" d="M2124 1269"/><path class="r41" d="M2119 1269l1113-648"/><path class="r49" d="M3233 621l2-4"/><path class="r25" d="M3227 584l9 37"/><path class="r33" d="M2122 1269l1109-679"/><path class="r55" d="M2674 1254"/><path class="r54" d="M2592 1240"/><path class="r48" d="M3231 571"/><path class="r19" d="M2528 1226"/><path class="r37" d="M2202 1388"/><path class="r53" d="M2177 1388l30 0"/><path class="r44" d="M2167 1388l26 0 359-188"/><path class="r45" d="M2208 1388l388-213"/><path class="r37" d="M2212 1388l12 0 373-225"/><path class="r36" d="M2196 1388l363-213"/><path class="r44" d="M2200 1388l2 0 370-237"/><path class="r52" d="M2173 1388l30 0 3 0 354-201 13-36 24 0"/><path class="r53" d="M2256 1369l371-218"/><path class="r36" d="M2179 1388l423-225"/><path class="r43" d="M2186 1388l5 0 4-19"/><path class="r35" d="M2098 1388l99-37"/><path class="r27" d="M2099 1369l103-18 334-138"/><path class="r50" d="M2094 1369l2 0 1 0"/><path class="r34" d="M2098 1369l513-100"/><path class="r29" d="M2261 1369l2 0"/><path class="r43" d="M2104 1351l95-18"/><path class="r26" d="M2099 1351l26-82"/><path class="r49" d="M2091 1351l1146-727"/><path class="r18" d="M2127 1269l1 0"/><path class="r34" d="M2131 1269l1 0"/><path class="r46" d="M2634 1226"/><path class="r53" d="M2264 1369l324-143"/><path class="r35" d="M2106 1333l523-93"/><path class="r44" d="M2213 1388"/><path class="r20" d="M2608 1151"/><path class="r51" d="M2101 1388"/><path class="r27" d="M2102 1388l3 0"/><path class="r42" d="M2099 1369l3 0"/><path class="r17" d="M2123 1269"/><path class="r54" d="M2650 1175"/><path class="r37" d="M2267 1369"/><path class="r52" d="M2216 1369l35-18"/><path class="r43" d="M2110 1333"/><path class="r34" d="M2091 1388l7-55"/><path class="r35" d="M2107 1388l8-55"/><path class="r50" d="M2101 1351"/><path class="r44" d="M2608 1129"/><path class="r49" d="M2086 1369"/><path class="r25" d="M2126 1269"/><path class="r48" d="M2114 1269"/><path class="r46" d="M2680 1163"/><path class="r54" d="M2680 1140l7 0"/><path class="r45" d="M2274 1369l375-206"/><path class="r52" d="M2239 1369l20-18 4 0 349-222"/><path class="r36" d="M2220 1369l47-18 354-222"/><path class="r27" d="M2202 1369"/><path class="r18" d="M2102 1316"/><path class="r42" d="M2097 1388"/><path class="r43" d="M2114 1388"/><path class="r35" d="M2114 1369l6 19"/><path class="r19" d="M2116 1333l1 18"/><path class="r43" d="M2119 1333l3 55"/><path class="r26" d="M2112 1351l16-18"/><path class="r19" d="M2125 1316l0 35"/><path class="r27" d="M2126 1369l4-53"/><path class="r35" d="M2123 1388l4-19 4-69"/><path class="r19" d="M2128 1369l4-85 4 32 2-16"/><path class="r43" d="M2129 1351l0 18 1-18 10 0"/><path class="r34" d="M2111 1333l2 18 20-82"/><path class="r18" d="M2115 1316l4-16 10-16"/><path class="r27" d="M2126 1388l7-55 11-33"/><path class="r51" d="M2128 1388l13-37 62 0"/><path class="r43" d="M2130 1369l2 19 5-55 16-33 1 0 50 33 2 0"/><path class="r50" d="M2100 1388l12-55"/><path class="r42" d="M2101 1388l5-19 8-36 1 0 1 0 1 0 11 18"/><path class="r49" d="M2099 1316l0 72 22-37"/><path class="r26" d="M2125 1333l10-64 1 31"/><path class="r34" d="M2110 1369l2 19 6-72 11 17"/><path class="r33" d="M2107 1316l3-16 11 33"/><path class="r25" d="M2106 1333l22-64"/><path class="r51" d="M2133 1388l74-37"/><path class="r27" d="M2136 1388l4-19 68-36"/><path class="r43" d="M2137 1388l4-19 4 0"/><path class="r35" d="M2138 1388l8-19 63-36 2 0 2 0"/><path class="r51" d="M2217 1316l2 0 3 0"/><path class="r42" d="M2112 1369l2 19 107-88"/><path class="r50" d="M2151 1300l65 33"/><path class="r34" d="M2114 1369l4 19 35-88"/><path class="r26" d="M2121 1316l33-16"/><path class="r43" d="M2139 1388l1 0"/><path class="r42" d="M2122 1316l1 53"/><path class="r35" d="M2141 1388l2 0"/><path class="r27" d="M2142 1351l3 37 2-19"/><path class="r26" d="M2126 1369l5-53"/><path class="r42" d="M2136 1316l2 0 0 53"/><path class="r35" d="M2142 1333l7 55"/><path class="r43" d="M2145 1333l1 18 2-18"/><path class="r34" d="M2139 1316l4 0"/><path class="r41" d="M2099 1351l45-35"/><path class="r46" d="M2692 1140"/><path class="r53" d="M2302 1351l349-211"/><path class="r44" d="M2284 1333l13-17 326-198"/><path class="r45" d="M2653 1129l3 0 14 0"/><path class="r52" d="M2228 1388l397-248"/><path class="r54" d="M2703 1140l21 0"/><path class="r44" d="M2626 1118l10 11"/><path class="r45" d="M2681 1129l48 11"/><path class="r52" d="M2640 1118l37-21"/><path class="r51" d="M2650 1107l8 0"/><path class="r28" d="M2268 1333"/><path class="r18" d="M2137 1269"/><path class="r17" d="M2132 1269"/><path class="r25" d="M2133 1269l1 0"/><path class="r33" d="M2101 1369"/><path class="r49" d="M2102 1388"/><path class="r26" d="M2130 1333"/><path class="r42" d="M2137 1333l1-64 2 64"/><path class="r26" d="M2140 1269l1 64"/><path class="r35" d="M2149 1351"/><path class="r41" d="M2132 1351l3-82"/><path class="r43" d="M2212 1369"/><path class="r27" d="M2151 1333l67 18"/><path class="r42" d="M2139 1351l7-35 6 0"/><path class="r34" d="M2144 1269l5 64"/><path class="r35" d="M2155 1351l68 18"/><path class="r43" d="M2226 1333l0 55 2-19 2 19"/><path class="r50" d="M2223 1369l411-240"/><path class="r51" d="M2149 1369l82-18"/><path class="r26" d="M2146 1269l1 15"/><path class="r42" d="M2142 1369l6-100"/><path class="r38" d="M2756 1097"/><path class="r54" d="M2760 1077l2 52"/><path class="r53" d="M2684 1129"/><path class="r45" d="M2694 1118l3 0 3-11 42 33"/><path class="r36" d="M2271 1333"/><path class="r52" d="M2274 1333l438-215"/><path class="r33" d="M2127 1333"/><path class="r49" d="M2129 1333l14-49"/><path class="r25" d="M2136 1269"/><path class="r33" d="M2138 1269l2 0"/><path class="r35" d="M2230 1333"/><path class="r43" d="M2232 1351l4-35"/><path class="r27" d="M2150 1388l86-88"/><path class="r35" d="M2237 1333l2 0"/><path class="r34" d="M2136 1388l92-19"/><path class="r51" d="M2159 1388l79-37"/><path class="r42" d="M2218 1333l10-49 14 85"/><path class="r26" d="M2150 1269l90 15"/><path class="r46" d="M2761 1058"/><path class="r54" d="M2766 1039l10 0 2 0 2 0 2 0"/><path class="r46" d="M2785 1039l4 0 2 0"/><path class="r37" d="M2707 1077"/><path class="r53" d="M2715 1077l9 0"/><path class="r52" d="M2679 1097l3-20"/><path class="r43" d="M2151 1369l515-272"/><path class="r45" d="M2732 1058l3-19"/><path class="r36" d="M2281 1351"/><path class="r44" d="M2285 1351l397-293"/><path class="r25" d="M2145 1269"/><path class="r35" d="M2240 1333"/><path class="r43" d="M2240 1316l4 0 0 35 3-18 4 0 4 0"/><path class="r51" d="M2153 1369l103-36"/><path class="r34" d="M2145 1369l6-100"/><path class="r50" d="M2244 1284"/><path class="r42" d="M2245 1284l4 0 2 0"/><path class="r30" d="M2785 1107"/><path class="r54" d="M2796 1039"/><path class="r46" d="M2797 1039l8 0"/><path class="r53" d="M2740 1039l53-8 57-9"/><path class="r54" d="M2806 1031l3 0 1 0"/><path class="r45" d="M2742 1039l4 0 62-26 4-8 66 17"/><path class="r44" d="M2802 1022l21-17"/><path class="r52" d="M2308 1351"/><path class="r28" d="M2685 1039"/><path class="r35" d="M2154 1369"/><path class="r43" d="M2260 1316"/><path class="r35" d="M2263 1300l3 33"/><path class="r51" d="M2155 1388l112-88"/><path class="r35" d="M2157 1369l113-69"/><path class="r43" d="M2161 1388l110-88"/><path class="r35" d="M2275 1316l1-32"/><path class="r27" d="M2157 1351l124-51"/><path class="r50" d="M2147 1351l108-35 17-16"/><path class="r43" d="M2158 1333l119-64 6 64"/><path class="r27" d="M2160 1316l3 17 2 18"/><path class="r50" d="M2154 1316l3 35 4-18 3 0"/><path class="r35" d="M2159 1369l14-18 106-82"/><path class="r43" d="M2160 1369l6 0 2-69"/><path class="r34" d="M2154 1369l5-18 96-67"/><path class="r51" d="M2162 1388l7 0 113-88"/><path class="r42" d="M2150 1388l4 0 12-55"/><path class="r26" d="M2150 1333l2-64"/><path class="r49" d="M2147 1269l10 64 86-49"/><path class="r19" d="M2172 1316l1-32"/><path class="r43" d="M2163 1369l13-53 112 0"/><path class="r27" d="M2177 1316l103-47"/><path class="r51" d="M2281 1269l1 0 3 0 8 47"/><path class="r43" d="M2299 1300l3 0 2 16"/><path class="r51" d="M2302 1284l7 16 18 16"/><path class="r50" d="M2256 1269l6 15"/><path class="r42" d="M2261 1269l1 0 28 15"/><path class="r50" d="M2263 1269l29 15"/><path class="r53" d="M2747 1039"/><path class="r45" d="M2748 1039l1 0"/><path class="r53" d="M2753 1039l5 0 3 0 2 0"/><path class="r36" d="M2844 1005"/><path class="r44" d="M2686 1039l167-42"/><path class="r52" d="M2855 981l5 0 10-8"/><path class="r35" d="M2167 1369l684-411"/><path class="r43" d="M2170 1388l137-119"/><path class="r51" d="M2171 1369l1 0 2 19 1-19"/><path class="r36" d="M2687 1039l174-26"/><path class="r43" d="M2176 1369l0 19"/><path class="r34" d="M2157 1388l117-134"/><path class="r42" d="M2157 1369l16 19"/><path class="r50" d="M2281 1254l1 0"/><path class="r18" d="M2154 1269"/><path class="r26" d="M2155 1269l2 0 2 0 2 0 103 0"/><path class="r18" d="M2157 1284l6-15"/><path class="r42" d="M2159 1300l6-16 100 0"/><path class="r50" d="M2266 1269l1 0"/><path class="r26" d="M2159 1316l5-47"/><path class="r34" d="M2165 1269l2 0 117-15"/><path class="r42" d="M2166 1284l2-15 100 0"/><path class="r50" d="M2169 1269l0 47 116-62"/><path class="r42" d="M2171 1316l115-62 1 0"/><path class="r49" d="M2147 1316l125-62"/><path class="r26" d="M2170 1269l1 0"/><path class="r25" d="M2149 1269"/><path class="r33" d="M2151 1269l102 0"/><path class="r45" d="M2767 1039"/><path class="r52" d="M2688 1039l74 0 12-17 10 9"/><path class="r36" d="M2691 1039l1 0"/><path class="r35" d="M2308 1269"/><path class="r43" d="M2310 1269l1 0"/><path class="r27" d="M2175 1351"/><path class="r50" d="M2163 1351l125-97"/><path class="r34" d="M2171 1351l99-82 19-15"/><path class="r50" d="M2290 1254l1 0 1 0"/><path class="r35" d="M2177 1351l135-82"/><path class="r43" d="M2177 1369l2-36 1 36"/><path class="r51" d="M2313 1269l542-264"/><path class="r42" d="M2189 1351l82-82"/><path class="r50" d="M2168 1333l104-64"/><path class="r34" d="M2175 1351l2-18 1 0"/><path class="r35" d="M2314 1269l1 0"/><path class="r51" d="M2316 1269l1 0"/><path class="r43" d="M2319 1269l2 0"/><path class="r28" d="M2883 1013"/><path class="r52" d="M2694 1039l193-58 16 16"/><path class="r36" d="M2695 1039l1 0 189 0"/><path class="r44" d="M2697 1039l193-89"/><path class="r52" d="M2698 1039l1 0 202-89 1-28"/><path class="r43" d="M2881 908l0 14"/><path class="r51" d="M2322 1269l563-333"/><path class="r35" d="M2886 888l1 0"/><path class="r27" d="M2179 1316l709-428"/><path class="r42" d="M2173 1316l6 17 4-33 3 16 1 17 6-17 2 0 79-47"/><path class="r50" d="M2174 1316l8 17 11 0 5-17 685-401"/><path class="r42" d="M2177 1316l28 0 3 0"/><path class="r49" d="M2152 1269l29 64"/><path class="r41" d="M2154 1269l105 0"/><path class="r34" d="M2186 1300l89-31"/><path class="r50" d="M2178 1316l45 0 53-47 2 0 1 0 1 0 1 0"/><path class="r42" d="M2193 1300l42 16 47-47 1 0 1 0 1 0"/><path class="r50" d="M2198 1300l1 0 45 16 3 0"/><path class="r34" d="M2202 1300l84-31 2 0"/><path class="r18" d="M2172 1269l7 47"/><path class="r26" d="M2174 1269l119-15"/><path class="r42" d="M2213 1300l81-46 3 0"/><path class="r50" d="M2174 1284l2-15 39 47 75-47 7-29"/><path class="r26" d="M2293 1269l1 0 4-43 6 14"/><path class="r42" d="M2225 1316l69-32 8-30 1-28 1 0 1 14"/><path class="r34" d="M2227 1300l78-74 1 0 1 0"/><path class="r50" d="M2241 1316l54-47 9-15 3-14 1-14 1 0"/><path class="r42" d="M2235 1300l4 0 57-31 10-15 4-28"/><path class="r50" d="M2298 1269l2 0 7-15 3 0 1-28 1 0 2 28"/><path class="r34" d="M2240 1300l63-31 5-29 7-14 1 0 2 0"/><path class="r41" d="M2281 1269l9-15 5-28 1 14"/><path class="r33" d="M2165 1333l14-17 125-103"/><path class="r49" d="M2179 1300l89-31 17 0 23-56"/><path class="r26" d="M2247 1300l63-60 9-14"/><path class="r50" d="M2249 1300l71-74"/><path class="r42" d="M2250 1300l58-31 13-43"/><path class="r53" d="M2777 1039"/><path class="r45" d="M2802 1031l10 8"/><path class="r36" d="M2700 1067"/><path class="r52" d="M2700 1039l77 0"/><path class="r44" d="M2778 1022l7 0"/><path class="r52" d="M2788 1031l11-34 8 42"/><path class="r51" d="M2786 1022l18 9"/><path class="r43" d="M2323 1269"/><path class="r50" d="M2314 1269l4 0 1 0 3-43"/><path class="r51" d="M2324 1269l1 0"/><path class="r42" d="M2324 1226l1 0"/><path class="r35" d="M2889 888"/><path class="r51" d="M2890 888l2 0"/><path class="r34" d="M2311 1240l569-352"/><path class="r50" d="M2311 1254l15-28 558-344"/><path class="r42" d="M2313 1240l2 14 13-28 562-350"/><path class="r50" d="M2314 1240l1 0 1 0 575-364"/><path class="r42" d="M2317 1240l2 0 1 0 2 0"/><path class="r43" d="M2326 1269l567-381"/><path class="r51" d="M2327 1269l567-381 1 0 1 0"/><path class="r34" d="M2316 1254l577-378"/><path class="r50" d="M2317 1254l7-14 1 0"/><path class="r26" d="M2329 1226l564-356"/><path class="r42" d="M2319 1254l566-366"/><path class="r50" d="M2320 1254l10-28 562-344"/><path class="r17" d="M2157 1269"/><path class="r18" d="M2182 1284"/><path class="r41" d="M2319 1213"/><path class="r36" d="M2703 1039"/><path class="r44" d="M2704 1039l98-42"/><path class="r52" d="M2705 1039l103-34"/><path class="r35" d="M2328 1269l486-264"/><path class="r27" d="M2329 1269l501-272"/><path class="r35" d="M2330 1269l1 0"/><path class="r43" d="M2332 1269l565-381"/><path class="r35" d="M2333 1269l1 0 564-381"/><path class="r42" d="M2320 1269l2-15 5 15"/><path class="r50" d="M2325 1254l3 15"/><path class="r34" d="M2326 1240l2 14"/><path class="r50" d="M2327 1240l1 0"/><path class="r42" d="M2329 1240l1 14 0 15"/><path class="r50" d="M2331 1254l1-14 0 14"/><path class="r49" d="M2318 1254l563-384"/><path class="r26" d="M2331 1226"/><path class="r33" d="M2158 1269"/><path class="r44" d="M2709 1039"/><path class="r52" d="M2716 1039l1 0 1 0 1 0 2 0 6 0"/><path class="r43" d="M2343 1284"/><path class="r35" d="M2344 1269l1 0"/><path class="r51" d="M2346 1269l553-381"/><path class="r34" d="M2333 1240"/><path class="r42" d="M2333 1254"/><path class="r50" d="M2334 1240l0 29 1-43 2 28 3 0"/><path class="r49" d="M2159 1269"/><path class="r36" d="M2728 1039"/><path class="r43" d="M2347 1269"/><path class="r35" d="M2900 888"/><path class="r42" d="M2341 1213l552-325"/><path class="r34" d="M2339 1226l9-26"/><path class="r42" d="M2340 1226l10-26 2-13 6 13"/><path class="r50" d="M2343 1226l0 14 3-27"/><path class="r34" d="M2345 1240l10-65 4 0 2 0"/><path class="r42" d="M2345 1226l1 14 2-27 12-26 2-12"/><path class="r49" d="M2349 1175l7-12"/><path class="r25" d="M2160 1269"/><path class="r41" d="M2164 1269l185-82"/><path class="r44" d="M2729 1039"/><path class="r51" d="M2348 1269"/><path class="r43" d="M2350 1269l2 0 1 0 549-381"/><path class="r50" d="M2348 1226"/><path class="r34" d="M2350 1226l1-13 17-38"/><path class="r42" d="M2351 1200l0 40 4-40 15-25"/><path class="r50" d="M2352 1226l3 0 2-13 18-38"/><path class="r33" d="M2165 1269"/><path class="r49" d="M2166 1269l173-56"/><path class="r36" d="M2735 1039"/><path class="r52" d="M2740 1039l4 0 3 0 2 0"/><path class="r51" d="M2354 1269"/><path class="r35" d="M2905 888"/><path class="r43" d="M2355 1269l556-374"/><path class="r26" d="M2370 1163"/><path class="r42" d="M2360 1200l14-49"/><path class="r26" d="M2376 1163l3-12 2 0"/><path class="r25" d="M2168 1269"/><path class="r33" d="M2171 1269l189-106"/><path class="r51" d="M2356 1269"/><path class="r35" d="M2357 1269l554-381"/><path class="r43" d="M2358 1269l554-381 1 0 1 0"/><path class="r51" d="M2361 1269l1 0 2 0 1 0 550-381 2-6"/><path class="r43" d="M2368 1269l549-381 1 0 1 0"/><path class="r35" d="M2920 888l2 0 1 0"/><path class="r50" d="M2342 1269l554-381"/><path class="r34" d="M2366 1200l530-318"/><path class="r42" d="M2344 1254l27-67 1 13 525-330"/><path class="r43" d="M2925 888l1 0"/><path class="r51" d="M2371 1269l556-381 1 0"/><path class="r43" d="M2373 1269l2 0 554-381 1 0"/><path class="r51" d="M2377 1269l2 0 552-381 1-12"/><path class="r35" d="M2380 1269l1-15 552-366 4-12"/><path class="r51" d="M2382 1269l554-381 2 0 1-12 2 12"/><path class="r43" d="M2382 1254l560-366 4-18"/><path class="r50" d="M2351 1254l574-366"/><path class="r34" d="M2352 1254l24-79"/><path class="r42" d="M2353 1240l0 14 27-91"/><path class="r50" d="M2355 1240l0 29 23-94"/><path class="r34" d="M2359 1254l22-91 3 12"/><path class="r26" d="M2356 1226l26-75 0 12 516-300"/><path class="r34" d="M2358 1226l26-63 1 0 521-306"/><path class="r50" d="M2359 1213l3 13 0 14 1-14 545-369"/><path class="r42" d="M2364 1254l16-67 525-317 3-24"/><path class="r50" d="M2368 1240l542-370 1-30 1 0"/><path class="r42" d="M2910 863l1 7 2-30 5 11 4 0"/><path class="r49" d="M2348 1200l28-60"/><path class="r41" d="M2368 1163l523-287"/><path class="r35" d="M2383 1269l558-387"/><path class="r51" d="M2945 888l4-25"/><path class="r43" d="M2383 1254l560-378 3 12"/><path class="r51" d="M2384 1254l561-378 1 0 1-6"/><path class="r50" d="M2914 882l3-12 10 0"/><path class="r43" d="M2386 1254l1 0 2 15"/><path class="r26" d="M2385 1175l529-341"/><path class="r34" d="M2363 1213l554-385"/><path class="r42" d="M2367 1213l1-13 19-25 533-335"/><path class="r50" d="M2365 1226l5 0 17-63 540-317 7 0"/><path class="r51" d="M2388 1254l1 0"/><path class="r35" d="M2390 1254l558-378"/><path class="r51" d="M2391 1254l1 0 2-14 0 14 1-14"/><path class="r43" d="M2398 1254l1-14 551-364"/><path class="r51" d="M2400 1240l0 29 1-29 1 0 548-358 2 6"/><path class="r43" d="M2405 1254l545-384 4 0 2-7"/><path class="r34" d="M2369 1213l16 56 2-118"/><path class="r50" d="M2371 1226l2 0 18-63 1-23"/><path class="r42" d="M2373 1200l4 40 17-100"/><path class="r41" d="M2393 1140l2-11 4 0"/><path class="r26" d="M2921 823l1 5"/><path class="r27" d="M2952 908l4-51"/><path class="r35" d="M2403 1240l566-394 2-6 5 6"/><path class="r43" d="M2406 1240l1-14 546-338 22-60"/><path class="r50" d="M2375 1213l551-379 9 54"/><path class="r42" d="M2377 1200l5 26 543-414"/><path class="r34" d="M2385 1226l9-63 535-335 3-5"/><path class="r49" d="M2360 1200l556-383 4 6"/><path class="r50" d="M2379 1200l9 26 544-386"/><path class="r42" d="M2380 1200l4-13 557-347"/><path class="r50" d="M2382 1200l4-13 0 13 1-13 562-336"/><path class="r33" d="M2370 1187l551-364"/><path class="r51" d="M2406 1254l4-28"/><path class="r35" d="M2407 1254l6-41 543-331"/><path class="r43" d="M2408 1240l1 0 548-352"/><path class="r51" d="M2411 1226l2 0 1 0 1 0 546-344"/><path class="r34" d="M2388 1175l546-347"/><path class="r42" d="M2388 1200l4 26 547-392"/><path class="r43" d="M2415 1213l547-331"/><path class="r50" d="M2389 1175l6 25 22 13"/><path class="r26" d="M2393 1175l533-369"/><path class="r34" d="M2392 1163l535-357 3 6"/><path class="r42" d="M2392 1187l2-12 1-24 536-350"/><path class="r26" d="M2933 806l3-10 0 21 1 6"/><path class="r42" d="M2938 796l1 32 1-37 5 10"/><path class="r34" d="M2394 1187l545-364 1-6 3-36"/><path class="r50" d="M2395 1175l1 12 0 13 1-49 544-317"/><path class="r34" d="M2396 1213l1-26 2-12 1-24"/><path class="r42" d="M2399 1200l2-37 539-351 2 11 11-47"/><path class="r50" d="M2402 1187l540-370 2 11 0 6 1-22"/><path class="r26" d="M2401 1151l545-317 5-38 8-20"/><path class="r50" d="M2404 1151l544-305 5-6 3-6"/><path class="r42" d="M2403 1200l2-49 5-11 556-359"/><path class="r49" d="M2381 1200l3-49 22-22"/><path class="r34" d="M2401 1175l3-12 541-346"/><path class="r50" d="M2404 1175l1-12 1 0 2-12 0 12 2 37 1-49 1-11 537-312"/><path class="r41" d="M2392 1163l2-23 545-364"/><path class="r42" d="M2413 1151l534-339 1 0"/><path class="r26" d="M2413 1140l537-339 16-25"/><path class="r34" d="M2405 1187l546-375 21-36"/><path class="r49" d="M2399 1140l21 0 527-349"/><path class="r50" d="M2407 1175l546-374 4 22"/><path class="r42" d="M2408 1187l2-12 1 12 1-24 2 0 542-362 1 0"/><path class="r34" d="M2411 1200l2-13 1 0 5 0 539-381 5 6 2-11"/><path class="r50" d="M2415 1163l5 24 544-375"/><path class="r42" d="M2415 1151l2 12 552-357 8-10"/><path class="r25" d="M2173 1269l768-493"/><path class="r41" d="M2174 1269l221-82 547-411 1 0 1 0"/><path class="r35" d="M2411 1240l18-27"/><path class="r51" d="M2416 1226l546-338"/><path class="r43" d="M2414 1254l19-54 530-324 3 0"/><path class="r51" d="M2414 1240l1 0 10 29 8 0 11-82 522-299 4-25 0 7 3 6"/><path class="r50" d="M2418 1163l535-300 5 0"/><path class="r43" d="M2447 1175l527-287 3-31"/><path class="r35" d="M2416 1240l562-383 0 19"/><path class="r51" d="M2417 1240l1 0 4 0 555-352 2-42 0 42 1-12"/><path class="r25" d="M2176 1269l778-418"/><path class="r33" d="M2179 1269l232-140"/><path class="r49" d="M2180 1269l1 0 231-140 1 11 533-364"/><path class="r35" d="M2982 857l2 31"/><path class="r43" d="M2419 1226l563-380"/><path class="r51" d="M2422 1226l563-380 0 36 0 6"/><path class="r35" d="M2423 1240l1-14"/><path class="r27" d="M2986 834"/><path class="r43" d="M2986 840l1 6"/><path class="r51" d="M2425 1254l562-403"/><path class="r27" d="M2425 1240l563-412"/><path class="r50" d="M2413 1213l558-390"/><path class="r42" d="M2424 1163l551-351"/><path class="r34" d="M2423 1200l555-394"/><path class="r41" d="M2419 1129l545-312"/><path class="r33" d="M2413 1213l7-84 528-353"/><path class="r43" d="M2426 1226l564-403"/><path class="r35" d="M2428 1226l561-380"/><path class="r51" d="M2429 1240l11-27 3 0 547-350"/><path class="r43" d="M2431 1240l1 0 560-394"/><path class="r51" d="M2432 1226l3 14 6-14 553-386 0 11 0 12 2-29 2 6"/><path class="r43" d="M2437 1254l9-28 1-13"/><path class="r50" d="M2424 1187l1-24 3 63"/><path class="r42" d="M2429 1163l0 12 542-335"/><path class="r34" d="M2418 1213l11-26 1-24"/><path class="r35" d="M2999 834l1-6 6-5"/><path class="r51" d="M2446 1240l1-40 5 13 549-356 8-40"/><path class="r43" d="M2447 1240l4-40 1-13 5 0 549-317 6-47"/><path class="r42" d="M2431 1163l1-12 1 12"/><path class="r35" d="M3007 857l5 19 2-53"/><path class="r41" d="M2421 1140l0 11"/><path class="r49" d="M2951 776l1-5"/><path class="r51" d="M2460 1254l555-426"/><path class="r43" d="M3015 812l1 28"/><path class="r51" d="M3018 823l2 23 3-23"/><path class="r43" d="M3030 823l8 0"/><path class="r26" d="M2980 801"/><path class="r42" d="M2980 812l15-6"/><path class="r50" d="M2430 1200l554-383 12-5"/><path class="r42" d="M2988 828l10-16"/><path class="r50" d="M2991 828l19-22"/><path class="r27" d="M2453 1226"/><path class="r51" d="M2453 1213l9 13 584-398"/><path class="r35" d="M2464 1226l12 14 567-428 5 11"/><path class="r43" d="M2455 1200l2 0 601-404"/><path class="r51" d="M2460 1200l594-372 5-16 1-16 1 16 8 0"/><path class="r35" d="M2463 1187l598-411 2 0"/><path class="r43" d="M2465 1200l599-424 1 0"/><path class="r51" d="M2466 1175l1 12 2-12"/><path class="r34" d="M2436 1163l598-340"/><path class="r35" d="M2468 1200l598-424"/><path class="r51" d="M2469 1213l6-13 592-424"/><path class="r50" d="M2445 1175l614-404"/><path class="r42" d="M3060 766l6 46"/><path class="r49" d="M3027 812l22-41"/><path class="r18" d="M2433 1140"/><path class="r41" d="M2429 1129l524-358"/><path class="r50" d="M2438 1140l627-379"/><path class="r19" d="M2483 1254"/><path class="r27" d="M2479 1187"/><path class="r43" d="M2479 1175l589-399"/><path class="r50" d="M3056 776l6-5"/><path class="r33" d="M2954 771"/><path class="r49" d="M2955 771l3 0"/><path class="r25" d="M2955 776l1 0"/><path class="r42" d="M2440 1140"/><path class="r50" d="M2441 1140l1 0"/><path class="r42" d="M2443 1140l1 0 0 11"/><path class="r41" d="M2430 1140l528-364"/><path class="r49" d="M2959 771l3 0 1 5 2-5 1 5"/><path class="r33" d="M2968 776l1-15 0 5"/><path class="r50" d="M2445 1140l7 0"/><path class="r42" d="M2455 1140l2-11"/><path class="r49" d="M2442 1140l2-11"/><path class="r27" d="M2480 1187"/><path class="r43" d="M2481 1187l1 0 9 13"/><path class="r51" d="M2481 1163l6 12"/><path class="r43" d="M2487 1187l1-24"/><path class="r51" d="M2488 1175l1-24"/><path class="r43" d="M2489 1175l1 0 3 12 1-36"/><path class="r51" d="M2494 1187l1-36 3 0 0 49 2 0"/><path class="r43" d="M2495 1175l3-12"/><path class="r51" d="M2496 1187l3-12 0 12 4-12"/><path class="r35" d="M2501 1151l1 0 568-375"/><path class="r43" d="M2503 1187l568-411"/><path class="r51" d="M2503 1151l3 49"/><path class="r43" d="M2508 1151l0 49 9-13"/><path class="r42" d="M2497 1213l567-437"/><path class="r34" d="M2445 1163"/><path class="r50" d="M2447 1175l1-12 37 0"/><path class="r26" d="M2450 1163l7-23"/><path class="r41" d="M2971 776"/><path class="r35" d="M3072 776"/><path class="r51" d="M2510 1151l563-375"/><path class="r35" d="M2511 1151l563-375"/><path class="r42" d="M2458 1140l608-364"/><path class="r34" d="M2456 1163l612-392"/><path class="r50" d="M2458 1151l1-22 1 0"/><path class="r42" d="M2459 1140l2-11 0 34 609-392"/><path class="r50" d="M2462 1151l2 24 607-399"/><path class="r43" d="M2511 1163l572-377"/><path class="r35" d="M2514 1163l570-387 1 0"/><path class="r43" d="M2515 1175l2-12 2 0 2 12 1 0 2-12 3 0 1 0 558-387"/><path class="r51" d="M2512 1140l575-364 8 25"/><path class="r50" d="M3074 776l3 0 2 0"/><path class="r49" d="M2434 1163"/><path class="r25" d="M2974 776"/><path class="r49" d="M2978 776l1-5 0 5"/><path class="r34" d="M2462 1129"/><path class="r42" d="M2463 1129l1 0 0 22 1-22"/><path class="r50" d="M2465 1163l1-34 1 0"/><path class="r42" d="M2468 1129l1 22"/><path class="r35" d="M2513 1140"/><path class="r27" d="M3091 776"/><path class="r43" d="M2520 1151l572-375"/><path class="r51" d="M2522 1140l1 0 571-364"/><path class="r43" d="M2525 1140l571-364"/><path class="r51" d="M3098 771l0 5"/><path class="r43" d="M3099 776l1 0 1 0"/><path class="r51" d="M3102 776l1 0"/><path class="r43" d="M3104 771l2 5 1 0 1 0 2-5 1 0"/><path class="r51" d="M3111 776l1-5 4 20"/><path class="r35" d="M2527 1140l582-384"/><path class="r43" d="M2528 1140l581-389 4 15"/><path class="r51" d="M2529 1140l0 11 584-375 1 0 1 0"/><path class="r35" d="M2530 1140l3 0 584-364"/><path class="r51" d="M2535 1140l1 0 582-364"/><path class="r43" d="M2531 1163l587-397 1 10"/><path class="r35" d="M2542 1151l578-380 1-20 2 25"/><path class="r51" d="M2544 1140l4 0 572-344 4-20 1 0 1 0 7 5"/><path class="r27" d="M2553 1140l558-403 1 0"/><path class="r43" d="M2553 1129l569-378 4 5 2 15 1-10 12-10"/><path class="r51" d="M2559 1118l0 11 0 11 570-369 5-5 8-15"/><path class="r43" d="M2559 1107l3 0 575-331 1 0"/><path class="r35" d="M2562 1118l564-390 13 48 1 0"/><path class="r27" d="M2562 1129l2-22 1 0 564-379"/><path class="r51" d="M2563 1129l2-11 1-11 0 44 1-22 1-22 1 11 1-11 0 22 1-22 3 33 3-43 564-321 1 0"/><path class="r35" d="M2577 1118l2-11 551-379 2 0"/><path class="r50" d="M2469 1129l96-22 527-356 34 5 10-19"/><path class="r43" d="M2574 1151l4-22 1-11 1 0 562-347"/><path class="r51" d="M2576 1163l8-34 561-353 1-15 3 15"/><path class="r35" d="M2585 1107l7 0 555-341 4 10"/><path class="r42" d="M2470 1118l610-342 26-48"/><path class="r50" d="M2471 1129l2 0 1 0 2-11 0 11 2-22 605-341 24-38 17 48"/><path class="r42" d="M2477 1118l609-342 22-48 1 0"/><path class="r49" d="M2456 1118l627-342 10-48"/><path class="r41" d="M2982 776l115-57"/><path class="r34" d="M2471 1151l661-436"/><path class="r50" d="M2473 1151l3-11 1 0 633-412"/><path class="r42" d="M3112 742l22-27 2 9"/><path class="r50" d="M3138 711l0 4 1 0"/><path class="r43" d="M2587 1129l7-22"/><path class="r51" d="M2588 1129l2 11 8-33 554-331 9-25"/><path class="r35" d="M3162 776l6-39 5 5"/><path class="r43" d="M2593 1129l581-401 2 0"/><path class="r51" d="M3163 766l8 5 6-43 3 0 1 48"/><path class="r42" d="M3140 711l4 60 9 5"/><path class="r50" d="M2589 1097l551-382 11-4"/><path class="r26" d="M2477 1129l95-22"/><path class="r49" d="M2986 771l121-56"/><path class="r34" d="M3113 728l31-26"/><path class="r50" d="M2478 1118l0 22 670-438 4 9"/><path class="r42" d="M2479 1129l2 11 633-412 1 0"/><path class="r49" d="M3110 719l21-17 4-8 11 0"/><path class="r50" d="M2480 1129l2 0 634-401"/><path class="r33" d="M2465 1140l521-364"/><path class="r34" d="M2479 1107l3 33"/><path class="r50" d="M2483 1118l0 22 4 0 1 0 1 0 3 0 4 0"/><path class="r42" d="M2480 1097l1 0 2 0 2 21 2 0 630-390"/><path class="r49" d="M2987 776l3 0 117-52"/><path class="r34" d="M2488 1087l0 20"/><path class="r50" d="M2494 1097l625-369 1 0"/><path class="r42" d="M2490 1118l1 0 630-390"/><path class="r50" d="M2492 1129l3-22 628-379 1 0 1 0 5 0 5 0"/><path class="r41" d="M2481 1129l510-353"/><path class="r26" d="M2492 1077l4 10"/><path class="r42" d="M2495 1129l642-405"/><path class="r50" d="M2496 1129l3-52 7 0"/><path class="r26" d="M2497 1118l9-51"/><path class="r34" d="M3137 728l3-9"/><path class="r50" d="M2497 1129l641-401 1-4 0 4 1-4 1-9 0 13 1-9 0 9 1-17 3-5"/><path class="r42" d="M2498 1107l0 33 9-73 634-343 17-22"/><path class="r50" d="M2501 1107l3 22 4-52 634-353 1-5 0 9 1-4 16-22 0 13 2-21 0 8 1 4 1-4 2-12"/><path class="r42" d="M2508 1140l637-416 2-5 24-38 2 9"/><path class="r50" d="M3147 728l1-4 0 4 3-4 1 0 2 4 1-4 0 4 22-47"/><path class="r49" d="M2496 1129l650-427 22-29"/><path class="r26" d="M2513 1067l3 0"/><path class="r34" d="M2501 1097l19-30"/><path class="r41" d="M2508 1067l645-377"/><path class="r50" d="M2502 1107l24-49"/><path class="r42" d="M2504 1107l1 0 0 11 651-394"/><path class="r50" d="M2508 1118l1-11 0 11 647-390 1 0"/><path class="r33" d="M2501 1107l610-392"/><path class="r49" d="M2494 1087l666-402"/><path class="r41" d="M2513 1058l604-334"/><path class="r42" d="M2510 1129l2-32"/><path class="r50" d="M2511 1118l12 11 2 0"/><path class="r34" d="M2515 1087l644-363"/><path class="r50" d="M3160 728l1-9 1 5"/><path class="r26" d="M2519 1107l6-30"/><path class="r34" d="M2527 1097l3-20 1 0 4-10"/><path class="r50" d="M2524 1118l3-11 9-40"/><path class="r42" d="M2526 1129l8-42 11-29 2 19 617-353"/><path class="r50" d="M2531 1140l12-43 622-378"/><path class="r34" d="M2529 1118l4 0 632-403"/><path class="r42" d="M2535 1118l12-21 618-369"/><path class="r50" d="M2551 1097l4-10 611-381 1 22"/><path class="r34" d="M2535 1129l638-435"/><path class="r42" d="M3168 715l3 9 3-34"/><path class="r50" d="M2537 1129l636-418 0 8 2-13 1 18 2-39"/><path class="r42" d="M2539 1118l9 11 631-448 0 25"/><path class="r50" d="M3179 711l1 0 2-30"/><path class="r26" d="M2548 1049l638-376"/><path class="r49" d="M2540 1058l2-19 581-315"/><path class="r41" d="M2545 1031l605-316"/><path class="r42" d="M2551 1049l635-368"/><path class="r34" d="M2554 1039l641-370"/><path class="r49" d="M2549 1031l1-9 627-341 6-12"/><path class="r41" d="M2550 1039l5-17 1-9 636-336"/><path class="r50" d="M2561 1058l2-27"/><path class="r42" d="M2560 1039l639-370"/><path class="r50" d="M2570 1049l630-387 6 15"/><path class="r42" d="M2570 1039l634-381"/><path class="r34" d="M3207 658l0 15 1-19 4 0 1 8"/><path class="r50" d="M2571 1039l642-370 1 4 1 8 2-8 2 8 1-19"/><path class="r42" d="M2574 1039l3-8 2 0 1 0 640-362"/><path class="r50" d="M2577 1039l1 0 645-370 4 8 2-4"/><path class="r26" d="M2581 1031l0 8 1-8 1 0"/><path class="r49" d="M2561 1022l636-364"/><path class="r41" d="M2559 1039l4-8 1-9"/><path class="r19" d="M2603 1118"/><path class="r35" d="M3182 728"/><path class="r43" d="M2609 1107l574-379"/><path class="r51" d="M2610 1107l10 11 565-390"/><path class="r43" d="M2618 1087l5 20"/><path class="r35" d="M2624 1107l560-360"/><path class="r51" d="M2627 1077l2-10 3 30 554-369"/><path class="r43" d="M2633 1058l10 9 546-339 7 9"/><path class="r50" d="M3177 724l1 4"/><path class="r34" d="M2584 1031l599-307"/><path class="r42" d="M2583 1039l2-8"/><path class="r50" d="M2585 1039l1 0 597-324"/><path class="r42" d="M2586 1031l2 8 1 0 596-315"/><path class="r33" d="M2538 1118"/><path class="r25" d="M2560 1005"/><path class="r49" d="M2562 1005l3 17"/><path class="r18" d="M3214 650"/><path class="r27" d="M2635 1039"/><path class="r43" d="M2636 1039l1 0 2 0 5 19 1-19"/><path class="r51" d="M2661 1067l536-339"/><path class="r43" d="M3198 728l2 0 5 0"/><path class="r51" d="M3209 728l4 5 3-9"/><path class="r35" d="M2647 1039l1 0 570-324"/><path class="r50" d="M2589 1031l600-303"/><path class="r34" d="M2591 1039l594-328"/><path class="r50" d="M2593 1039l1 0 1 0 3 0 588-337 1 22 2-13 3 8 5-4"/><path class="r42" d="M3186 694l32-44"/><path class="r43" d="M3213 728l6-17"/><path class="r51" d="M2649 1039l567-311 2 5 1-5 1-22 4 22 1-4"/><path class="r50" d="M3190 702l8-4 1 26"/><path class="r26" d="M2599 1039l621-385"/><path class="r34" d="M2600 1039l621-393 7 4"/><path class="r50" d="M2601 1039l2 0 2 0 623-381 1 4"/><path class="r49" d="M2596 1031l608-381 16-7"/><path class="r33" d="M3188 724l4 0"/><path class="r35" d="M2650 1039l570-324"/><path class="r43" d="M2651 1039l573-324 1 0 6 13"/><path class="r42" d="M2606 1039l606-315"/><path class="r34" d="M2608 1039l2-8 620-377 3 8"/><path class="r50" d="M2610 1039l3 0 618-393 4 16 2-4 1 19"/><path class="r51" d="M3227 719l4-8"/><path class="r34" d="M2612 1031l620-385"/><path class="r42" d="M2614 1039l603-337 8-4 12-48"/><path class="r50" d="M2613 1022l618-328 9-40"/><path class="r43" d="M3233 715l3-4"/><path class="r35" d="M2652 1039l581-315"/><path class="r51" d="M2653 1039l1 0 579-311"/><path class="r34" d="M2614 1031l3-9"/><path class="r42" d="M2615 1013l3 26 622-389"/><path class="r50" d="M2617 1013l4 26 1 0 1 0 592-315 29-81 4 3"/><path class="r49" d="M3225 643l9 0"/><path class="r35" d="M2655 1039l1 0"/><path class="r43" d="M2657 1039l2 0 577-320"/><path class="r51" d="M2664 1039l3 0 1 0 568-315 1 0"/><path class="r42" d="M2618 1013l0 9"/><path class="r34" d="M2620 1013l629-370"/><path class="r42" d="M2623 1013l626-363 2-15"/><path class="r43" d="M2670 1039l567-324"/><path class="r51" d="M2676 1039l562-315 1 0 1-9"/><path class="r43" d="M3241 728l2-9 0 9"/><path class="r51" d="M3244 724l1 0 0 4 2-4"/><path class="r50" d="M2620 1022l635-390"/><path class="r42" d="M2621 1022l3-9 1 0 2 9 628-387 2-3"/><path class="r50" d="M2622 1031l6-9 630-387"/><path class="r34" d="M2627 1013l1 0 4-8 628-370 3-7"/><path class="r42" d="M2624 1039l2-8 1 0 2-18 4-8 628-366"/><path class="r50" d="M2630 1013l632-374 5-15"/><path class="r34" d="M2629 1031l5-26 1 0 627-362"/><path class="r41" d="M3206 646l43-3"/><path class="r42" d="M3266 635l2-3"/><path class="r50" d="M2629 1022l4 17 648-407 1 0"/><path class="r49" d="M3208 646l6 0"/><path class="r25" d="M2562 1013"/><path class="r35" d="M2679 1039"/><path class="r43" d="M3248 719"/><path class="r51" d="M2680 1031l568-307 1-13 3 8"/><path class="r43" d="M3249 728l2-22"/><path class="r51" d="M3250 728l1 0 1-17 0 13 1-22 1 17 0 5 1-9 2 9 0 4 2-9"/><path class="r43" d="M3255 702l3 22"/><path class="r51" d="M3257 711l1-21 1 34 1-5 1 0 1 5 0 4 1 0 2 0 1-13 3 9 1 0 7 4"/><path class="r43" d="M3260 681l3 17"/><path class="r51" d="M3264 685l2 17 4-29 4-4"/><path class="r50" d="M3233 711l17-42"/><path class="r42" d="M2631 1013l623-348 1 4"/><path class="r50" d="M2636 1005l0 17 623-360"/><path class="r34" d="M2636 997l0 42 598-341"/><path class="r50" d="M2638 997l0 34 2 0 4 0"/><path class="r42" d="M2637 1013l607-315 16-40"/><path class="r34" d="M2639 989l2 16 4 26 616-381"/><path class="r50" d="M2642 997l10 34 3 0 601-325"/><path class="r42" d="M2641 1013l1 0 2-16 3 0 3 0 1 0 611-351 3 12"/><path class="r43" d="M3269 685l8 30"/><path class="r34" d="M2644 1013l11-24"/><path class="r50" d="M3263 724l1-78"/><path class="r49" d="M2631 1013l622-367"/><path class="r51" d="M3275 681l5 47"/><path class="r26" d="M3257 681l10-64"/><path class="r33" d="M2564 1005l692-388"/><path class="r41" d="M2565 1013l1 9"/><path class="r35" d="M2681 1031l598-337"/><path class="r43" d="M2683 1031l4 0 4 0 595-316"/><path class="r51" d="M2692 1022l1 9 1 8 1 0 1 0 595-349 0 21 1-13 2 21 1-17 2-4 4 26"/><path class="r42" d="M2647 1005l620-355 11 78"/><path class="r34" d="M2652 1013l614-370"/><path class="r50" d="M3266 706l2-67 0 7 3-7 1-11 0 15"/><path class="r42" d="M3272 617l1 29 2-29"/><path class="r49" d="M2565 997l4 8"/><path class="r43" d="M2696 1022l597-341"/><path class="r26" d="M2652 1005l628-388"/><path class="r42" d="M3282 607l0 14 5 0 2 0"/><path class="r50" d="M2653 1013l624-370"/><path class="r42" d="M2660 1022l2 0 616-379"/><path class="r35" d="M2698 1022l0 9"/><path class="r51" d="M2699 1022l3-9 0 9"/><path class="r43" d="M2704 1022l1-9 7 0 2 9"/><path class="r51" d="M2705 1031l2 8 11-17 1 9"/><path class="r50" d="M2665 1031l614-385"/><path class="r26" d="M2673 1022l611-418"/><path class="r34" d="M2653 1005l634-408"/><path class="r42" d="M3284 639l4-22"/><path class="r50" d="M2655 1005l638-412"/><path class="r42" d="M2659 997l2 8 638-418"/><path class="r34" d="M2660 989l626-350 14-18"/><path class="r50" d="M2667 1005l619-362 15-50 0 4"/><path class="r49" d="M3277 628l18-51"/><path class="r42" d="M2662 981l0 8"/><path class="r27" d="M3276 669"/><path class="r43" d="M2710 1039l568-370 3 0 3-7 0 3 3-3"/><path class="r51" d="M2713 1031l10 8 566-366 1-15 6 19 1 8"/><path class="r43" d="M2719 1013l3 0 3 0 1 0 572-328 1-23 4-16 0 4 3 12 1-4 0 11"/><path class="r51" d="M2727 1013l571-323 2 0 2 0 1 4 8-17 10-23"/><path class="r50" d="M2663 997l616-316 7-35 17 4"/><path class="r42" d="M2668 989l32 33 569-364"/><path class="r50" d="M2672 997l1-16 2 16 33 34 574-377"/><path class="r42" d="M2674 1005l2-24 611-338"/><path class="r34" d="M2677 973l3 0 1 0"/><path class="r50" d="M2676 997l6-24 0 8 1 0 606-349"/><path class="r42" d="M2677 1005l6-40 0 24 2 0"/><path class="r50" d="M2679 1013l6-32 0 32 4-48"/><path class="r42" d="M2688 989l2-31 0 15"/><path class="r49" d="M2650 981l12 0 17-23"/><path class="r41" d="M2569 989l94-16 10 16"/><path class="r26" d="M2696 958l593-354"/><path class="r34" d="M2688 981l604-371 1-3 1 28"/><path class="r50" d="M2689 981l0 16 2-24 3-23 599-340 5 29"/><path class="r42" d="M2691 981l1 16 2-24 0 24 606-380 3 22"/><path class="r34" d="M2694 1005l2-55 6-7 600-336"/><path class="r50" d="M2695 981l2-23 2 23 3 8 4 16 600-359"/><path class="r42" d="M2697 965l2 0 5 24 8-46 590-343 0 17"/><path class="r49" d="M2571 997l5-8 111 24 602-416 3 3"/><path class="r50" d="M2700 965l1-7 10 39 1 0 595-376"/><path class="r33" d="M2568 1013l120-24"/><path class="r49" d="M2569 1022l1-17 5 8"/><path class="r25" d="M2577 981l691-371"/><path class="r41" d="M2573 997l1 25 7-49"/><path class="r49" d="M2575 1022l1-9 694-403"/><path class="r35" d="M2729 1013l574-311"/><path class="r34" d="M3304 593l3 7"/><path class="r42" d="M2701 973l607-373"/><path class="r33" d="M2574 997l2 25"/><path class="r41" d="M2576 997l1 8 1 8"/><path class="r25" d="M2577 989l10-16"/><path class="r51" d="M2732 1013l575-332"/><path class="r43" d="M2732 1005l2 8 576-311 13-48"/><path class="r51" d="M2734 1022l1-25 0 16 581-298 0 9 2 0 2-30 5-40"/><path class="r43" d="M2735 1005l1 0 0 8 0 18 3-34"/><path class="r51" d="M2737 1022l2-41 0 24 0 8 2-16 5 34"/><path class="r43" d="M2742 997l3-8 1 8 6 42"/><path class="r34" d="M2702 973l2 8"/><path class="r50" d="M2702 958l3 39 605-397"/><path class="r42" d="M2703 950l607-304 1-32"/><path class="r34" d="M3311 597l1 46 2-46"/><path class="r33" d="M2577 997l7 25"/><path class="r49" d="M2581 1005l6 17 1 9 5-9"/><path class="r41" d="M2580 989l3 16 6-32"/><path class="r35" d="M2747 989l570-316"/><path class="r51" d="M2752 1022l18 17 550-370 0 12 4-8 3-4 2-11 1 11"/><path class="r43" d="M2748 997l2-16 580-335 3 31 2-31"/><path class="r51" d="M2749 989l1 16 1-24 4-8 580-292 8-23"/><path class="r50" d="M2706 950l602-285 7-65"/><path class="r42" d="M2707 950l32 72 576-387"/><path class="r49" d="M2582 989l10-8 102-31"/><path class="r43" d="M2753 997l1-16 582-304"/><path class="r51" d="M2756 973l585-300 2 0 1-15 5 36"/><path class="r34" d="M2709 950l607-363 5 13"/><path class="r50" d="M2714 958l609-351 0 36 2-46 4 13 2-13"/><path class="r26" d="M2708 973l7-30"/><path class="r50" d="M2711 973l1 0 7 8 1 0"/><path class="r41" d="M2704 943l11-7 604-356"/><path class="r34" d="M2715 965l3-7 1 7"/><path class="r42" d="M2718 950l3 0 612-366"/><path class="r35" d="M2754 997l591-354"/><path class="r51" d="M2764 1013l12-8 573-366 0 23"/><path class="r50" d="M2724 965l608-330"/><path class="r26" d="M2727 943l0 7"/><path class="r42" d="M2733 950l12 63 10 0"/><path class="r33" d="M2584 997"/><path class="r41" d="M2585 989l1 16 123-55"/><path class="r49" d="M2589 981l2 32 126-55 608-365"/><path class="r33" d="M2593 1013l1-40"/><path class="r49" d="M2596 1013l1-8"/><path class="r41" d="M2593 989l7 16"/><path class="r49" d="M2595 981l7 24 1 8"/><path class="r43" d="M3350 694"/><path class="r51" d="M3365 698l0 4"/><path class="r18" d="M2720 989"/><path class="r50" d="M2721 981l14-45"/><path class="r34" d="M2722 989l2-16 613-396"/><path class="r50" d="M2725 981l2-16 612-391 0 6"/><path class="r42" d="M2733 958l610-397 12 129"/><path class="r34" d="M2728 973l6-8 0 8 611-421"/><path class="r50" d="M2735 965l3-15 0 15"/><path class="r41" d="M2596 973l132-30"/><path class="r49" d="M2602 973l1 8 742-438"/><path class="r25" d="M2608 1005l106-8"/><path class="r33" d="M2603 973l736-421"/><path class="r41" d="M2606 981l12 24 724-444 6-21"/><path class="r49" d="M2607 973l0 16 737-443 1 0"/><path class="r41" d="M2608 981l4-16 734-425 2 6"/><path class="r33" d="M2611 981l738-438"/><path class="r11" d="M2756 989"/><path class="r51" d="M2761 989l11 8"/><path class="r35" d="M2764 981l586-357"/><path class="r43" d="M3351 643l2-26 1 7"/><path class="r42" d="M2747 989l608-434"/><path class="r34" d="M2740 950l618-395"/><path class="r50" d="M2741 950l5-7 2 7 586-304 33-100"/><path class="r51" d="M2768 973l585-327"/><path class="r43" d="M2770 973l1 8 585-342"/><path class="r51" d="M2773 989l3-8 0 16 5-32 0 16 0 16 576-351 1-11"/><path class="r35" d="M2786 958l569-351"/><path class="r51" d="M2787 958l9-8 8 8 553-330"/><path class="r43" d="M2785 981l573-327 7-47 0 10 6 0"/><path class="r51" d="M2790 981l1-8 569-308 1-22"/><path class="r43" d="M2792 981l0 8 573-365 0 22"/><path class="r51" d="M2792 965l575-319 2 0 5-3 1-8 3 0"/><path class="r35" d="M2797 981l8-45 0 14 0 39 566-392"/><path class="r43" d="M3372 665l2-58 1 10 6-10 3-14"/><path class="r51" d="M2806 973l1 24 2-16 0 8 566-339 10 27"/><path class="r50" d="M2752 981l38-16 551-358"/><path class="r42" d="M2794 981l21-31 526-346"/><path class="r41" d="M3353 534l5 131"/><path class="r25" d="M2613 981l744-455"/><path class="r50" d="M2818 950l525-353"/><path class="r18" d="M2748 965"/><path class="r50" d="M2751 958l0 7"/><path class="r42" d="M2752 950l4 8 598-365"/><path class="r50" d="M2759 950l1 0 2-7 2 7 591-370"/><path class="r41" d="M2615 989l728-405 20 3"/><path class="r34" d="M2750 929l16 36"/><path class="r49" d="M2741 936l609-390"/><path class="r41" d="M3351 546l2-9 2 9"/><path class="r49" d="M3356 546l1-12 1 3"/><path class="r33" d="M2614 973l3 16"/><path class="r49" d="M2617 981l2-8 2 16 2 8"/><path class="r41" d="M2614 965l745-431 2 0"/><path class="r26" d="M3360 546"/><path class="r50" d="M2769 973l594-427"/><path class="r49" d="M2617 965l740-419"/><path class="r41" d="M2619 965l1 8 2-15 1 0"/><path class="r33" d="M2623 981l4-31 733-407"/><path class="r25" d="M2625 965l6-15 1 0"/><path class="r41" d="M2626 973l2 8 1-8 732-436 1-3"/><path class="r49" d="M2632 981l733-447 1 0"/><path class="r33" d="M2635 981l4-23"/><path class="r49" d="M2638 981l3-8"/><path class="r35" d="M3384 600"/><path class="r43" d="M3381 643l14-50"/><path class="r35" d="M3382 643l14-39 5-20 5 13"/><path class="r51" d="M3382 646l1-11 2 4 1 7 1 0 3-3 6 3 4 0"/><path class="r50" d="M3376 597l7-10 0 17 2-17"/><path class="r43" d="M3385 628l12-11"/><path class="r51" d="M3387 635l3 4 5-7 5-25"/><path class="r42" d="M2757 922"/><path class="r34" d="M2767 922l602-376"/><path class="r50" d="M3369 624l2-78 1 0"/><path class="r41" d="M2646 950l715-404"/><path class="r42" d="M2770 922l605-376"/><path class="r34" d="M2780 929l597-383"/><path class="r50" d="M2783 929l6 0 592-383"/><path class="r42" d="M2781 943l601-400"/><path class="r50" d="M2788 936l4 14 594-404 1 0"/><path class="r17" d="M2639 989"/><path class="r49" d="M2641 989l2-8 2 0 723-438"/><path class="r41" d="M2777 922l595-379 5-3"/><path class="r33" d="M2646 965"/><path class="r27" d="M3408 564"/><path class="r35" d="M3399 624l19-78"/><path class="r51" d="M3402 617l2 22 0 7 6-3 16-66"/><path class="r43" d="M3406 600l19-54"/><path class="r51" d="M3411 614l0 7 9-11 3-3"/><path class="r42" d="M3412 537l4 6"/><path class="r43" d="M3414 643l9-22"/><path class="r35" d="M3421 658l7-84"/><path class="r51" d="M3423 632l1 0"/><path class="r26" d="M2793 915"/><path class="r34" d="M2805 922l583-379"/><path class="r50" d="M3391 635"/><path class="r27" d="M3427 546"/><path class="r35" d="M3424 614l6-50 4-18 1 0"/><path class="r43" d="M3436 546l6 44"/><path class="r51" d="M3429 617l11 4 6-11"/><path class="r42" d="M3391 543"/><path class="r49" d="M3380 537"/><path class="r33" d="M3386 534l1 3"/><path class="r50" d="M3419 543"/><path class="r27" d="M3436 543"/><path class="r26" d="M3392 546"/><path class="r35" d="M3441 546"/><path class="r34" d="M3394 555"/><path class="r49" d="M3390 540"/><path class="r51" d="M3442 564"/><path class="r50" d="M3394 546"/><path class="r35" d="M3443 546"/><path class="r43" d="M3451 577"/><path class="r51" d="M3454 580l2 7"/><path class="r42" d="M3396 546"/><path class="r27" d="M3444 546"/><path class="r35" d="M3445 546l1 0 1 0 8 0 3 41"/><path class="r43" d="M3456 546l1 0"/><path class="r26" d="M3398 546"/><path class="r42" d="M3401 546l10 3"/><path class="r49" d="M3392 546l8-6 1 6 1 12"/><path class="r50" d="M3413 546l3 0 47 58"/><path class="r51" d="M3469 574"/><path class="r27" d="M3458 546"/><path class="r41" d="M3409 543"/><path class="r34" d="M3418 546"/><path class="r35" d="M3462 546"/><path class="r43" d="M3462 543l5 3 2 0"/><path class="r49" d="M3411 543"/><path class="r50" d="M3421 546"/><path class="r35" d="M3473 546"/><path class="r42" d="M3427 543"/><path class="r33" d="M3415 546"/><path class="r43" d="M3479 555"/><path class="r51" d="M3479 546l3 12"/><path class="r34" d="M3429 543"/><path class="r50" d="M3433 543l1 0 1 0"/><path class="r49" d="M3416 543l3 0"/><path class="r42" d="M3436 546l1-12"/><path class="r50" d="M3438 520l4 23"/><path class="r34" d="M3443 509l4 34 3-17 1 8"/><path class="r50" d="M3451 543l1-6 1-11 11 5"/><path class="r35" d="M3480 540"/><path class="r43" d="M3482 531l1 12 4 3"/><path class="r51" d="M3489 546l13-12"/><path class="r43" d="M3490 543l1 3"/><path class="r49" d="M3429 534"/><path class="r26" d="M3449 506"/><path class="r50" d="M3451 509l5-11"/><path class="r34" d="M3459 501l2-11"/><path class="r42" d="M3459 543l6-53"/><path class="r50" d="M3460 514l1 29"/><path class="r42" d="M3466 512l0 25"/><path class="r50" d="M3469 526l3 11"/><path class="r51" d="M3491 543"/><path class="r43" d="M3493 543l0 3"/><path class="r51" d="M3494 543l1 0"/><path class="r49" d="M3454 490"/><path class="r18" d="M3467 479"/><path class="r42" d="M3468 490l8-21 0 16 6 38"/><path class="r34" d="M3481 479l3-2 5 13"/><path class="r49" d="M3456 485l24-26 11 44"/><path class="r41" d="M3459 490l15-3"/><path class="r35" d="M3496 543"/><path class="r51" d="M3498 546l2 0"/><path class="r50" d="M3484 520"/><path class="r42" d="M3490 487"/><path class="r27" d="M3502 546"/><path class="r43" d="M3503 561l2-15"/><path class="r51" d="M3503 574l2-34"/><path class="r34" d="M3486 526"/><path class="r50" d="M3486 534l4-20 1-35"/><path class="r43" d="M3506 534"/><path class="r26" d="M3493 477"/><path class="r51" d="M3508 543"/><path class="r50" d="M3490 537"/><path class="r34" d="M3499 472"/><path class="r42" d="M3500 490"/><path class="r50" d="M3507 482l2 8"/><path class="r35" d="M3510 537"/><path class="r43" d="M3511 543l7-12"/><path class="r51" d="M3516 543l1 0 1 0"/><path class="r42" d="M3513 474"/><path class="r50" d="M3503 526"/><path class="r35" d="M3521 543"/><path class="r43" d="M3522 543l1-14"/><path class="r51" d="M3524 540l3 6 1-9 0 9"/><path class="r34" d="M3513 485"/><path class="r50" d="M3507 540l16-63"/><path class="r35" d="M3535 517"/><path class="r43" d="M3530 540"/><path class="r51" d="M3531 546l6 0"/><path class="r42" d="M3535 479"/><path class="r35" d="M3533 529"/><path class="r51" d="M3536 540l1 3 2-31"/><path class="r42" d="M3517 523"/><path class="r43" d="M3538 543"/><path class="r51" d="M3539 531l3 0 0 9 4-14 2 17"/><path class="r35" d="M3540 506"/><path class="r51" d="M3545 506"/><path class="r43" d="M3546 514l1 0"/><path class="r42" d="M3536 490"/><path class="r35" d="M3556 490"/><path class="r51" d="M3548 512"/><path class="r35" d="M3550 490l0 27"/><path class="r43" d="M3551 534l3-17"/><path class="r51" d="M3554 512l1 28 0 6"/><path class="r43" d="M3557 512l0 31"/><path class="r51" d="M3562 534l0 3 0 6 3 0 1 0 1-3"/><path class="r50" d="M3539 490"/><path class="r35" d="M3562 512"/><path class="r34" d="M3547 479"/><path class="r51" d="M3565 495"/><path class="r50" d="M3565 506"/><path class="r35" d="M3567 485"/><path class="r34" d="M3553 490"/><path class="r42" d="M3554 474"/></g>
<path d="M1961 5.2v20M1961 1476.1v-20M2187.4 5.2v20M2187.4 1476.1v-20M2413.9 5.2v20M2413.9 1476.1v-20M2640.3 5.2v20M2640.3 1476.1v-20M2866.7 5.2v20M2866.7 1476.1v-20M3093.2 5.2v20M3093.2 1476.1v-20M3319.6 5.2v20M3319.6 1476.1v-20M3546 5.2v20M3546 1476.1v-20M1940.6 107.8h20M3608.1 107.8h-20M1940.6 314.6h20M3608.1 314.6h-20M1940.6 521.4h20M3608.1 521.4h-20M1940.6 728.2h20M3608.1 728.2h-20M1940.6 935h20M3608.1 935h-20M1940.6 1141.8h20M3608.1 1141.8h-20M1940.6 1348.6h20M3608.1 1348.6h-20" stroke="#000" stroke-width="7.3" fill="none"/>
<rect x="1940.6" y="5.2" width="1667.5" height="1470.9" fill="none" stroke="#000" stroke-width="7.3"/>
<g font-family="'Liberation Sans',Arial,Helvetica,sans-serif">
<g font-size="66">
<text x="1961" y="1558.5" text-anchor="middle">316</text>
<text x="2187.4" y="1558.5" text-anchor="middle">562</text>
<text x="2413.9" y="1558.5" text-anchor="middle">1,000</text>
<text x="2640.3" y="1558.5" text-anchor="middle">1,778</text>
<text x="2866.7" y="1558.5" text-anchor="middle">3,162</text>
<text x="3093.2" y="1558.5" text-anchor="middle">5,623</text>
<text x="3319.6" y="1558.5" text-anchor="middle">10,000</text>
<text x="3546" y="1558.5" text-anchor="middle">17,783</text>
<text x="1924" y="129.8" text-anchor="end">4.0</text>
<text x="1924" y="336.6" text-anchor="end">2.5</text>
<text x="1924" y="543.4" text-anchor="end">1.6</text>
<text x="1924" y="750.2" text-anchor="end">1.0</text>
<text x="1924" y="957" text-anchor="end">0.6</text>
<text x="1924" y="1163.8" text-anchor="end">0.4</text>
<text x="1924" y="1370.6" text-anchor="end">0.3</text>
</g>
<g font-size="73.6" text-anchor="middle"><text x="2774.3" y="1645">Diamond price [$USD]</text>
<text transform="translate(1807 738.4) rotate(-90)">Diamond weight [Carat]</text></g>
<rect x="1977.7" y="34.4" width="1072.7" height="340.9" fill="#fff" stroke="#000" stroke-width="6.5"/>
<g font-size="55.3" text-anchor="middle">
<text x="2524" y="101.8" font-weight="bold">Diamond color</text>
<text x="2126" y="154.8">Light color</text><text x="2126" y="219">(worst)</text>
<text x="2912.5" y="148.4">Colorless</text><text x="2911.5" y="213.2">(best)</text>
</g>
<rect x="2061" y="244" width="129.8" height="51.1" fill="#000080" stroke="#000" stroke-width="6.2"/>
<rect x="2190.8" y="244" width="129.8" height="51.1" fill="#0028ff" stroke="#000" stroke-width="6.2"/>
<rect x="2320.6" y="244" width="129.8" height="51.1" fill="#00d4ff" stroke="#000" stroke-width="6.2"/>
<rect x="2450.4" y="244" width="129.8" height="51.1" fill="#7dff7a" stroke="#000" stroke-width="6.2"/>
<rect x="2580.2" y="244" width="129.8" height="51.1" fill="#ffe600" stroke="#000" stroke-width="6.2"/>
<rect x="2710" y="244" width="129.8" height="51.1" fill="#ff4700" stroke="#000" stroke-width="6.2"/>
<rect x="2839.8" y="244" width="129.8" height="51.1" fill="#800000" stroke="#000" stroke-width="6.2"/>
<g font-size="48.6" text-anchor="middle">
<text x="2122.9" y="350.5">J</text>
<text x="2252.7" y="350.5">I</text>
<text x="2382.5" y="350.5">H</text>
<text x="2512.3" y="350.5">G</text>
<text x="2642.1" y="350.5">F</text>
<text x="2771.9" y="350.5">E</text>
<text x="2901.7" y="350.5">D</text>
</g>
<rect x="2832.4" y="1083.7" width="728.2" height="347.2" fill="#fff" stroke="#000" stroke-width="6.5"/>
<g font-size="55.3" text-anchor="middle">
<text x="3207.2" y="1145" font-weight="bold">Diamond clarity</text>
<text x="2949" y="1209.9">Included</text><text x="2950" y="1274.1">(worst)</text>
<text x="3445.6" y="1209.9">Flawless</text><text x="3445" y="1274.1">(best)</text>
</g>
<ellipse cx="2947.4" cy="1320.2" rx="2.3" ry="3.4" fill="#fff" stroke="#000" stroke-width="2.4"/>
<ellipse cx="3050.1" cy="1320.2" rx="7.8" ry="7.8" fill="#fff" stroke="#000" stroke-width="2.4"/>
<ellipse cx="3165.4" cy="1331.1" rx="16.1" ry="16.1" fill="#fff" stroke="#000" stroke-width="2.4"/>
<ellipse cx="3300.7" cy="1329.5" rx="28.1" ry="28.1" fill="#fff" stroke="#000" stroke-width="2.4"/>
<ellipse cx="3449.9" cy="1329.5" rx="35.5" ry="35.5" fill="#fff" stroke="#000" stroke-width="2.4"/>
<g font-size="49" text-anchor="middle">
<text x="2945" y="1409.8">I</text>
<text x="3055.4" y="1409.8">SI</text>
<text x="3163.5" y="1409.8">VS</text>
<text x="3298" y="1409.8">VVS</text>
<text x="3447" y="1409.8">IF</text>
</g></g>
</svg>
</body></html>
